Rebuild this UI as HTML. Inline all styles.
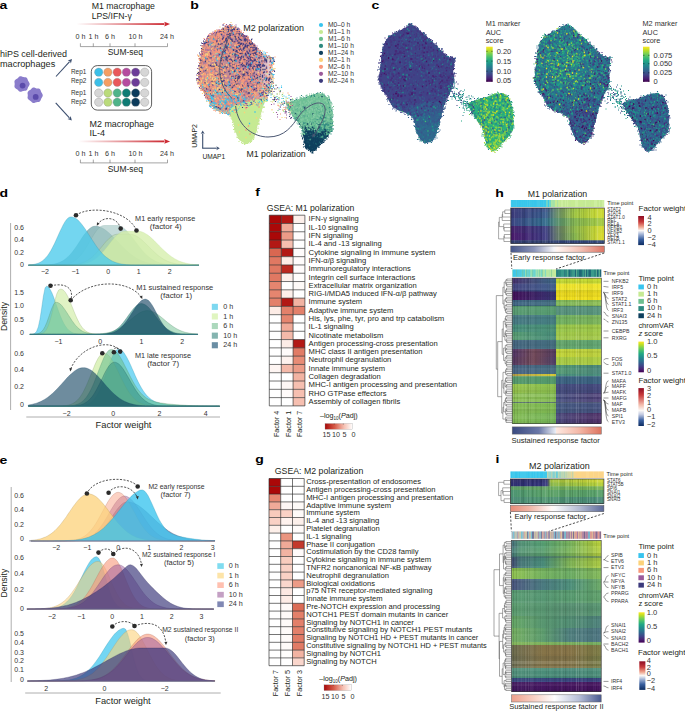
<!DOCTYPE html>
<html><head><meta charset="utf-8"><style>
html,body{margin:0;padding:0;background:#fff;width:685px;height:712px;overflow:hidden}
svg{display:block;font-family:"Liberation Sans",sans-serif}
</style></head><body>
<svg width="685" height="712" viewBox="0 0 685 712" font-family="Liberation Sans, sans-serif" fill="#231f20"><defs><linearGradient id="g1" x1="0" y1="0" x2="1" y2="0"><stop offset="0" stop-color="#cc2a32" stop-opacity="0"/><stop offset=".35" stop-color="#cc2a32" stop-opacity="0.35"/><stop offset="1" stop-color="#cc2a32" stop-opacity="1"/></linearGradient><linearGradient id="g2" x1="0" y1="0" x2="1" y2="0"><stop offset="0" stop-color="#cc2a32" stop-opacity="0"/><stop offset=".35" stop-color="#cc2a32" stop-opacity="0.35"/><stop offset="1" stop-color="#cc2a32" stop-opacity="1"/></linearGradient><linearGradient id="g3" x1="0" y1="0" x2="1" y2="0"><stop offset="0" stop-color="#c48e94" stop-opacity="1"/><stop offset=".72" stop-color="#c48e94" stop-opacity="1"/><stop offset="1" stop-color="#c48e94" stop-opacity="0.25"/></linearGradient><linearGradient id="g4" x1="0" y1="0" x2="0" y2="1"><stop offset="0" stop-color="#7cc49c"/><stop offset=".45" stop-color="#5aa890"/><stop offset=".62" stop-color="#3a8a84"/><stop offset=".75" stop-color="#1e5c70"/><stop offset="1" stop-color="#0e3f5d"/></linearGradient><linearGradient id="g5" x1="0" y1="0" x2="0" y2="1"><stop offset="0" stop-color="#fde724"/><stop offset=".1" stop-color="#bdde26"/><stop offset=".2" stop-color="#79d151"/><stop offset=".3" stop-color="#44be70"/><stop offset=".4" stop-color="#22a784"/><stop offset=".5" stop-color="#20908c"/><stop offset=".6" stop-color="#29788e"/><stop offset=".7" stop-color="#345e8d"/><stop offset=".8" stop-color="#404387"/><stop offset=".9" stop-color="#482374"/><stop offset="1" stop-color="#440154"/></linearGradient><linearGradient id="g6" x1="0" y1="0" x2="0" y2="1"><stop offset="0" stop-color="#fde724"/><stop offset=".1" stop-color="#bdde26"/><stop offset=".2" stop-color="#79d151"/><stop offset=".3" stop-color="#44be70"/><stop offset=".4" stop-color="#22a784"/><stop offset=".5" stop-color="#20908c"/><stop offset=".6" stop-color="#29788e"/><stop offset=".7" stop-color="#345e8d"/><stop offset=".8" stop-color="#404387"/><stop offset=".9" stop-color="#482374"/><stop offset="1" stop-color="#440154"/></linearGradient><linearGradient id="g7" x1="0" y1="0" x2="1" y2="0"><stop offset="0" stop-color="#a50808"/><stop offset=".35" stop-color="#d65a48"/><stop offset=".7" stop-color="#f6c2b4"/><stop offset="1" stop-color="#ffffff"/></linearGradient><linearGradient id="g8" x1="0" y1="0" x2="1" y2="0"><stop offset="0" stop-color="#a50808"/><stop offset=".35" stop-color="#d65a48"/><stop offset=".7" stop-color="#f6c2b4"/><stop offset="1" stop-color="#ffffff"/></linearGradient><linearGradient id="g9" x1="0" y1="0" x2="1" y2="0"><stop offset="0" stop-color="#000" stop-opacity="0.125"/><stop offset=".0104" stop-color="#000" stop-opacity="0.125"/><stop offset=".0105" stop-color="#000" stop-opacity="0.031"/><stop offset=".021" stop-color="#000" stop-opacity="0.031"/><stop offset=".0211" stop-color="#000" stop-opacity="0.007"/><stop offset=".0315" stop-color="#000" stop-opacity="0.007"/><stop offset=".0316" stop-color="#fff" stop-opacity="0.13"/><stop offset=".042" stop-color="#fff" stop-opacity="0.13"/><stop offset=".0421" stop-color="#fff" stop-opacity="0.019"/><stop offset=".0525" stop-color="#fff" stop-opacity="0.019"/><stop offset=".0526" stop-color="#fff" stop-opacity="0.025"/><stop offset=".0631" stop-color="#fff" stop-opacity="0.025"/><stop offset=".0632" stop-color="#fff" stop-opacity="0.006"/><stop offset=".0736" stop-color="#fff" stop-opacity="0.006"/><stop offset=".0737" stop-color="#fff" stop-opacity="0.044"/><stop offset=".0841" stop-color="#fff" stop-opacity="0.044"/><stop offset=".0842" stop-color="#fff" stop-opacity="0.003"/><stop offset=".0946" stop-color="#fff" stop-opacity="0.003"/><stop offset=".0947" stop-color="#fff" stop-opacity="0.033"/><stop offset=".1052" stop-color="#fff" stop-opacity="0.033"/><stop offset=".1053" stop-color="#fff" stop-opacity="0.092"/><stop offset=".1157" stop-color="#fff" stop-opacity="0.092"/><stop offset=".1158" stop-color="#000" stop-opacity="0.062"/><stop offset=".1262" stop-color="#000" stop-opacity="0.062"/><stop offset=".1263" stop-color="#000" stop-opacity="0.062"/><stop offset=".1367" stop-color="#000" stop-opacity="0.062"/><stop offset=".1368" stop-color="#000" stop-opacity="0.12"/><stop offset=".1473" stop-color="#000" stop-opacity="0.12"/><stop offset=".1474" stop-color="#000" stop-opacity="0.004"/><stop offset=".1578" stop-color="#000" stop-opacity="0.004"/><stop offset=".1579" stop-color="#fff" stop-opacity="0.028"/><stop offset=".1683" stop-color="#fff" stop-opacity="0.028"/><stop offset=".1684" stop-color="#fff" stop-opacity="0.038"/><stop offset=".1788" stop-color="#fff" stop-opacity="0.038"/><stop offset=".1789" stop-color="#fff" stop-opacity="0.108"/><stop offset=".1894" stop-color="#fff" stop-opacity="0.108"/><stop offset=".1895" stop-color="#000" stop-opacity="0.069"/><stop offset=".1999" stop-color="#000" stop-opacity="0.069"/><stop offset=".2" stop-color="#fff" stop-opacity="0.077"/><stop offset=".2104" stop-color="#fff" stop-opacity="0.077"/><stop offset=".2105" stop-color="#fff" stop-opacity="0.083"/><stop offset=".221" stop-color="#fff" stop-opacity="0.083"/><stop offset=".2211" stop-color="#fff" stop-opacity="0.014"/><stop offset=".2315" stop-color="#fff" stop-opacity="0.014"/><stop offset=".2316" stop-color="#000" stop-opacity="0.104"/><stop offset=".242" stop-color="#000" stop-opacity="0.104"/><stop offset=".2421" stop-color="#000" stop-opacity="0.017"/><stop offset=".2525" stop-color="#000" stop-opacity="0.017"/><stop offset=".2526" stop-color="#fff" stop-opacity="0.072"/><stop offset=".2631" stop-color="#fff" stop-opacity="0.072"/><stop offset=".2632" stop-color="#fff" stop-opacity="0.05"/><stop offset=".2736" stop-color="#fff" stop-opacity="0.05"/><stop offset=".2737" stop-color="#000" stop-opacity="0.044"/><stop offset=".2841" stop-color="#000" stop-opacity="0.044"/><stop offset=".2842" stop-color="#fff" stop-opacity="0.011"/><stop offset=".2946" stop-color="#fff" stop-opacity="0.011"/><stop offset=".2947" stop-color="#fff" stop-opacity="0.054"/><stop offset=".3052" stop-color="#fff" stop-opacity="0.054"/><stop offset=".3053" stop-color="#fff" stop-opacity="0.016"/><stop offset=".3157" stop-color="#fff" stop-opacity="0.016"/><stop offset=".3158" stop-color="#000" stop-opacity="0.052"/><stop offset=".3262" stop-color="#000" stop-opacity="0.052"/><stop offset=".3263" stop-color="#000" stop-opacity="0.138"/><stop offset=".3367" stop-color="#000" stop-opacity="0.138"/><stop offset=".3368" stop-color="#fff" stop-opacity="0.087"/><stop offset=".3473" stop-color="#fff" stop-opacity="0.087"/><stop offset=".3474" stop-color="#fff" stop-opacity="0.044"/><stop offset=".3578" stop-color="#fff" stop-opacity="0.044"/><stop offset=".3579" stop-color="#fff" stop-opacity="0.056"/><stop offset=".3683" stop-color="#fff" stop-opacity="0.056"/><stop offset=".3684" stop-color="#fff" stop-opacity="0.169"/><stop offset=".3788" stop-color="#fff" stop-opacity="0.169"/><stop offset=".3789" stop-color="#fff" stop-opacity="0.065"/><stop offset=".3894" stop-color="#fff" stop-opacity="0.065"/><stop offset=".3895" stop-color="#fff" stop-opacity="0.072"/><stop offset=".3999" stop-color="#fff" stop-opacity="0.072"/><stop offset=".4" stop-color="#000" stop-opacity="0.079"/><stop offset=".4104" stop-color="#000" stop-opacity="0.079"/><stop offset=".4105" stop-color="#fff" stop-opacity="0.009"/><stop offset=".421" stop-color="#fff" stop-opacity="0.009"/><stop offset=".4211" stop-color="#fff" stop-opacity="0.114"/><stop offset=".4315" stop-color="#fff" stop-opacity="0.114"/><stop offset=".4316" stop-color="#000" stop-opacity="0.045"/><stop offset=".442" stop-color="#000" stop-opacity="0.045"/><stop offset=".4421" stop-color="#fff" stop-opacity="0.025"/><stop offset=".4525" stop-color="#fff" stop-opacity="0.025"/><stop offset=".4526" stop-color="#fff" stop-opacity="0.122"/><stop offset=".4631" stop-color="#fff" stop-opacity="0.122"/><stop offset=".4632" stop-color="#fff" stop-opacity="0.042"/><stop offset=".4736" stop-color="#fff" stop-opacity="0.042"/><stop offset=".4737" stop-color="#fff" stop-opacity="0.041"/><stop offset=".4841" stop-color="#fff" stop-opacity="0.041"/><stop offset=".4842" stop-color="#fff" stop-opacity="0.061"/><stop offset=".4946" stop-color="#fff" stop-opacity="0.061"/><stop offset=".4947" stop-color="#000" stop-opacity="0.002"/><stop offset=".5052" stop-color="#000" stop-opacity="0.002"/><stop offset=".5053" stop-color="#fff" stop-opacity="0.157"/><stop offset=".5157" stop-color="#fff" stop-opacity="0.157"/><stop offset=".5158" stop-color="#fff" stop-opacity="0.019"/><stop offset=".5262" stop-color="#fff" stop-opacity="0.019"/><stop offset=".5263" stop-color="#000" stop-opacity="0.071"/><stop offset=".5367" stop-color="#000" stop-opacity="0.071"/><stop offset=".5368" stop-color="#000" stop-opacity="0.06"/><stop offset=".5473" stop-color="#000" stop-opacity="0.06"/><stop offset=".5474" stop-color="#000" stop-opacity="0.078"/><stop offset=".5578" stop-color="#000" stop-opacity="0.078"/><stop offset=".5579" stop-color="#000" stop-opacity="0.078"/><stop offset=".5683" stop-color="#000" stop-opacity="0.078"/><stop offset=".5684" stop-color="#000" stop-opacity="0.104"/><stop offset=".5788" stop-color="#000" stop-opacity="0.104"/><stop offset=".5789" stop-color="#fff" stop-opacity="0.078"/><stop offset=".5894" stop-color="#fff" stop-opacity="0.078"/><stop offset=".5895" stop-color="#000" stop-opacity="0.059"/><stop offset=".5999" stop-color="#000" stop-opacity="0.059"/><stop offset=".6" stop-color="#fff" stop-opacity="0.13"/><stop offset=".6104" stop-color="#fff" stop-opacity="0.13"/><stop offset=".6105" stop-color="#fff" stop-opacity="0.042"/><stop offset=".621" stop-color="#fff" stop-opacity="0.042"/><stop offset=".6211" stop-color="#fff" stop-opacity="0.134"/><stop offset=".6315" stop-color="#fff" stop-opacity="0.134"/><stop offset=".6316" stop-color="#000" stop-opacity="0.073"/><stop offset=".642" stop-color="#000" stop-opacity="0.073"/><stop offset=".6421" stop-color="#000" stop-opacity="0.093"/><stop offset=".6525" stop-color="#000" stop-opacity="0.093"/><stop offset=".6526" stop-color="#fff" stop-opacity="0.014"/><stop offset=".6631" stop-color="#fff" stop-opacity="0.014"/><stop offset=".6632" stop-color="#000" stop-opacity="0.124"/><stop offset=".6736" stop-color="#000" stop-opacity="0.124"/><stop offset=".6737" stop-color="#fff" stop-opacity="0.047"/><stop offset=".6841" stop-color="#fff" stop-opacity="0.047"/><stop offset=".6842" stop-color="#000" stop-opacity="0.011"/><stop offset=".6946" stop-color="#000" stop-opacity="0.011"/><stop offset=".6947" stop-color="#000" stop-opacity="0.011"/><stop offset=".7052" stop-color="#000" stop-opacity="0.011"/><stop offset=".7053" stop-color="#fff" stop-opacity="0.074"/><stop offset=".7157" stop-color="#fff" stop-opacity="0.074"/><stop offset=".7158" stop-color="#000" stop-opacity="0.031"/><stop offset=".7262" stop-color="#000" stop-opacity="0.031"/><stop offset=".7263" stop-color="#000" stop-opacity="0.136"/><stop offset=".7367" stop-color="#000" stop-opacity="0.136"/><stop offset=".7368" stop-color="#fff" stop-opacity="0.072"/><stop offset=".7473" stop-color="#fff" stop-opacity="0.072"/><stop offset=".7474" stop-color="#000" stop-opacity="0.063"/><stop offset=".7578" stop-color="#000" stop-opacity="0.063"/><stop offset=".7579" stop-color="#fff" stop-opacity="0.011"/><stop offset=".7683" stop-color="#fff" stop-opacity="0.011"/><stop offset=".7684" stop-color="#000" stop-opacity="0.124"/><stop offset=".7788" stop-color="#000" stop-opacity="0.124"/><stop offset=".7789" stop-color="#000" stop-opacity="0.034"/><stop offset=".7894" stop-color="#000" stop-opacity="0.034"/><stop offset=".7895" stop-color="#000" stop-opacity="0.047"/><stop offset=".7999" stop-color="#000" stop-opacity="0.047"/><stop offset=".8" stop-color="#000" stop-opacity="0.045"/><stop offset=".8104" stop-color="#000" stop-opacity="0.045"/><stop offset=".8105" stop-color="#000" stop-opacity="0.017"/><stop offset=".821" stop-color="#000" stop-opacity="0.017"/><stop offset=".8211" stop-color="#fff" stop-opacity="0.098"/><stop offset=".8315" stop-color="#fff" stop-opacity="0.098"/><stop offset=".8316" stop-color="#000" stop-opacity="0.097"/><stop offset=".842" stop-color="#000" stop-opacity="0.097"/><stop offset=".8421" stop-color="#fff" stop-opacity="0.096"/><stop offset=".8525" stop-color="#fff" stop-opacity="0.096"/><stop offset=".8526" stop-color="#000" stop-opacity="0.017"/><stop offset=".8631" stop-color="#000" stop-opacity="0.017"/><stop offset=".8632" stop-color="#000" stop-opacity="0.043"/><stop offset=".8736" stop-color="#000" stop-opacity="0.043"/><stop offset=".8737" stop-color="#fff" stop-opacity="0.059"/><stop offset=".8841" stop-color="#fff" stop-opacity="0.059"/><stop offset=".8842" stop-color="#000" stop-opacity="0.01"/><stop offset=".8946" stop-color="#000" stop-opacity="0.01"/><stop offset=".8947" stop-color="#000" stop-opacity="0.082"/><stop offset=".9052" stop-color="#000" stop-opacity="0.082"/><stop offset=".9053" stop-color="#fff" stop-opacity="0.002"/><stop offset=".9157" stop-color="#fff" stop-opacity="0.002"/><stop offset=".9158" stop-color="#fff" stop-opacity="0.062"/><stop offset=".9262" stop-color="#fff" stop-opacity="0.062"/><stop offset=".9263" stop-color="#fff" stop-opacity="0.204"/><stop offset=".9367" stop-color="#fff" stop-opacity="0.204"/><stop offset=".9368" stop-color="#fff" stop-opacity="0.068"/><stop offset=".9473" stop-color="#fff" stop-opacity="0.068"/><stop offset=".9474" stop-color="#fff" stop-opacity="0.041"/><stop offset=".9578" stop-color="#fff" stop-opacity="0.041"/><stop offset=".9579" stop-color="#fff" stop-opacity="0.036"/><stop offset=".9683" stop-color="#fff" stop-opacity="0.036"/><stop offset=".9684" stop-color="#fff" stop-opacity="0.067"/><stop offset=".9788" stop-color="#fff" stop-opacity="0.067"/><stop offset=".9789" stop-color="#000" stop-opacity="0.026"/><stop offset=".9894" stop-color="#000" stop-opacity="0.026"/><stop offset=".9895" stop-color="#fff" stop-opacity="0.04"/><stop offset=".9999" stop-color="#fff" stop-opacity="0.04"/></linearGradient><linearGradient id="g10" x1="0" y1="0" x2="1" y2="0"><stop offset="0" stop-color="#000" stop-opacity="0.026"/><stop offset=".0104" stop-color="#000" stop-opacity="0.026"/><stop offset=".0105" stop-color="#fff" stop-opacity="0.02"/><stop offset=".021" stop-color="#fff" stop-opacity="0.02"/><stop offset=".0211" stop-color="#000" stop-opacity="0.146"/><stop offset=".0315" stop-color="#000" stop-opacity="0.146"/><stop offset=".0316" stop-color="#fff" stop-opacity="0.015"/><stop offset=".042" stop-color="#fff" stop-opacity="0.015"/><stop offset=".0421" stop-color="#000" stop-opacity="0.007"/><stop offset=".0525" stop-color="#000" stop-opacity="0.007"/><stop offset=".0526" stop-color="#000" stop-opacity="0.095"/><stop offset=".0631" stop-color="#000" stop-opacity="0.095"/><stop offset=".0632" stop-color="#fff" stop-opacity="0.055"/><stop offset=".0736" stop-color="#fff" stop-opacity="0.055"/><stop offset=".0737" stop-color="#fff" stop-opacity="0.035"/><stop offset=".0841" stop-color="#fff" stop-opacity="0.035"/><stop offset=".0842" stop-color="#000" stop-opacity="0.011"/><stop offset=".0946" stop-color="#000" stop-opacity="0.011"/><stop offset=".0947" stop-color="#fff" stop-opacity="0.02"/><stop offset=".1052" stop-color="#fff" stop-opacity="0.02"/><stop offset=".1053" stop-color="#fff" stop-opacity="0.072"/><stop offset=".1157" stop-color="#fff" stop-opacity="0.072"/><stop offset=".1158" stop-color="#fff" stop-opacity="0.012"/><stop offset=".1262" stop-color="#fff" stop-opacity="0.012"/><stop offset=".1263" stop-color="#fff" stop-opacity="0.022"/><stop offset=".1367" stop-color="#fff" stop-opacity="0.022"/><stop offset=".1368" stop-color="#000" stop-opacity="0.036"/><stop offset=".1473" stop-color="#000" stop-opacity="0.036"/><stop offset=".1474" stop-color="#fff" stop-opacity="0.1"/><stop offset=".1578" stop-color="#fff" stop-opacity="0.1"/><stop offset=".1579" stop-color="#fff" stop-opacity="0.042"/><stop offset=".1683" stop-color="#fff" stop-opacity="0.042"/><stop offset=".1684" stop-color="#000" stop-opacity="0.069"/><stop offset=".1788" stop-color="#000" stop-opacity="0.069"/><stop offset=".1789" stop-color="#000" stop-opacity="0.111"/><stop offset=".1894" stop-color="#000" stop-opacity="0.111"/><stop offset=".1895" stop-color="#fff" stop-opacity="0.091"/><stop offset=".1999" stop-color="#fff" stop-opacity="0.091"/><stop offset=".2" stop-color="#000" stop-opacity="0.039"/><stop offset=".2104" stop-color="#000" stop-opacity="0.039"/><stop offset=".2105" stop-color="#fff" stop-opacity="0.059"/><stop offset=".221" stop-color="#fff" stop-opacity="0.059"/><stop offset=".2211" stop-color="#fff" stop-opacity="0.051"/><stop offset=".2315" stop-color="#fff" stop-opacity="0.051"/><stop offset=".2316" stop-color="#fff" stop-opacity="0.052"/><stop offset=".242" stop-color="#fff" stop-opacity="0.052"/><stop offset=".2421" stop-color="#fff" stop-opacity="0.025"/><stop offset=".2525" stop-color="#fff" stop-opacity="0.025"/><stop offset=".2526" stop-color="#000" stop-opacity="0.06"/><stop offset=".2631" stop-color="#000" stop-opacity="0.06"/><stop offset=".2632" stop-color="#000" stop-opacity="0.043"/><stop offset=".2736" stop-color="#000" stop-opacity="0.043"/><stop offset=".2737" stop-color="#000" stop-opacity="0.004"/><stop offset=".2841" stop-color="#000" stop-opacity="0.004"/><stop offset=".2842" stop-color="#fff" stop-opacity="0.022"/><stop offset=".2946" stop-color="#fff" stop-opacity="0.022"/><stop offset=".2947" stop-color="#000" stop-opacity="0.0"/><stop offset=".3052" stop-color="#000" stop-opacity="0.0"/><stop offset=".3053" stop-color="#fff" stop-opacity="0.006"/><stop offset=".3157" stop-color="#fff" stop-opacity="0.006"/><stop offset=".3158" stop-color="#000" stop-opacity="0.048"/><stop offset=".3262" stop-color="#000" stop-opacity="0.048"/><stop offset=".3263" stop-color="#fff" stop-opacity="0.038"/><stop offset=".3367" stop-color="#fff" stop-opacity="0.038"/><stop offset=".3368" stop-color="#fff" stop-opacity="0.0"/><stop offset=".3473" stop-color="#fff" stop-opacity="0.0"/><stop offset=".3474" stop-color="#fff" stop-opacity="0.006"/><stop offset=".3578" stop-color="#fff" stop-opacity="0.006"/><stop offset=".3579" stop-color="#fff" stop-opacity="0.003"/><stop offset=".3683" stop-color="#fff" stop-opacity="0.003"/><stop offset=".3684" stop-color="#000" stop-opacity="0.015"/><stop offset=".3788" stop-color="#000" stop-opacity="0.015"/><stop offset=".3789" stop-color="#000" stop-opacity="0.012"/><stop offset=".3894" stop-color="#000" stop-opacity="0.012"/><stop offset=".3895" stop-color="#000" stop-opacity="0.08"/><stop offset=".3999" stop-color="#000" stop-opacity="0.08"/><stop offset=".4" stop-color="#fff" stop-opacity="0.005"/><stop offset=".4104" stop-color="#fff" stop-opacity="0.005"/><stop offset=".4105" stop-color="#000" stop-opacity="0.094"/><stop offset=".421" stop-color="#000" stop-opacity="0.094"/><stop offset=".4211" stop-color="#fff" stop-opacity="0.018"/><stop offset=".4315" stop-color="#fff" stop-opacity="0.018"/><stop offset=".4316" stop-color="#fff" stop-opacity="0.029"/><stop offset=".442" stop-color="#fff" stop-opacity="0.029"/><stop offset=".4421" stop-color="#000" stop-opacity="0.006"/><stop offset=".4525" stop-color="#000" stop-opacity="0.006"/><stop offset=".4526" stop-color="#000" stop-opacity="0.021"/><stop offset=".4631" stop-color="#000" stop-opacity="0.021"/><stop offset=".4632" stop-color="#000" stop-opacity="0.016"/><stop offset=".4736" stop-color="#000" stop-opacity="0.016"/><stop offset=".4737" stop-color="#000" stop-opacity="0.078"/><stop offset=".4841" stop-color="#000" stop-opacity="0.078"/><stop offset=".4842" stop-color="#000" stop-opacity="0.068"/><stop offset=".4946" stop-color="#000" stop-opacity="0.068"/><stop offset=".4947" stop-color="#000" stop-opacity="0.03"/><stop offset=".5052" stop-color="#000" stop-opacity="0.03"/><stop offset=".5053" stop-color="#fff" stop-opacity="0.02"/><stop offset=".5157" stop-color="#fff" stop-opacity="0.02"/><stop offset=".5158" stop-color="#fff" stop-opacity="0.006"/><stop offset=".5262" stop-color="#fff" stop-opacity="0.006"/><stop offset=".5263" stop-color="#000" stop-opacity="0.085"/><stop offset=".5367" stop-color="#000" stop-opacity="0.085"/><stop offset=".5368" stop-color="#000" stop-opacity="0.013"/><stop offset=".5473" stop-color="#000" stop-opacity="0.013"/><stop offset=".5474" stop-color="#fff" stop-opacity="0.079"/><stop offset=".5578" stop-color="#fff" stop-opacity="0.079"/><stop offset=".5579" stop-color="#fff" stop-opacity="0.041"/><stop offset=".5683" stop-color="#fff" stop-opacity="0.041"/><stop offset=".5684" stop-color="#fff" stop-opacity="0.035"/><stop offset=".5788" stop-color="#fff" stop-opacity="0.035"/><stop offset=".5789" stop-color="#000" stop-opacity="0.069"/><stop offset=".5894" stop-color="#000" stop-opacity="0.069"/><stop offset=".5895" stop-color="#fff" stop-opacity="0.006"/><stop offset=".5999" stop-color="#fff" stop-opacity="0.006"/><stop offset=".6" stop-color="#000" stop-opacity="0.136"/><stop offset=".6104" stop-color="#000" stop-opacity="0.136"/><stop offset=".6105" stop-color="#000" stop-opacity="0.039"/><stop offset=".621" stop-color="#000" stop-opacity="0.039"/><stop offset=".6211" stop-color="#000" stop-opacity="0.007"/><stop offset=".6315" stop-color="#000" stop-opacity="0.007"/><stop offset=".6316" stop-color="#fff" stop-opacity="0.026"/><stop offset=".642" stop-color="#fff" stop-opacity="0.026"/><stop offset=".6421" stop-color="#000" stop-opacity="0.058"/><stop offset=".6525" stop-color="#000" stop-opacity="0.058"/><stop offset=".6526" stop-color="#fff" stop-opacity="0.014"/><stop offset=".6631" stop-color="#fff" stop-opacity="0.014"/><stop offset=".6632" stop-color="#fff" stop-opacity="0.049"/><stop offset=".6736" stop-color="#fff" stop-opacity="0.049"/><stop offset=".6737" stop-color="#000" stop-opacity="0.034"/><stop offset=".6841" stop-color="#000" stop-opacity="0.034"/><stop offset=".6842" stop-color="#000" stop-opacity="0.001"/><stop offset=".6946" stop-color="#000" stop-opacity="0.001"/><stop offset=".6947" stop-color="#000" stop-opacity="0.071"/><stop offset=".7052" stop-color="#000" stop-opacity="0.071"/><stop offset=".7053" stop-color="#fff" stop-opacity="0.004"/><stop offset=".7157" stop-color="#fff" stop-opacity="0.004"/><stop offset=".7158" stop-color="#fff" stop-opacity="0.172"/><stop offset=".7262" stop-color="#fff" stop-opacity="0.172"/><stop offset=".7263" stop-color="#000" stop-opacity="0.047"/><stop offset=".7367" stop-color="#000" stop-opacity="0.047"/><stop offset=".7368" stop-color="#fff" stop-opacity="0.113"/><stop offset=".7473" stop-color="#fff" stop-opacity="0.113"/><stop offset=".7474" stop-color="#000" stop-opacity="0.092"/><stop offset=".7578" stop-color="#000" stop-opacity="0.092"/><stop offset=".7579" stop-color="#000" stop-opacity="0.109"/><stop offset=".7683" stop-color="#000" stop-opacity="0.109"/><stop offset=".7684" stop-color="#fff" stop-opacity="0.026"/><stop offset=".7788" stop-color="#fff" stop-opacity="0.026"/><stop offset=".7789" stop-color="#fff" stop-opacity="0.07"/><stop offset=".7894" stop-color="#fff" stop-opacity="0.07"/><stop offset=".7895" stop-color="#fff" stop-opacity="0.084"/><stop offset=".7999" stop-color="#fff" stop-opacity="0.084"/><stop offset=".8" stop-color="#000" stop-opacity="0.052"/><stop offset=".8104" stop-color="#000" stop-opacity="0.052"/><stop offset=".8105" stop-color="#fff" stop-opacity="0.012"/><stop offset=".821" stop-color="#fff" stop-opacity="0.012"/><stop offset=".8211" stop-color="#fff" stop-opacity="0.036"/><stop offset=".8315" stop-color="#fff" stop-opacity="0.036"/><stop offset=".8316" stop-color="#fff" stop-opacity="0.015"/><stop offset=".842" stop-color="#fff" stop-opacity="0.015"/><stop offset=".8421" stop-color="#000" stop-opacity="0.125"/><stop offset=".8525" stop-color="#000" stop-opacity="0.125"/><stop offset=".8526" stop-color="#000" stop-opacity="0.021"/><stop offset=".8631" stop-color="#000" stop-opacity="0.021"/><stop offset=".8632" stop-color="#000" stop-opacity="0.045"/><stop offset=".8736" stop-color="#000" stop-opacity="0.045"/><stop offset=".8737" stop-color="#000" stop-opacity="0.047"/><stop offset=".8841" stop-color="#000" stop-opacity="0.047"/><stop offset=".8842" stop-color="#000" stop-opacity="0.061"/><stop offset=".8946" stop-color="#000" stop-opacity="0.061"/><stop offset=".8947" stop-color="#000" stop-opacity="0.064"/><stop offset=".9052" stop-color="#000" stop-opacity="0.064"/><stop offset=".9053" stop-color="#fff" stop-opacity="0.043"/><stop offset=".9157" stop-color="#fff" stop-opacity="0.043"/><stop offset=".9158" stop-color="#fff" stop-opacity="0.013"/><stop offset=".9262" stop-color="#fff" stop-opacity="0.013"/><stop offset=".9263" stop-color="#fff" stop-opacity="0.046"/><stop offset=".9367" stop-color="#fff" stop-opacity="0.046"/><stop offset=".9368" stop-color="#fff" stop-opacity="0.043"/><stop offset=".9473" stop-color="#fff" stop-opacity="0.043"/><stop offset=".9474" stop-color="#000" stop-opacity="0.068"/><stop offset=".9578" stop-color="#000" stop-opacity="0.068"/><stop offset=".9579" stop-color="#fff" stop-opacity="0.03"/><stop offset=".9683" stop-color="#fff" stop-opacity="0.03"/><stop offset=".9684" stop-color="#fff" stop-opacity="0.005"/><stop offset=".9788" stop-color="#fff" stop-opacity="0.005"/><stop offset=".9789" stop-color="#fff" stop-opacity="0.042"/><stop offset=".9894" stop-color="#fff" stop-opacity="0.042"/><stop offset=".9895" stop-color="#fff" stop-opacity="0.036"/><stop offset=".9999" stop-color="#fff" stop-opacity="0.036"/></linearGradient><linearGradient id="g11" x1="0" y1="0" x2="0" y2="1"><stop offset="0" stop-color="#000" stop-opacity="0.003"/><stop offset=".0166" stop-color="#000" stop-opacity="0.003"/><stop offset=".0167" stop-color="#000" stop-opacity="0.038"/><stop offset=".0332" stop-color="#000" stop-opacity="0.038"/><stop offset=".0333" stop-color="#fff" stop-opacity="0.068"/><stop offset=".0499" stop-color="#fff" stop-opacity="0.068"/><stop offset=".05" stop-color="#fff" stop-opacity="0.049"/><stop offset=".0666" stop-color="#fff" stop-opacity="0.049"/><stop offset=".0667" stop-color="#fff" stop-opacity="0.08"/><stop offset=".0832" stop-color="#fff" stop-opacity="0.08"/><stop offset=".0833" stop-color="#000" stop-opacity="0.084"/><stop offset=".0999" stop-color="#000" stop-opacity="0.084"/><stop offset=".1" stop-color="#000" stop-opacity="0.06"/><stop offset=".1166" stop-color="#000" stop-opacity="0.06"/><stop offset=".1167" stop-color="#000" stop-opacity="0.077"/><stop offset=".1332" stop-color="#000" stop-opacity="0.077"/><stop offset=".1333" stop-color="#000" stop-opacity="0.028"/><stop offset=".1499" stop-color="#000" stop-opacity="0.028"/><stop offset=".15" stop-color="#000" stop-opacity="0.034"/><stop offset=".1666" stop-color="#000" stop-opacity="0.034"/><stop offset=".1667" stop-color="#fff" stop-opacity="0.041"/><stop offset=".1832" stop-color="#fff" stop-opacity="0.041"/><stop offset=".1833" stop-color="#000" stop-opacity="0.067"/><stop offset=".1999" stop-color="#000" stop-opacity="0.067"/><stop offset=".2" stop-color="#fff" stop-opacity="0.039"/><stop offset=".2166" stop-color="#fff" stop-opacity="0.039"/><stop offset=".2167" stop-color="#fff" stop-opacity="0.023"/><stop offset=".2332" stop-color="#fff" stop-opacity="0.023"/><stop offset=".2333" stop-color="#fff" stop-opacity="0.013"/><stop offset=".2499" stop-color="#fff" stop-opacity="0.013"/><stop offset=".25" stop-color="#fff" stop-opacity="0.028"/><stop offset=".2666" stop-color="#fff" stop-opacity="0.028"/><stop offset=".2667" stop-color="#000" stop-opacity="0.03"/><stop offset=".2832" stop-color="#000" stop-opacity="0.03"/><stop offset=".2833" stop-color="#fff" stop-opacity="0.008"/><stop offset=".2999" stop-color="#fff" stop-opacity="0.008"/><stop offset=".3" stop-color="#fff" stop-opacity="0.002"/><stop offset=".3166" stop-color="#fff" stop-opacity="0.002"/><stop offset=".3167" stop-color="#fff" stop-opacity="0.007"/><stop offset=".3332" stop-color="#fff" stop-opacity="0.007"/><stop offset=".3333" stop-color="#000" stop-opacity="0.047"/><stop offset=".3499" stop-color="#000" stop-opacity="0.047"/><stop offset=".35" stop-color="#fff" stop-opacity="0.021"/><stop offset=".3666" stop-color="#fff" stop-opacity="0.021"/><stop offset=".3667" stop-color="#fff" stop-opacity="0.006"/><stop offset=".3832" stop-color="#fff" stop-opacity="0.006"/><stop offset=".3833" stop-color="#000" stop-opacity="0.015"/><stop offset=".3999" stop-color="#000" stop-opacity="0.015"/><stop offset=".4" stop-color="#fff" stop-opacity="0.058"/><stop offset=".4166" stop-color="#fff" stop-opacity="0.058"/><stop offset=".4167" stop-color="#fff" stop-opacity="0.017"/><stop offset=".4332" stop-color="#fff" stop-opacity="0.017"/><stop offset=".4333" stop-color="#000" stop-opacity="0.019"/><stop offset=".4499" stop-color="#000" stop-opacity="0.019"/><stop offset=".45" stop-color="#000" stop-opacity="0.041"/><stop offset=".4666" stop-color="#000" stop-opacity="0.041"/><stop offset=".4667" stop-color="#000" stop-opacity="0.006"/><stop offset=".4832" stop-color="#000" stop-opacity="0.006"/><stop offset=".4833" stop-color="#fff" stop-opacity="0.024"/><stop offset=".4999" stop-color="#fff" stop-opacity="0.024"/><stop offset=".5" stop-color="#000" stop-opacity="0.05"/><stop offset=".5166" stop-color="#000" stop-opacity="0.05"/><stop offset=".5167" stop-color="#fff" stop-opacity="0.008"/><stop offset=".5332" stop-color="#fff" stop-opacity="0.008"/><stop offset=".5333" stop-color="#000" stop-opacity="0.001"/><stop offset=".5499" stop-color="#000" stop-opacity="0.001"/><stop offset=".55" stop-color="#000" stop-opacity="0.006"/><stop offset=".5666" stop-color="#000" stop-opacity="0.006"/><stop offset=".5667" stop-color="#fff" stop-opacity="0.002"/><stop offset=".5832" stop-color="#fff" stop-opacity="0.002"/><stop offset=".5833" stop-color="#fff" stop-opacity="0.019"/><stop offset=".5999" stop-color="#fff" stop-opacity="0.019"/><stop offset=".6" stop-color="#000" stop-opacity="0.017"/><stop offset=".6166" stop-color="#000" stop-opacity="0.017"/><stop offset=".6167" stop-color="#fff" stop-opacity="0.041"/><stop offset=".6332" stop-color="#fff" stop-opacity="0.041"/><stop offset=".6333" stop-color="#fff" stop-opacity="0.018"/><stop offset=".6499" stop-color="#fff" stop-opacity="0.018"/><stop offset=".65" stop-color="#fff" stop-opacity="0.014"/><stop offset=".6666" stop-color="#fff" stop-opacity="0.014"/><stop offset=".6667" stop-color="#fff" stop-opacity="0.033"/><stop offset=".6832" stop-color="#fff" stop-opacity="0.033"/><stop offset=".6833" stop-color="#000" stop-opacity="0.003"/><stop offset=".6999" stop-color="#000" stop-opacity="0.003"/><stop offset=".7" stop-color="#000" stop-opacity="0.005"/><stop offset=".7166" stop-color="#000" stop-opacity="0.005"/><stop offset=".7167" stop-color="#000" stop-opacity="0.003"/><stop offset=".7332" stop-color="#000" stop-opacity="0.003"/><stop offset=".7333" stop-color="#fff" stop-opacity="0.005"/><stop offset=".7499" stop-color="#fff" stop-opacity="0.005"/><stop offset=".75" stop-color="#000" stop-opacity="0.019"/><stop offset=".7666" stop-color="#000" stop-opacity="0.019"/><stop offset=".7667" stop-color="#000" stop-opacity="0.06"/><stop offset=".7832" stop-color="#000" stop-opacity="0.06"/><stop offset=".7833" stop-color="#000" stop-opacity="0.035"/><stop offset=".7999" stop-color="#000" stop-opacity="0.035"/><stop offset=".8" stop-color="#fff" stop-opacity="0.11"/><stop offset=".8166" stop-color="#fff" stop-opacity="0.11"/><stop offset=".8167" stop-color="#000" stop-opacity="0.04"/><stop offset=".8332" stop-color="#000" stop-opacity="0.04"/><stop offset=".8333" stop-color="#fff" stop-opacity="0.065"/><stop offset=".8499" stop-color="#fff" stop-opacity="0.065"/><stop offset=".85" stop-color="#fff" stop-opacity="0.062"/><stop offset=".8666" stop-color="#fff" stop-opacity="0.062"/><stop offset=".8667" stop-color="#000" stop-opacity="0.004"/><stop offset=".8832" stop-color="#000" stop-opacity="0.004"/><stop offset=".8833" stop-color="#fff" stop-opacity="0.047"/><stop offset=".8999" stop-color="#fff" stop-opacity="0.047"/><stop offset=".9" stop-color="#000" stop-opacity="0.054"/><stop offset=".9166" stop-color="#000" stop-opacity="0.054"/><stop offset=".9167" stop-color="#000" stop-opacity="0.024"/><stop offset=".9332" stop-color="#000" stop-opacity="0.024"/><stop offset=".9333" stop-color="#fff" stop-opacity="0.028"/><stop offset=".9499" stop-color="#fff" stop-opacity="0.028"/><stop offset=".95" stop-color="#fff" stop-opacity="0.058"/><stop offset=".9666" stop-color="#fff" stop-opacity="0.058"/><stop offset=".9667" stop-color="#000" stop-opacity="0.012"/><stop offset=".9832" stop-color="#000" stop-opacity="0.012"/><stop offset=".9833" stop-color="#000" stop-opacity="0.043"/><stop offset=".9999" stop-color="#000" stop-opacity="0.043"/></linearGradient><linearGradient id="g12" x1="0" y1="0" x2="1" y2="0"><stop offset="0" stop-color="#3cc8ea"/><stop offset=".0099" stop-color="#3cc8ea"/><stop offset=".01" stop-color="#38c6ec"/><stop offset=".0199" stop-color="#38c6ec"/><stop offset=".02" stop-color="#3cc8ea"/><stop offset=".0299" stop-color="#3cc8ea"/><stop offset=".03" stop-color="#3cc8ea"/><stop offset=".0399" stop-color="#3cc8ea"/><stop offset=".04" stop-color="#38c6ec"/><stop offset=".0499" stop-color="#38c6ec"/><stop offset=".05" stop-color="#3cc8ea"/><stop offset=".0599" stop-color="#3cc8ea"/><stop offset=".06" stop-color="#44caea"/><stop offset=".0699" stop-color="#44caea"/><stop offset=".07" stop-color="#38c6ec"/><stop offset=".0799" stop-color="#38c6ec"/><stop offset=".08" stop-color="#3cc8ea"/><stop offset=".0899" stop-color="#3cc8ea"/><stop offset=".09" stop-color="#38c6ec"/><stop offset=".0999" stop-color="#38c6ec"/><stop offset=".1" stop-color="#38c6ec"/><stop offset=".1099" stop-color="#38c6ec"/><stop offset=".11" stop-color="#3cc8ea"/><stop offset=".1199" stop-color="#3cc8ea"/><stop offset=".12" stop-color="#38c6ec"/><stop offset=".1299" stop-color="#38c6ec"/><stop offset=".13" stop-color="#3cc8ea"/><stop offset=".1399" stop-color="#3cc8ea"/><stop offset=".14" stop-color="#38c6ec"/><stop offset=".1499" stop-color="#38c6ec"/><stop offset=".15" stop-color="#3cc8ea"/><stop offset=".1599" stop-color="#3cc8ea"/><stop offset=".16" stop-color="#38c6ec"/><stop offset=".1699" stop-color="#38c6ec"/><stop offset=".17" stop-color="#44caea"/><stop offset=".1799" stop-color="#44caea"/><stop offset=".18" stop-color="#38c6ec"/><stop offset=".1899" stop-color="#38c6ec"/><stop offset=".19" stop-color="#3cc8ea"/><stop offset=".1999" stop-color="#3cc8ea"/><stop offset=".2" stop-color="#44caea"/><stop offset=".2099" stop-color="#44caea"/><stop offset=".21" stop-color="#3cc8ea"/><stop offset=".2199" stop-color="#3cc8ea"/><stop offset=".22" stop-color="#3cc8ea"/><stop offset=".2299" stop-color="#3cc8ea"/><stop offset=".23" stop-color="#38c6ec"/><stop offset=".2399" stop-color="#38c6ec"/><stop offset=".24" stop-color="#3cc8ea"/><stop offset=".2499" stop-color="#3cc8ea"/><stop offset=".25" stop-color="#38c6ec"/><stop offset=".2599" stop-color="#38c6ec"/><stop offset=".26" stop-color="#38c6ec"/><stop offset=".2699" stop-color="#38c6ec"/><stop offset=".27" stop-color="#3cc8ea"/><stop offset=".2799" stop-color="#3cc8ea"/><stop offset=".28" stop-color="#44caea"/><stop offset=".2899" stop-color="#44caea"/><stop offset=".29" stop-color="#44caea"/><stop offset=".2999" stop-color="#44caea"/><stop offset=".3" stop-color="#44caea"/><stop offset=".3099" stop-color="#44caea"/><stop offset=".31" stop-color="#38c6ec"/><stop offset=".3199" stop-color="#38c6ec"/><stop offset=".32" stop-color="#3cc8ea"/><stop offset=".3299" stop-color="#3cc8ea"/><stop offset=".33" stop-color="#38c6ec"/><stop offset=".3399" stop-color="#38c6ec"/><stop offset=".34" stop-color="#44caea"/><stop offset=".3499" stop-color="#44caea"/><stop offset=".35" stop-color="#3cc8ea"/><stop offset=".3599" stop-color="#3cc8ea"/><stop offset=".36" stop-color="#3cc8ea"/><stop offset=".3699" stop-color="#3cc8ea"/><stop offset=".37" stop-color="#3cc8ea"/><stop offset=".3799" stop-color="#3cc8ea"/><stop offset=".38" stop-color="#6fd5ca"/><stop offset=".3899" stop-color="#6fd5ca"/><stop offset=".39" stop-color="#6cd4cc"/><stop offset=".3999" stop-color="#6cd4cc"/><stop offset=".4" stop-color="#3cc8ea"/><stop offset=".4099" stop-color="#3cc8ea"/><stop offset=".41" stop-color="#71d5c9"/><stop offset=".4199" stop-color="#71d5c9"/><stop offset=".42" stop-color="#72d5c8"/><stop offset=".4299" stop-color="#72d5c8"/><stop offset=".43" stop-color="#ace4a3"/><stop offset=".4399" stop-color="#ace4a3"/><stop offset=".44" stop-color="#a7e2a7"/><stop offset=".4499" stop-color="#a7e2a7"/><stop offset=".45" stop-color="#a3e1a9"/><stop offset=".4599" stop-color="#a3e1a9"/><stop offset=".46" stop-color="#a7e2a7"/><stop offset=".4699" stop-color="#a7e2a7"/><stop offset=".47" stop-color="#c6ea93"/><stop offset=".4799" stop-color="#c6ea93"/><stop offset=".48" stop-color="#c6ea93"/><stop offset=".4899" stop-color="#c6ea93"/><stop offset=".49" stop-color="#abe3a4"/><stop offset=".4999" stop-color="#abe3a4"/><stop offset=".5" stop-color="#c6ea93"/><stop offset=".5099" stop-color="#c6ea93"/><stop offset=".51" stop-color="#c4e896"/><stop offset=".5199" stop-color="#c4e896"/><stop offset=".52" stop-color="#c6ea93"/><stop offset=".5299" stop-color="#c6ea93"/><stop offset=".53" stop-color="#c4e896"/><stop offset=".5399" stop-color="#c4e896"/><stop offset=".54" stop-color="#cdeea0"/><stop offset=".5499" stop-color="#cdeea0"/><stop offset=".55" stop-color="#cdeea0"/><stop offset=".5599" stop-color="#cdeea0"/><stop offset=".56" stop-color="#c4e896"/><stop offset=".5699" stop-color="#c4e896"/><stop offset=".57" stop-color="#c4e896"/><stop offset=".5799" stop-color="#c4e896"/><stop offset=".58" stop-color="#cdeea0"/><stop offset=".5899" stop-color="#cdeea0"/><stop offset=".59" stop-color="#c4e896"/><stop offset=".5999" stop-color="#c4e896"/><stop offset=".6" stop-color="#cdeea0"/><stop offset=".6099" stop-color="#cdeea0"/><stop offset=".61" stop-color="#c6ea93"/><stop offset=".6199" stop-color="#c6ea93"/><stop offset=".62" stop-color="#c4e896"/><stop offset=".6299" stop-color="#c4e896"/><stop offset=".63" stop-color="#c4e896"/><stop offset=".6399" stop-color="#c4e896"/><stop offset=".64" stop-color="#c6ea93"/><stop offset=".6499" stop-color="#c6ea93"/><stop offset=".65" stop-color="#c6ea93"/><stop offset=".6599" stop-color="#c6ea93"/><stop offset=".66" stop-color="#c6ea93"/><stop offset=".6699" stop-color="#c6ea93"/><stop offset=".67" stop-color="#c6ea93"/><stop offset=".6799" stop-color="#c6ea93"/><stop offset=".68" stop-color="#c6ea93"/><stop offset=".6899" stop-color="#c6ea93"/><stop offset=".69" stop-color="#cdeea0"/><stop offset=".6999" stop-color="#cdeea0"/><stop offset=".7" stop-color="#cdeea0"/><stop offset=".7099" stop-color="#cdeea0"/><stop offset=".71" stop-color="#cdeea0"/><stop offset=".7199" stop-color="#cdeea0"/><stop offset=".72" stop-color="#c6ea93"/><stop offset=".7299" stop-color="#c6ea93"/><stop offset=".73" stop-color="#c4e896"/><stop offset=".7399" stop-color="#c4e896"/><stop offset=".74" stop-color="#c6ea93"/><stop offset=".7499" stop-color="#c6ea93"/><stop offset=".75" stop-color="#c6ea93"/><stop offset=".7599" stop-color="#c6ea93"/><stop offset=".76" stop-color="#c6ea93"/><stop offset=".7699" stop-color="#c6ea93"/><stop offset=".77" stop-color="#c4e896"/><stop offset=".7799" stop-color="#c4e896"/><stop offset=".78" stop-color="#c4e896"/><stop offset=".7899" stop-color="#c4e896"/><stop offset=".79" stop-color="#cdeea0"/><stop offset=".7999" stop-color="#cdeea0"/><stop offset=".8" stop-color="#c6ea93"/><stop offset=".8099" stop-color="#c6ea93"/><stop offset=".81" stop-color="#c4e896"/><stop offset=".8199" stop-color="#c4e896"/><stop offset=".82" stop-color="#c4e896"/><stop offset=".8299" stop-color="#c4e896"/><stop offset=".83" stop-color="#c4e896"/><stop offset=".8399" stop-color="#c4e896"/><stop offset=".84" stop-color="#c6ea93"/><stop offset=".8499" stop-color="#c6ea93"/><stop offset=".85" stop-color="#c4e896"/><stop offset=".8599" stop-color="#c4e896"/><stop offset=".86" stop-color="#c6ea93"/><stop offset=".8699" stop-color="#c6ea93"/><stop offset=".87" stop-color="#c6ea93"/><stop offset=".8799" stop-color="#c6ea93"/><stop offset=".88" stop-color="#c6ea93"/><stop offset=".8899" stop-color="#c6ea93"/><stop offset=".89" stop-color="#cdeea0"/><stop offset=".8999" stop-color="#cdeea0"/><stop offset=".9" stop-color="#cdeea0"/><stop offset=".9099" stop-color="#cdeea0"/><stop offset=".91" stop-color="#cdeea0"/><stop offset=".9199" stop-color="#cdeea0"/><stop offset=".92" stop-color="#c6ea93"/><stop offset=".9299" stop-color="#c6ea93"/><stop offset=".93" stop-color="#c4e896"/><stop offset=".9399" stop-color="#c4e896"/><stop offset=".94" stop-color="#cdeea0"/><stop offset=".9499" stop-color="#cdeea0"/><stop offset=".95" stop-color="#c4e896"/><stop offset=".9599" stop-color="#c4e896"/><stop offset=".96" stop-color="#c6ea93"/><stop offset=".9699" stop-color="#c6ea93"/><stop offset=".97" stop-color="#c4e896"/><stop offset=".9799" stop-color="#c4e896"/><stop offset=".98" stop-color="#cdeea0"/><stop offset=".9899" stop-color="#cdeea0"/><stop offset=".99" stop-color="#cdeea0"/><stop offset=".9999" stop-color="#cdeea0"/></linearGradient><linearGradient id="g13" x1="0" y1="0" x2="1" y2="0"><stop offset="0" stop-color="#3c3c7a"/><stop offset=".38" stop-color="#3a5488"/><stop offset=".5" stop-color="#6b8c67"/><stop offset=".68" stop-color="#9cc446"/><stop offset="1" stop-color="#d0dc30"/></linearGradient><linearGradient id="g14" x1="0" y1="0" x2="1" y2="0"><stop offset="0" stop-color="#3a3878"/><stop offset=".38" stop-color="#355a8a"/><stop offset=".5" stop-color="#6a9067"/><stop offset=".68" stop-color="#a0c644"/><stop offset="1" stop-color="#d0dc30"/></linearGradient><linearGradient id="g15" x1="0" y1="0" x2="1" y2="0"><stop offset="0" stop-color="#3a4482"/><stop offset=".38" stop-color="#2f6a8a"/><stop offset=".5" stop-color="#588f6e"/><stop offset=".68" stop-color="#82b452"/><stop offset="1" stop-color="#a8cc40"/></linearGradient><linearGradient id="g16" x1="0" y1="0" x2="1" y2="0"><stop offset="0" stop-color="#44206a"/><stop offset=".38" stop-color="#3a3c7e"/><stop offset=".5" stop-color="#637a65"/><stop offset=".68" stop-color="#8cb84c"/><stop offset="1" stop-color="#d8dc2a"/></linearGradient><linearGradient id="g17" x1="0" y1="0" x2="1" y2="0"><stop offset="0" stop-color="#48186a"/><stop offset=".38" stop-color="#3b3a80"/><stop offset=".5" stop-color="#607767"/><stop offset=".68" stop-color="#84b44e"/><stop offset="1" stop-color="#e0de28"/></linearGradient><linearGradient id="g18" x1="0" y1="0" x2="1" y2="0"><stop offset="0" stop-color="#2e3c6e"/><stop offset=".38" stop-color="#30406e"/><stop offset=".5" stop-color="#314274"/><stop offset=".68" stop-color="#32447a"/><stop offset="1" stop-color="#34487c"/></linearGradient><linearGradient id="g19" x1="0" y1="0" x2="1" y2="0"><stop offset="0" stop-color="#46568a"/><stop offset=".25" stop-color="#8a93b8"/><stop offset=".46" stop-color="#f4f4f8"/><stop offset=".5" stop-color="#fff4f0"/><stop offset=".75" stop-color="#f2c0b4"/><stop offset="1" stop-color="#dc7464"/></linearGradient><linearGradient id="g20" x1="0" y1="0" x2="0" y2="1"><stop offset="0" stop-color="#8e0c23"/><stop offset=".2" stop-color="#c83a3a"/><stop offset=".38" stop-color="#f0a890"/><stop offset=".5" stop-color="#fbf8f6"/><stop offset=".62" stop-color="#a8b8d8"/><stop offset=".8" stop-color="#3a60a0"/><stop offset="1" stop-color="#0e2d62"/></linearGradient><linearGradient id="g21" x1="0" y1="0" x2="1" y2="0"><stop offset="0" stop-color="#73d4c7"/><stop offset=".01" stop-color="#73d4c7"/><stop offset=".0101" stop-color="#3ec7e9"/><stop offset=".0201" stop-color="#3ec7e9"/><stop offset=".0202" stop-color="#3fc7e8"/><stop offset=".0302" stop-color="#3fc7e8"/><stop offset=".0303" stop-color="#46c8e3"/><stop offset=".0403" stop-color="#46c8e3"/><stop offset=".0404" stop-color="#58c5c0"/><stop offset=".0504" stop-color="#58c5c0"/><stop offset=".0505" stop-color="#44c8e5"/><stop offset=".0605" stop-color="#44c8e5"/><stop offset=".0606" stop-color="#51ccdd"/><stop offset=".0706" stop-color="#51ccdd"/><stop offset=".0707" stop-color="#51cadb"/><stop offset=".0807" stop-color="#51cadb"/><stop offset=".0808" stop-color="#51cbde"/><stop offset=".0908" stop-color="#51cbde"/><stop offset=".0909" stop-color="#4bcae2"/><stop offset=".1009" stop-color="#4bcae2"/><stop offset=".101" stop-color="#55cddc"/><stop offset=".111" stop-color="#55cddc"/><stop offset=".1111" stop-color="#62c9bc"/><stop offset=".1211" stop-color="#62c9bc"/><stop offset=".1212" stop-color="#61cdcd"/><stop offset=".1312" stop-color="#61cdcd"/><stop offset=".1313" stop-color="#54ccdc"/><stop offset=".1413" stop-color="#54ccdc"/><stop offset=".1414" stop-color="#91ddb5"/><stop offset=".1514" stop-color="#91ddb5"/><stop offset=".1515" stop-color="#6ac9b3"/><stop offset=".1615" stop-color="#6ac9b3"/><stop offset=".1616" stop-color="#65d1d3"/><stop offset=".1716" stop-color="#65d1d3"/><stop offset=".1717" stop-color="#69d2d1"/><stop offset=".1817" stop-color="#69d2d1"/><stop offset=".1818" stop-color="#70d1c4"/><stop offset=".1918" stop-color="#70d1c4"/><stop offset=".1919" stop-color="#62d0d4"/><stop offset=".2019" stop-color="#62d0d4"/><stop offset=".202" stop-color="#8cdbbb"/><stop offset=".212" stop-color="#8cdbbb"/><stop offset=".2121" stop-color="#98deb3"/><stop offset=".2221" stop-color="#98deb3"/><stop offset=".2222" stop-color="#76ceb3"/><stop offset=".2322" stop-color="#76ceb3"/><stop offset=".2323" stop-color="#71d4cc"/><stop offset=".2423" stop-color="#71d4cc"/><stop offset=".2424" stop-color="#6cd3cf"/><stop offset=".2524" stop-color="#6cd3cf"/><stop offset=".2525" stop-color="#81d9c4"/><stop offset=".2625" stop-color="#81d9c4"/><stop offset=".2626" stop-color="#82d4b6"/><stop offset=".2726" stop-color="#82d4b6"/><stop offset=".2727" stop-color="#9ce0b2"/><stop offset=".2827" stop-color="#9ce0b2"/><stop offset=".2828" stop-color="#8ad9b8"/><stop offset=".2928" stop-color="#8ad9b8"/><stop offset=".2929" stop-color="#a5e2ac"/><stop offset=".3029" stop-color="#a5e2ac"/><stop offset=".303" stop-color="#84d2a9"/><stop offset=".313" stop-color="#84d2a9"/><stop offset=".3131" stop-color="#94deb9"/><stop offset=".3231" stop-color="#94deb9"/><stop offset=".3232" stop-color="#77d6c9"/><stop offset=".3332" stop-color="#77d6c9"/><stop offset=".3333" stop-color="#88d2a5"/><stop offset=".3433" stop-color="#88d2a5"/><stop offset=".3434" stop-color="#ade4a7"/><stop offset=".3534" stop-color="#ade4a7"/><stop offset=".3535" stop-color="#ace4a9"/><stop offset=".3635" stop-color="#ace4a9"/><stop offset=".3636" stop-color="#76d6ca"/><stop offset=".3736" stop-color="#76d6ca"/><stop offset=".3737" stop-color="#85dac2"/><stop offset=".3837" stop-color="#85dac2"/><stop offset=".3838" stop-color="#b5e6a3"/><stop offset=".3938" stop-color="#b5e6a3"/><stop offset=".3939" stop-color="#b9e7a0"/><stop offset=".4039" stop-color="#b9e7a0"/><stop offset=".404" stop-color="#b7e7a2"/><stop offset=".414" stop-color="#b7e7a2"/><stop offset=".4141" stop-color="#afe4a7"/><stop offset=".4241" stop-color="#afe4a7"/><stop offset=".4242" stop-color="#bce89e"/><stop offset=".4342" stop-color="#bce89e"/><stop offset=".4343" stop-color="#94d49a"/><stop offset=".4443" stop-color="#94d49a"/><stop offset=".4444" stop-color="#bce8a2"/><stop offset=".4544" stop-color="#bce8a2"/><stop offset=".4545" stop-color="#c2e99b"/><stop offset=".4645" stop-color="#c2e99b"/><stop offset=".4646" stop-color="#c3ea9b"/><stop offset=".4746" stop-color="#c3ea9b"/><stop offset=".4747" stop-color="#c4eb9c"/><stop offset=".4847" stop-color="#c4eb9c"/><stop offset=".4848" stop-color="#c7eb99"/><stop offset=".4948" stop-color="#c7eb99"/><stop offset=".4949" stop-color="#2e8a80"/><stop offset=".505" stop-color="#2e8a80"/><stop offset=".5051" stop-color="#2e7c80"/><stop offset=".5151" stop-color="#2e7c80"/><stop offset=".5152" stop-color="#2e8a80"/><stop offset=".5252" stop-color="#2e8a80"/><stop offset=".5253" stop-color="#2e8a80"/><stop offset=".5353" stop-color="#2e8a80"/><stop offset=".5354" stop-color="#2e8a80"/><stop offset=".5454" stop-color="#2e8a80"/><stop offset=".5455" stop-color="#3a9a8a"/><stop offset=".5555" stop-color="#3a9a8a"/><stop offset=".5556" stop-color="#3a9a8a"/><stop offset=".5656" stop-color="#3a9a8a"/><stop offset=".5657" stop-color="#3a9a8a"/><stop offset=".5757" stop-color="#3a9a8a"/><stop offset=".5758" stop-color="#3a9a8a"/><stop offset=".5858" stop-color="#3a9a8a"/><stop offset=".5859" stop-color="#2e7c80"/><stop offset=".5959" stop-color="#2e7c80"/><stop offset=".596" stop-color="#2e8a80"/><stop offset=".606" stop-color="#2e8a80"/><stop offset=".6061" stop-color="#2e8a80"/><stop offset=".6161" stop-color="#2e8a80"/><stop offset=".6162" stop-color="#5aa890"/><stop offset=".6262" stop-color="#5aa890"/><stop offset=".6263" stop-color="#2e8a80"/><stop offset=".6363" stop-color="#2e8a80"/><stop offset=".6364" stop-color="#1f6676"/><stop offset=".6464" stop-color="#1f6676"/><stop offset=".6465" stop-color="#2e7c80"/><stop offset=".6565" stop-color="#2e7c80"/><stop offset=".6566" stop-color="#2e8a80"/><stop offset=".6666" stop-color="#2e8a80"/><stop offset=".6667" stop-color="#5aa890"/><stop offset=".6767" stop-color="#5aa890"/><stop offset=".6768" stop-color="#2e8a80"/><stop offset=".6868" stop-color="#2e8a80"/><stop offset=".6869" stop-color="#3a9a8a"/><stop offset=".6969" stop-color="#3a9a8a"/><stop offset=".697" stop-color="#3a9a8a"/><stop offset=".707" stop-color="#3a9a8a"/><stop offset=".7071" stop-color="#1f6676"/><stop offset=".7171" stop-color="#1f6676"/><stop offset=".7172" stop-color="#5aa890"/><stop offset=".7272" stop-color="#5aa890"/><stop offset=".7273" stop-color="#2e8a80"/><stop offset=".7373" stop-color="#2e8a80"/><stop offset=".7374" stop-color="#2e8a80"/><stop offset=".7474" stop-color="#2e8a80"/><stop offset=".7475" stop-color="#1f6676"/><stop offset=".7575" stop-color="#1f6676"/><stop offset=".7576" stop-color="#1f6676"/><stop offset=".7676" stop-color="#1f6676"/><stop offset=".7677" stop-color="#2e8a80"/><stop offset=".7777" stop-color="#2e8a80"/><stop offset=".7778" stop-color="#1f6676"/><stop offset=".7878" stop-color="#1f6676"/><stop offset=".7879" stop-color="#2e8a80"/><stop offset=".7979" stop-color="#2e8a80"/><stop offset=".798" stop-color="#3a9a8a"/><stop offset=".808" stop-color="#3a9a8a"/><stop offset=".8081" stop-color="#2e7c80"/><stop offset=".8181" stop-color="#2e7c80"/><stop offset=".8182" stop-color="#5aa890"/><stop offset=".8282" stop-color="#5aa890"/><stop offset=".8283" stop-color="#1f6676"/><stop offset=".8383" stop-color="#1f6676"/><stop offset=".8384" stop-color="#3a9a8a"/><stop offset=".8484" stop-color="#3a9a8a"/><stop offset=".8485" stop-color="#2e7c80"/><stop offset=".8585" stop-color="#2e7c80"/><stop offset=".8586" stop-color="#1f6676"/><stop offset=".8686" stop-color="#1f6676"/><stop offset=".8687" stop-color="#2e8a80"/><stop offset=".8787" stop-color="#2e8a80"/><stop offset=".8788" stop-color="#1f6676"/><stop offset=".8888" stop-color="#1f6676"/><stop offset=".8889" stop-color="#3a9a8a"/><stop offset=".8989" stop-color="#3a9a8a"/><stop offset=".899" stop-color="#3a9a8a"/><stop offset=".909" stop-color="#3a9a8a"/><stop offset=".9091" stop-color="#3a9a8a"/><stop offset=".9191" stop-color="#3a9a8a"/><stop offset=".9192" stop-color="#2e8a80"/><stop offset=".9292" stop-color="#2e8a80"/><stop offset=".9293" stop-color="#2e8a80"/><stop offset=".9393" stop-color="#2e8a80"/><stop offset=".9394" stop-color="#5aa890"/><stop offset=".9494" stop-color="#5aa890"/><stop offset=".9495" stop-color="#1f6676"/><stop offset=".9595" stop-color="#1f6676"/><stop offset=".9596" stop-color="#2e8a80"/><stop offset=".9696" stop-color="#2e8a80"/><stop offset=".9697" stop-color="#5aa890"/><stop offset=".9797" stop-color="#5aa890"/><stop offset=".9798" stop-color="#5aa890"/><stop offset=".9898" stop-color="#5aa890"/><stop offset=".9899" stop-color="#1f6676"/><stop offset=".9999" stop-color="#1f6676"/></linearGradient><linearGradient id="g22" x1="0" y1="0" x2="1" y2="0"><stop offset="0" stop-color="#46326f"/><stop offset=".4886" stop-color="#3e6a88"/><stop offset=".4946" stop-color="#c4da34"/><stop offset="1" stop-color="#c8dc30"/></linearGradient><linearGradient id="g23" x1="0" y1="0" x2="1" y2="0"><stop offset="0" stop-color="#3a3a7a"/><stop offset=".4886" stop-color="#3a5a88"/><stop offset=".4946" stop-color="#ece222"/><stop offset="1" stop-color="#f0e420"/></linearGradient><linearGradient id="g24" x1="0" y1="0" x2="1" y2="0"><stop offset="0" stop-color="#46105e"/><stop offset=".4886" stop-color="#3a3878"/><stop offset=".4946" stop-color="#f6e41f"/><stop offset="1" stop-color="#f8e61f"/></linearGradient><linearGradient id="g25" x1="0" y1="0" x2="1" y2="0"><stop offset="0" stop-color="#2e5a88"/><stop offset=".4886" stop-color="#386a88"/><stop offset=".4946" stop-color="#7cbc5c"/><stop offset="1" stop-color="#8cc454"/></linearGradient><linearGradient id="g26" x1="0" y1="0" x2="1" y2="0"><stop offset="0" stop-color="#4a9872"/><stop offset=".4886" stop-color="#4a9a72"/><stop offset=".4946" stop-color="#4a8e80"/><stop offset="1" stop-color="#4c9280"/></linearGradient><linearGradient id="g27" x1="0" y1="0" x2="1" y2="0"><stop offset="0" stop-color="#3a7488"/><stop offset=".4886" stop-color="#3a7a88"/><stop offset=".4946" stop-color="#6ab262"/><stop offset="1" stop-color="#78b85c"/></linearGradient><linearGradient id="g28" x1="0" y1="0" x2="1" y2="0"><stop offset="0" stop-color="#3a8a80"/><stop offset=".4886" stop-color="#40907c"/><stop offset=".4946" stop-color="#98cc4a"/><stop offset="1" stop-color="#a0d046"/></linearGradient><linearGradient id="g29" x1="0" y1="0" x2="1" y2="0"><stop offset="0" stop-color="#4a9a74"/><stop offset=".4886" stop-color="#3c8a80"/><stop offset=".4946" stop-color="#a0ce48"/><stop offset="1" stop-color="#a4d046"/></linearGradient><linearGradient id="g30" x1="0" y1="0" x2="1" y2="0"><stop offset="0" stop-color="#3a6088"/><stop offset=".4886" stop-color="#3a6a88"/><stop offset=".4946" stop-color="#60aa70"/><stop offset="1" stop-color="#5aa878"/></linearGradient><linearGradient id="g31" x1="0" y1="0" x2="1" y2="0"><stop offset="0" stop-color="#48286a"/><stop offset=".2458" stop-color="#6a3c58"/><stop offset=".4886" stop-color="#4a3064"/><stop offset=".4946" stop-color="#c8dc34"/><stop offset="1" stop-color="#c0d83a"/></linearGradient><linearGradient id="g32" x1="0" y1="0" x2="1" y2="0"><stop offset="0" stop-color="#4a2a62"/><stop offset=".2458" stop-color="#6a3c58"/><stop offset=".4886" stop-color="#46346c"/><stop offset=".4946" stop-color="#a8d044"/><stop offset="1" stop-color="#b0d440"/></linearGradient><linearGradient id="g33" x1="0" y1="0" x2="1" y2="0"><stop offset="0" stop-color="#3a5a88"/><stop offset=".4886" stop-color="#3a6688"/><stop offset=".4946" stop-color="#4a9a78"/><stop offset="1" stop-color="#3e8480"/></linearGradient><linearGradient id="g34" x1="0" y1="0" x2="1" y2="0"><stop offset="0" stop-color="#b09840"/><stop offset=".4886" stop-color="#e0d430"/><stop offset=".4946" stop-color="#3a8a80"/><stop offset="1" stop-color="#3a8a80"/></linearGradient><linearGradient id="g35" x1="0" y1="0" x2="1" y2="0"><stop offset="0" stop-color="#4a9870"/><stop offset=".4886" stop-color="#4a9a70"/><stop offset=".4946" stop-color="#2e5a88"/><stop offset="1" stop-color="#2e5a88"/></linearGradient><linearGradient id="g36" x1="0" y1="0" x2="1" y2="0"><stop offset="0" stop-color="#96ca4c"/><stop offset=".4886" stop-color="#8ac650"/><stop offset=".4946" stop-color="#3a4286"/><stop offset="1" stop-color="#3a3e84"/></linearGradient><linearGradient id="g37" x1="0" y1="0" x2="1" y2="0"><stop offset="0" stop-color="#88c450"/><stop offset=".4886" stop-color="#80c054"/><stop offset=".4946" stop-color="#3a4486"/><stop offset="1" stop-color="#40307a"/></linearGradient><linearGradient id="g38" x1="0" y1="0" x2="1" y2="0"><stop offset="0" stop-color="#3a5070"/><stop offset=".4886" stop-color="#3a5070"/><stop offset=".4946" stop-color="#38446e"/><stop offset="1" stop-color="#38446e"/></linearGradient><linearGradient id="g39" x1="0" y1="0" x2="1" y2="0"><stop offset="0" stop-color="#80c052"/><stop offset=".4886" stop-color="#7cbe54"/><stop offset=".4946" stop-color="#3a5088"/><stop offset="1" stop-color="#3b4888"/></linearGradient><linearGradient id="g40" x1="0" y1="0" x2="1" y2="0"><stop offset="0" stop-color="#7ec052"/><stop offset=".4886" stop-color="#70b85a"/><stop offset=".4946" stop-color="#3e3c80"/><stop offset="1" stop-color="#44206a"/></linearGradient><linearGradient id="g41" x1="0" y1="0" x2="1" y2="0"><stop offset="0" stop-color="#3a4a80"/><stop offset=".3" stop-color="#6a78a8"/><stop offset=".4866" stop-color="#e8ecf4"/><stop offset=".4966" stop-color="#fde8e0"/><stop offset=".75" stop-color="#f4b8a8"/><stop offset="1" stop-color="#dc7460"/></linearGradient><linearGradient id="g42" x1="0" y1="0" x2="0" y2="1"><stop offset="0" stop-color="#fde724"/><stop offset=".1" stop-color="#bdde26"/><stop offset=".2" stop-color="#79d151"/><stop offset=".3" stop-color="#44be70"/><stop offset=".4" stop-color="#22a784"/><stop offset=".5" stop-color="#20908c"/><stop offset=".6" stop-color="#29788e"/><stop offset=".7" stop-color="#345e8d"/><stop offset=".8" stop-color="#404387"/><stop offset=".9" stop-color="#482374"/><stop offset="1" stop-color="#440154"/></linearGradient><linearGradient id="g43" x1="0" y1="0" x2="0" y2="1"><stop offset="0" stop-color="#8e0c23"/><stop offset=".18" stop-color="#c83a3a"/><stop offset=".45" stop-color="#f4c0b0"/><stop offset=".59" stop-color="#fbf8f6"/><stop offset=".7" stop-color="#c0c8e0"/><stop offset=".85" stop-color="#3a60a0"/><stop offset="1" stop-color="#0e2d62"/></linearGradient><linearGradient id="g44" x1="0" y1="0" x2="1" y2="0"><stop offset="0" stop-color="#44caec"/><stop offset=".0099" stop-color="#44caec"/><stop offset=".01" stop-color="#38c6ec"/><stop offset=".0199" stop-color="#38c6ec"/><stop offset=".02" stop-color="#44caec"/><stop offset=".0299" stop-color="#44caec"/><stop offset=".03" stop-color="#44caec"/><stop offset=".0399" stop-color="#44caec"/><stop offset=".04" stop-color="#44caec"/><stop offset=".0499" stop-color="#44caec"/><stop offset=".05" stop-color="#38c6ec"/><stop offset=".0599" stop-color="#38c6ec"/><stop offset=".06" stop-color="#38c6ec"/><stop offset=".0699" stop-color="#38c6ec"/><stop offset=".07" stop-color="#40c8ea"/><stop offset=".0799" stop-color="#40c8ea"/><stop offset=".08" stop-color="#44caec"/><stop offset=".0899" stop-color="#44caec"/><stop offset=".09" stop-color="#38c6ec"/><stop offset=".0999" stop-color="#38c6ec"/><stop offset=".1" stop-color="#44caec"/><stop offset=".1099" stop-color="#44caec"/><stop offset=".11" stop-color="#44caec"/><stop offset=".1199" stop-color="#44caec"/><stop offset=".12" stop-color="#44caec"/><stop offset=".1299" stop-color="#44caec"/><stop offset=".13" stop-color="#44caec"/><stop offset=".1399" stop-color="#44caec"/><stop offset=".14" stop-color="#44caec"/><stop offset=".1499" stop-color="#44caec"/><stop offset=".15" stop-color="#44caec"/><stop offset=".1599" stop-color="#44caec"/><stop offset=".16" stop-color="#44caec"/><stop offset=".1699" stop-color="#44caec"/><stop offset=".17" stop-color="#40c8ea"/><stop offset=".1799" stop-color="#40c8ea"/><stop offset=".18" stop-color="#40c8ea"/><stop offset=".1899" stop-color="#40c8ea"/><stop offset=".19" stop-color="#38c6ec"/><stop offset=".1999" stop-color="#38c6ec"/><stop offset=".2" stop-color="#40c8ea"/><stop offset=".2099" stop-color="#40c8ea"/><stop offset=".21" stop-color="#44caec"/><stop offset=".2199" stop-color="#44caec"/><stop offset=".22" stop-color="#40c8ea"/><stop offset=".2299" stop-color="#40c8ea"/><stop offset=".23" stop-color="#38c6ec"/><stop offset=".2399" stop-color="#38c6ec"/><stop offset=".24" stop-color="#44caec"/><stop offset=".2499" stop-color="#44caec"/><stop offset=".25" stop-color="#38c6ec"/><stop offset=".2599" stop-color="#38c6ec"/><stop offset=".26" stop-color="#44caec"/><stop offset=".2699" stop-color="#44caec"/><stop offset=".27" stop-color="#44caec"/><stop offset=".2799" stop-color="#44caec"/><stop offset=".28" stop-color="#38c6ec"/><stop offset=".2899" stop-color="#38c6ec"/><stop offset=".29" stop-color="#38c6ec"/><stop offset=".2999" stop-color="#38c6ec"/><stop offset=".3" stop-color="#40c8ea"/><stop offset=".3099" stop-color="#40c8ea"/><stop offset=".31" stop-color="#44caec"/><stop offset=".3199" stop-color="#44caec"/><stop offset=".32" stop-color="#38c6ec"/><stop offset=".3299" stop-color="#38c6ec"/><stop offset=".33" stop-color="#38c6ec"/><stop offset=".3399" stop-color="#38c6ec"/><stop offset=".34" stop-color="#38c6ec"/><stop offset=".3499" stop-color="#38c6ec"/><stop offset=".35" stop-color="#44caec"/><stop offset=".3599" stop-color="#44caec"/><stop offset=".36" stop-color="#40c8ea"/><stop offset=".3699" stop-color="#40c8ea"/><stop offset=".37" stop-color="#40c8ea"/><stop offset=".3799" stop-color="#40c8ea"/><stop offset=".38" stop-color="#40c8ea"/><stop offset=".3899" stop-color="#40c8ea"/><stop offset=".39" stop-color="#c0d4ae"/><stop offset=".3999" stop-color="#c0d4ae"/><stop offset=".4" stop-color="#9ed6c6"/><stop offset=".4099" stop-color="#9ed6c6"/><stop offset=".41" stop-color="#97d5c9"/><stop offset=".4199" stop-color="#97d5c9"/><stop offset=".42" stop-color="#91d4cc"/><stop offset=".4299" stop-color="#91d4cc"/><stop offset=".43" stop-color="#b2d3b7"/><stop offset=".4399" stop-color="#b2d3b7"/><stop offset=".44" stop-color="#c2d4ac"/><stop offset=".4499" stop-color="#c2d4ac"/><stop offset=".45" stop-color="#9cd4c5"/><stop offset=".4599" stop-color="#9cd4c5"/><stop offset=".46" stop-color="#85d0d0"/><stop offset=".4699" stop-color="#85d0d0"/><stop offset=".47" stop-color="#8dd1cc"/><stop offset=".4799" stop-color="#8dd1cc"/><stop offset=".48" stop-color="#add7bc"/><stop offset=".4899" stop-color="#add7bc"/><stop offset=".49" stop-color="#69ccd8"/><stop offset=".4999" stop-color="#69ccd8"/><stop offset=".5" stop-color="#79ced1"/><stop offset=".5099" stop-color="#79ced1"/><stop offset=".51" stop-color="#b7d7b7"/><stop offset=".5199" stop-color="#b7d7b7"/><stop offset=".52" stop-color="#a6d3bd"/><stop offset=".5299" stop-color="#a6d3bd"/><stop offset=".53" stop-color="#a3d2be"/><stop offset=".5399" stop-color="#a3d2be"/><stop offset=".54" stop-color="#bcd7b3"/><stop offset=".5499" stop-color="#bcd7b3"/><stop offset=".55" stop-color="#b9d5b3"/><stop offset=".5599" stop-color="#b9d5b3"/><stop offset=".56" stop-color="#c0d6b1"/><stop offset=".5699" stop-color="#c0d6b1"/><stop offset=".57" stop-color="#acd1b7"/><stop offset=".5799" stop-color="#acd1b7"/><stop offset=".58" stop-color="#c5d7ad"/><stop offset=".5899" stop-color="#c5d7ad"/><stop offset=".59" stop-color="#c9d6ab"/><stop offset=".5999" stop-color="#c9d6ab"/><stop offset=".6" stop-color="#c0d3ac"/><stop offset=".6099" stop-color="#c0d3ac"/><stop offset=".61" stop-color="#cdd8aa"/><stop offset=".6199" stop-color="#cdd8aa"/><stop offset=".62" stop-color="#d4d5a3"/><stop offset=".6299" stop-color="#d4d5a3"/><stop offset=".63" stop-color="#d5d7a3"/><stop offset=".6399" stop-color="#d5d7a3"/><stop offset=".64" stop-color="#d4d9a6"/><stop offset=".6499" stop-color="#d4d9a6"/><stop offset=".65" stop-color="#ead595"/><stop offset=".6599" stop-color="#ead595"/><stop offset=".66" stop-color="#c7d2a6"/><stop offset=".6699" stop-color="#c7d2a6"/><stop offset=".67" stop-color="#dfd89e"/><stop offset=".6799" stop-color="#dfd89e"/><stop offset=".68" stop-color="#f8d68d"/><stop offset=".6899" stop-color="#f8d68d"/><stop offset=".69" stop-color="#f6d68e"/><stop offset=".6999" stop-color="#f6d68e"/><stop offset=".7" stop-color="#fbd48a"/><stop offset=".7099" stop-color="#fbd48a"/><stop offset=".71" stop-color="#fbd48a"/><stop offset=".7199" stop-color="#fbd48a"/><stop offset=".72" stop-color="#fcd686"/><stop offset=".7299" stop-color="#fcd686"/><stop offset=".73" stop-color="#fcd686"/><stop offset=".7399" stop-color="#fcd686"/><stop offset=".74" stop-color="#fcd686"/><stop offset=".7499" stop-color="#fcd686"/><stop offset=".75" stop-color="#fcd890"/><stop offset=".7599" stop-color="#fcd890"/><stop offset=".76" stop-color="#fbd48a"/><stop offset=".7699" stop-color="#fbd48a"/><stop offset=".77" stop-color="#fbd48a"/><stop offset=".7799" stop-color="#fbd48a"/><stop offset=".78" stop-color="#fbd48a"/><stop offset=".7899" stop-color="#fbd48a"/><stop offset=".79" stop-color="#fbd48a"/><stop offset=".7999" stop-color="#fbd48a"/><stop offset=".8" stop-color="#fbd48a"/><stop offset=".8099" stop-color="#fbd48a"/><stop offset=".81" stop-color="#fcd890"/><stop offset=".8199" stop-color="#fcd890"/><stop offset=".82" stop-color="#fcd890"/><stop offset=".8299" stop-color="#fcd890"/><stop offset=".83" stop-color="#fcd890"/><stop offset=".8399" stop-color="#fcd890"/><stop offset=".84" stop-color="#fbd48a"/><stop offset=".8499" stop-color="#fbd48a"/><stop offset=".85" stop-color="#fcd686"/><stop offset=".8599" stop-color="#fcd686"/><stop offset=".86" stop-color="#fcd686"/><stop offset=".8699" stop-color="#fcd686"/><stop offset=".87" stop-color="#fcd686"/><stop offset=".8799" stop-color="#fcd686"/><stop offset=".88" stop-color="#fcd890"/><stop offset=".8899" stop-color="#fcd890"/><stop offset=".89" stop-color="#fbd48a"/><stop offset=".8999" stop-color="#fbd48a"/><stop offset=".9" stop-color="#fcd686"/><stop offset=".9099" stop-color="#fcd686"/><stop offset=".91" stop-color="#fcd686"/><stop offset=".9199" stop-color="#fcd686"/><stop offset=".92" stop-color="#fbd48a"/><stop offset=".9299" stop-color="#fbd48a"/><stop offset=".93" stop-color="#fbd48a"/><stop offset=".9399" stop-color="#fbd48a"/><stop offset=".94" stop-color="#fcd890"/><stop offset=".9499" stop-color="#fcd890"/><stop offset=".95" stop-color="#fcd686"/><stop offset=".9599" stop-color="#fcd686"/><stop offset=".96" stop-color="#fbd48a"/><stop offset=".9699" stop-color="#fbd48a"/><stop offset=".97" stop-color="#fbd48a"/><stop offset=".9799" stop-color="#fbd48a"/><stop offset=".98" stop-color="#fbd48a"/><stop offset=".9899" stop-color="#fbd48a"/><stop offset=".99" stop-color="#fcd890"/><stop offset=".9999" stop-color="#fcd890"/></linearGradient><linearGradient id="g45" x1="0" y1="0" x2="1" y2="0"><stop offset="0" stop-color="#32306c"/><stop offset=".3921" stop-color="#2e3070"/><stop offset=".4321" stop-color="#a0c040"/><stop offset="1" stop-color="#d0d838"/></linearGradient><linearGradient id="g46" x1="0" y1="0" x2="1" y2="0"><stop offset="0" stop-color="#2c2c6e"/><stop offset=".3921" stop-color="#33347a"/><stop offset=".4321" stop-color="#8ab848"/><stop offset="1" stop-color="#b8d038"/></linearGradient><linearGradient id="g47" x1="0" y1="0" x2="1" y2="0"><stop offset="0" stop-color="#5a9a62"/><stop offset=".3921" stop-color="#62a060"/><stop offset=".4321" stop-color="#6aaa5c"/><stop offset="1" stop-color="#78b256"/></linearGradient><linearGradient id="g48" x1="0" y1="0" x2="1" y2="0"><stop offset="0" stop-color="#4a9270"/><stop offset=".3921" stop-color="#58a066"/><stop offset=".4321" stop-color="#5aa066"/><stop offset="1" stop-color="#58a06a"/></linearGradient><linearGradient id="g49" x1="0" y1="0" x2="1" y2="0"><stop offset="0" stop-color="#4a8c76"/><stop offset=".3921" stop-color="#4e9470"/><stop offset=".4321" stop-color="#4e9272"/><stop offset="1" stop-color="#4a8a78"/></linearGradient><linearGradient id="g50" x1="0" y1="0" x2="1" y2="0"><stop offset="0" stop-color="#e68c78"/><stop offset=".2" stop-color="#f0b4a4"/><stop offset=".44" stop-color="#fff8f6"/><stop offset=".48" stop-color="#f8f8fa"/><stop offset=".75" stop-color="#b0b8d0"/><stop offset="1" stop-color="#5a6898"/></linearGradient><linearGradient id="g51" x1="0" y1="0" x2="1" y2="0"><stop offset="0" stop-color="#95c4cb"/><stop offset=".0076" stop-color="#95c4cb"/><stop offset=".0077" stop-color="#a6b2bd"/><stop offset=".0153" stop-color="#a6b2bd"/><stop offset=".0154" stop-color="#7cc4d3"/><stop offset=".023" stop-color="#7cc4d3"/><stop offset=".0231" stop-color="#7ac4d4"/><stop offset=".0307" stop-color="#7ac4d4"/><stop offset=".0308" stop-color="#a6b8bd"/><stop offset=".0384" stop-color="#a6b8bd"/><stop offset=".0385" stop-color="#bfc7b3"/><stop offset=".0461" stop-color="#bfc7b3"/><stop offset=".0462" stop-color="#8ac3ce"/><stop offset=".0537" stop-color="#8ac3ce"/><stop offset=".0538" stop-color="#b8c4b7"/><stop offset=".0614" stop-color="#b8c4b7"/><stop offset=".0615" stop-color="#a6a5b7"/><stop offset=".0691" stop-color="#a6a5b7"/><stop offset=".0692" stop-color="#a5a1b5"/><stop offset=".0768" stop-color="#a5a1b5"/><stop offset=".0769" stop-color="#ceb0a5"/><stop offset=".0845" stop-color="#ceb0a5"/><stop offset=".0846" stop-color="#c3c6af"/><stop offset=".0922" stop-color="#c3c6af"/><stop offset=".0923" stop-color="#85c2ce"/><stop offset=".0999" stop-color="#85c2ce"/><stop offset=".1" stop-color="#cac7aa"/><stop offset=".1076" stop-color="#cac7aa"/><stop offset=".1077" stop-color="#78c2d4"/><stop offset=".1153" stop-color="#78c2d4"/><stop offset=".1154" stop-color="#94c0c9"/><stop offset=".123" stop-color="#94c0c9"/><stop offset=".1231" stop-color="#ccc7a8"/><stop offset=".1307" stop-color="#ccc7a8"/><stop offset=".1308" stop-color="#a8b6bb"/><stop offset=".1384" stop-color="#a8b6bb"/><stop offset=".1385" stop-color="#d4ada1"/><stop offset=".1461" stop-color="#d4ada1"/><stop offset=".1462" stop-color="#919eae"/><stop offset=".1537" stop-color="#919eae"/><stop offset=".1538" stop-color="#cfc7a5"/><stop offset=".1614" stop-color="#cfc7a5"/><stop offset=".1615" stop-color="#c7c4ab"/><stop offset=".1691" stop-color="#c7c4ab"/><stop offset=".1692" stop-color="#c1c2af"/><stop offset=".1768" stop-color="#c1c2af"/><stop offset=".1769" stop-color="#757b9d"/><stop offset=".1845" stop-color="#757b9d"/><stop offset=".1846" stop-color="#8ebec9"/><stop offset=".1922" stop-color="#8ebec9"/><stop offset=".1923" stop-color="#d5ab9f"/><stop offset=".1999" stop-color="#d5ab9f"/><stop offset=".2" stop-color="#cfada3"/><stop offset=".2076" stop-color="#cfada3"/><stop offset=".2077" stop-color="#c2c1ae"/><stop offset=".2153" stop-color="#c2c1ae"/><stop offset=".2154" stop-color="#7dbfd0"/><stop offset=".223" stop-color="#7dbfd0"/><stop offset=".2231" stop-color="#a8aeb7"/><stop offset=".2307" stop-color="#a8aeb7"/><stop offset=".2308" stop-color="#73789b"/><stop offset=".2384" stop-color="#73789b"/><stop offset=".2385" stop-color="#777c9d"/><stop offset=".2461" stop-color="#777c9d"/><stop offset=".2462" stop-color="#91bbc7"/><stop offset=".2537" stop-color="#91bbc7"/><stop offset=".2538" stop-color="#c6c0aa"/><stop offset=".2614" stop-color="#c6c0aa"/><stop offset=".2615" stop-color="#c4afaa"/><stop offset=".2691" stop-color="#c4afaa"/><stop offset=".2692" stop-color="#ccada5"/><stop offset=".2768" stop-color="#ccada5"/><stop offset=".2769" stop-color="#ccc2a6"/><stop offset=".2845" stop-color="#ccc2a6"/><stop offset=".2846" stop-color="#c1bdad"/><stop offset=".2922" stop-color="#c1bdad"/><stop offset=".2923" stop-color="#d1c3a3"/><stop offset=".2999" stop-color="#d1c3a3"/><stop offset=".3" stop-color="#a78fac"/><stop offset=".3076" stop-color="#a78fac"/><stop offset=".3077" stop-color="#95b9c4"/><stop offset=".3153" stop-color="#95b9c4"/><stop offset=".3154" stop-color="#d5a99d"/><stop offset=".323" stop-color="#d5a99d"/><stop offset=".3231" stop-color="#95b8c4"/><stop offset=".3307" stop-color="#95b8c4"/><stop offset=".3308" stop-color="#7c7c9c"/><stop offset=".3384" stop-color="#7c7c9c"/><stop offset=".3385" stop-color="#d8a89c"/><stop offset=".3461" stop-color="#d8a89c"/><stop offset=".3462" stop-color="#cbaba5"/><stop offset=".3537" stop-color="#cbaba5"/><stop offset=".3538" stop-color="#c1aeac"/><stop offset=".3614" stop-color="#c1aeac"/><stop offset=".3615" stop-color="#a993ac"/><stop offset=".3691" stop-color="#a993ac"/><stop offset=".3692" stop-color="#9a9aaa"/><stop offset=".3768" stop-color="#9a9aaa"/><stop offset=".3769" stop-color="#8fb8c5"/><stop offset=".3845" stop-color="#8fb8c5"/><stop offset=".3846" stop-color="#ab98ad"/><stop offset=".3922" stop-color="#ab98ad"/><stop offset=".3923" stop-color="#c7aba7"/><stop offset=".3999" stop-color="#c7aba7"/><stop offset=".4" stop-color="#c7bba8"/><stop offset=".4076" stop-color="#c7bba8"/><stop offset=".4077" stop-color="#a98baa"/><stop offset=".4153" stop-color="#a98baa"/><stop offset=".4154" stop-color="#918ea4"/><stop offset=".423" stop-color="#918ea4"/><stop offset=".4231" stop-color="#918fa4"/><stop offset=".4307" stop-color="#918fa4"/><stop offset=".4308" stop-color="#d1bea1"/><stop offset=".4384" stop-color="#d1bea1"/><stop offset=".4385" stop-color="#c0acaa"/><stop offset=".4461" stop-color="#c0acaa"/><stop offset=".4462" stop-color="#ad99ad"/><stop offset=".4537" stop-color="#ad99ad"/><stop offset=".4538" stop-color="#c4b7a9"/><stop offset=".4614" stop-color="#c4b7a9"/><stop offset=".4615" stop-color="#b0abb2"/><stop offset=".4691" stop-color="#b0abb2"/><stop offset=".4692" stop-color="#c3aaa8"/><stop offset=".4768" stop-color="#c3aaa8"/><stop offset=".4769" stop-color="#7eb8cb"/><stop offset=".4845" stop-color="#7eb8cb"/><stop offset=".4846" stop-color="#7d7899"/><stop offset=".4922" stop-color="#7d7899"/><stop offset=".4923" stop-color="#827c9b"/><stop offset=".4999" stop-color="#827c9b"/><stop offset=".5" stop-color="#83b6c9"/><stop offset=".5076" stop-color="#83b6c9"/><stop offset=".5077" stop-color="#b1aab1"/><stop offset=".5153" stop-color="#b1aab1"/><stop offset=".5154" stop-color="#d1bba0"/><stop offset=".523" stop-color="#d1bba0"/><stop offset=".5231" stop-color="#87b5c6"/><stop offset=".5307" stop-color="#87b5c6"/><stop offset=".5308" stop-color="#96b2bf"/><stop offset=".5384" stop-color="#96b2bf"/><stop offset=".5385" stop-color="#c2a8a8"/><stop offset=".5461" stop-color="#c2a8a8"/><stop offset=".5462" stop-color="#cca6a1"/><stop offset=".5537" stop-color="#cca6a1"/><stop offset=".5538" stop-color="#dcc099"/><stop offset=".5614" stop-color="#dcc099"/><stop offset=".5615" stop-color="#8f859e"/><stop offset=".5691" stop-color="#8f859e"/><stop offset=".5692" stop-color="#b096aa"/><stop offset=".5768" stop-color="#b096aa"/><stop offset=".5769" stop-color="#7b7296"/><stop offset=".5845" stop-color="#7b7296"/><stop offset=".5846" stop-color="#84b4c7"/><stop offset=".5922" stop-color="#84b4c7"/><stop offset=".5923" stop-color="#9b8fa2"/><stop offset=".5999" stop-color="#9b8fa2"/><stop offset=".6" stop-color="#77b7cd"/><stop offset=".6076" stop-color="#77b7cd"/><stop offset=".6077" stop-color="#ad89a6"/><stop offset=".6153" stop-color="#ad89a6"/><stop offset=".6154" stop-color="#ab84a5"/><stop offset=".623" stop-color="#ab84a5"/><stop offset=".6231" stop-color="#b297a9"/><stop offset=".6307" stop-color="#b297a9"/><stop offset=".6308" stop-color="#a595a4"/><stop offset=".6384" stop-color="#a595a4"/><stop offset=".6385" stop-color="#75b6ce"/><stop offset=".6461" stop-color="#75b6ce"/><stop offset=".6462" stop-color="#ab81a3"/><stop offset=".6537" stop-color="#ab81a3"/><stop offset=".6538" stop-color="#ceb4a0"/><stop offset=".6614" stop-color="#ceb4a0"/><stop offset=".6615" stop-color="#a97ca2"/><stop offset=".6691" stop-color="#a97ca2"/><stop offset=".6692" stop-color="#d3a19b"/><stop offset=".6768" stop-color="#d3a19b"/><stop offset=".6769" stop-color="#d6b99b"/><stop offset=".6845" stop-color="#d6b99b"/><stop offset=".6846" stop-color="#7c7093"/><stop offset=".6922" stop-color="#7c7093"/><stop offset=".6923" stop-color="#847696"/><stop offset=".6999" stop-color="#847696"/><stop offset=".7" stop-color="#d1b39d"/><stop offset=".7076" stop-color="#d1b39d"/><stop offset=".7077" stop-color="#dd9f94"/><stop offset=".7153" stop-color="#dd9f94"/><stop offset=".7154" stop-color="#d99f97"/><stop offset=".723" stop-color="#d99f97"/><stop offset=".7231" stop-color="#db9f96"/><stop offset=".7307" stop-color="#db9f96"/><stop offset=".7308" stop-color="#aa7ca1"/><stop offset=".7384" stop-color="#aa7ca1"/><stop offset=".7385" stop-color="#b696a6"/><stop offset=".7461" stop-color="#b696a6"/><stop offset=".7462" stop-color="#dcba97"/><stop offset=".7537" stop-color="#dcba97"/><stop offset=".7538" stop-color="#cb9f9e"/><stop offset=".7614" stop-color="#cb9f9e"/><stop offset=".7615" stop-color="#7b6c91"/><stop offset=".7691" stop-color="#7b6c91"/><stop offset=".7692" stop-color="#ccac9f"/><stop offset=".7768" stop-color="#ccac9f"/><stop offset=".7769" stop-color="#d49e99"/><stop offset=".7845" stop-color="#d49e99"/><stop offset=".7846" stop-color="#b38ca3"/><stop offset=".7922" stop-color="#b38ca3"/><stop offset=".7923" stop-color="#78b3ca"/><stop offset=".7999" stop-color="#78b3ca"/><stop offset=".8" stop-color="#b083a2"/><stop offset=".8076" stop-color="#b083a2"/><stop offset=".8077" stop-color="#78688f"/><stop offset=".8153" stop-color="#78688f"/><stop offset=".8154" stop-color="#917b97"/><stop offset=".823" stop-color="#917b97"/><stop offset=".8231" stop-color="#b68fa3"/><stop offset=".8307" stop-color="#b68fa3"/><stop offset=".8308" stop-color="#ae7da0"/><stop offset=".8384" stop-color="#ae7da0"/><stop offset=".8385" stop-color="#7f6c90"/><stop offset=".8461" stop-color="#7f6c90"/><stop offset=".8462" stop-color="#b488a1"/><stop offset=".8537" stop-color="#b488a1"/><stop offset=".8538" stop-color="#78b2ca"/><stop offset=".8614" stop-color="#78b2ca"/><stop offset=".8615" stop-color="#9f849a"/><stop offset=".8691" stop-color="#9f849a"/><stop offset=".8692" stop-color="#7ab1c9"/><stop offset=".8768" stop-color="#7ab1c9"/><stop offset=".8769" stop-color="#d99b95"/><stop offset=".8845" stop-color="#d99b95"/><stop offset=".8846" stop-color="#dd9b92"/><stop offset=".8922" stop-color="#dd9b92"/><stop offset=".8923" stop-color="#ac789e"/><stop offset=".8999" stop-color="#ac789e"/><stop offset=".9" stop-color="#ddb694"/><stop offset=".9076" stop-color="#ddb694"/><stop offset=".9077" stop-color="#b98ca1"/><stop offset=".9153" stop-color="#b98ca1"/><stop offset=".9154" stop-color="#d19998"/><stop offset=".923" stop-color="#d19998"/><stop offset=".9231" stop-color="#d49996"/><stop offset=".9307" stop-color="#d49996"/><stop offset=".9308" stop-color="#b2819f"/><stop offset=".9384" stop-color="#b2819f"/><stop offset=".9385" stop-color="#dc9992"/><stop offset=".9461" stop-color="#dc9992"/><stop offset=".9462" stop-color="#876e90"/><stop offset=".9537" stop-color="#876e90"/><stop offset=".9538" stop-color="#b7879f"/><stop offset=".9614" stop-color="#b7879f"/><stop offset=".9615" stop-color="#bb8d9e"/><stop offset=".9691" stop-color="#bb8d9e"/><stop offset=".9692" stop-color="#e1998f"/><stop offset=".9768" stop-color="#e1998f"/><stop offset=".9769" stop-color="#ba8b9e"/><stop offset=".9845" stop-color="#ba8b9e"/><stop offset=".9846" stop-color="#876d8f"/><stop offset=".9922" stop-color="#876d8f"/><stop offset=".9923" stop-color="#dd9891"/><stop offset=".9999" stop-color="#dd9891"/></linearGradient><linearGradient id="g52" x1="0" y1="0" x2="1" y2="0"><stop offset="0" stop-color="#3a6c8a"/><stop offset=".1" stop-color="#44907f"/><stop offset=".35" stop-color="#48a07a"/><stop offset=".65" stop-color="#70b860"/><stop offset="1" stop-color="#c0dc32"/></linearGradient><linearGradient id="g53" x1="0" y1="0" x2="1" y2="0"><stop offset="0" stop-color="#3a7a88"/><stop offset=".1" stop-color="#47937b"/><stop offset=".35" stop-color="#4c9e76"/><stop offset=".65" stop-color="#74ba5c"/><stop offset="1" stop-color="#b8d838"/></linearGradient><linearGradient id="g54" x1="0" y1="0" x2="1" y2="0"><stop offset="0" stop-color="#2e5a7a"/><stop offset=".35" stop-color="#2e5a7a"/><stop offset=".65" stop-color="#3a6a78"/><stop offset="1" stop-color="#3a6a78"/></linearGradient><linearGradient id="g55" x1="0" y1="0" x2="1" y2="0"><stop offset="0" stop-color="#343e80"/><stop offset=".1" stop-color="#387383"/><stop offset=".35" stop-color="#3a8a84"/><stop offset=".65" stop-color="#7cbc5a"/><stop offset="1" stop-color="#b0d640"/></linearGradient><linearGradient id="g56" x1="0" y1="0" x2="1" y2="0"><stop offset="0" stop-color="#8ac84c"/><stop offset=".35" stop-color="#6ab460"/><stop offset=".65" stop-color="#60ae66"/><stop offset="1" stop-color="#7cbc58"/></linearGradient><linearGradient id="g57" x1="0" y1="0" x2="1" y2="0"><stop offset="0" stop-color="#3a4888"/><stop offset=".35" stop-color="#3a7288"/><stop offset=".65" stop-color="#3e8c84"/><stop offset="1" stop-color="#60aa6a"/></linearGradient><linearGradient id="g58" x1="0" y1="0" x2="1" y2="0"><stop offset="0" stop-color="#4a9a78"/><stop offset=".35" stop-color="#48967a"/><stop offset=".65" stop-color="#4a9a76"/><stop offset="1" stop-color="#52a070"/></linearGradient><linearGradient id="g59" x1="0" y1="0" x2="1" y2="0"><stop offset="0" stop-color="#4e9c74"/><stop offset=".35" stop-color="#4a9478"/><stop offset=".65" stop-color="#4a8e7a"/><stop offset="1" stop-color="#4a9478"/></linearGradient><linearGradient id="g60" x1="0" y1="0" x2="1" y2="0"><stop offset="0" stop-color="#5aa86a"/><stop offset=".35" stop-color="#4a9476"/><stop offset=".65" stop-color="#448c7c"/><stop offset="1" stop-color="#3e7c84"/></linearGradient><linearGradient id="g61" x1="0" y1="0" x2="1" y2="0"><stop offset="0" stop-color="#6ab062"/><stop offset=".35" stop-color="#4e9a72"/><stop offset=".65" stop-color="#3e7886"/><stop offset="1" stop-color="#3a6a88"/></linearGradient><linearGradient id="g62" x1="0" y1="0" x2="1" y2="0"><stop offset="0" stop-color="#7ab85a"/><stop offset=".35" stop-color="#74b45c"/><stop offset=".65" stop-color="#70b05e"/><stop offset="1" stop-color="#6aae60"/></linearGradient><linearGradient id="g63" x1="0" y1="0" x2="1" y2="0"><stop offset="0" stop-color="#62624e"/><stop offset=".35" stop-color="#806a46"/><stop offset=".65" stop-color="#826c46"/><stop offset="1" stop-color="#747442"/></linearGradient><linearGradient id="g64" x1="0" y1="0" x2="1" y2="0"><stop offset="0" stop-color="#626452"/><stop offset=".35" stop-color="#7c6a48"/><stop offset=".65" stop-color="#7e6c48"/><stop offset="1" stop-color="#6e7444"/></linearGradient><linearGradient id="g65" x1="0" y1="0" x2="1" y2="0"><stop offset="0" stop-color="#3e8a80"/><stop offset=".35" stop-color="#3a8a80"/><stop offset=".65" stop-color="#3a8682"/><stop offset="1" stop-color="#3a8a80"/></linearGradient><linearGradient id="g66" x1="0" y1="0" x2="1" y2="0"><stop offset="0" stop-color="#3a4a80"/><stop offset=".35" stop-color="#3a4a80"/><stop offset=".65" stop-color="#3a4680"/><stop offset="1" stop-color="#3a4680"/></linearGradient><linearGradient id="g67" x1="0" y1="0" x2="1" y2="0"><stop offset="0" stop-color="#42185e"/><stop offset=".35" stop-color="#441660"/><stop offset=".65" stop-color="#44145e"/><stop offset="1" stop-color="#44125e"/></linearGradient><linearGradient id="g68" x1="0" y1="0" x2="1" y2="0"><stop offset="0" stop-color="#eea08c"/><stop offset=".25" stop-color="#f8d0c4"/><stop offset=".48" stop-color="#ffffff"/><stop offset=".75" stop-color="#b8c0d8"/><stop offset="1" stop-color="#4a5a90"/></linearGradient><linearGradient id="g69" x1="0" y1="0" x2="0" y2="1"><stop offset="0" stop-color="#fde724"/><stop offset=".1" stop-color="#bdde26"/><stop offset=".2" stop-color="#79d151"/><stop offset=".3" stop-color="#44be70"/><stop offset=".4" stop-color="#22a784"/><stop offset=".5" stop-color="#20908c"/><stop offset=".6" stop-color="#29788e"/><stop offset=".7" stop-color="#345e8d"/><stop offset=".8" stop-color="#404387"/><stop offset=".9" stop-color="#482374"/><stop offset="1" stop-color="#440154"/></linearGradient><linearGradient id="g70" x1="0" y1="0" x2="0" y2="1"><stop offset="0" stop-color="#8e0c23"/><stop offset=".2" stop-color="#c83a3a"/><stop offset=".38" stop-color="#f0a890"/><stop offset=".5" stop-color="#fbf8f6"/><stop offset=".62" stop-color="#a8b8d8"/><stop offset=".8" stop-color="#3a60a0"/><stop offset="1" stop-color="#0e2d62"/></linearGradient></defs><text transform="translate(-0.5,8.8) scale(1.3,1)" font-size="10.8" font-weight="bold" fill="#000">a</text>
<text transform="translate(190.3,8.8) scale(1.3,1)" font-size="10.8" font-weight="bold" fill="#000">b</text>
<text transform="translate(371.5,9.3) scale(1.3,1)" font-size="10.8" font-weight="bold" fill="#000">c</text>
<text transform="translate(-0.6,196.6) scale(1.3,1)" font-size="10.8" font-weight="bold" fill="#000">d</text>
<text transform="translate(255.3,196.4) scale(1.3,1)" font-size="10.8" font-weight="bold" fill="#000">f</text>
<text transform="translate(495.2,196.6) scale(1.3,1)" font-size="10.8" font-weight="bold" fill="#000">h</text>
<text transform="translate(-0.5,463.5) scale(1.3,1)" font-size="10.8" font-weight="bold" fill="#000">e</text>
<text transform="translate(255.2,463.1) scale(1.3,1)" font-size="10.8" font-weight="bold" fill="#000">g</text>
<text transform="translate(495.5,463.1) scale(1.3,1)" font-size="10.8" font-weight="bold" fill="#000">i</text>
<text x="0.0" y="56.9" font-size="8.4" textLength="67.0" lengthAdjust="spacingAndGlyphs">hiPS cell-derived</text>
<text x="0.0" y="67.2" font-size="8.4" textLength="55.2" lengthAdjust="spacingAndGlyphs">macrophages</text>
<path d="M29.7 84.0 29.4 85.1 28.8 86.2 28.2 87.1 27.8 88.1 27.4 89.2 26.7 90.2 25.6 90.7 24.5 90.8 23.4 90.9 22.3 91.3 21.2 91.7 20.0 91.7 19.0 91.2 18.1 90.3 17.4 89.6 16.4 89.0 15.4 88.3 14.7 87.4 14.4 86.3 14.6 85.1 14.7 84.0 14.6 82.9 14.4 81.7 14.7 80.6 15.4 79.7 16.4 79.0 17.4 78.4 18.2 77.7 19.0 76.8 20.0 76.3 21.2 76.3 22.3 76.7 23.4 77.1 24.5 77.2 25.7 77.3 26.7 77.8 27.4 78.8 27.8 79.9 28.2 80.9 28.8 81.8 29.4 82.9Z" fill="#8a7ccb" />
<circle cx="22.6" cy="85.6" r="2.9" fill="#5b4bab" />
<path d="M42.8 95.3 42.5 96.4 41.9 97.5 41.3 98.4 40.9 99.4 40.5 100.5 39.8 101.5 38.8 102.0 37.6 102.1 36.5 102.2 35.4 102.6 34.3 103.0 33.1 103.0 32.1 102.5 31.2 101.6 30.5 100.9 29.5 100.3 28.5 99.6 27.8 98.7 27.5 97.6 27.7 96.4 27.8 95.3 27.7 94.2 27.5 93.0 27.8 91.9 28.5 91.0 29.5 90.3 30.5 89.7 31.2 89.0 32.1 88.1 33.1 87.6 34.3 87.6 35.4 88.0 36.5 88.4 37.6 88.5 38.8 88.6 39.8 89.1 40.5 90.1 40.9 91.2 41.3 92.2 41.9 93.1 42.5 94.2Z" fill="#8a7ccb" />
<circle cx="35.7" cy="96.9" r="2.9" fill="#5b4bab" />
<line x1="56.0" y1="76.5" x2="69.6" y2="61.6" stroke="#3b4e6e" stroke-width="1.1" />
<path d="M72.0 59.0 70.9 63.4 70.0 61.2 67.7 60.5Z" fill="#3b4e6e" />
<line x1="55.7" y1="102.8" x2="69.4" y2="117.9" stroke="#3b4e6e" stroke-width="1.1" />
<path d="M71.8 120.5 67.5 119.0 69.8 118.3 70.7 116.1Z" fill="#3b4e6e" />
<text x="91.7" y="9.0" font-size="8.4" textLength="63.3" lengthAdjust="spacingAndGlyphs">M1 macrophage</text>
<text x="91.7" y="19.3" font-size="8.4" textLength="40.1" lengthAdjust="spacingAndGlyphs">LPS/IFN-γ</text>
<text x="89.5" y="126.6" font-size="8.4" textLength="64.5" lengthAdjust="spacingAndGlyphs">M2 macrophage</text>
<text x="89.5" y="136.4" font-size="8.4" textLength="15.5" lengthAdjust="spacingAndGlyphs">IL-4</text>
<rect x="76.40" y="23.15" width="88.10" height="1.80" fill="url(#g1)" />
<path d="M170.1 24.1 164.2 21.7 165.2 24.1 164.2 26.4Z" fill="#cc2a32" />
<rect x="78.50" y="140.50" width="86.00" height="1.80" fill="url(#g2)" />
<path d="M170.1 141.4 164.2 139.0 165.2 141.4 164.2 143.8Z" fill="#cc2a32" />
<text x="75.6" y="39.3" font-size="7.2" fill="#333">0 h</text>
<text x="88.5" y="39.3" font-size="7.2" fill="#333">1 h</text>
<text x="105.0" y="39.3" font-size="7.2" fill="#333">6 h</text>
<text x="128.6" y="39.3" font-size="7.2" fill="#333">10 h</text>
<text x="160.0" y="39.3" font-size="7.2" fill="#333">24 h</text>
<line x1="80.4" y1="46.6" x2="167.5" y2="46.6" stroke="#666" stroke-width="0.6" />
<line x1="80.4" y1="43.3" x2="80.4" y2="46.6" stroke="#666" stroke-width="0.6" />
<line x1="93.3" y1="43.3" x2="93.3" y2="46.6" stroke="#666" stroke-width="0.6" />
<line x1="110.0" y1="43.3" x2="110.0" y2="46.6" stroke="#666" stroke-width="0.6" />
<line x1="135.0" y1="43.3" x2="135.0" y2="46.6" stroke="#666" stroke-width="0.6" />
<line x1="167.5" y1="43.3" x2="167.5" y2="46.6" stroke="#666" stroke-width="0.6" />
<text x="107.7" y="55.4" font-size="8.4" textLength="35.3" lengthAdjust="spacingAndGlyphs">SUM-seq</text>
<text x="75.6" y="155.6" font-size="7.2" fill="#333">0 h</text>
<text x="88.5" y="155.6" font-size="7.2" fill="#333">1 h</text>
<text x="105.0" y="155.6" font-size="7.2" fill="#333">6 h</text>
<text x="128.6" y="155.6" font-size="7.2" fill="#333">10 h</text>
<text x="160.0" y="155.6" font-size="7.2" fill="#333">24 h</text>
<line x1="80.4" y1="162.9" x2="167.5" y2="162.9" stroke="#666" stroke-width="0.6" />
<line x1="80.4" y1="159.6" x2="80.4" y2="162.9" stroke="#666" stroke-width="0.6" />
<line x1="93.3" y1="159.6" x2="93.3" y2="162.9" stroke="#666" stroke-width="0.6" />
<line x1="110.0" y1="159.6" x2="110.0" y2="162.9" stroke="#666" stroke-width="0.6" />
<line x1="135.0" y1="159.6" x2="135.0" y2="162.9" stroke="#666" stroke-width="0.6" />
<line x1="167.5" y1="159.6" x2="167.5" y2="162.9" stroke="#666" stroke-width="0.6" />
<text x="107.7" y="171.7" font-size="8.4" textLength="35.3" lengthAdjust="spacingAndGlyphs">SUM-seq</text>
<rect x="91.3" y="65.6" width="60.3" height="44.5" rx="6" ry="6" fill="#fff" stroke="#333" stroke-width="0.8"/>
<circle cx="98.7" cy="72.2" r="4.15" fill="#3bbfe8" stroke="#8a8a8a" stroke-width="0.35"/>
<circle cx="107.9" cy="72.2" r="4.15" fill="#f59e63" stroke="#8a8a8a" stroke-width="0.35"/>
<circle cx="117.2" cy="72.2" r="4.15" fill="#e9585b" stroke="#8a8a8a" stroke-width="0.35"/>
<circle cx="126.4" cy="72.2" r="4.15" fill="#b54c9f" stroke="#8a8a8a" stroke-width="0.35"/>
<circle cx="135.6" cy="72.2" r="4.15" fill="#6b3d98" stroke="#8a8a8a" stroke-width="0.35"/>
<circle cx="144.7" cy="72.2" r="4.15" fill="#d6d6d6" stroke="#8a8a8a" stroke-width="0.35"/>
<circle cx="98.7" cy="82.4" r="4.15" fill="#3bbfe8" stroke="#8a8a8a" stroke-width="0.35"/>
<circle cx="107.9" cy="82.4" r="4.15" fill="#f59e63" stroke="#8a8a8a" stroke-width="0.35"/>
<circle cx="117.2" cy="82.4" r="4.15" fill="#e9585b" stroke="#8a8a8a" stroke-width="0.35"/>
<circle cx="126.4" cy="82.4" r="4.15" fill="#b54c9f" stroke="#8a8a8a" stroke-width="0.35"/>
<circle cx="135.6" cy="82.4" r="4.15" fill="#6b3d98" stroke="#8a8a8a" stroke-width="0.35"/>
<circle cx="144.7" cy="82.4" r="4.15" fill="#d6d6d6" stroke="#8a8a8a" stroke-width="0.35"/>
<circle cx="98.7" cy="93.0" r="4.15" fill="#d6d6d6" stroke="#8a8a8a" stroke-width="0.35"/>
<circle cx="107.9" cy="93.0" r="4.15" fill="#badb7b" stroke="#8a8a8a" stroke-width="0.35"/>
<circle cx="117.2" cy="93.0" r="4.15" fill="#4fb489" stroke="#8a8a8a" stroke-width="0.35"/>
<circle cx="126.4" cy="93.0" r="4.15" fill="#0f7b74" stroke="#8a8a8a" stroke-width="0.35"/>
<circle cx="135.6" cy="93.0" r="4.15" fill="#0c3b5b" stroke="#8a8a8a" stroke-width="0.35"/>
<circle cx="144.7" cy="93.0" r="4.15" fill="#d6d6d6" stroke="#8a8a8a" stroke-width="0.35"/>
<circle cx="98.7" cy="102.2" r="4.15" fill="#d6d6d6" stroke="#8a8a8a" stroke-width="0.35"/>
<circle cx="107.9" cy="102.2" r="4.15" fill="#badb7b" stroke="#8a8a8a" stroke-width="0.35"/>
<circle cx="117.2" cy="102.2" r="4.15" fill="#4fb489" stroke="#8a8a8a" stroke-width="0.35"/>
<circle cx="126.4" cy="102.2" r="4.15" fill="#0f7b74" stroke="#8a8a8a" stroke-width="0.35"/>
<circle cx="135.6" cy="102.2" r="4.15" fill="#0c3b5b" stroke="#8a8a8a" stroke-width="0.35"/>
<circle cx="144.7" cy="102.2" r="4.15" fill="#d6d6d6" stroke="#8a8a8a" stroke-width="0.35"/>
<text x="71.0" y="74.0" font-size="6.6" textLength="15.3" lengthAdjust="spacingAndGlyphs" fill="#333">Rep1</text>
<text x="71.0" y="82.7" font-size="6.6" textLength="15.3" lengthAdjust="spacingAndGlyphs" fill="#333">Rep2</text>
<text x="71.0" y="95.0" font-size="6.6" textLength="15.3" lengthAdjust="spacingAndGlyphs" fill="#333">Rep1</text>
<text x="71.0" y="104.0" font-size="6.6" textLength="15.3" lengthAdjust="spacingAndGlyphs" fill="#333">Rep2</text>
<path d="M230.5 24.4 237.1 28.8 243.6 35.3 245.8 36.4 253.5 44.1 262.3 52.8 267.7 57.2 274.3 58.3 273.2 63.8 272.1 72.5 273.2 79.1 272.1 85.7 268.8 92.3 265.5 98.8 262.3 107.6 260.1 116.3 256.8 127.3 254.6 136.0 250.2 141.5 244.7 143.1 239.3 139.3 236.0 131.7 233.8 122.9 231.6 116.3 225.0 113.1 216.3 109.8 210.8 105.4 206.4 96.6 201.0 87.9 197.7 80.2 198.8 72.6 199.9 61.6 201.0 52.8 203.1 44.1 207.5 36.4 214.1 33.1 220.7 29.9 226.1 26.6Z" fill="url(#g3)" />
<path d="M265.5 98.8 262.3 107.6 260.1 116.3 256.8 127.3 254.6 136.0 250.2 141.5 244.7 143.1 239.3 139.3 236.0 131.7 233.8 122.9 231.6 116.3 230.0 110.0 236.0 105.0 246.0 102.0 256.0 100.0Z" fill="#c6ea93" />
<path transform="scale(.5)" d="M456 52h0m5 0h0m-2 2h0m-8 1h0m16 0h0m-20 3h0m8 1h0m9 0h0m-21 1h0m16 0h0m4 1h0m-21 1h0m17 1h0m3 0h0m15 0h0m4 2h0m-45 2h0m40 0h0m-32 1h0m12 0h0m-33 1h0m46 0h0m-37 1h0m24 0h0m9 0h0m13 0h0m5 0h0m-41 1h0m5 0h0m3 0h0m30 0h0m-62 1h0m18 0h0m6 0h0m11 0h0m7 0h0m-44 1h0m19 0h0m6 0h0m4 0h0m-20 1h0m14 1h0m10 1h0m6 0h0m7 0h0m25 0h0m-73 1h0m3 1h0m35 0h0m12 0h0m13 0h0m-42 1h0m9 0h0m5 0h0m-33 1h0m29 0h0m53 0h0m-70 1h0m3 0h0m9 0h0m20 0h0m11 0h0m2 0h0m15 0h0m-52 1h0m36 0h0m-45 1h0m21 0h0m52 0h0m-88 1h0m11 0h0m15 0h0m7 0h0m8 0h0m13 0h0m-53 2h0m31 0h0m35 0h0m11 0h0m6 0h0m-44 1h0m3 0h0m23 0h0m6 0h0m-27 1h0m48 0h0m-64 1h0m47 0h0m-78 1h0m52 0h0m17 0h0m-60 1h0m7 0h0m52 0h0m18 0h0m-80 1h0m42 0h0m10 0h0m13 0h0m12 0h0m-28 1h0m28 0h0m-69 1h0m52 0h0m19 0h0m-51 1h0m15 0h0m2 0h0m35 0h0m-65 1h0m71 0h0m-89 1h0m26 0h0m20 0h0m47 0h0m5 0h0m-97 1h0m6 0h0m4 0h0m22 0h0m25 0h0m-56 1h0m1 0h0m32 0h0m38 0h0m-75 1h0m11 0h0m9 0h0m20 0h0m16 0h0m-52 1h0m1 0h0m9 0h0m5 0h0m3 0h0m50 0h0m-26 1h0m-48 1h0m3 0h0m21 0h0m43 0h0m4 0h0m19 0h0m-85 1h0m90 0h0m3 0h0m4 0h0m-20 1h0m4 0h0m17 0h0m-97 1h0m22 0h0m5 0h0m11 0h0m7 0h0m2 0h0m42 0h0m-41 1h0m21 0h0m-71 1h0m9 0h0m12 0h0m7 0h0m1 0h0m-36 1h0m32 0h0m6 0h0m5 0h0m47 0h0m1 0h0m13 0h0m11 0h0m-111 1h0m18 0h0m60 0h0m12 0h0m-41 1h0m21 0h0m38 0h0m-89 1h0m5 0h0m2 0h0m43 0h0m-2 1h0m6 0h0m5 0h0m4 0h0m-49 1h0m58 0h0m1 0h0m-19 1h0m16 0h0m14 0h0m-81 1h0m23 0h0m39 0h0m26 0h0m-98 1h0m1 0h0m19 0h0m32 0h0m3 0h0m31 0h0m16 0h0m-54 1h0m14 0h0m4 0h0m10 0h0m32 0h0m-120 1h0m20 0h0m43 0h0m-13 1h0m2 0h0m35 0h0m1 0h0m10 0h0m-82 1h0m13 0h0m12 0h0m43 0h0m-82 1h0m57 0h0m16 0h0m19 0h0m13 0h0m30 0h0m-136 1h0m86 0h0m18 0h0m4 0h0m-101 1h0m60 0h0m4 0h0m19 0h0m5 0h0m23 0h0m11 0h0m-115 1h0m1 0h0m1 0h0m14 0h0m92 0h0m-125 1h0m79 0h0m16 0h0m21 0h0m1 0h0m-100 1h0m36 0h0m30 0h0m5 0h0m3 0h0m6 0h0m-81 1h0m40 0h0m2 0h0m36 0h0m1 0h0m6 0h0m-98 1h0m-11 1h0m77 0h0m4 0h0m40 0h0m22 0h0m-111 1h0m17 0h0m24 0h0m27 0h0m8 0h0m6 0h0m-108 1h0m55 0h0m7 0h0m13 0h0m19 0h0m-58 1h0m3 0h0m17 0h0m7 0h0m30 0h0m2 0h0m32 0h0m-91 1h0m14 0h0m25 0h0m8 0h0m26 0h0m7 0h0m-121 1h0m9 0h0m49 0h0m37 0h0m14 0h0m-109 1h0m9 0h0m8 0h0m61 0h0m13 0h0m-85 1h0m26 0h0m33 0h0m24 0h0m28 0h0m-98 1h0m19 0h0m52 0h0m2 0h0m18 0h0m3 0h0m6 0h0m-111 1h0m1 0h0m48 0h0m2 0h0m26 0h0m-80 1h0m38 0h0m3 0h0m51 0h0m2 0h0m-100 1h0m8 0h0m28 0h0m24 0h0m3 0h0m35 0h0m16 0h0m-106 1h0m24 0h0m47 0h0m25 0h0m-6 1h0m22 0h0m-96 1h0m29 0h0m14 0h0m2 0h0m20 0h0m11 0h0m8 0h0m11 0h0m-98 1h0m1 0h0m10 0h0m14 1h0m33 0h0m14 0h0m33 0h0m-121 1h0m70 0h0m-76 1h0m5 0h0m9 0h0m26 0h0m6 0h0m32 0h0m6 0h0m11 0h0m19 0h0m-96 1h0m17 0h0m4 0h0m75 0h0m6 0h0m-93 1h0m52 0h0m4 0h0m8 0h0m18 0h0m21 0h0m-89 1h0m2 0h0m3 0h0m61 0h0m2 0h0m10 0h0m-117 1h0m58 0h0m8 0h0m34 0h0m-37 1h0m-66 1h0m1 0h0m5 0h0m33 0h0m13 0h0m21 0h0m-36 1h0m19 0h0m4 0h0m13 0h0m29 0h0m9 0h0m11 0h0m9 0h0m-118 1h0m55 0h0m39 0h0m25 0h0m-86 1h0m5 0h0m15 0h0m65 0h0m-112 1h0m9 0h0m15 0h0m21 0h0m12 0h0m2 0h0m21 0h0m4 0h0m13 0h0m-114 1h0m10 0h0m61 0h0m27 0h0m41 0h0m-139 1h0m58 0h0m5 0h0m15 0h0m4 0h0m6 0h0m27 0h0m-82 1h0m3 0h0m43 0h0m5 0h0m32 0h0m-91 1h0m30 0h0m34 0h0m3 0h0m-64 1h0m18 0h0m7 0h0m19 0h0m37 0h0m6 0h0m-114 1h0m64 0h0m7 0h0m2 0h0m9 0h0m5 0h0m7 0h0m16 0h0m14 0h0m18 0h0m2 0h0m-51 1h0m15 0h0m10 0h0m-121 1h0m7 0h0m15 0h0m29 0h0m14 0h0m30 0h0m44 0h0m-129 1h0m14 0h0m16 0h0m36 0h0m10 0h0m14 0h0m4 0h0m11 0h0m-37 1h0m3 0h0m8 0h0m35 0h0m-78 1h0m43 0h0m1 0h0m-56 1h0m7 0h0m18 0h0m1 0h0m2 0h0m6 0h0m24 0h0m13 0h0m10 0h0m5 0h0m-91 1h0m3 0h0m18 0h0m23 0h0m14 0h0m21 0h0m-92 1h0m38 0h0m15 0h0m30 1h0m17 0h0m2 0h0m25 0h0m-106 1h0m28 0h0m56 0h0m-58 1h0m3 0h0m22 0h0m22 0h0m31 0h0m-129 1h0m42 0h0m7 0h0m63 0h0m-70 1h0m19 0h0m24 0h0m-71 1h0m35 0h0m6 0h0m45 0h0m8 0h0m20 0h0m-125 1h0m3 0h0m28 0h0m21 0h0m40 0h0m-67 1h0m96 0h0m-112 1h0m10 0h0m30 0h0m5 0h0m19 0h0m21 0h0m5 0h0m2 0h0m1 0h0m2 0h0m3 0h0m-91 1h0m1 0h0m70 0h0m4 0h0m-94 1h0m30 0h0m46 0h0m17 0h0m-49 1h0m64 1h0m-59 1h0m10 0h0m22 0h0m-62 1h0m79 0h0m22 0h0m-35 1h0m-6 1h0m28 0h0m1 0h0m-77 1h0m4 0h0m6 0h0m20 0h0m17 0h0m16 0h0m24 0h0m-82 1h0m15 0h0m36 0h0m14 0h0m-85 1h0m27 0h0m14 0h0m4 0h0m14 0h0m23 0h0m-39 1h0m15 0h0m16 0h0m20 0h0m-76 1h0m-13 1h0m74 0h0m-90 1h0m25 0h0m16 0h0m28 0h0m8 0h0m11 1h0m2 0h0m12 0h0m-95 1h0m2 0h0m38 0h0m22 0h0m23 1h0m-17 2h0m-66 1h0m41 0h0m24 1h0m-50 1h0m51 0h0m-19 2h0m9 0h0m-6 1h0m1 2h0m-42 3h0m14 0h0m7 0h0m1 0h0m-25 1h0m35 0h0m-21 3h0m-14 1h0m6 2h0m24 0h0m-13 2h0m4 5h0m5 2h0m6 2h0" stroke="#a8709c" stroke-width="2.8" stroke-linecap="square" fill="none"/>
<path transform="scale(.5)" d="M451 54h0m15 1h0m-5 1h0m-16 4h0m2 0h0m13 1h0m10 0h0m-24 4h0m-21 6h0m17 3h0m27 0h0m-32 4h0m24 3h0m-29 3h0m15 1h0m-8 1h0m-13 1h0m75 0h0m-77 1h0m4 0h0m26 0h0m-40 2h0m11 0h0m3 0h0m2 1h0m11 0h0m29 0h0m2 0h0m-54 1h0m-1 1h0m40 1h0m41 0h0m-54 1h0m-18 1h0m-18 2h0m15 0h0m66 1h0m-85 1h0m107 0h0m-65 2h0m36 1h0m-66 1h0m2 0h0m35 0h0m-35 2h0m14 1h0m2 0h0m24 0h0m11 0h0m-57 1h0m2 0h0m1 0h0m44 0h0m8 0h0m-5 1h0m-54 1h0m3 0h0m0 1h0m4 0h0m27 0h0m19 0h0m59 0h0m-90 2h0m10 0h0m66 0h0m-58 1h0m40 0h0m-59 1h0m13 0h0m-4 1h0m14 0h0m-33 1h0m-11 1h0m1 0h0m26 0h0m31 0h0m67 0h0m-79 1h0m-52 1h0m6 0h0m12 1h0m69 0h0m-21 1h0m2 0h0m-56 1h0m12 0h0m56 0h0m19 2h0m-83 1h0m48 0h0m-37 2h0m-4 1h0m5 0h0m1 0h0m22 1h0m-40 1h0m18 0h0m-25 1h0m25 0h0m18 0h0m-49 1h0m32 0h0m6 0h0m20 0h0m2 0h0m8 0h0m-68 1h0m12 0h0m22 0h0m2 0h0m4 0h0m-26 1h0m14 0h0m4 0h0m8 0h0m-20 1h0m-17 2h0m7 0h0m24 0h0m14 1h0m14 0h0m46 0h0m17 0h0m-124 1h0m3 0h0m11 0h0m20 0h0m26 0h0m49 0h0m-45 1h0m-25 1h0m8 0h0m1 0h0m25 0h0m31 0h0m-66 1h0m27 0h0m6 0h0m-7 1h0m22 0h0m1 1h0m29 0h0m-110 1h0m25 0h0m11 0h0m3 0h0m24 0h0m-50 1h0m14 0h0m42 0h0m24 0h0m-57 1h0m-39 1h0m3 0h0m4 0h0m5 0h0m7 0h0m2 0h0m14 0h0m47 0h0m-66 1h0m21 1h0m9 0h0m-23 1h0m51 0h0m-63 1h0m26 0h0m3 0h0m8 0h0m-38 1h0m1 0h0m6 0h0m7 0h0m33 0h0m1 0h0m80 0h0m-107 1h0m1 0h0m-31 1h0m1 0h0m10 0h0m3 0h0m6 0h0m48 0h0m-58 1h0m4 0h0m12 0h0m4 0h0m-24 1h0m14 0h0m20 0h0m26 0h0m-68 1h0m27 0h0m5 0h0m4 0h0m4 0h0m31 0h0m-61 1h0m9 0h0m7 0h0m21 0h0m6 0h0m-30 1h0m61 0h0m-84 1h0m29 0h0m4 0h0m18 0h0m14 0h0m33 0h0m-102 1h0m74 0h0m-61 1h0m13 0h0m16 0h0m1 0h0m2 0h0m-42 1h0m30 0h0m-25 1h0m19 0h0m3 0h0m10 0h0m8 0h0m38 0h0m-84 1h0m6 0h0m5 0h0m3 0h0m9 0h0m3 0h0m7 0h0m2 0h0m48 0h0m-50 2h0m5 0h0m3 0h0m5 0h0m-45 1h0m19 0h0m9 0h0m22 0h0m18 0h0m2 0h0m3 0h0m-69 1h0m4 0h0m37 0h0m-8 1h0m2 0h0m75 0h0m-106 1h0m29 0h0m20 0h0m58 0h0m-87 1h0m49 0h0m-64 1h0m86 0h0m26 0h0m-92 1h0m3 0h0m16 0h0m10 0h0m21 0h0m-59 1h0m3 0h0m1 0h0m12 0h0m18 0h0m21 0h0m2 1h0m-75 1h0m22 0h0m5 0h0m4 0h0m7 0h0m-15 1h0m17 0h0m-15 1h0m6 1h0m1 0h0m2 0h0m1 0h0m12 0h0m-47 1h0m22 0h0m14 0h0m4 0h0m4 1h0m13 0h0m3 0h0m32 0h0m11 0h0m-79 1h0m2 0h0m13 0h0m16 0h0m13 0h0m-65 1h0m1 0h0m7 0h0m2 0h0m6 0h0m51 0h0m30 0h0m12 0h0m7 0h0m-112 1h0m12 0h0m12 0h0m24 0h0m37 0h0m-72 1h0m36 0h0m7 0h0m40 0h0m-92 1h0m10 0h0m5 0h0m38 0h0m3 0h0m-51 1h0m-12 1h0m115 0h0m-56 1h0m39 0h0m-81 1h0m21 1h0m2 0h0m23 0h0m54 0h0m-70 1h0m-29 1h0m99 0h0m-93 1h0m-17 1h0m5 0h0m7 0h0m76 0h0m22 0h0m-84 1h0m0 1h0m5 0h0m-10 1h0m16 0h0m23 2h0m-35 1h0m-3 1h0m40 1h0m4 0h0m-44 1h0m7 0h0m14 0h0m-39 1h0m50 0h0m-35 1h0m37 0h0m-32 1h0m-12 1h0m3 0h0m5 0h0m4 1h0m18 0h0m-33 2h0m2 0h0m18 0h0m-20 1h0m2 0h0m27 0h0m-27 1h0m1 0h0m30 1h0m-24 3h0m3 1h0m-2 1h0m10 2h0m1 1h0m4 1h0m5 3h0" stroke="#fcd27a" stroke-width="2.8" stroke-linecap="square" fill="none"/>
<path transform="scale(.5)" d="M455 54h0m5 0h0m-14 3h0m19 0h0m-20 1h0m20 0h0m-8 1h0m9 0h0m-11 2h0m7 0h0m7 0h0m-30 1h0m17 0h0m1 0h0m8 0h0m-24 1h0m2 0h0m5 0h0m-10 1h0m36 0h0m-39 1h0m12 0h0m10 0h0m6 1h0m-31 1h0m27 0h0m8 0h0m15 0h0m-15 1h0m1 0h0m4 0h0m4 0h0m1 0h0m2 0h0m6 0h0m-42 1h0m14 0h0m22 0h0m2 0h0m1 0h0m-29 1h0m2 0h0m1 1h0m5 0h0m21 0h0m1 0h0m6 1h0m-57 1h0m24 0h0m14 0h0m16 0h0m-15 1h0m-24 1h0m6 0h0m24 0h0m13 0h0m-54 1h0m12 0h0m12 0h0m17 0h0m-49 1h0m3 0h0m22 0h0m-8 1h0m7 0h0m20 0h0m6 0h0m13 0h0m-40 1h0m11 0h0m19 0h0m8 0h0m5 0h0m-30 1h0m-13 1h0m25 0h0m7 0h0m7 0h0m-76 1h0m20 0h0m19 0h0m1 0h0m22 0h0m16 0h0m-37 1h0m10 0h0m13 0h0m-62 1h0m17 0h0m15 0h0m21 0h0m33 0h0m-76 1h0m44 0h0m25 0h0m4 0h0m-75 1h0m54 0h0m14 0h0m12 0h0m-95 1h0m24 0h0m11 0h0m32 0h0m6 0h0m1 0h0m16 0h0m4 0h0m-66 1h0m20 0h0m30 0h0m-46 1h0m11 0h0m1 0h0m22 0h0m5 0h0m21 0h0m4 0h0m-89 1h0m35 0h0m24 0h0m7 0h0m9 0h0m17 0h0m-31 1h0m7 0h0m7 0h0m4 0h0m-79 1h0m14 0h0m25 0h0m24 0h0m17 0h0m3 0h0m-25 1h0m6 0h0m10 0h0m-55 1h0m16 0h0m1 0h0m1 0h0m38 0h0m4 0h0m-34 1h0m18 0h0m14 0h0m11 0h0m4 0h0m-73 1h0m6 0h0m11 0h0m4 0h0m17 0h0m2 0h0m12 0h0m3 0h0m11 0h0m12 0h0m-85 1h0m39 0h0m3 0h0m42 0h0m-31 1h0m6 0h0m25 0h0m-57 1h0m44 0h0m12 0h0m-77 1h0m17 0h0m16 0h0m11 0h0m2 0h0m20 0h0m8 0h0m5 0h0m-66 1h0m19 0h0m1 0h0m6 0h0m6 0h0m1 0h0m3 0h0m6 0h0m17 0h0m-32 1h0m4 0h0m22 0h0m-51 1h0m16 0h0m7 0h0m22 0h0m9 0h0m6 0h0m-64 1h0m64 0h0m3 0h0m-63 1h0m1 0h0m15 0h0m11 0h0m9 0h0m23 0h0m2 0h0m11 0h0m-101 1h0m45 0h0m10 0h0m21 0h0m9 0h0m4 0h0m2 0h0m8 0h0m-111 1h0m31 0h0m20 0h0m21 0h0m2 0h0m1 0h0m8 0h0m6 0h0m-76 1h0m44 0h0m5 0h0m16 0h0m2 0h0m3 0h0m17 0h0m3 0h0m-66 1h0m2 0h0m3 0h0m34 0h0m17 0h0m7 0h0m6 0h0m-75 1h0m31 0h0m3 0h0m4 0h0m15 0h0m2 0h0m14 0h0m14 0h0m-75 1h0m27 0h0m1 0h0m43 0h0m4 0h0m-66 1h0m4 0h0m36 0h0m3 0h0m-47 1h0m5 0h0m26 0h0m19 0h0m20 0h0m-104 1h0m29 0h0m1 0h0m4 0h0m2 0h0m17 0h0m16 0h0m8 0h0m32 0h0m1 0h0m-106 1h0m19 0h0m7 0h0m29 0h0m28 0h0m13 0h0m-87 1h0m13 0h0m10 0h0m22 0h0m3 0h0m2 0h0m20 0h0m17 0h0m21 0h0m-127 1h0m4 0h0m3 0h0m24 0h0m39 0h0m15 0h0m5 0h0m-50 1h0m8 0h0m30 0h0m28 0h0m12 0h0m11 0h0m-139 1h0m88 0h0m20 0h0m6 0h0m-62 1h0m9 0h0m17 0h0m8 0h0m13 0h0m2 0h0m2 0h0m5 0h0m1 0h0m22 0h0m-90 1h0m3 0h0m23 0h0m2 0h0m22 0h0m16 0h0m21 0h0m-74 1h0m16 0h0m18 0h0m34 0h0m2 0h0m15 0h0m-136 1h0m6 0h0m54 0h0m33 0h0m8 0h0m27 0h0m-27 1h0m7 0h0m3 0h0m-36 1h0m21 0h0m18 0h0m25 0h0m1 0h0m-142 1h0m29 0h0m62 0h0m-35 1h0m26 0h0m-41 1h0m14 0h0m44 0h0m-36 1h0m4 0h0m13 0h0m10 0h0m5 0h0m14 0h0m6 0h0m3 0h0m5 0h0m-93 1h0m55 0h0m13 0h0m15 0h0m-116 1h0m17 0h0m4 0h0m50 0h0m6 0h0m11 0h0m9 0h0m13 0h0m18 0h0m1 0h0m-92 1h0m23 0h0m12 0h0m13 0h0m25 0h0m4 0h0m5 0h0m6 0h0m3 0h0m-104 1h0m4 0h0m12 0h0m10 0h0m41 0h0m6 0h0m5 0h0m6 0h0m8 0h0m-114 1h0m42 0h0m10 1h0m12 0h0m3 0h0m26 0h0m10 0h0m10 0h0m6 0h0m20 0h0m-96 1h0m1 0h0m31 0h0m39 0h0m17 0h0m-79 1h0m18 0h0m3 0h0m31 0h0m-78 1h0m14 0h0m45 0h0m6 0h0m5 0h0m1 0h0m18 0h0m-38 1h0m34 0h0m13 0h0m4 0h0m-55 1h0m32 0h0m5 0h0m9 0h0m-109 1h0m49 0h0m9 0h0m7 0h0m-9 1h0m1 0h0m2 0h0m10 0h0m-23 1h0m11 0h0m9 0h0m-71 1h0m43 0h0m79 0h0m5 0h0m6 0h0m-49 1h0m3 0h0m33 0h0m-25 1h0m6 0h0m-109 1h0m45 0h0m46 0h0m6 0h0m5 0h0m2 0h0m39 0h0m-95 1h0m13 0h0m-24 1h0m2 0h0m3 0h0m35 0h0m10 0h0m2 0h0m17 0h0m15 0h0m19 0h0m-51 1h0m9 0h0m16 0h0m-82 1h0m83 0h0m11 0h0m-53 1h0m8 0h0m17 0h0m-20 1h0m3 0h0m6 0h0m23 0h0m11 0h0m-57 1h0m3 0h0m59 0h0m-51 1h0m6 0h0m21 0h0m14 0h0m-72 1h0m35 0h0m22 0h0m33 0h0m1 0h0m4 0h0m2 0h0m-103 1h0m34 0h0m17 0h0m25 0h0m-37 1h0m11 0h0m12 0h0m22 0h0m12 0h0m6 0h0m-33 1h0m5 0h0m-35 1h0m27 0h0m10 0h0m24 0h0m-89 1h0m21 0h0m63 0h0m-58 1h0m13 0h0m51 0h0m-114 1h0m7 0h0m7 0h0m6 0h0m1 0h0m26 0h0m30 0h0m-45 1h0m2 0h0m59 1h0m-107 1h0m23 0h0m86 0h0m-44 1h0m20 0h0m13 0h0m9 0h0m-79 1h0m35 0h0m44 0h0m12 0h0m9 0h0m-88 1h0m57 0h0m7 0h0m-96 1h0m6 0h0m21 0h0m6 0h0m15 0h0m3 0h0m59 0h0m-68 1h0m24 0h0m12 0h0m37 0h0m-81 1h0m35 0h0m-69 1h0m47 0h0m32 0h0m2 0h0m4 0h0m31 0h0m-76 1h0m7 2h0m-52 1h0m50 0h0m50 0h0m17 0h0m-118 1h0m67 0h0m3 0h0m2 0h0m-77 1h0m32 0h0m41 0h0m23 0h0m6 0h0m-1 1h0m-87 1h0m29 0h0m32 0h0m6 0h0m51 0h0m-19 1h0m8 0h0m-58 1h0m23 0h0m-15 1h0m5 0h0m-49 1h0m11 0h0m81 0h0m4 0h0m-33 1h0m2 0h0m24 0h0m-17 1h0m14 0h0m-99 1h0m68 1h0m39 0h0m-3 1h0m-101 1h0m98 0h0m-94 1h0m53 0h0m-8 1h0m56 0h0m-32 1h0m-23 1h0m2 1h0m-7 2h0m8 2h0m10 2h0m-64 2h0m64 0h0m-36 1h0m30 0h0m-8 4h0m-48 1h0m13 0h0m21 2h0m-29 2h0m3 0h0m-5 1h0m9 0h0m16 1h0m-13 2h0m12 0h0" stroke="#3c3a7c" stroke-width="2.8" stroke-linecap="square" fill="none"/>
<path transform="scale(.5)" d="M463 52h0m-9 10h0m13 4h0m15 2h0m-8 2h0m-33 1h0m-17 5h0m4 2h0m-11 2h0m4 1h0m-11 3h0m14 2h0m38 0h0m-42 3h0m7 2h0m29 0h0m20 2h0m-15 1h0m-13 1h0m-13 1h0m31 1h0m-24 4h0m-4 4h0m-4 1h0m15 0h0m17 1h0m-36 2h0m57 0h0m11 1h0m-58 1h0m34 0h0m-34 1h0m73 1h0m-86 1h0m-15 2h0m36 0h0m-16 1h0m85 2h0m-83 2h0m38 1h0m44 1h0m-59 3h0m46 0h0m-7 7h0m-50 1h0m30 1h0m19 1h0m-90 1h0m70 1h0m39 0h0m4 0h0m-46 4h0m-50 1h0m54 0h0m-11 1h0m10 4h0m28 7h0m-88 1h0m19 0h0m29 0h0m4 0h0m-71 2h0m108 2h0m-70 1h0m44 0h0m-45 3h0m24 0h0m27 0h0m24 2h0m-72 1h0m5 0h0m-20 1h0m38 0h0m-54 1h0m12 1h0m17 1h0m22 0h0m-6 2h0m-45 1h0m53 0h0m46 1h0m-47 1h0m40 0h0m-21 1h0m14 0h0m36 0h0m-116 1h0m52 0h0m-33 1h0m14 0h0m57 0h0m-93 1h0m18 0h0m37 0h0m-31 1h0m34 0h0m32 0h0m-65 1h0m24 0h0m44 0h0m-85 1h0m17 0h0m18 0h0m67 1h0m-64 1h0m2 0h0m-15 1h0m27 0h0m64 0h0m-119 1h0m24 0h0m12 0h0m37 0h0m1 0h0m18 0h0m-88 1h0m14 0h0m5 0h0m19 0h0m9 0h0m18 0h0m40 0h0m-95 1h0m15 0h0m4 0h0m4 0h0m8 0h0m3 0h0m4 0h0m3 0h0m-54 1h0m7 0h0m36 0h0m11 1h0m2 0h0m12 0h0m-52 1h0m19 0h0m24 0h0m-49 1h0m55 0h0m4 0h0m-60 1h0m8 0h0m31 0h0m28 0h0m18 0h0m-83 1h0m29 0h0m20 0h0m10 0h0m2 0h0m-40 1h0m15 0h0m19 0h0m4 0h0m13 0h0m-73 1h0m19 0h0m9 0h0m33 0h0m2 0h0m11 0h0m-73 1h0m2 0h0m64 0h0m22 0h0m-58 1h0m8 0h0m7 0h0m7 0h0m13 0h0m13 0h0m-75 1h0m30 0h0m37 0h0m-77 1h0m4 0h0m29 0h0m-10 1h0m4 0h0m7 0h0m13 0h0m4 0h0m11 0h0m-10 1h0m7 0h0m-30 1h0m6 0h0m36 0h0m-60 1h0m13 0h0m19 0h0m11 0h0m16 0h0m-60 1h0m4 0h0m19 0h0m6 0h0m27 0h0m-50 1h0m47 0h0m-58 1h0m5 0h0m12 0h0m11 0h0m-26 1h0m10 0h0m9 0h0m-18 1h0m36 0h0m3 0h0m-35 1h0m39 0h0m2 0h0m-23 1h0m7 0h0m-26 1h0m30 0h0m9 0h0m-15 1h0m13 0h0m-21 1h0m1 0h0m18 0h0m-31 1h0m29 1h0m-16 1h0m3 0h0m-11 1h0m-4 1h0m2 0h0m3 0h0m22 0h0m-14 1h0m14 0h0m-20 1h0m11 1h0m0 1h0m6 0h0m2 0h0m-10 1h0m1 0h0m3 1h0m5 0h0m2 1h0m-4 1h0m1 1h0" stroke="#38c4ee" stroke-width="2.8" stroke-linecap="square" fill="none"/>
<path transform="scale(.5)" d="M459 51h0m0 3h0m4 0h0m1 0h0m-3 1h0m-10 1h0m-3 2h0m22 0h0m-31 3h0m4 0h0m12 0h0m18 0h0m-22 1h0m16 0h0m2 0h0m-20 1h0m3 0h0m-17 1h0m24 0h0m-24 1h0m6 0h0m3 0h0m28 0h0m4 0h0m-42 1h0m1 0h0m1 0h0m10 0h0m11 0h0m5 0h0m7 0h0m-42 1h0m6 0h0m5 0h0m1 0h0m-15 1h0m12 0h0m2 0h0m9 0h0m23 0h0m-19 1h0m24 0h0m1 1h0m5 0h0m-63 1h0m16 0h0m3 0h0m4 0h0m11 0h0m4 0h0m17 0h0m14 0h0m-49 1h0m-14 1h0m39 0h0m-40 1h0m2 0h0m4 0h0m1 0h0m3 0h0m8 0h0m11 0h0m12 0h0m-27 1h0m37 0h0m10 0h0m6 0h0m-72 1h0m7 0h0m9 0h0m15 0h0m33 0h0m-52 1h0m64 0h0m-71 1h0m9 0h0m10 0h0m14 0h0m20 0h0m-61 1h0m27 0h0m7 0h0m8 0h0m39 0h0m-74 1h0m1 0h0m25 0h0m1 0h0m46 0h0m-75 1h0m17 0h0m-23 1h0m10 0h0m3 0h0m3 0h0m14 0h0m2 0h0m12 0h0m20 0h0m-22 1h0m28 0h0m14 0h0m4 0h0m-78 1h0m4 0h0m2 0h0m1 0h0m6 0h0m56 0h0m-79 1h0m1 0h0m29 0h0m21 0h0m-31 1h0m25 0h0m11 0h0m3 0h0m17 0h0m6 0h0m6 0h0m-72 1h0m21 0h0m8 0h0m-33 1h0m7 0h0m20 0h0m-40 1h0m62 0h0m3 0h0m-66 1h0m48 0h0m12 0h0m34 0h0m-78 1h0m13 0h0m34 0h0m8 0h0m22 0h0m-90 1h0m44 0h0m23 0h0m18 0h0m7 0h0m-68 1h0m-2 1h0m60 0h0m-87 1h0m6 0h0m18 0h0m32 0h0m18 0h0m-66 1h0m8 0h0m23 0h0m18 0h0m4 0h0m8 0h0m13 0h0m-78 1h0m4 0h0m39 0h0m13 0h0m22 0h0m11 0h0m-75 1h0m3 0h0m19 0h0m10 0h0m14 0h0m26 0h0m-92 1h0m24 0h0m0 1h0m22 0h0m-29 1h0m8 0h0m4 0h0m1 0h0m9 0h0m17 0h0m13 0h0m4 0h0m38 0h0m-110 1h0m23 0h0m28 0h0m30 0h0m12 0h0m-91 1h0m3 0h0m50 0h0m13 0h0m14 0h0m19 0h0m-84 1h0m2 0h0m7 0h0m4 0h0m15 0h0m1 0h0m12 0h0m12 0h0m3 0h0m7 0h0m18 0h0m-76 1h0m1 0h0m5 0h0m18 0h0m31 0h0m18 0h0m17 0h0m-115 1h0m2 0h0m10 0h0m22 0h0m18 0h0m5 0h0m1 0h0m-58 1h0m68 0h0m14 0h0m27 0h0m-97 1h0m1 0h0m8 0h0m1 0h0m18 0h0m31 0h0m11 0h0m29 0h0m-108 1h0m75 0h0m25 0h0m11 0h0m-116 1h0m21 0h0m5 0h0m19 0h0m3 0h0m27 0h0m16 0h0m9 0h0m-98 1h0m11 0h0m3 0h0m23 0h0m18 0h0m19 0h0m1 0h0m41 0h0m-113 1h0m38 0h0m2 0h0m6 0h0m7 0h0m34 0h0m6 0h0m15 0h0m-102 1h0m5 0h0m2 0h0m83 0h0m-70 1h0m7 0h0m-35 1h0m7 0h0m12 0h0m4 0h0m-13 1h0m22 0h0m20 0h0m14 0h0m53 0h0m-124 1h0m16 0h0m8 0h0m20 0h0m33 0h0m11 0h0m1 0h0m12 0h0m-100 1h0m22 0h0m5 0h0m10 0h0m45 0h0m28 0h0m-104 1h0m11 0h0m18 0h0m55 0h0m12 0h0m13 0h0m-100 1h0m-11 1h0m20 0h0m57 0h0m31 0h0m-101 1h0m17 0h0m14 0h0m12 0h0m3 0h0m25 0h0m3 0h0m3 0h0m35 0h0m-122 1h0m18 0h0m18 0h0m23 0h0m37 1h0m-96 1h0m104 0h0m7 0h0m-99 1h0m24 0h0m42 0h0m5 0h0m26 0h0m-46 1h0m21 0h0m1 0h0m35 0h0m-124 1h0m4 0h0m43 0h0m43 0h0m-76 1h0m28 0h0m14 0h0m7 0h0m8 0h0m4 0h0m2 0h0m32 0h0m-100 1h0m3 0h0m26 0h0m101 0h0m-140 1h0m68 0h0m44 0h0m-110 1h0m12 0h0m3 0h0m28 0h0m24 0h0m3 0h0m71 0h0m1 0h0m-104 1h0m37 0h0m-45 1h0m47 0h0m39 0h0m-107 1h0m5 0h0m9 0h0m10 0h0m36 0h0m33 0h0m-103 1h0m2 0h0m16 0h0m1 0h0m8 0h0m12 0h0m32 0h0m38 0h0m-86 1h0m2 0h0m16 0h0m3 0h0m11 0h0m2 0h0m36 0h0m47 0h0m-135 1h0m2 0h0m20 0h0m12 0h0m17 0h0m27 0h0m-65 1h0m1 0h0m77 0h0m-62 1h0m1 0h0m15 0h0m23 0h0m2 0h0m1 0h0m3 0h0m1 0h0m10 0h0m15 0h0m28 0h0m-131 1h0m2 0h0m63 0h0m12 0h0m5 0h0m21 0h0m1 0h0m-102 1h0m10 0h0m6 0h0m31 0h0m10 0h0m38 0h0m-81 1h0m9 0h0m15 0h0m1 0h0m32 0h0m60 0h0m-129 1h0m13 0h0m20 0h0m67 0h0m18 0h0m-100 1h0m20 0h0m46 0h0m11 0h0m34 0h0m-126 1h0m11 0h0m6 0h0m50 0h0m27 0h0m21 0h0m-97 1h0m20 0h0m29 0h0m23 0h0m-102 1h0m3 0h0m11 0h0m21 0h0m47 0h0m13 0h0m24 0h0m2 0h0m-110 1h0m9 0h0m52 0h0m29 0h0m6 0h0m40 0h0m1 0h0m-107 1h0m5 0h0m76 0h0m-113 1h0m18 0h0m29 0h0m8 0h0m20 0h0m-55 1h0m86 0h0m1 0h0m20 0h0m-120 1h0m14 0h0m4 0h0m4 0h0m25 0h0m23 0h0m15 0h0m34 0h0m1 0h0m7 0h0m-134 1h0m32 0h0m5 0h0m30 0h0m15 0h0m5 0h0m2 0h0m-84 1h0m2 0h0m6 0h0m19 0h0m27 0h0m34 0h0m8 0h0m30 0h0m-136 1h0m18 0h0m19 0h0m43 0h0m10 0h0m2 0h0m6 0h0m22 0h0m-120 1h0m17 0h0m63 0h0m1 0h0m12 0h0m7 0h0m-98 1h0m37 0h0m47 0h0m-89 1h0m3 0h0m2 0h0m31 0h0m32 0h0m15 0h0m32 0h0m-91 1h0m30 0h0m19 0h0m7 0h0m8 0h0m1 0h0m3 0h0m22 0h0m12 0h0m-92 1h0m7 0h0m33 0h0m5 0h0m8 0h0m15 0h0m16 0h0m-85 1h0m21 0h0m31 0h0m5 0h0m9 0h0m13 0h0m4 0h0m-106 1h0m10 0h0m35 0h0m14 0h0m1 0h0m19 0h0m21 0h0m1 0h0m-69 1h0m15 0h0m9 0h0m10 0h0m10 0h0m3 0h0m46 0h0m4 0h0m-120 1h0m6 0h0m5 0h0m76 0h0m-104 1h0m6 0h0m68 0h0m10 0h0m8 0h0m1 0h0m29 0h0m3 0h0m-103 1h0m47 0h0m40 0h0m-108 1h0m7 0h0m43 0h0m16 0h0m40 0h0m5 0h0m6 0h0m-118 1h0m9 0h0m3 0h0m10 0h0m45 0h0m20 0h0m4 0h0m25 0h0m-81 1h0m8 0h0m21 0h0m18 0h0m20 0h0m18 0h0m7 0h0m-125 1h0m12 0h0m6 0h0m3 0h0m54 0h0m5 0h0m1 0h0m32 0h0m-76 1h0m5 0h0m20 0h0m9 0h0m3 0h0m12 0h0m2 0h0m32 0h0m-106 1h0m13 0h0m59 0h0m11 0h0m10 0h0m7 0h0m-103 1h0m13 0h0m4 0h0m20 0h0m6 0h0m4 0h0m16 0h0m7 0h0m48 0h0m7 0h0m-122 1h0m6 0h0m60 0h0m37 0h0m3 0h0m7 0h0m-83 1h0m3 0h0m21 0h0m24 0h0m7 0h0m-72 1h0m38 0h0m5 0h0m28 0h0m17 0h0m22 0h0m-128 1h0m46 0h0m7 0h0m5 0h0m11 0h0m18 0h0m5 0h0m12 0h0m17 0h0m-125 1h0m17 0h0m3 0h0m27 0h0m13 0h0m6 0h0m18 0h0m26 0h0m-93 1h0m39 0h0m8 0h0m17 0h0m13 0h0m34 0h0m-126 1h0m25 0h0m7 0h0m17 0h0m41 0h0m6 0h0m20 0h0m6 0h0m-123 1h0m77 0h0m9 0h0m4 0h0m12 0h0m12 0h0m-100 1h0m32 0h0m20 0h0m7 0h0m4 0h0m26 0h0m5 0h0m17 0h0m-124 1h0m67 0h0m27 0h0m13 0h0m20 0h0m-118 1h0m87 0h0m2 0h0m14 0h0m-107 1h0m1 0h0m35 0h0m9 0h0m4 0h0m8 0h0m12 0h0m29 0h0m-99 1h0m10 0h0m64 0h0m25 0h0m-89 1h0m23 0h0m4 0h0m3 0h0m11 0h0m3 0h0m23 0h0m41 0h0m-101 1h0m2 0h0m75 0h0m9 0h0m-104 1h0m49 0h0m23 0h0m30 0h0m20 0h0m-88 1h0m48 0h0m4 0h0m7 0h0m7 0h0m17 0h0m-113 1h0m24 0h0m42 0h0m12 0h0m33 0h0m2 0h0m-99 1h0m13 0h0m12 0h0m7 0h0m18 0h0m15 0h0m28 0h0m-75 1h0m19 0h0m15 0h0m5 0h0m-53 1h0m1 0h0m7 0h0m1 0h0m11 0h0m15 0h0m40 0h0m-73 1h0m45 0h0m16 0h0m21 0h0m-46 1h0m42 0h0m-97 1h0m27 0h0m40 0h0m34 0h0m7 0h0m-105 1h0m11 0h0m7 0h0m10 0h0m24 0h0m8 0h0m22 0h0m-7 1h0m-70 1h0m9 0h0m37 0h0m-4 1h0m32 0h0m-67 1h0m60 0h0m-59 1h0m12 1h0m12 0h0m-12 1h0m16 0h0m14 0h0m3 0h0m3 0h0m-25 1h0m2 0h0m-23 1h0m25 0h0m8 0h0m10 0h0m-54 1h0m10 0h0m24 0h0m-36 1h0m19 0h0m26 0h0m-18 1h0m-12 1h0m3 0h0m20 0h0m-11 1h0m0 2h0m-3 2h0m10 1h0m-9 1h0m2 1h0m2 4h0m6 0h0m-8 2h0" stroke="#f8987a" stroke-width="2.8" stroke-linecap="square" fill="none"/>
<path transform="scale(.5)" d="M526 199h0m-14 1h0m-9 2h0m16 0h0m10 0h0m-17 2h0m6 0h0m-13 2h0m1 0h0m5 0h0m16 0h0m-14 1h0m8 0h0m4 0h0m-42 1h0m24 0h0m8 0h0m3 0h0m4 0h0m-27 1h0m2 0h0m4 0h0m4 0h0m1 0h0m6 0h0m8 0h0m-30 1h0m12 0h0m8 0h0m10 0h0m-50 1h0m9 0h0m8 0h0m11 0h0m11 0h0m1 0h0m-34 1h0m3 0h0m10 0h0m3 0h0m8 0h0m12 0h0m5 0h0m3 0h0m5 0h0m-51 1h0m7 0h0m2 0h0m6 0h0m5 0h0m2 0h0m2 0h0m12 0h0m6 0h0m4 0h0m-52 1h0m3 0h0m6 0h0m2 0h0m11 0h0m8 0h0m1 0h0m12 0h0m3 0h0m-48 1h0m8 0h0m11 0h0m24 0h0m1 0h0m2 0h0m3 0h0m-44 1h0m4 0h0m5 0h0m3 0h0m22 0h0m17 0h0m1 0h0m1 0h0m-60 1h0m12 0h0m1 0h0m18 0h0m6 0h0m8 0h0m2 0h0m3 0h0m1 0h0m1 0h0m7 0h0m-57 1h0m1 0h0m3 0h0m2 0h0m6 0h0m4 0h0m1 0h0m11 0h0m1 0h0m5 0h0m7 0h0m3 0h0m5 0h0m1 0h0m7 0h0m-60 1h0m11 0h0m17 0h0m7 0h0m1 0h0m9 0h0m2 0h0m5 0h0m7 0h0m-47 1h0m3 0h0m1 0h0m8 0h0m5 0h0m1 0h0m4 0h0m4 0h0m1 0h0m4 0h0m2 0h0m-45 1h0m3 0h0m15 0h0m3 0h0m6 0h0m5 0h0m3 0h0m3 0h0m4 0h0m3 0h0m13 0h0m1 0h0m-61 1h0m9 0h0m3 0h0m9 0h0m7 0h0m5 0h0m6 0h0m2 0h0m2 0h0m8 0h0m-51 1h0m2 0h0m4 0h0m6 0h0m1 0h0m11 0h0m8 0h0m13 0h0m3 0h0m4 0h0m-50 1h0m3 0h0m5 0h0m5 0h0m5 0h0m3 0h0m25 0h0m7 0h0m-50 1h0m8 0h0m8 0h0m1 0h0m9 0h0m2 0h0m12 0h0m1 0h0m2 0h0m-25 1h0m1 0h0m8 0h0m2 0h0m5 0h0m4 0h0m13 0h0m-55 1h0m4 0h0m4 0h0m4 0h0m3 0h0m4 0h0m6 0h0m21 0h0m5 0h0m-50 1h0m1 0h0m20 0h0m2 0h0m30 0h0m5 0h0m-44 1h0m12 0h0m7 0h0m4 0h0m5 0h0m4 0h0m-46 1h0m4 0h0m1 0h0m2 0h0m2 0h0m5 0h0m3 0h0m2 0h0m22 0h0m6 0h0m3 0h0m2 0h0m-44 1h0m7 0h0m8 0h0m1 0h0m11 0h0m5 0h0m4 0h0m4 0h0m5 0h0m-41 1h0m6 0h0m5 0h0m28 0h0m2 0h0m-39 1h0m6 0h0m1 0h0m32 0h0m-49 1h0m2 0h0m8 0h0m6 0h0m5 0h0m5 0h0m2 0h0m11 0h0m2 0h0m3 0h0m5 0h0m-50 1h0m3 0h0m12 0h0m6 0h0m9 0h0m6 0h0m9 0h0m4 0h0m2 0h0m-46 1h0m4 0h0m3 0h0m3 0h0m9 0h0m2 0h0m2 0h0m4 0h0m3 0h0m8 0h0m-44 1h0m16 0h0m11 0h0m12 0h0m-23 1h0m2 0h0m6 0h0m4 0h0m3 0h0m11 0h0m-39 1h0m2 0h0m6 0h0m12 0h0m2 0h0m21 0h0m4 0h0m2 0h0m-51 1h0m16 0h0m3 0h0m8 0h0m1 0h0m1 0h0m12 0h0m3 0h0m5 0h0m2 0h0m-51 1h0m4 0h0m1 0h0m6 0h0m2 0h0m8 0h0m4 0h0m1 0h0m11 0h0m11 0h0m4 0h0m-44 1h0m6 0h0m7 0h0m14 0h0m12 0h0m3 0h0m-8 1h0m3 0h0m1 0h0m3 0h0m-46 1h0m12 0h0m2 0h0m5 0h0m7 0h0m6 0h0m3 0h0m3 0h0m-20 1h0m8 0h0m12 0h0m-21 1h0m13 0h0m-23 1h0m11 0h0m17 0h0m3 0h0m-26 1h0m2 0h0m12 0h0m2 0h0m1 0h0m2 0h0m13 0h0m1 0h0m-33 1h0m1 0h0m2 0h0m2 0h0m10 0h0m11 0h0m3 0h0m-26 1h0m13 0h0m1 0h0m9 0h0m1 0h0m-11 1h0m3 0h0m10 0h0m-38 1h0m12 0h0m4 0h0m9 0h0m10 0h0m1 0h0m-28 1h0m11 0h0m17 0h0m1 0h0m-35 1h0m5 0h0m1 0h0m4 0h0m7 0h0m2 0h0m5 0h0m2 0h0m12 0h0m-42 1h0m14 0h0m5 0h0m2 0h0m7 0h0m11 0h0m-22 1h0m5 0h0m1 0h0m3 0h0m8 0h0m-26 1h0m5 0h0m1 0h0m1 0h0m11 0h0m14 0h0m-36 1h0m9 0h0m2 0h0m4 0h0m3 0h0m10 0h0m4 0h0m-34 1h0m40 0h0m-35 1h0m2 0h0m12 0h0m3 0h0m-21 1h0m1 0h0m10 0h0m4 0h0m7 0h0m9 0h0m8 0h0m-38 1h0m3 0h0m3 0h0m4 0h0m9 0h0m3 0h0m1 0h0m4 0h0m-29 1h0m8 0h0m4 0h0m9 0h0m11 0h0m4 0h0m-32 1h0m9 0h0m2 0h0m2 0h0m12 0h0m3 0h0m-29 1h0m15 0h0m6 0h0m1 0h0m5 0h0m1 0h0m1 0h0m-27 1h0m1 0h0m5 0h0m13 0h0m14 0h0m-28 1h0m9 0h0m4 0h0m-17 1h0m7 0h0m5 0h0m-5 1h0m1 0h0m2 0h0m13 0h0m-20 1h0m12 0h0m2 0h0m4 0h0m-23 1h0m2 0h0m4 0h0m3 0h0m4 0h0m10 0h0m6 0h0m-15 1h0m3 0h0m1 0h0m-17 1h0m3 0h0m3 0h0m13 0h0m9 0h0m-17 1h0m-8 1h0m14 0h0m-4 1h0m6 0h0m1 0h0m4 0h0m-7 1h0m5 0h0m2 0h0m-19 1h0m15 0h0m3 0h0m-20 1h0m5 0h0m5 0h0m1 0h0m7 0h0m-17 1h0m1 0h0m21 0h0m-18 1h0m2 0h0m11 0h0m-13 1h0m1 0h0m8 0h0m7 0h0m-9 1h0m-1 1h0m3 0h0m2 0h0m-5 1h0m-2 1h0" stroke="#c6ea93" stroke-width="2.6" stroke-linecap="square" fill="none"/>
<path transform="scale(.5)" d="M527 199h0m-9 3h0m6 1h0m-21 1h0m0 1h0m22 0h0m-35 1h0m6 1h0m6 0h0m25 0h0m-47 1h0m1 0h0m20 0h0m-25 1h0m37 0h0m4 0h0m-36 1h0m3 0h0m-1 1h0m5 0h0m28 0h0m9 0h0m-28 1h0m13 12h0m-11 23h0" stroke="#38c4ee" stroke-width="2.6" stroke-linecap="square" fill="none"/>
<path transform="scale(.5)" d="M529 199h0m-12 8h0m6 0h0m-32 1h0m5 0h0m-18 1h0m36 1h0m4 4h0m-26 3h0m5 35h0m-5 8h0m8 8h0" stroke="#f8987a" stroke-width="2.6" stroke-linecap="square" fill="none"/>
<path transform="scale(.5)" d="M530 199h0m-3 2h0m-15 3h0m-1 2h0m0 1h0m-5 3h0m12 0h0m-46 1h0m7 0h0m11 1h0m-1 13h0m24 11h0m-36 14h0m16 6h0m-14 8h0m13 11h0" stroke="#fcd27a" stroke-width="2.6" stroke-linecap="square" fill="none"/>
<path transform="scale(.5)" d="M515 103h0m5 0h0m8 1h0m3 2h0m-5 2h0m4 0h0m1 2h0m-3 2h0m8 0h0m-7 1h0m2 1h0m15 2h0m-12 1h0m11 0h0m1 2h0m1 3h0m-2 3h0m-2 1h0m2 1h0m1 11h0m-3 1h0m2 1h0m-3 1h0m0 7h0m3 0h0m1 1h0m2 0h0m-2 2h0m-1 4h0m-2 4h0m4 6h0m-3 1h0m-5 5h0m4 2h0m1 0h0m3 2h0m-10 1h0m4 1h0m-4 9h0m4 0h0m-5 3h0m0 2h0m-5 5h0m4 0h0m-15 2h0m9 0h0m-12 2h0m1 0h0m7 0h0m-4 1h0m2 0h0m-110 1h0m7 1h0m96 0h0m-92 2h0m87 0h0m5 0h0m-97 3h0m2 0h0m1 1h0m3 1h0m-6 1h0m0 1h0m1 1h0m1 0h0m0 1h0m2 0h0m56 0h0m-1 1h0m-51 1h0m3 0h0m-5 1h0m9 0h0m35 0h0m9 0h0m-50 1h0m5 0h0m31 0h0m13 0h0m-42 1h0m35 0h0m-34 1h0m26 0h0m1 0h0m3 0h0m4 0h0m5 0h0m-15 1h0m5 0h0m-1 1h0m-11 1h0m11 0h0m2 1h0m-23 1h0m1 0h0m5 0h0m2 1h0m10 0h0m-16 1h0m8 0h0m1 0h0" stroke="#38c4ee" stroke-width="2.2" stroke-linecap="square" fill="none"/>
<path transform="scale(.5)" d="M462 45h0m9 8h0m-31 1h0m33 2h0m-27 1h0m2 0h0m17 0h0m-22 3h0m-12 1h0m-2 3h0m-7 2h0m1 3h0m-5 5h0m-1 1h0m-8 4h0m-5 17h0m121 6h0m-123 1h0m120 3h0m8 3h0m-133 2h0m143 2h0m-141 1h0m2 1h0m140 0h0m1 0h0m-137 1h0m-7 1h0m140 0h0m5 0h0m-144 4h0m148 5h0m1 2h0m-148 1h0m146 0h0m-4 5h0m3 1h0m-148 1h0m3 1h0m150 0h0m-2 1h0m-1 1h0m-151 5h0m0 1h0m145 3h0m-146 3h0m149 0h0m-146 1h0m147 2h0m-1 2h0m3 2h0m-151 2h0m0 2h0m151 0h0m-153 2h0m4 0h0m145 2h0m-144 2h0m1 0h0m147 4h0m-149 1h0m148 0h0m-144 3h0m138 0h0m-139 2h0m3 0h0m133 1h0m-135 1h0m132 2h0m-126 2h0m2 1h0m-5 2h0m126 2h0m3 0h0m-124 1h0m2 0h0m122 0h0m-123 2h0m9 4h0m114 0h0m-4 2h0m-116 1h0m0 4h0m5 1h0m96 0h0m-10 1h0m8 0h0m-94 2h0m92 0h0m-85 2h0m69 0h0m1 0h0m11 2h0m-19 2h0m1 0h0m-61 3h0m46 0h0m6 0h0m-14 1h0m3 0h0m-37 1h0m42 0h0m-38 1h0m29 0h0m-34 1h0m9 2h0m13 0h0m16 0h0m-27 2h0m18 0h0m-20 1h0m10 0h0m5 1h0" stroke="#fcd27a" stroke-width="2.2" stroke-linecap="square" fill="none"/>
<path transform="scale(.5)" d="M460 49h0m-13 1h0m15 4h0m10 0h0m-15 1h0m19 1h0m-29 1h0m21 0h0m-21 1h0m29 0h0m-33 1h0m3 0h0m23 0h0m5 0h0m2 0h0m3 1h0m-38 2h0m-4 1h0m42 0h0m-47 1h0m49 1h0m-48 1h0m55 5h0m6 1h0m-78 1h0m76 0h0m1 0h0m3 2h0m-6 1h0m14 2h0m-10 1h0m9 0h0m-96 3h0m88 0h0m8 0h0m-95 2h0m4 1h0m2 0h0m-11 1h0m102 0h0m-100 1h0m5 0h0m92 0h0m4 1h0m1 1h0m2 0h0m-1 1h0m-106 1h0m106 0h0m2 0h0m-105 1h0m103 0h0m3 2h0m-108 3h0m113 0h0m-110 2h0m-3 3h0m120 3h0m-124 1h0m6 2h0m119 0h0m-124 2h0m133 2h0m5 0h0m-3 3h0m7 0h0m3 1h0m1 0h0m1 0h0m-146 4h0m147 0h0m-146 1h0m147 2h0m-149 4h0m-2 4h0m-1 1h0m5 3h0m2 1h0m-6 2h0m150 3h0m-147 2h0m148 0h0m-152 2h0m-2 2h0m3 1h0m148 6h0m-151 3h0m148 2h0m-150 1h0m6 0h0m3 12h0m-3 3h0m137 1h0m8 2h0m0 1h0m-138 1h0m134 1h0m-3 1h0m-127 2h0m122 3h0m-119 1h0m-4 3h0m125 0h0m-1 1h0m1 0h0m-118 3h0m-4 1h0m112 2h0m-4 1h0m1 1h0m2 0h0m-16 4h0m-5 1h0m5 0h0m-3 2h0m0 2h0m-17 1h0m13 0h0m-15 1h0m10 0h0m-10 4h0" stroke="#3c3a7c" stroke-width="2.2" stroke-linecap="square" fill="none"/>
<path transform="scale(.5)" d="M453 49h0m-8 1h0m27 0h0m-22 2h0m1 1h0m20 2h0m5 2h0m3 1h0m-35 1h0m-8 1h0m3 0h0m-3 2h0m1 0h0m42 0h0m-43 1h0m-10 1h0m9 0h0m-6 1h0m53 0h0m-62 2h0m6 0h0m1 0h0m-4 1h0m1 1h0m63 0h0m-62 1h0m-8 1h0m75 0h0m-2 1h0m5 1h0m-6 2h0m-73 2h0m80 0h0m-2 1h0m-85 1h0m89 1h0m2 1h0m-93 6h0m101 1h0m2 2h0m4 2h0m-2 8h0m-108 3h0m0 4h0m-3 2h0m2 1h0m-4 7h0m1 1h0m-2 14h0m-3 5h0m3 12h0m-5 1h0m5 3h0m-5 4h0m4 2h0m-1 6h0m0 2h0m6 6h0m-3 3h0m3 1h0m2 3h0m5 1h0m3 8h0m-3 1h0m4 2h0m-2 2h0m0 1h0m9 2h0m-4 1h0m93 4h0m-1 3h0m-4 1h0m-13 1h0m2 0h0m11 0h0m-11 3h0m1 0h0m-4 1h0m5 3h0m-2 1h0" stroke="#9b5a9b" stroke-width="2.2" stroke-linecap="square" fill="none"/>
<path transform="scale(.5)" d="M448 47h0m16 2h0m-12 2h0m17 1h0m-4 3h0m-19 1h0m8 1h0m-10 2h0m-11 1h0m4 0h0m35 0h0m8 0h0m-39 1h0m37 0h0m1 0h0m-50 1h0m7 0h0m1 0h0m46 0h0m-52 1h0m50 1h0m6 1h0m-62 1h0m6 0h0m51 0h0m1 0h0m-59 2h0m-6 1h0m3 3h0m5 0h0m69 1h0m2 1h0m-4 1h0m-85 2h0m88 0h0m1 0h0m4 4h0m-87 1h0m-5 1h0m99 5h0m0 1h0m-105 3h0m3 0h0m105 0h0m-106 1h0m4 3h0m106 0h0m-112 3h0m0 1h0m3 0h0m115 1h0m13 4h0m-132 2h0m-7 3h0m137 0h0m-135 3h0m139 0h0m3 1h0m11 0h0m-16 2h0m-136 2h0m143 0h0m-142 2h0m-1 5h0m3 3h0m146 0h0m-2 12h0m0 3h0m-144 2h0m142 12h0m-148 2h0m3 4h0m146 3h0m3 0h0m0 1h0m-152 1h0m2 0h0m5 4h0m1 2h0m137 0h0m-4 3h0m-130 3h0m138 0h0m-142 1h0m3 0h0m2 1h0m5 3h0m125 1h0m-128 1h0m4 3h0m1 4h0m117 0h0m2 0h0m-121 1h0m1 0h0m4 0h0m117 0h0m-2 2h0m-6 3h0m-105 4h0m88 1h0m-3 2h0m-23 1h0m5 2h0m-68 1h0m1 0h0m65 1h0m-60 1h0m61 0h0m4 2h0m4 0h0m-70 2h0m48 2h0m-39 1h0m2 0h0m8 0h0m23 0h0m-39 1h0m35 0h0m6 0h0m-38 1h0m8 0h0m1 1h0m7 1h0m24 1h0m-12 1h0m-19 1h0m10 0h0m6 0h0" stroke="#f8987a" stroke-width="2.2" stroke-linecap="square" fill="none"/>
<path transform="scale(.5)" d="M526 196h0m-2 1h0m9 0h0m-2 1h0m-15 1h0m16 0h0m-20 1h0m6 0h0m2 0h0m10 0h0m5 0h0m-33 1h0m10 0h0m1 0h0m6 0h0m6 0h0m4 0h0m5 0h0m-22 1h0m1 0h0m2 0h0m2 0h0m3 0h0m1 0h0m10 0h0m4 0h0m-31 1h0m13 0h0m11 0h0m2 0h0m3 0h0m-27 2h0m2 0h0m18 0h0m-28 1h0m29 0h0m-30 1h0m4 0h0m25 0h0m-29 1h0m8 0h0m-7 1h0m10 0h0m18 0h0m-40 1h0m5 0h0m5 0h0m28 0h0m1 0h0m-40 1h0m1 0h0m39 0h0m-45 1h0m4 0h0m2 0h0m-12 1h0m3 0h0m6 0h0m4 0h0m8 0h0m30 0h0m1 0h0m-55 1h0m26 0h0m32 0h0m-61 1h0m3 0h0m1 0h0m5 0h0m49 0h0m1 0h0m1 0h0m-63 1h0m11 0h0m3 0h0m44 0h0m-61 1h0m59 0h0m-56 1h0m1 0h0m-3 1h0m1 0h0m2 0h0m10 0h0m-15 2h0m3 0h0m59 0h0m-65 1h0m60 0h0m4 0h0m-61 2h0m1 0h0m60 0h0m4 0h0m-61 1h0m54 0h0m2 2h0m-60 1h0m2 2h0m56 0h0m-57 1h0m1 0h0m56 0h0m-57 1h0m60 0h0m-62 1h0m3 0h0m1 0h0m-1 1h0m56 0h0m1 0h0m1 0h0m-2 1h0m-57 1h0m55 0h0m-51 1h0m55 0h0m-58 1h0m2 0h0m0 1h0m58 0h0m-9 1h0m-48 1h0m1 0h0m1 0h0m48 0h0m0 1h0m-50 1h0m4 0h0m48 1h0m-53 1h0m48 0h0m2 0h0m-44 1h0m46 1h0m1 0h0m-51 1h0m50 0h0m-49 1h0m2 0h0m44 0h0m1 0h0m3 0h0m-53 1h0m4 1h0m-2 2h0m4 0h0m-1 1h0m40 0h0m6 0h0m-47 2h0m1 0h0m46 1h0m-47 1h0m-2 1h0m3 0h0m43 0h0m-44 1h0m3 0h0m40 0h0m-39 1h0m38 0h0m1 0h0m1 0h0m-42 1h0m40 0h0m1 0h0m-42 1h0m40 0h0m2 1h0m3 0h0m-45 1h0m4 0h0m35 1h0m2 0h0m-37 1h0m0 2h0m38 0h0m-5 1h0m-33 2h0m1 0h0m2 0h0m27 1h0m2 0h0m1 0h0m-29 1h0m26 0h0m2 0h0m-32 1h0m1 0h0m4 0h0m3 0h0m26 0h0m0 1h0m-31 1h0m1 0h0m27 0h0m1 0h0m-25 1h0m3 0h0m-2 1h0m1 0h0m19 0h0m1 0h0m1 0h0m3 0h0m-3 1h0m-17 1h0m10 0h0m2 0h0m-15 1h0m7 0h0m8 0h0m-21 1h0m6 0h0m4 0h0m15 0h0m-13 1h0m5 0h0m6 0h0m-18 1h0m9 0h0m5 0h0m4 0h0m-17 1h0m3 0h0m6 0h0m5 0h0m-13 1h0m4 0h0m2 0h0m2 0h0m2 0h0m-5 1h0m-1 1h0" stroke="#c6ea93" stroke-width="2.2" stroke-linecap="square" fill="none"/>
<path d="M321.4 93.4 328.0 97.7 331.2 107.6 332.3 118.5 331.9 129.5 328.0 136.0 321.4 142.6 315.9 149.2 311.5 151.4 306.0 147.0 303.9 138.2 301.7 127.3 295.1 118.5 289.6 109.8 286.3 103.2 292.9 101.0 301.7 98.8 310.4 95.5 315.9 94.0Z" fill="url(#g4)" />
<path transform="scale(.5)" d="M634 189h0m4 6h0m17 5h0m-7 4h0m2 2h0m-76 1h0m48 0h0m-23 2h0m46 0h0m-23 2h0m-24 1h0m46 0h0m-25 1h0m7 0h0m19 0h0m-38 1h0m-11 2h0m7 0h0m31 0h0m-6 1h0m15 0h0m11 0h0m-6 1h0m4 0h0m-14 1h0m7 0h0m12 0h0m-65 1h0m21 0h0m-18 1h0m17 1h0m27 0h0m16 0h0m7 0h0m-61 1h0m19 0h0m15 0h0m3 0h0m19 0h0m-58 1h0m57 0h0m3 0h0m-5 1h0m3 0h0m-17 1h0m-10 1h0m27 0h0m7 0h0m-61 1h0m35 1h0m6 0h0m5 0h0m-21 2h0m9 0h0m3 0h0m-12 1h0m6 0h0m12 0h0m-56 1h0m30 0h0m41 0h0m-46 1h0m16 0h0m5 0h0m27 0h0m1 0h0m-23 1h0m8 0h0m2 0h0m1 0h0m7 0h0m-68 1h0m20 0h0m35 0h0m-42 1h0m26 0h0m13 0h0m4 0h0m3 0h0m10 0h0m-53 1h0m28 0h0m17 0h0m4 0h0m3 0h0m-43 2h0m17 0h0m10 0h0m1 0h0m10 0h0m2 0h0m-14 1h0m1 0h0m-15 1h0m15 0h0m3 0h0m11 0h0m-38 1h0m6 0h0m2 0h0m20 0h0m17 0h0m-48 1h0m13 0h0m20 0h0m13 0h0m-25 1h0m7 0h0m1 0h0m4 0h0m-26 1h0m13 0h0m1 0h0m-29 1h0m24 0h0m5 0h0m10 0h0m3 0h0m-37 1h0m22 0h0m15 0h0m8 0h0m2 0h0m1 0h0m2 0h0m1 0h0m-37 1h0m2 0h0m1 0h0m11 0h0m3 0h0m8 0h0m11 0h0m1 0h0m-26 1h0m2 0h0m2 0h0m3 0h0m4 0h0m8 0h0m-36 1h0m20 0h0m1 0h0m1 0h0m9 0h0m3 0h0m1 0h0m-31 1h0m22 0h0m5 0h0m6 0h0m3 0h0m3 0h0m-28 1h0m2 0h0m7 0h0m1 0h0m2 0h0m12 0h0m-33 1h0m2 0h0m4 0h0m-18 1h0m6 0h0m9 0h0m2 0h0m6 0h0m6 0h0m14 0h0m1 0h0m-44 1h0m19 0h0m8 0h0m7 0h0m14 0h0m-41 1h0m8 0h0m8 0h0m15 0h0m7 0h0m-27 1h0m18 0h0m1 0h0m2 0h0m9 0h0m-25 1h0m20 0h0m-20 1h0m1 0h0m3 0h0m9 0h0m7 0h0m-38 1h0m1 0h0m18 0h0m3 0h0m13 0h0m2 0h0m-47 1h0m15 0h0m11 0h0m4 0h0m7 0h0m3 0h0m11 0h0m-51 1h0m7 0h0m12 0h0m5 0h0m5 0h0m7 0h0m7 0h0m2 0h0m1 0h0m-31 1h0m2 0h0m28 0h0m4 0h0m-29 1h0m14 0h0m11 0h0m2 0h0m-39 1h0m22 0h0m15 0h0m4 0h0m-28 1h0m19 0h0m5 0h0m-31 1h0m25 0h0m7 0h0m-7 1h0m-21 1h0m6 0h0m14 0h0m-39 1h0m33 0h0m4 0h0m-11 1h0m18 0h0m-23 1h0m15 0h0m7 1h0m-2 1h0m2 0h0m-11 1h0m1 0h0m-6 1h0m1 0h0m8 0h0m5 0h0m-29 1h0m-6 1h0m24 0h0m4 3h0m-4 1h0m-7 3h0m3 1h0m1 1h0m-2 1h0m-20 1h0m6 1h0m5 7h0" stroke="#2e8a80" stroke-width="2.8" stroke-linecap="square" fill="none"/>
<path transform="scale(.5)" d="M638 188h0m-7 1h0m1 0h0m6 0h0m-11 1h0m7 0h0m3 0h0m7 0h0m-19 1h0m15 0h0m-3 1h0m3 0h0m2 0h0m5 0h0m-26 1h0m12 0h0m3 0h0m3 0h0m10 0h0m-22 1h0m4 0h0m3 0h0m8 0h0m3 0h0m5 0h0m-27 1h0m5 0h0m1 0h0m11 0h0m1 0h0m9 0h0m-34 1h0m1 0h0m4 0h0m14 0h0m7 0h0m7 0h0m4 0h0m1 0h0m-47 1h0m19 0h0m2 0h0m1 0h0m4 0h0m1 0h0m1 0h0m3 0h0m2 0h0m8 0h0m-29 1h0m1 0h0m7 0h0m17 0h0m6 0h0m-49 1h0m1 0h0m4 0h0m3 0h0m7 0h0m27 0h0m4 0h0m4 0h0m1 0h0m1 0h0m1 0h0m-47 1h0m3 0h0m3 0h0m21 0h0m3 0h0m5 0h0m11 0h0m2 0h0m-63 1h0m6 0h0m2 0h0m5 0h0m1 0h0m7 0h0m12 0h0m4 0h0m7 0h0m9 0h0m6 0h0m3 0h0m-64 1h0m1 0h0m3 0h0m4 0h0m9 0h0m2 0h0m7 0h0m4 0h0m21 0h0m5 0h0m6 0h0m-66 1h0m1 0h0m11 0h0m10 0h0m3 0h0m3 0h0m13 0h0m1 0h0m4 0h0m8 0h0m4 0h0m6 0h0m-56 1h0m12 0h0m1 0h0m3 0h0m4 0h0m2 0h0m1 0h0m5 0h0m5 0h0m1 0h0m13 0h0m9 0h0m6 0h0m1 0h0m1 0h0m-74 1h0m13 0h0m6 0h0m3 0h0m8 0h0m5 0h0m6 0h0m15 0h0m4 0h0m1 0h0m2 0h0m1 0h0m8 0h0m-55 1h0m14 0h0m4 0h0m1 0h0m1 0h0m6 0h0m13 0h0m6 0h0m4 0h0m6 0h0m-81 1h0m3 0h0m6 0h0m3 0h0m4 0h0m10 0h0m2 0h0m2 0h0m8 0h0m6 0h0m1 0h0m8 0h0m1 0h0m6 0h0m1 0h0m16 0h0m2 0h0m-80 1h0m16 0h0m3 0h0m45 0h0m1 0h0m3 0h0m9 0h0m1 0h0m-72 1h0m1 0h0m1 0h0m6 0h0m5 0h0m4 0h0m5 0h0m5 0h0m3 0h0m4 0h0m2 0h0m5 0h0m12 0h0m2 0h0m10 0h0m8 0h0m3 0h0m-63 1h0m11 0h0m17 0h0m1 0h0m1 0h0m3 0h0m8 0h0m8 0h0m3 0h0m4 0h0m3 0h0m8 0h0m-73 1h0m1 0h0m10 0h0m1 0h0m3 0h0m6 0h0m3 0h0m6 0h0m5 0h0m5 0h0m1 0h0m7 0h0m4 0h0m3 0h0m13 0h0m-79 1h0m12 0h0m4 0h0m7 0h0m1 0h0m9 0h0m7 0h0m4 0h0m12 0h0m1 0h0m2 0h0m1 0h0m1 0h0m18 0h0m-78 1h0m1 0h0m3 0h0m2 0h0m1 0h0m9 0h0m18 0h0m6 0h0m1 0h0m2 0h0m3 0h0m7 0h0m4 0h0m9 0h0m7 0h0m2 0h0m3 0h0m-78 1h0m2 0h0m4 0h0m14 0h0m15 0h0m3 0h0m1 0h0m7 0h0m2 0h0m1 0h0m1 0h0m1 0h0m2 0h0m5 0h0m8 0h0m4 0h0m2 0h0m4 0h0m7 0h0m-80 1h0m8 0h0m4 0h0m2 0h0m7 0h0m2 0h0m12 0h0m3 0h0m13 0h0m4 0h0m4 0h0m12 0h0m3 0h0m3 0h0m2 0h0m-77 1h0m6 0h0m2 0h0m15 0h0m2 0h0m9 0h0m11 0h0m2 0h0m1 0h0m8 0h0m1 0h0m6 0h0m3 0h0m4 0h0m1 0h0m3 0h0m-78 1h0m1 0h0m2 0h0m1 0h0m5 0h0m2 0h0m16 0h0m3 0h0m13 0h0m20 0h0m2 0h0m11 0h0m-72 1h0m1 0h0m14 0h0m7 0h0m7 0h0m2 0h0m20 0h0m13 0h0m3 0h0m6 0h0m-71 1h0m2 0h0m3 0h0m10 0h0m4 0h0m2 0h0m7 0h0m11 0h0m8 0h0m2 0h0m22 0h0m1 0h0m-75 1h0m11 0h0m2 0h0m2 0h0m3 0h0m2 0h0m1 0h0m4 0h0m16 0h0m3 0h0m15 0h0m3 0h0m4 0h0m2 0h0m10 0h0m-70 1h0m4 0h0m12 0h0m1 0h0m1 0h0m2 0h0m10 0h0m13 0h0m4 0h0m1 0h0m15 0h0m8 0h0m1 0h0m-78 1h0m22 0h0m3 0h0m6 0h0m6 0h0m6 0h0m8 0h0m1 0h0m3 0h0m12 0h0m7 0h0m4 0h0m-77 1h0m9 0h0m4 0h0m2 0h0m21 0h0m3 0h0m16 0h0m5 0h0m4 0h0m10 0h0m3 0h0m2 0h0m-69 1h0m3 0h0m14 0h0m6 0h0m2 0h0m6 0h0m-42 1h0m1 0h0m9 0h0m13 0h0m4 0h0m2 0h0m1 0h0m11 0h0m2 0h0m1 0h0m2 0h0m1 0h0m5 0h0m7 0h0m3 0h0m4 0h0m1 0h0m10 0h0m-56 1h0m3 0h0m13 0h0m1 0h0m6 0h0m4 0h0m5 0h0m17 0h0m-67 1h0m1 0h0m3 0h0m6 0h0m3 0h0m15 0h0m3 0h0m13 0h0m11 0h0m16 0h0m-62 1h0m6 0h0m6 0h0m6 0h0m10 0h0m4 0h0m4 0h0m1 0h0m12 0h0m16 0h0m-74 1h0m1 0h0m3 0h0m7 0h0m2 0h0m5 0h0m1 0h0m5 0h0m6 0h0m3 0h0m4 0h0m4 0h0m2 0h0m2 0h0m17 0h0m4 0h0m3 0h0m-58 1h0m2 0h0m1 0h0m2 0h0m1 0h0m16 0h0m4 0h0m16 0h0m13 0h0m1 0h0m-57 1h0m1 0h0m2 0h0m5 0h0m9 0h0m5 0h0m1 0h0m3 0h0m11 0h0m5 0h0m4 0h0m15 0h0m-70 1h0m12 0h0m1 0h0m21 0h0m7 0h0m4 0h0m23 0h0m3 0h0m1 0h0m-66 1h0m3 0h0m1 0h0m15 0h0m11 0h0m7 0h0m3 0h0m18 0h0m3 0h0m7 0h0m1 0h0m-73 1h0m3 0h0m6 0h0m8 0h0m7 0h0m4 0h0m1 0h0m2 0h0m13 0h0m2 0h0m3 0h0m6 0h0m-52 1h0m7 0h0m13 0h0m3 0h0m6 0h0m2 0h0m3 0h0m4 0h0m1 0h0m14 0h0m9 0h0m4 0h0m-68 1h0m1 0h0m1 0h0m1 0h0m9 0h0m3 0h0m3 0h0m3 0h0m4 0h0m5 0h0m7 0h0m3 0h0m2 0h0m4 0h0m-44 1h0m12 0h0m6 0h0m2 0h0m2 0h0m2 0h0m7 0h0m2 0h0m1 0h0m-34 1h0m10 0h0m8 0h0m1 0h0m5 0h0m32 0h0m1 0h0m3 0h0m7 0h0m-66 1h0m11 0h0m3 0h0m7 0h0m2 0h0m2 0h0m1 0h0m4 0h0m23 0h0m2 0h0m3 0h0m3 0h0m2 0h0m5 0h0m1 0h0m-69 1h0m8 0h0m7 0h0m21 0h0m3 0h0m10 0h0m12 0h0m6 0h0m4 0h0m-61 1h0m18 0h0m6 0h0m5 0h0m6 0h0m16 0h0m2 0h0m7 0h0m1 0h0m-67 1h0m3 0h0m1 0h0m1 0h0m5 0h0m4 0h0m1 0h0m1 0h0m1 0h0m1 0h0m1 0h0m1 0h0m2 0h0m4 0h0m5 0h0m6 0h0m1 0h0m1 0h0m4 0h0m3 0h0m2 0h0m10 0h0m3 0h0m-61 1h0m3 0h0m2 0h0m7 0h0m3 0h0m15 0h0m1 0h0m25 0h0m4 0h0m3 0h0m4 0h0m-60 1h0m10 0h0m20 0h0m7 0h0m1 0h0m11 0h0m-49 1h0m10 0h0m3 0h0m12 0h0m20 0h0m2 0h0m-34 1h0m7 0h0m7 0h0m5 0h0m2 0h0m-37 1h0m2 0h0m11 0h0m2 0h0m22 0h0m5 0h0m2 0h0m13 0h0m-57 1h0m4 0h0m7 0h0m16 0h0m13 0h0m-39 1h0m7 0h0m2 0h0m2 0h0m3 0h0m4 0h0m4 0h0m2 0h0m4 0h0m-28 1h0m18 0h0m2 0h0m1 0h0m4 0h0m14 0h0m-39 1h0m4 0h0m11 0h0m7 0h0m2 0h0m6 0h0m6 0h0m22 0h0m-54 1h0m10 0h0m3 0h0m12 0h0m4 0h0m3 0h0m5 0h0m1 0h0m2 0h0m7 0h0m-39 1h0m30 0h0m12 0h0m2 0h0m-52 1h0m4 0h0m2 0h0m3 0h0m4 0h0m3 0h0m6 0h0m4 0h0m-27 1h0m10 0h0m31 0h0m6 0h0m-30 1h0m8 0h0m4 0h0m21 0h0m8 0h0m-52 1h0m2 0h0m13 0h0m4 0h0m15 0h0m7 0h0m5 0h0m-44 1h0m1 0h0m22 0h0m-30 1h0m11 0h0m6 0h0m6 0h0m4 0h0m-24 1h0m3 0h0m8 0h0m42 0h0m-35 1h0m7 0h0m-26 1h0m45 0h0m4 0h0m5 0h0m-53 1h0m18 0h0m1 0h0m15 0h0m10 0h0m3 0h0m4 0h0m-23 1h0m-25 1h0m1 0h0m13 0h0m14 0h0m-8 1h0m19 0h0m3 0h0m-11 1h0m15 0h0m-51 1h0m45 0h0m-37 2h0m2 3h0m33 0h0m-6 1h0m-24 6h0m8 16h0" stroke="#6fc196" stroke-width="2.8" stroke-linecap="square" fill="none"/>
<path transform="scale(.5)" d="M644 193h0m-35 23h0m-18 12h0m35 0h0m-27 20h0m16 0h0m7 0h0m16 1h0m-36 2h0m2 0h0m14 2h0m-7 1h0m27 0h0m-33 1h0m7 0h0m5 0h0m8 0h0m-21 1h0m33 0h0m-30 1h0m4 0h0m17 0h0m-8 1h0m-7 1h0m9 0h0m6 0h0m22 0h0m-42 1h0m1 0h0m11 0h0m-13 1h0m24 0h0m-24 1h0m5 0h0m6 0h0m2 0h0m6 0h0m1 0h0m25 0h0m-39 1h0m1 0h0m2 0h0m5 0h0m30 0h0m-41 1h0m7 0h0m3 0h0m2 0h0m1 0h0m20 0h0m2 0h0m3 0h0m8 0h0m-41 1h0m9 0h0m3 0h0m5 0h0m26 0h0m-30 1h0m-20 1h0m2 0h0m7 0h0m1 0h0m6 0h0m3 0h0m5 0h0m5 0h0m3 0h0m5 0h0m6 0h0m-38 1h0m1 0h0m4 0h0m19 0h0m4 0h0m1 0h0m4 0h0m5 0h0m-38 1h0m8 0h0m2 0h0m2 0h0m1 0h0m4 0h0m7 0h0m6 0h0m-35 1h0m1 0h0m11 0h0m10 0h0m4 0h0m8 0h0m1 0h0m4 0h0m-38 1h0m1 0h0m3 0h0m3 0h0m1 0h0m1 0h0m15 0h0m4 0h0m5 0h0m-31 1h0m3 0h0m6 0h0m12 0h0m6 0h0m12 0h0m-41 1h0m1 0h0m1 0h0m2 0h0m3 0h0m8 0h0m2 0h0m5 0h0m7 0h0m15 0h0m-43 1h0m4 0h0m11 0h0m24 0h0m-40 1h0m4 0h0m1 0h0m6 0h0m2 0h0m14 0h0m-22 1h0m3 0h0m5 0h0m2 0h0m2 0h0m4 0h0m4 0h0m2 0h0m-24 1h0m2 0h0m4 0h0m10 0h0m3 0h0m5 0h0m4 0h0m4 0h0m-35 1h0m27 0h0m1 0h0m1 0h0m5 0h0m1 0h0m-34 1h0m4 0h0m12 0h0m8 0h0m3 0h0m4 0h0m5 0h0m-36 1h0m13 0h0m4 0h0m1 0h0m3 0h0m7 0h0m8 0h0m-30 1h0m2 0h0m8 0h0m9 0h0m2 0h0m1 0h0m-26 1h0m10 0h0m1 0h0m1 0h0m1 0h0m6 0h0m6 0h0m3 0h0m1 0h0m1 0h0m-22 1h0m1 0h0m5 0h0m7 0h0m2 0h0m8 0h0m2 0h0m-26 1h0m3 0h0m8 0h0m2 0h0m5 0h0m6 0h0m-20 1h0m1 0h0m5 0h0m5 0h0m-5 1h0m4 0h0m2 0h0m-24 1h0m3 0h0m2 0h0m6 0h0m-10 1h0m8 0h0m2 0h0m3 0h0m4 0h0m7 0h0m3 0h0m-25 2h0m1 0h0m2 0h0m8 0h0m2 0h0m7 0h0m3 0h0m1 0h0m1 0h0m-27 1h0m10 0h0m2 0h0m8 0h0m2 0h0m-23 1h0m3 0h0m12 0h0m4 0h0m-16 1h0m7 0h0m8 0h0m2 0h0m-19 1h0m4 0h0m7 0h0m1 0h0m3 0h0m1 0h0m-14 1h0m2 0h0m11 0h0m6 0h0m-16 1h0m2 0h0m1 0h0m2 0h0m4 0h0m5 0h0m1 0h0m-15 1h0m10 0h0m2 0h0m-7 1h0m5 0h0m3 0h0m2 0h0m-9 2h0m3 0h0m-5 1h0m5 0h0" stroke="#0e3f5d" stroke-width="2.8" stroke-linecap="square" fill="none"/>
<path transform="scale(.5)" d="M637 188h0m0 1h0m9 0h0m-16 1h0m9 0h0m-5 1h0m0 1h0m-19 1h0m9 0h0m-6 1h0m1 1h0m10 0h0m5 0h0m7 0h0m-27 1h0m33 0h0m-42 1h0m18 0h0m-17 1h0m3 0h0m19 1h0m-12 1h0m8 1h0m14 0h0m13 0h0m1 0h0m-60 1h0m32 0h0m10 0h0m14 0h0m-31 1h0m4 0h0m13 0h0m5 0h0m-38 1h0m7 0h0m45 0h0m-66 1h0m32 0h0m19 0h0m-25 1h0m30 0h0m1 0h0m-70 1h0m16 0h0m10 0h0m21 0h0m13 0h0m5 0h0m-64 1h0m15 0h0m11 0h0m9 0h0m7 0h0m26 0h0m-67 1h0m48 0h0m25 0h0m-44 1h0m18 0h0m16 0h0m-56 1h0m3 0h0m3 0h0m66 0h0m-54 1h0m21 0h0m-21 1h0m1 0h0m12 0h0m18 0h0m9 0h0m-64 1h0m8 0h0m17 0h0m18 0h0m21 0h0m-48 1h0m2 0h0m4 0h0m17 0h0m-29 1h0m5 0h0m6 1h0m5 0h0m12 0h0m2 0h0m5 0h0m16 0h0m5 0h0m-18 1h0m8 0h0m-52 1h0m6 0h0m21 0h0m7 0h0m10 1h0m4 0h0m14 0h0m13 0h0m-19 1h0m-21 1h0m4 0h0m-30 1h0m64 0h0m-70 1h0m15 0h0m31 0h0m21 0h0m6 0h0m-63 1h0m5 0h0m20 0h0m32 0h0m6 0h0m-60 1h0m48 0h0m17 0h0m-54 1h0m6 0h0m26 0h0m13 0h0m7 0h0m-53 1h0m39 0h0m-59 1h0m40 0h0m9 0h0m-45 1h0m8 0h0m31 0h0m-1 1h0m7 0h0m-19 1h0m22 0h0m-36 1h0m24 0h0m29 0h0m-66 1h0m73 0h0m-65 1h0m30 0h0m30 0h0m-46 1h0m22 0h0m22 0h0m-32 1h0m12 0h0m-30 1h0m-4 1h0m47 0h0m-34 1h0m41 0h0m-52 1h0m20 1h0m17 1h0m-24 1h0m17 0h0m-30 2h0m17 0h0m0 1h0m16 0h0m12 0h0m-29 1h0m13 1h0m29 1h0m-58 1h0m17 0h0m13 0h0m-21 2h0m5 0h0m17 1h0m-28 4h0m12 1h0m10 0h0m-21 2h0" stroke="#86cba4" stroke-width="2.8" stroke-linecap="square" fill="none"/>
<path transform="scale(.5)" d="M641 185h0m-6 1h0m-2 1h0m1 0h0m11 1h0m-14 1h0m-2 1h0m19 0h0m-45 1h0m20 0h0m5 0h0m3 0h0m-19 1h0m38 0h0m-27 1h0m6 0h0m-8 1h0m37 0h0m-50 1h0m5 0h0m-19 1h0m8 0h0m1 1h0m4 0h0m3 0h0m-2 1h0m51 0h0m-78 1h0m12 0h0m64 0h0m-1 1h0m3 0h0m-70 1h0m71 1h0m-1 1h0m-73 1h0m-6 1h0m2 0h0m80 0h0m-89 1h0m84 0h0m-84 1h0m4 0h0m-2 1h0m3 0h0m-3 1h0m2 0h0m0 3h0m2 2h0m-3 1h0m83 0h0m5 1h0m-86 1h0m0 3h0m85 0h0m1 0h0m-5 2h0m3 0h0m-3 2h0m6 0h0m-87 1h0m6 1h0m-2 2h0m3 2h0m81 2h0m-3 2h0m-70 1h0m72 0h0m-77 1h0m3 0h0m-3 1h0m3 2h0m71 0h0m-72 1h0m1 0h0m2 0h0m3 1h0m1 2h0m67 1h0m-65 1h0m66 1h0m-1 1h0m-68 1h0m67 2h0m2 0h0m-65 3h0m63 3h0m2 2h0m2 0h0m-7 2h0m-56 1h0m56 0h0m4 0h0m-58 1h0m1 1h0m55 0h0m2 0h0m-56 3h0m-3 2h0m7 0h0m44 0h0m6 0h0" stroke="#2e8a80" stroke-width="2.2" stroke-linecap="square" fill="none"/>
<path transform="scale(.5)" d="M609 270h0m-2 1h0m1 0h0m47 0h0m1 0h0m-53 1h0m6 0h0m46 0h0m-46 1h0m46 0h0m-49 1h0m1 0h0m1 0h0m43 0h0m6 0h0m-52 2h0m45 0h0m0 1h0m-45 1h0m48 0h0m1 0h0m-43 2h0m1 0h0m0 1h0m33 0h0m5 0h0m-42 1h0m2 0h0m38 0h0m-40 1h0m2 0h0m32 0h0m-34 1h0m6 0h0m34 0h0m-39 1h0m2 0h0m33 0h0m3 0h0m-39 1h0m2 0h0m34 0h0m1 0h0m-31 1h0m29 0h0m-29 1h0m22 0h0m-29 1h0m6 0h0m28 0h0m-26 1h0m22 0h0m-24 1h0m20 0h0m-16 1h0m21 0h0m-28 1h0m2 0h0m-5 1h0m4 0h0m5 0h0m21 0h0m1 1h0m-27 1h0m1 0h0m1 0h0m6 1h0m8 0h0m2 0h0m3 0h0m-19 1h0m2 0h0m1 0h0m9 0h0m5 0h0m2 0h0m-13 1h0m7 0h0m-8 1h0m6 0h0m3 0h0m-10 1h0m4 0h0m5 0h0m3 0h0m3 0h0m-6 1h0m-5 1h0m1 1h0m3 0h0m-1 2h0m2 0h0" stroke="#0e3f5d" stroke-width="2.2" stroke-linecap="square" fill="none"/>
<path transform="scale(.5)" d="M645 186h0m-18 2h0m16 0h0m5 0h0m-21 1h0m4 0h0m3 0h0m14 0h0m-10 1h0m5 0h0m-30 1h0m6 0h0m17 0h0m9 0h0m2 0h0m9 0h0m-40 2h0m-16 1h0m18 0h0m1 0h0m3 0h0m-3 1h0m34 0h0m-50 1h0m48 0h0m-49 1h0m1 0h0m4 0h0m2 0h0m-24 2h0m11 0h0m19 0h0m-17 1h0m8 0h0m50 0h0m-75 1h0m9 0h0m2 0h0m9 0h0m57 0h0m-76 1h0m74 0h0m1 0h0m0 1h0m-74 1h0m6 0h0m-12 2h0m84 0h0m-92 1h0m89 0h0m-82 1h0m87 0h0m1 0h0m-91 2h0m87 1h0m7 2h0m-92 2h0m7 1h0m-6 2h0m6 0h0m-2 3h0m84 1h0m-77 2h0m-3 2h0m-2 1h0m81 0h0m-1 1h0m3 0h0m1 1h0m-86 1h0m8 0h0m-2 1h0m1 1h0m-1 1h0m3 1h0m3 0h0m74 10h0m-72 2h0m69 2h0m-3 1h0m5 0h0m2 2h0m-5 1h0m-62 1h0m1 0h0m-1 1h0m1 0h0m1 1h0m1 0h0m1 1h0m3 0h0m53 1h0m-2 3h0m7 0h0m-4 1h0m-57 3h0m3 3h0m2 0h0m-4 2h0m4 0h0m45 0h0" stroke="#6fc196" stroke-width="2.2" stroke-linecap="square" fill="none"/>
<path transform="scale(.5)" d="M638 186h0m-19 2h0m4 0h0m11 0h0m-2 1h0m-18 1h0m25 0h0m-19 1h0m11 0h0m-25 2h0m51 0h0m-5 1h0m5 0h0m-56 1h0m9 0h0m1 1h0m46 0h0m2 0h0m-59 1h0m-9 1h0m-5 1h0m67 0h0m-68 1h0m72 0h0m-60 1h0m-15 1h0m4 1h0m73 0h0m-81 1h0m82 0h0m2 0h0m-7 1h0m-83 1h0m6 0h0m6 1h0m2 0h0m76 0h0m-88 1h0m1 1h0m87 2h0m-5 1h0m5 1h0m-84 2h0m2 0h0m85 0h0m-90 1h0m1 0h0m0 1h0m1 1h0m85 0h0m4 1h0m-88 1h0m82 1h0m1 0h0m-1 1h0m3 2h0m2 1h0m-84 2h0m1 0h0m82 0h0m-78 1h0m-1 1h0m4 2h0m75 0h0m-1 1h0m2 0h0m-1 3h0m-74 4h0m75 1h0m0 2h0m-69 1h0m70 0h0m-3 1h0m-64 1h0m63 0h0m-61 2h0m2 0h0m-1 1h0m62 1h0m-61 1h0m62 0h0m-63 1h0m1 0h0m60 0h0m-63 3h0m2 2h0m4 10h0m54 0h0m-58 1h0m2 2h0m1 1h0" stroke="#86cba4" stroke-width="2.2" stroke-linecap="square" fill="none"/>
<path transform="scale(.5)" d="M548 157h0m-12 11h0m8 1h0m-33 4h0m16 2h0m16 5h0m-11 1h0m29 0h0m-44 1h0m13 0h0m30 0h0m-40 1h0m23 0h0m2 1h0m-16 1h0m37 1h0m-37 1h0m11 1h0m15 0h0m-10 1h0m33 0h0m-30 3h0m-27 3h0m10 1h0m27 0h0m17 1h0m-22 2h0m-6 1h0m25 3h0m-27 1h0m-17 1h0m46 1h0m3 0h0m2 0h0m-17 1h0m-6 1h0m23 1h0m6 1h0m-5 1h0m-7 5h0m-29 3h0m30 0h0m-30 1h0m20 15h0m6 0h0" stroke="#fcd27a" stroke-width="2.2" stroke-linecap="square" fill="none"/>
<path transform="scale(.5)" d="M532 154h0m-1 3h0m-19 5h0m4 3h0m27 5h0m-7 2h0m27 0h0m0 3h0m-5 1h0m-21 1h0m7 0h0m-6 1h0m4 12h0m-18 1h0m54 0h0m-10 1h0m-16 2h0m20 0h0m-30 1h0m-14 1h0m50 0h0m-23 1h0m9 0h0m-39 2h0m27 0h0m-17 1h0m23 0h0m-24 1h0m35 2h0m-50 1h0m37 0h0m8 0h0m3 6h0m9 6h0m-16 3h0m19 0h0" stroke="#38c4ee" stroke-width="2.2" stroke-linecap="square" fill="none"/>
<path transform="scale(.5)" d="M528 171h0m2 2h0m-1 8h0m1 0h0m46 5h0m-49 4h0m22 5h0m-14 1h0m-5 1h0m23 3h0m23 5h0m-10 1h0m7 0h0m9 0h0m-26 5h0m26 0h0m-24 1h0m10 3h0m3 1h0m-2 3h0m-4 1h0m6 2h0m8 0h0m1 4h0m-19 2h0m-1 11h0" stroke="#f8987a" stroke-width="2.2" stroke-linecap="square" fill="none"/>
<path transform="scale(.5)" d="M534 143h0m4 24h0m-9 3h0m3 0h0m20 1h0m-24 1h0m19 0h0m8 3h0m-17 2h0m6 0h0m8 1h0m-19 2h0m10 2h0m-15 1h0m13 0h0m19 0h0m-30 2h0m-4 1h0m2 4h0m-7 3h0m61 0h0m-33 2h0m1 3h0m-17 1h0m20 0h0m3 0h0m17 3h0m3 2h0m-28 4h0m-5 1h0m32 1h0m10 1h0m-13 3h0m7 0h0m1 0h0m-22 4h0m13 2h0m1 4h0m-19 1h0m17 1h0m2 0h0m-17 3h0m25 0h0m-7 1h0m-18 4h0m18 2h0m8 1h0" stroke="#9b5a9b" stroke-width="2.2" stroke-linecap="square" fill="none"/>
<path transform="scale(.5)" d="M526 160h0m18 3h0m-3 2h0m-26 1h0m22 9h0m12 3h0m-17 3h0m8 0h0m-28 1h0m49 0h0m-18 1h0m5 0h0m-8 2h0m4 3h0m-8 3h0m14 4h0m-1 3h0m-3 1h0m36 0h0m-33 1h0m2 3h0m18 3h0m-3 2h0m-1 1h0m-3 1h0m-1 4h0m20 0h0m29 0h0m-32 6h0m-6 3h0m7 10h0m4 2h0m-1 1h0" stroke="#3c3a7c" stroke-width="2.2" stroke-linecap="square" fill="none"/>
<path transform="scale(.5)" d="M518 156h0m11 3h0m-9 1h0m5 4h0m19 0h0m-26 4h0m18 1h0m16 1h0m-5 1h0m-6 4h0m-19 1h0m12 1h0m3 1h0m-3 3h0m27 0h0m-23 5h0m16 2h0m11 1h0m-11 4h0m4 2h0m9 2h0m-9 1h0m-29 3h0m18 0h0m20 1h0m-4 3h0m10 1h0m3 3h0m2 4h0m-1 2h0m-5 1h0m9 1h0m-25 4h0m12 2h0" stroke="#6dbf8f" stroke-width="2.2" stroke-linecap="square" fill="none"/>
<path transform="scale(.5)" d="M534 147h0m9 13h0m-2 10h0m-12 1h0m25 6h0m-28 2h0m18 0h0m5 0h0m-31 1h0m40 0h0m-18 1h0m-11 1h0m13 0h0m-1 3h0m19 0h0m-1 3h0m-30 1h0m16 0h0m-16 1h0m35 0h0m-16 2h0m-1 1h0m18 0h0m9 3h0m11 1h0m-34 1h0m21 0h0m-47 1h0m22 2h0m25 0h0m-24 1h0m-6 1h0m17 3h0m7 3h0m-7 5h0m8 6h0m0 2h0m15 0h0m-35 3h0" stroke="#c6ea93" stroke-width="2.2" stroke-linecap="square" fill="none"/>
<path d="M232.2 98.5 C 218 86, 218 66, 222 55 S 228 38, 231 33" fill="none" stroke="#4b5772" stroke-width="1"/>
<path d="M235.6 106 C 238 128, 255 137, 268 137 C 285 137, 292 126, 299 116 C 306 106, 318 100, 323.5 104.5 C 328 110, 323 122, 314 135" fill="none" stroke="#4b5772" stroke-width="1"/>
<path d="M312.2 137.6 312.8 133.0 314.3 135.2 316.7 134.8Z" fill="#4b5772" />
<text x="243.3" y="30.5" font-size="8.6" textLength="60.7" lengthAdjust="spacingAndGlyphs">M2 polarization</text>
<text x="246.5" y="157.2" font-size="8.6" textLength="59.2" lengthAdjust="spacingAndGlyphs">M1 polarization</text>
<line x1="202.7" y1="148.2" x2="202.7" y2="133.6" stroke="#3b4e6e" stroke-width="1.1" />
<path d="M202.7 130.6 204.7 134.1 202.7 133.1 200.7 134.1Z" fill="#3b4e6e" />
<line x1="202.2" y1="148.2" x2="216.8" y2="148.2" stroke="#3b4e6e" stroke-width="1.1" />
<path d="M219.8 148.2 216.3 150.2 217.3 148.2 216.3 146.2Z" fill="#3b4e6e" />
<text x="202.4" y="158.8" font-size="6.6" textLength="22.8" lengthAdjust="spacingAndGlyphs">UMAP1</text>
<text x="197.0" y="147.8" font-size="6.6" textLength="23.6" lengthAdjust="spacingAndGlyphs" transform="rotate(-90 197.0 147.8)">UMAP2</text>
<circle cx="321.0" cy="25.0" r="2.1" fill="#38c4ee" />
<text x="327.9" y="27.2" font-size="6.7" fill="#333">M0–0 h</text>
<circle cx="321.0" cy="32.0" r="2.1" fill="#c6ea93" />
<text x="327.9" y="34.2" font-size="6.7" fill="#333">M1–1 h</text>
<circle cx="321.0" cy="38.9" r="2.1" fill="#6dbf8f" />
<text x="327.9" y="41.1" font-size="6.7" fill="#333">M1–6 h</text>
<circle cx="321.0" cy="45.9" r="2.1" fill="#2e8a80" />
<text x="327.9" y="48.1" font-size="6.7" fill="#333">M1–10 h</text>
<circle cx="321.0" cy="52.9" r="2.1" fill="#0e3f5d" />
<text x="327.9" y="55.1" font-size="6.7" fill="#333">M1–24 h</text>
<circle cx="321.0" cy="59.9" r="2.1" fill="#fcd27a" />
<text x="327.9" y="62.1" font-size="6.7" fill="#333">M2–1 h</text>
<circle cx="321.0" cy="66.8" r="2.1" fill="#f8987a" />
<text x="327.9" y="69.0" font-size="6.7" fill="#333">M2–6 h</text>
<circle cx="321.0" cy="73.8" r="2.1" fill="#9b5a9b" />
<text x="327.9" y="76.0" font-size="6.7" fill="#333">M2–10 h</text>
<circle cx="321.0" cy="80.8" r="2.1" fill="#3c3a7c" />
<text x="327.9" y="83.0" font-size="6.7" fill="#333">M2–24 h</text>
<path d="M411.5 24.4 418.1 28.8 424.6 35.3 426.8 36.4 434.5 44.1 443.3 52.8 448.7 57.2 455.3 58.3 454.2 63.8 453.1 72.5 454.2 79.1 453.1 85.7 449.8 92.3 446.5 98.8 443.3 107.6 441.1 116.3 437.8 127.3 435.6 136.0 431.2 141.5 425.7 143.1 420.3 139.3 417.0 131.7 414.8 122.9 412.6 116.3 406.0 113.1 397.3 109.8 391.8 105.4 387.4 96.6 382.0 87.9 378.7 80.2 379.8 72.6 380.9 61.6 382.0 52.8 384.1 44.1 388.5 36.4 395.1 33.1 401.7 29.9 407.1 26.6Z" fill="#404387" />
<path d="M446.5 98.8 443.3 107.6 441.1 116.3 437.8 127.3 435.6 136.0 431.2 141.5 425.7 143.1 420.3 139.3 417.0 131.7 414.8 122.9 412.6 116.3 411.0 110.0 417.0 105.0 427.0 102.0 437.0 100.0Z" fill="#32638d" />
<path transform="scale(.5)" d="M820 54h0m0 1h0m6 5h0m-31 6h0m22 1h0m-26 1h0m27 2h0m-33 1h0m51 0h0m9 0h0m-57 1h0m47 0h0m1 0h0m-39 1h0m45 0h0m2 0h0m-12 3h0m-19 3h0m16 1h0m0 1h0m-38 3h0m-16 3h0m49 0h0m14 0h0m-6 1h0m21 3h0m-15 3h0m-17 1h0m-55 2h0m2 0h0m87 0h0m-17 1h0m4 0h0m7 2h0m29 3h0m-48 1h0m17 0h0m-39 2h0m-34 1h0m64 0h0m19 1h0m-35 1h0m4 0h0m6 0h0m6 0h0m35 0h0m-36 1h0m-40 2h0m-30 1h0m75 0h0m-39 1h0m-7 1h0m65 0h0m20 0h0m14 0h0m-85 2h0m40 0h0m39 0h0m7 1h0m-113 1h0m108 0h0m-39 1h0m29 0h0m12 2h0m13 0h0m-133 3h0m-1 2h0m88 0h0m-13 3h0m-39 1h0m87 0h0m-112 1h0m54 0h0m-15 1h0m20 0h0m36 0h0m-89 2h0m36 0h0m77 0h0m-105 2h0m41 0h0m66 1h0m-42 1h0m-74 1h0m12 0h0m63 1h0m-61 1h0m5 1h0m28 0h0m-54 3h0m60 0h0m-60 1h0m-6 2h0m19 0h0m65 1h0m-84 1h0m99 0h0m-59 2h0m-2 1h0m-6 1h0m12 2h0m-32 2h0m61 0h0m2 0h0m20 0h0m-102 1h0m10 0h0m-9 1h0m90 0h0m-23 1h0m20 1h0m45 1h0m-125 2h0m13 2h0m20 0h0m87 1h0m-116 1h0m110 0h0m-88 2h0m0 1h0m33 0h0m19 2h0m12 0h0m-16 4h0m46 0h0m-92 1h0m1 2h0m41 0h0m-2 1h0m-5 1h0m-34 1h0m60 0h0m33 0h0m-83 1h0m13 0h0m-9 1h0m25 0h0m39 0h0m-14 1h0m5 0h0m-48 4h0m19 2h0m19 0h0m4 0h0m1 0h0m-41 2h0m53 2h0m-82 1h0m-1 2h0m24 0h0m21 0h0m39 0h0m-20 2h0m18 1h0m-54 1h0m-23 2h0m6 0h0m62 0h0m-86 1h0m60 1h0m38 1h0m-47 1h0m-41 1h0m6 1h0m75 0h0m-73 1h0m41 0h0m32 0h0m-73 2h0m12 0h0m11 1h0m60 0h0m-74 1h0m17 0h0m48 1h0m-20 2h0m-36 1h0m17 1h0m-25 1h0m25 0h0m10 0h0m6 0h0m14 1h0m-53 1h0m15 0h0m3 0h0m41 0h0m-42 1h0m4 0h0m0 1h0m36 0h0m-52 1h0m5 0h0m7 0h0m1 0h0m3 0h0m6 0h0m17 0h0m-37 1h0m2 0h0m2 0h0m7 0h0m19 0h0m8 0h0m9 0h0m-35 1h0m24 0h0m5 0h0m1 0h0m6 0h0m12 0h0m-42 1h0m10 0h0m11 0h0m2 0h0m1 0h0m-29 1h0m5 0h0m1 0h0m2 0h0m7 0h0m5 0h0m12 0h0m-37 1h0m2 0h0m5 0h0m3 0h0m4 0h0m10 0h0m10 0h0m10 0h0m2 0h0m2 0h0m3 0h0m-45 1h0m30 0h0m2 0h0m1 0h0m1 0h0m2 0h0m1 0h0m7 0h0m-47 1h0m45 0h0m-11 1h0m-34 1h0m15 0h0m21 0h0m-37 1h0m11 0h0m6 0h0m1 0h0m2 0h0m5 0h0m4 0h0m-31 1h0m13 0h0m1 0h0m2 0h0m11 0h0m5 0h0m6 0h0m5 0h0m-37 1h0m9 0h0m7 0h0m5 0h0m8 0h0m11 0h0m1 0h0m-35 1h0m4 0h0m10 0h0m17 0h0m-44 1h0m6 0h0m9 0h0m11 0h0m3 0h0m6 0h0m10 0h0m-31 1h0m35 0h0m-4 1h0m-30 1h0m7 0h0m4 0h0m-20 1h0m18 0h0m3 0h0m-4 1h0m6 0h0m4 0h0m-19 1h0m2 0h0m1 0h0m5 0h0m1 0h0m-5 1h0m4 0h0m5 2h0m10 0h0m4 1h0m-24 1h0m-7 2h0m13 2h0m-4 2h0m4 0h0m4 2h0m4 6h0m-14 2h0m12 0h0m-3 2h0m9 6h0m-15 1h0m-3 1h0" stroke="#345e8d" stroke-width="2.6" stroke-linecap="square" fill="none"/>
<path transform="scale(.5)" d="M825 65h0m14 4h0m12 3h0m-55 3h0m9 1h0m50 5h0m2 1h0m7 2h0m-27 3h0m-60 2h0m59 0h0m-11 2h0m-9 5h0m-49 5h0m54 4h0m-46 1h0m49 2h0m-39 2h0m72 0h0m-82 3h0m109 0h0m9 0h0m-97 5h0m56 3h0m-3 1h0m50 0h0m-81 2h0m67 5h0m-2 2h0m-99 1h0m49 0h0m7 1h0m28 0h0m-67 4h0m71 2h0m-50 3h0m47 4h0m10 0h0m-72 3h0m36 3h0m35 4h0m-13 1h0m8 1h0m-48 1h0m-36 1h0m2 0h0m23 0h0m-36 5h0m5 0h0m-21 1h0m13 1h0m35 0h0m-45 1h0m82 0h0m-21 1h0m35 0h0m-89 1h0m2 2h0m115 4h0m-90 2h0m100 1h0m-106 3h0m8 0h0m-1 2h0m93 3h0m-66 2h0m53 1h0m-15 2h0m-35 2h0m-35 6h0m17 1h0m-11 2h0m89 2h0m-83 1h0m43 15h0m-15 3h0m-6 1h0m-13 1h0m52 0h0m-29 8h0m-7 12h0m45 0h0m-30 8h0m-2 1h0m21 1h0m-10 5h0m-9 13h0m4 8h0m2 2h0" stroke="#24848d" stroke-width="2.6" stroke-linecap="square" fill="none"/>
<path transform="scale(.5)" d="M818 52h0m1 0h0m6 1h0m-3 1h0m1 0h0m6 0h0m-13 2h0m10 0h0m5 0h0m-6 1h0m2 0h0m-18 1h0m1 0h0m6 0h0m7 0h0m11 0h0m2 0h0m-29 1h0m24 0h0m5 0h0m-30 1h0m11 0h0m10 0h0m1 0h0m-16 1h0m1 0h0m9 0h0m-13 1h0m2 0h0m7 0h0m3 0h0m2 0h0m1 0h0m6 0h0m-29 1h0m8 0h0m21 0h0m2 0h0m-35 1h0m17 0h0m11 0h0m3 0h0m-21 1h0m13 0h0m11 0h0m1 0h0m5 0h0m-47 1h0m9 0h0m14 0h0m5 0h0m5 0h0m16 0h0m1 0h0m-46 1h0m1 0h0m6 0h0m6 0h0m26 0h0m5 0h0m-51 1h0m10 0h0m11 0h0m25 0h0m3 0h0m9 0h0m-53 1h0m5 0h0m14 0h0m10 0h0m24 0h0m-54 1h0m9 0h0m1 0h0m22 0h0m9 0h0m7 0h0m3 0h0m-55 1h0m4 0h0m4 0h0m6 0h0m5 0h0m1 0h0m13 0h0m6 0h0m23 0h0m-66 1h0m9 0h0m6 0h0m35 0h0m2 0h0m-48 1h0m1 0h0m13 0h0m1 0h0m3 0h0m23 0h0m-47 1h0m12 0h0m3 0h0m7 0h0m2 0h0m-22 1h0m8 0h0m3 0h0m4 0h0m12 0h0m4 0h0m7 0h0m4 0h0m18 0h0m1 0h0m3 0h0m6 0h0m-49 1h0m3 0h0m9 0h0m25 0h0m8 0h0m-42 1h0m9 0h0m2 0h0m32 0h0m1 0h0m-63 1h0m4 0h0m8 0h0m23 0h0m3 0h0m-51 1h0m1 0h0m17 0h0m5 0h0m20 0h0m3 0h0m2 0h0m4 0h0m11 0h0m14 0h0m-79 1h0m2 0h0m2 0h0m10 0h0m16 0h0m23 0h0m13 0h0m18 0h0m-81 1h0m8 0h0m10 0h0m23 0h0m7 0h0m10 0h0m4 0h0m4 0h0m3 0h0m3 0h0m2 0h0m3 0h0m4 0h0m-83 1h0m28 0h0m22 0h0m11 0h0m3 0h0m-50 1h0m5 0h0m4 0h0m9 0h0m2 0h0m2 0h0m1 0h0m3 0h0m11 0h0m1 0h0m14 0h0m8 0h0m14 0h0m-84 1h0m1 0h0m9 0h0m14 0h0m6 0h0m15 0h0m11 0h0m7 0h0m3 0h0m12 0h0m5 0h0m3 0h0m-59 1h0m7 0h0m12 0h0m12 0h0m17 0h0m-69 1h0m3 0h0m26 0h0m44 0h0m6 0h0m-92 1h0m12 0h0m5 0h0m6 0h0m7 0h0m2 0h0m13 0h0m5 0h0m4 0h0m11 0h0m12 0h0m-48 1h0m13 0h0m11 0h0m13 0h0m16 0h0m7 0h0m4 0h0m-89 1h0m5 0h0m16 0h0m20 0h0m4 0h0m5 0h0m28 0h0m6 0h0m-87 1h0m16 0h0m16 0h0m6 0h0m50 0h0m-87 1h0m5 0h0m11 0h0m11 0h0m8 0h0m6 0h0m10 0h0m20 0h0m17 0h0m-85 1h0m4 0h0m38 0h0m5 0h0m2 0h0m6 0h0m9 0h0m30 0h0m3 0h0m-82 1h0m32 0h0m5 0h0m9 0h0m19 0h0m13 0h0m-90 1h0m5 0h0m5 0h0m30 0h0m1 0h0m30 0h0m-64 1h0m17 0h0m9 0h0m5 0h0m4 0h0m7 0h0m1 0h0m9 0h0m11 0h0m22 0h0m-103 1h0m1 0h0m5 0h0m18 0h0m7 0h0m3 0h0m16 0h0m1 0h0m19 0h0m2 0h0m1 0h0m4 0h0m9 0h0m13 0h0m-97 1h0m6 0h0m9 0h0m1 0h0m2 0h0m4 0h0m30 0h0m6 0h0m32 0h0m12 0h0m5 0h0m-97 1h0m16 0h0m5 0h0m15 0h0m4 0h0m5 0h0m10 0h0m4 0h0m10 0h0m2 0h0m11 0h0m-94 1h0m3 0h0m4 0h0m9 0h0m6 0h0m9 0h0m3 0h0m1 0h0m6 0h0m3 0h0m2 0h0m5 0h0m6 0h0m9 0h0m4 0h0m18 0h0m7 0h0m13 0h0m-95 1h0m9 0h0m10 0h0m5 0h0m12 0h0m1 0h0m2 0h0m8 0h0m10 0h0m9 0h0m10 0h0m-90 1h0m11 0h0m10 0h0m6 0h0m10 0h0m11 0h0m19 0h0m5 0h0m7 0h0m12 0h0m7 0h0m7 0h0m1 0h0m4 0h0m-80 1h0m1 0h0m22 0h0m13 0h0m2 0h0m20 0h0m5 0h0m6 0h0m15 0h0m-94 1h0m7 0h0m16 0h0m1 0h0m4 0h0m4 0h0m4 0h0m25 0h0m19 0h0m4 0h0m4 0h0m1 0h0m-109 1h0m2 0h0m8 0h0m6 0h0m3 0h0m9 0h0m2 0h0m15 0h0m27 0h0m19 0h0m3 0h0m22 0h0m-111 1h0m4 0h0m6 0h0m1 0h0m37 0h0m13 0h0m3 0h0m2 0h0m2 0h0m25 0h0m6 0h0m1 0h0m2 0h0m1 0h0m3 0h0m-107 1h0m46 0h0m2 0h0m6 0h0m6 0h0m5 0h0m48 0h0m-110 1h0m2 0h0m4 0h0m1 0h0m4 0h0m25 0h0m4 0h0m3 0h0m11 0h0m24 0h0m1 0h0m17 0h0m11 0h0m3 0h0m-111 1h0m1 0h0m8 0h0m7 0h0m19 0h0m9 0h0m10 0h0m16 0h0m9 0h0m1 0h0m9 0h0m1 0h0m13 0h0m6 0h0m-111 1h0m1 0h0m5 0h0m7 0h0m6 0h0m21 0h0m16 0h0m11 0h0m1 0h0m9 0h0m8 0h0m5 0h0m13 0h0m2 0h0m9 0h0m-98 1h0m13 0h0m6 0h0m2 0h0m1 0h0m6 0h0m19 0h0m1 0h0m4 0h0m9 0h0m18 0h0m12 0h0m-108 1h0m27 0h0m1 0h0m24 0h0m3 0h0m11 0h0m11 0h0m2 0h0m2 0h0m14 0h0m1 0h0m-98 1h0m6 0h0m24 0h0m2 0h0m13 0h0m5 0h0m65 0h0m-116 1h0m11 0h0m1 0h0m30 0h0m38 0h0m4 0h0m10 0h0m8 0h0m-105 1h0m13 0h0m10 0h0m2 0h0m3 0h0m19 0h0m7 0h0m10 0h0m3 0h0m17 0h0m11 0h0m12 0h0m12 0h0m-105 1h0m17 0h0m16 0h0m8 0h0m9 0h0m1 0h0m6 0h0m1 0h0m20 0h0m25 0h0m1 0h0m12 0h0m-125 1h0m12 0h0m11 0h0m27 0h0m12 0h0m12 0h0m2 0h0m7 0h0m1 0h0m28 0h0m5 0h0m1 0h0m1 0h0m8 0h0m5 0h0m4 0h0m-133 1h0m6 0h0m5 0h0m24 0h0m8 0h0m1 0h0m2 0h0m15 0h0m11 0h0m1 0h0m5 0h0m20 0h0m10 0h0m10 0h0m4 0h0m5 0h0m2 0h0m8 0h0m1 0h0m-139 1h0m30 0h0m14 0h0m9 0h0m3 0h0m19 0h0m29 0h0m29 0h0m-120 1h0m18 0h0m5 0h0m9 0h0m2 0h0m1 0h0m12 0h0m7 0h0m14 0h0m4 0h0m9 0h0m18 0h0m1 0h0m-105 1h0m7 0h0m12 0h0m9 0h0m22 0h0m13 0h0m21 0h0m3 0h0m40 0h0m-137 1h0m35 0h0m7 0h0m42 0h0m5 0h0m8 0h0m4 0h0m25 0h0m4 0h0m6 0h0m-131 1h0m12 0h0m18 0h0m13 0h0m11 0h0m5 0h0m1 0h0m2 0h0m11 0h0m8 0h0m44 0h0m1 0h0m-135 1h0m14 0h0m11 0h0m6 0h0m3 0h0m3 0h0m4 0h0m2 0h0m3 0h0m19 0h0m3 0h0m17 0h0m7 0h0m10 0h0m17 0h0m3 0h0m8 0h0m-131 1h0m15 0h0m11 0h0m10 0h0m16 0h0m6 0h0m6 0h0m3 0h0m4 0h0m2 0h0m1 0h0m1 0h0m5 0h0m6 0h0m42 0h0m14 0h0m1 0h0m1 0h0m-145 1h0m3 0h0m10 0h0m14 0h0m1 0h0m10 0h0m7 0h0m32 0h0m9 0h0m5 0h0m1 0h0m1 0h0m19 0h0m10 0h0m9 0h0m4 0h0m9 0h0m-137 1h0m2 0h0m5 0h0m11 0h0m23 0h0m1 0h0m32 0h0m18 0h0m5 0h0m16 0h0m6 0h0m3 0h0m2 0h0m-94 1h0m4 0h0m30 0h0m6 0h0m6 0h0m11 0h0m23 0h0m3 0h0m23 0h0m-138 1h0m1 0h0m6 0h0m8 0h0m12 0h0m8 0h0m1 0h0m27 0h0m1 0h0m31 0h0m3 0h0m5 0h0m2 0h0m18 0h0m12 0h0m-129 1h0m1 0h0m10 0h0m11 0h0m7 0h0m16 0h0m22 0h0m34 0h0m31 0h0m-143 1h0m45 0h0m5 0h0m7 0h0m21 0h0m1 0h0m10 0h0m3 0h0m8 0h0m4 0h0m5 0h0m9 0h0m15 0h0m8 0h0m1 0h0m-120 1h0m4 0h0m14 0h0m25 0h0m21 0h0m2 0h0m2 0h0m5 0h0m3 0h0m3 0h0m7 0h0m11 0h0m1 0h0m-121 1h0m20 0h0m4 0h0m3 0h0m2 0h0m5 0h0m40 0h0m3 0h0m8 0h0m2 0h0m7 0h0m8 0h0m7 0h0m6 0h0m4 0h0m2 0h0m-90 1h0m14 0h0m12 0h0m14 0h0m1 0h0m1 0h0m3 0h0m8 0h0m14 0h0m3 0h0m3 0h0m23 0h0m-126 1h0m22 0h0m19 0h0m5 0h0m1 0h0m18 0h0m11 0h0m7 0h0m15 0h0m3 0h0m9 0h0m16 0h0m2 0h0m-124 1h0m5 0h0m14 0h0m9 0h0m25 0h0m2 0h0m12 0h0m1 0h0m4 0h0m11 0h0m1 0h0m9 0h0m2 0h0m2 0h0m6 0h0m6 0h0m17 0h0m13 0h0m-145 1h0m24 0h0m2 0h0m9 0h0m2 0h0m16 0h0m52 0h0m8 0h0m5 0h0m8 0h0m18 0h0m1 0h0m-142 1h0m3 0h0m3 0h0m9 0h0m2 0h0m11 0h0m6 0h0m24 0h0m14 0h0m13 0h0m33 0h0m2 0h0m4 0h0m1 0h0m6 0h0m-131 1h0m29 0h0m4 0h0m4 0h0m19 0h0m4 0h0m25 0h0m9 0h0m10 0h0m28 0h0m11 0h0m-140 1h0m25 0h0m8 0h0m6 0h0m1 0h0m22 0h0m4 0h0m3 0h0m40 0h0m10 0h0m7 0h0m10 0h0m-129 1h0m13 0h0m13 0h0m8 0h0m14 0h0m6 0h0m11 0h0m4 0h0m5 0h0m22 0h0m14 0h0m4 0h0m11 0h0m-134 1h0m61 0h0m4 0h0m23 0h0m8 0h0m12 0h0m9 0h0m6 0h0m2 0h0m14 0h0m-142 1h0m16 0h0m10 0h0m6 0h0m9 0h0m6 0h0m40 0h0m1 0h0m2 0h0m1 0h0m1 0h0m23 0h0m8 0h0m13 0h0m-121 1h0m7 0h0m3 0h0m10 0h0m10 0h0m1 0h0m1 0h0m2 0h0m2 0h0m73 0h0m5 0h0m7 0h0m-131 1h0m28 0h0m2 0h0m10 0h0m27 0h0m7 0h0m9 0h0m12 0h0m28 0h0m12 0h0m-136 1h0m25 0h0m2 0h0m5 0h0m24 0h0m6 0h0m3 0h0m1 0h0m9 0h0m26 0h0m1 0h0m17 0h0m-124 1h0m31 0h0m9 0h0m9 0h0m10 0h0m2 0h0m16 0h0m3 0h0m2 0h0m5 0h0m2 0h0m8 0h0m10 0h0m7 0h0m17 0h0m1 0h0m3 0h0m-130 1h0m14 0h0m35 0h0m28 0h0m10 0h0m42 0h0m-131 1h0m1 0h0m14 0h0m15 0h0m1 0h0m9 0h0m10 0h0m28 0h0m3 0h0m7 0h0m34 0h0m-124 1h0m26 0h0m10 0h0m15 0h0m5 0h0m8 0h0m3 0h0m26 0h0m11 0h0m3 0h0m4 0h0m4 0h0m24 0h0m4 0h0m1 0h0m-147 1h0m27 0h0m6 0h0m5 0h0m13 0h0m4 0h0m3 0h0m6 0h0m14 0h0m10 0h0m22 0h0m7 0h0m-113 1h0m12 0h0m4 0h0m2 0h0m5 0h0m11 0h0m16 0h0m44 0h0m25 0h0m12 0h0m-132 1h0m2 0h0m11 0h0m47 0h0m14 0h0m1 0h0m31 0h0m17 0h0m3 0h0m1 0h0m18 0h0m-134 1h0m2 0h0m8 0h0m10 0h0m5 0h0m9 0h0m7 0h0m11 0h0m6 0h0m6 0h0m15 0h0m41 0h0m-106 1h0m13 0h0m7 0h0m28 0h0m3 0h0m4 0h0m11 0h0m4 0h0m4 0h0m1 0h0m3 0h0m26 0h0m11 0h0m-141 1h0m15 0h0m25 0h0m2 0h0m23 0h0m2 0h0m12 0h0m9 0h0m4 0h0m20 0h0m5 0h0m17 0h0m-135 1h0m2 0h0m6 0h0m3 0h0m2 0h0m21 0h0m12 0h0m3 0h0m18 0h0m25 0h0m6 0h0m6 0h0m6 0h0m5 0h0m3 0h0m5 0h0m3 0h0m3 0h0m2 0h0m6 0h0m-121 1h0m1 0h0m18 0h0m9 0h0m3 0h0m3 0h0m1 0h0m22 0h0m18 0h0m12 0h0m6 0h0m12 0h0m2 0h0m20 0h0m2 0h0m2 0h0m-149 1h0m5 0h0m1 0h0m6 0h0m5 0h0m15 0h0m11 0h0m4 0h0m10 0h0m10 0h0m4 0h0m3 0h0m6 0h0m5 0h0m11 0h0m7 0h0m14 0h0m27 0h0m5 0h0m-138 1h0m1 0h0m20 0h0m7 0h0m16 0h0m15 0h0m2 0h0m3 0h0m9 0h0m13 0h0m13 0h0m36 0h0m-137 1h0m1 0h0m5 0h0m5 0h0m5 0h0m4 0h0m9 0h0m9 0h0m19 0h0m1 0h0m10 0h0m6 0h0m17 0h0m18 0h0m13 0h0m3 0h0m6 0h0m3 0h0m4 0h0m-134 1h0m1 0h0m31 0h0m4 0h0m4 0h0m1 0h0m4 0h0m3 0h0m10 0h0m16 0h0m13 0h0m6 0h0m14 0h0m7 0h0m5 0h0m-127 1h0m19 0h0m12 0h0m12 0h0m6 0h0m8 0h0m29 0h0m22 0h0m7 0h0m16 0h0m9 0h0m4 0h0m-141 1h0m37 0h0m6 0h0m8 0h0m7 0h0m6 0h0m1 0h0m3 0h0m16 0h0m5 0h0m3 0h0m7 0h0m2 0h0m7 0h0m-109 1h0m15 0h0m8 0h0m5 0h0m8 0h0m12 0h0m1 0h0m19 0h0m4 0h0m5 0h0m3 0h0m1 0h0m3 0h0m4 0h0m30 0h0m13 0h0m1 0h0m9 0h0m-133 1h0m2 0h0m4 0h0m7 0h0m4 0h0m37 0h0m5 0h0m10 0h0m1 0h0m36 0h0m26 0h0m-113 1h0m1 0h0m1 0h0m3 0h0m2 0h0m4 0h0m26 0h0m5 0h0m16 0h0m5 0h0m10 0h0m3 0h0m9 0h0m7 0h0m12 0h0m-135 1h0m11 0h0m2 0h0m14 0h0m1 0h0m3 0h0m30 0h0m1 0h0m24 0h0m16 0h0m23 0h0m18 0h0m-137 1h0m16 0h0m1 0h0m4 0h0m6 0h0m1 0h0m5 0h0m10 0h0m3 0h0m59 0h0m3 0h0m7 0h0m1 0h0m7 0h0m14 0h0m-142 1h0m1 0h0m34 0h0m11 0h0m27 0h0m29 0h0m11 0h0m-107 1h0m4 0h0m5 0h0m5 0h0m8 0h0m4 0h0m6 0h0m9 0h0m1 0h0m26 0h0m20 0h0m1 0h0m14 0h0m2 0h0m5 0h0m12 0h0m-119 1h0m15 0h0m5 0h0m5 0h0m31 0h0m2 0h0m14 0h0m12 0h0m9 0h0m6 0h0m9 0h0m17 0h0m1 0h0m-127 1h0m3 0h0m5 0h0m4 0h0m10 0h0m8 0h0m2 0h0m1 0h0m1 0h0m6 0h0m22 0h0m23 0h0m10 0h0m3 0h0m24 0h0m-129 1h0m8 0h0m25 0h0m38 0h0m9 0h0m20 0h0m11 0h0m1 0h0m2 0h0m2 0h0m13 0h0m6 0h0m-110 1h0m30 0h0m10 0h0m1 0h0m21 0h0m5 0h0m26 0h0m-112 1h0m5 0h0m28 0h0m6 0h0m4 0h0m46 0h0m5 0h0m2 0h0m15 0h0m13 0h0m10 0h0m-138 1h0m35 0h0m44 0h0m18 0h0m3 0h0m5 0h0m1 0h0m8 0h0m3 0h0m16 0h0m5 0h0m-128 1h0m27 0h0m4 0h0m5 0h0m10 0h0m6 0h0m33 0h0m12 0h0m3 0h0m7 0h0m2 0h0m1 0h0m4 0h0m7 0h0m-129 1h0m6 0h0m8 0h0m4 0h0m4 0h0m20 0h0m5 0h0m23 0h0m11 0h0m3 0h0m23 0h0m1 0h0m2 0h0m13 0h0m2 0h0m10 0h0m-131 1h0m12 0h0m3 0h0m13 0h0m1 0h0m12 0h0m20 0h0m4 0h0m12 0h0m14 0h0m22 0h0m2 0h0m1 0h0m5 0h0m-110 1h0m4 0h0m21 0h0m16 0h0m1 0h0m47 0h0m8 0h0m4 0h0m18 0h0m-115 1h0m28 0h0m4 0h0m2 0h0m9 0h0m11 0h0m35 0h0m3 0h0m14 0h0m2 0h0m4 0h0m1 0h0m-129 1h0m1 0h0m11 0h0m1 0h0m5 0h0m18 0h0m6 0h0m33 0h0m2 0h0m4 0h0m3 0h0m7 0h0m3 0h0m18 0h0m8 0h0m-96 1h0m5 0h0m6 0h0m7 0h0m5 0h0m1 0h0m19 0h0m15 0h0m8 0h0m6 0h0m21 0h0m8 0h0m-125 1h0m1 0h0m3 0h0m14 0h0m36 0h0m3 0h0m27 0h0m25 0h0m20 0h0m-110 1h0m2 0h0m1 0h0m19 0h0m5 0h0m3 0h0m16 0h0m12 0h0m18 0h0m6 0h0m17 0h0m8 0h0m-123 1h0m1 0h0m5 0h0m7 0h0m10 0h0m32 0h0m6 0h0m17 0h0m38 0h0m3 0h0m-117 1h0m25 0h0m2 0h0m1 0h0m1 0h0m2 0h0m5 0h0m5 0h0m9 0h0m2 0h0m9 0h0m8 0h0m3 0h0m6 0h0m33 0h0m9 0h0m-104 1h0m26 0h0m1 0h0m15 0h0m10 0h0m1 0h0m13 0h0m6 0h0m24 0h0m5 0h0m-117 1h0m1 0h0m21 0h0m10 0h0m6 0h0m10 0h0m22 0h0m20 0h0m21 0h0m1 0h0m-98 1h0m1 0h0m41 0h0m5 0h0m10 0h0m2 0h0m7 0h0m2 0h0m14 0h0m2 0h0m12 0h0m-108 1h0m5 0h0m6 0h0m7 0h0m19 0h0m45 0h0m3 0h0m2 0h0m5 0h0m7 0h0m2 0h0m2 0h0m15 0h0m-114 1h0m24 0h0m5 0h0m9 0h0m6 0h0m1 0h0m1 0h0m6 0h0m17 0h0m7 0h0m2 0h0m5 0h0m12 0h0m-93 1h0m1 0h0m6 0h0m2 0h0m42 0h0m26 0h0m10 0h0m21 0h0m1 0h0m-111 1h0m2 0h0m12 0h0m7 0h0m2 0h0m4 0h0m9 0h0m15 0h0m7 0h0m9 0h0m9 0h0m3 0h0m34 0h0m-112 1h0m2 0h0m8 0h0m12 0h0m3 0h0m2 0h0m39 0h0m10 0h0m8 0h0m9 0h0m2 0h0m11 0h0m-99 1h0m28 0h0m1 0h0m1 0h0m16 0h0m3 0h0m1 0h0m4 0h0m14 0h0m33 0h0m-110 1h0m16 0h0m2 0h0m5 0h0m8 0h0m2 0h0m33 0h0m4 0h0m20 0h0m3 0h0m10 0h0m-95 1h0m1 0h0m10 0h0m9 0h0m30 0h0m7 0h0m24 0h0m15 0h0m-102 1h0m15 0h0m7 0h0m31 0h0m20 0h0m15 0h0m11 0h0m-102 1h0m10 0h0m8 0h0m2 0h0m4 0h0m3 0h0m3 0h0m7 0h0m5 0h0m26 0h0m9 0h0m1 0h0m21 0h0m-89 1h0m15 0h0m8 0h0m2 0h0m26 0h0m2 0h0m2 0h0m7 0h0m21 0h0m13 0h0m3 0h0m-99 1h0m31 0h0m1 0h0m1 0h0m39 0h0m12 0h0m-93 1h0m22 0h0m11 0h0m8 0h0m10 0h0m9 0h0m7 0h0m5 0h0m18 0h0m7 0h0m-82 1h0m6 0h0m17 0h0m4 0h0m4 0h0m10 0h0m6 0h0m26 0h0m17 0h0m-97 1h0m11 0h0m3 0h0m15 0h0m11 0h0m8 0h0m8 0h0m4 0h0m6 0h0m14 0h0m12 0h0m2 0h0m2 0h0m4 0h0m-105 1h0m99 0h0m-33 1h0m-66 1h0m30 0h0m49 0h0m8 0h0m-70 1h0m12 0h0m-26 2h0m34 0h0m13 0h0m5 0h0m-8 1h0m47 0h0m-71 1h0m42 0h0m-54 1h0m77 0h0m-81 1h0m17 1h0m77 0h0m-34 1h0m-39 2h0m54 1h0m-50 1h0m50 1h0m-15 1h0m1 1h0m-12 2h0m6 2h0m13 0h0m-30 1h0m17 0h0m-5 1h0m10 3h0m-13 1h0m-7 3h0m28 0h0m20 1h0m-24 11h0m-17 5h0m-2 5h0m3 13h0m13 2h0" stroke="#404387" stroke-width="2.6" stroke-linecap="square" fill="none"/>
<path transform="scale(.5)" d="M822 50h0m4 2h0m-1 6h0m11 0h0m-30 1h0m21 0h0m2 0h0m-32 4h0m6 0h0m10 1h0m0 2h0m23 1h0m-8 1h0m-40 1h0m42 0h0m-38 1h0m20 1h0m37 1h0m-39 1h0m11 2h0m-12 2h0m26 0h0m-15 1h0m32 0h0m-61 1h0m12 0h0m49 0h0m-46 1h0m-24 1h0m41 0h0m10 0h0m4 0h0m13 0h0m-63 1h0m22 0h0m4 0h0m4 0h0m43 0h0m-62 1h0m2 1h0m45 0h0m-23 1h0m36 0h0m-42 1h0m24 0h0m8 0h0m15 1h0m3 0h0m-89 1h0m12 0h0m32 0h0m-45 1h0m27 0h0m-24 3h0m12 1h0m16 0h0m-24 1h0m59 0h0m-43 1h0m38 1h0m1 1h0m34 0h0m-73 1h0m18 0h0m59 0h0m-81 1h0m6 0h0m40 0h0m-5 1h0m-28 3h0m-33 1h0m98 0h0m-40 2h0m45 0h0m-109 2h0m22 1h0m58 0h0m-84 1h0m63 0h0m31 0h0m-94 1h0m108 0h0m-106 1h0m43 0h0m-43 1h0m13 0h0m38 0h0m-22 1h0m29 0h0m48 0h0m-63 1h0m2 0h0m25 0h0m13 1h0m34 0h0m14 1h0m-134 1h0m46 0h0m31 0h0m-65 1h0m9 0h0m10 0h0m70 1h0m-71 1h0m40 0h0m74 0h0m-105 1h0m43 0h0m-63 1h0m75 1h0m19 0h0m-107 1h0m77 0h0m-76 1h0m21 0h0m68 0h0m28 0h0m-85 1h0m62 0h0m16 0h0m-100 1h0m73 0h0m16 0h0m-78 1h0m12 0h0m-31 1h0m51 0h0m-60 1h0m135 0h0m-132 1h0m124 0h0m5 1h0m-34 1h0m4 0h0m28 0h0m-90 1h0m60 0h0m-72 1h0m90 0h0m-99 1h0m56 0h0m20 0h0m23 0h0m24 0h0m-102 1h0m27 0h0m59 0h0m-96 1h0m52 0h0m-75 1h0m106 0h0m-59 1h0m-21 1h0m44 0h0m-19 1h0m62 0h0m-38 1h0m27 0h0m26 0h0m-132 1h0m22 0h0m1 1h0m56 0h0m3 0h0m7 0h0m35 0h0m-44 1h0m-59 1h0m24 1h0m23 0h0m-54 1h0m69 0h0m-40 1h0m5 0h0m-41 1h0m82 0h0m-11 1h0m-43 1h0m39 0h0m4 0h0m2 0h0m13 0h0m13 0h0m19 1h0m8 1h0m-142 1h0m19 0h0m64 0h0m28 0h0m36 0h0m-119 1h0m75 0h0m-77 1h0m5 1h0m84 0h0m-42 1h0m19 0h0m32 0h0m23 0h0m-128 1h0m50 0h0m43 0h0m13 1h0m-48 1h0m66 0h0m-119 2h0m9 0h0m41 0h0m42 0h0m13 0h0m-106 1h0m4 0h0m89 0h0m20 0h0m8 0h0m-71 1h0m9 0h0m63 1h0m-113 1h0m91 0h0m22 0h0m-121 1h0m5 0h0m-18 1h0m47 0h0m39 0h0m1 0h0m-70 1h0m8 0h0m-11 1h0m21 0h0m34 0h0m4 1h0m13 0h0m-57 1h0m9 0h0m35 0h0m33 0h0m-99 1h0m97 0h0m26 1h0m-131 2h0m23 1h0m23 0h0m63 0h0m-97 1h0m38 0h0m12 0h0m27 0h0m-16 1h0m50 0h0m-114 1h0m2 0h0m107 0h0m-4 1h0m-79 1h0m8 0h0m8 0h0m62 0h0m10 0h0m-115 1h0m64 0h0m24 1h0m7 0h0m6 0h0m9 1h0m-103 2h0m82 0h0m10 0h0m8 0h0m9 0h0m-66 1h0m12 1h0m-6 1h0m55 0h0m-39 1h0m32 0h0m8 0h0m-87 2h0m31 0h0m-49 1h0m12 0h0m54 0h0m25 0h0m-90 1h0m5 0h0m52 0h0m-27 2h0m77 0h0m-83 1h0m55 0h0m11 0h0m-80 1h0m63 0h0m17 0h0m-55 1h0m-18 1h0m62 0h0m-77 1h0m15 0h0m1 0h0m24 0h0m15 0h0m5 0h0m8 0h0m29 0h0m-95 1h0m4 0h0m8 0h0m29 0h0m1 0h0m4 0h0m18 0h0m18 0h0m10 0h0m3 0h0m2 0h0m-102 1h0m8 0h0m1 0h0m5 0h0m8 0h0m26 0h0m9 0h0m15 0h0m19 0h0m5 0h0m-91 1h0m6 0h0m3 0h0m18 0h0m2 0h0m42 0h0m6 0h0m3 0h0m-71 1h0m4 0h0m14 0h0m21 0h0m5 0h0m8 0h0m3 0h0m11 0h0m10 0h0m3 0h0m-86 1h0m4 0h0m1 0h0m5 0h0m21 0h0m2 0h0m2 0h0m8 0h0m51 0h0m1 0h0m-77 1h0m9 0h0m5 0h0m31 0h0m19 0h0m-86 1h0m2 0h0m6 0h0m2 0h0m11 0h0m5 0h0m13 0h0m7 0h0m10 0h0m8 0h0m6 0h0m2 0h0m2 0h0m-70 1h0m11 0h0m16 0h0m45 0h0m-64 1h0m11 0h0m25 0h0m4 0h0m17 0h0m3 0h0m6 0h0m21 0h0m-91 1h0m26 0h0m4 0h0m6 0h0m13 0h0m3 0h0m22 0h0m8 0h0m8 0h0m-89 1h0m8 0h0m7 0h0m29 0h0m8 0h0m8 0h0m2 0h0m16 0h0m5 0h0m3 0h0m-67 1h0m10 0h0m5 0h0m4 0h0m10 0h0m13 0h0m7 0h0m1 0h0m6 0h0m-45 1h0m14 0h0m6 0h0m16 0h0m3 0h0m1 0h0m2 0h0m-65 1h0m17 0h0m12 0h0m15 0h0m4 0h0m7 0h0m8 0h0m2 0h0m4 0h0m1 0h0m12 0h0m-70 1h0m6 0h0m1 0h0m17 0h0m9 0h0m9 0h0m21 0h0m5 0h0m-66 1h0m13 0h0m3 0h0m5 0h0m7 0h0m6 0h0m5 0h0m19 0h0m9 0h0m-57 1h0m4 0h0m32 0h0m7 0h0m-38 1h0m7 0h0m2 0h0m8 0h0m20 0h0m1 0h0m-56 1h0m12 0h0m16 0h0m13 0h0m2 0h0m20 0h0m4 0h0m-38 2h0m10 0h0m17 0h0m-45 1h0m11 1h0m24 0h0m4 0h0m-34 1h0m10 0h0m5 0h0m10 0h0m-27 1h0m40 0h0m-24 2h0m34 6h0m-48 3h0m37 0h0m8 0h0m-16 1h0m11 1h0m-37 4h0m2 3h0m25 1h0m-25 3h0m24 0h0m-8 3h0m5 1h0m2 3h0m-14 3h0m24 0h0m-9 4h0m1 2h0m-18 4h0m21 5h0m2 0h0m-15 3h0" stroke="#3a528b" stroke-width="2.6" stroke-linecap="square" fill="none"/>
<path transform="scale(.5)" d="M801 70h0m15 2h0m5 0h0m19 4h0m-10 1h0m-1 3h0m-13 1h0m27 0h0m-38 5h0m23 5h0m-23 2h0m18 3h0m0 2h0m-8 5h0m49 3h0m-58 3h0m59 1h0m-36 1h0m-65 1h0m53 0h0m17 4h0m-22 6h0m34 0h0m-54 1h0m103 1h0m-72 1h0m40 0h0m40 1h0m-78 1h0m-5 1h0m-8 1h0m7 0h0m1 3h0m-1 2h0m-5 3h0m51 0h0m-104 1h0m93 4h0m-66 2h0m55 0h0m12 0h0m35 6h0m-114 5h0m71 5h0m21 7h0m-46 2h0m-33 1h0m46 0h0m38 0h0m25 2h0m-97 1h0m26 8h0m50 0h0m-79 4h0m0 1h0m62 1h0m-42 1h0m59 2h0m-53 2h0m59 1h0m8 1h0m-4 1h0m-47 1h0m6 5h0m-31 4h0m35 0h0m38 0h0m-40 3h0m-53 1h0m65 0h0m-64 1h0m89 0h0m-42 1h0m23 1h0m9 1h0m-51 1h0m-26 1h0m37 1h0m-15 1h0m37 0h0m-55 1h0m61 0h0m-39 2h0m35 1h0m-41 3h0m-4 2h0m11 1h0m24 0h0m-18 4h0m10 0h0m6 0h0m-19 1h0m13 0h0m9 1h0m24 2h0m3 0h0m-42 1h0m12 0h0m-11 2h0m-7 1h0m23 0h0m-2 1h0m12 0h0m10 0h0m-29 1h0m12 0h0m-6 1h0m-19 1h0m20 0h0m-3 5h0m-8 2h0m3 0h0m10 0h0m1 0h0m11 0h0m6 0h0m2 0h0m-19 1h0m1 0h0m9 0h0m5 0h0m-25 1h0m1 0h0m14 0h0m6 0h0m5 0h0m-21 1h0m12 0h0m16 0h0m-44 1h0m10 0h0m6 0h0m3 0h0m3 0h0m8 0h0m5 0h0m1 0h0m6 0h0m1 0h0m-29 1h0m18 0h0m-30 1h0m3 0h0m1 0h0m3 0h0m13 1h0m10 0h0m-28 1h0m6 0h0m14 1h0m12 0h0m-34 1h0m29 0h0m-9 1h0m19 0h0m-25 1h0m1 0h0m13 0h0m-28 1h0m17 0h0m4 0h0m0 1h0m12 0h0m5 0h0m-25 1h0m2 1h0m6 0h0m1 0h0m3 0h0m6 0h0m-25 2h0m12 0h0m12 0h0m-23 1h0m16 0h0m-15 1h0m3 0h0m18 1h0m1 0h0m-19 1h0m12 0h0m3 0h0m2 0h0m6 0h0m-26 2h0m8 0h0m2 0h0m3 0h0m13 0h0m-23 1h0m23 0h0m-24 1h0m19 0h0m-8 1h0m10 0h0m-13 1h0m14 0h0m-13 1h0m4 1h0m1 0h0m1 1h0m3 0h0m-14 3h0" stroke="#2e6b8e" stroke-width="2.6" stroke-linecap="square" fill="none"/>
<path transform="scale(.5)" d="M803 61h0m38 3h0m-28 2h0m32 2h0m-38 1h0m-3 3h0m-24 2h0m19 1h0m22 0h0m29 4h0m-3 3h0m-49 1h0m20 0h0m1 0h0m32 2h0m12 1h0m-56 3h0m38 1h0m-33 1h0m-21 1h0m-13 3h0m84 0h0m-67 1h0m44 2h0m-22 1h0m60 0h0m-10 1h0m-76 2h0m2 0h0m7 1h0m8 0h0m46 1h0m1 0h0m-63 2h0m8 0h0m4 0h0m-8 1h0m12 0h0m23 0h0m16 5h0m4 4h0m38 0h0m-65 2h0m-57 3h0m33 3h0m26 0h0m-40 3h0m71 3h0m17 0h0m-103 2h0m68 0h0m5 1h0m-35 1h0m74 0h0m11 1h0m-49 1h0m-33 1h0m37 0h0m-29 2h0m73 2h0m-96 5h0m1 1h0m106 1h0m-141 1h0m9 0h0m1 0h0m45 1h0m63 0h0m7 1h0m-126 1h0m25 0h0m94 0h0m-72 1h0m63 0h0m-67 1h0m6 0h0m57 0h0m16 0h0m14 1h0m-1 1h0m-113 1h0m88 1h0m-90 2h0m83 0h0m29 1h0m-36 1h0m-6 1h0m-66 1h0m79 0h0m16 0h0m-84 2h0m62 1h0m20 0h0m-89 1h0m-15 1h0m-6 1h0m6 1h0m20 0h0m32 0h0m26 0h0m-52 1h0m80 0h0m1 0h0m-11 1h0m-102 2h0m11 0h0m16 1h0m70 2h0m29 0h0m-126 2h0m128 0h0m-34 2h0m1 0h0m-87 1h0m16 0h0m78 0h0m-41 3h0m25 0h0m25 1h0m18 0h0m-102 1h0m22 0h0m-31 1h0m10 0h0m23 1h0m22 0h0m47 0h0m-93 1h0m7 0h0m7 0h0m-6 1h0m66 4h0m-84 1h0m69 7h0m11 1h0m-37 3h0m-27 1h0m81 0h0m-90 4h0m69 0h0m-19 4h0m-7 14h0" stroke="#482374" stroke-width="2.6" stroke-linecap="square" fill="none"/>
<path transform="scale(.5)" d="M808 62h0m27 0h0m-12 1h0m-14 2h0m8 1h0m-27 2h0m43 0h0m-4 1h0m13 0h0m-35 2h0m26 1h0m12 0h0m-62 1h0m69 0h0m-8 1h0m-46 1h0m33 0h0m16 0h0m-60 1h0m15 0h0m17 0h0m33 1h0m1 0h0m-72 3h0m9 0h0m-3 1h0m1 0h0m27 0h0m-33 1h0m22 0h0m-21 1h0m47 0h0m-48 2h0m41 0h0m-17 3h0m1 0h0m3 1h0m29 0h0m-56 1h0m34 0h0m18 0h0m4 1h0m-43 2h0m-15 1h0m24 0h0m26 0h0m7 0h0m12 0h0m7 0h0m-53 1h0m42 0h0m-45 2h0m6 0h0m49 0h0m-58 1h0m34 0h0m-18 1h0m5 0h0m-7 1h0m46 0h0m-88 1h0m104 0h0m-29 1h0m21 0h0m-64 1h0m60 0h0m-18 2h0m31 0h0m-82 3h0m-13 1h0m46 2h0m4 0h0m5 0h0m4 0h0m-66 1h0m38 0h0m56 0h0m4 0h0m20 0h0m-15 1h0m-113 2h0m21 0h0m10 0h0m37 1h0m41 1h0m-38 1h0m24 0h0m36 0h0m-122 1h0m13 0h0m26 0h0m-45 1h0m10 0h0m13 0h0m56 0h0m-55 1h0m102 0h0m-19 1h0m-42 2h0m56 0h0m-118 1h0m70 0h0m-29 1h0m72 1h0m-99 1h0m7 0h0m44 0h0m9 1h0m4 1h0m51 0h0m-115 1h0m30 0h0m-21 1h0m57 0h0m37 0h0m-105 2h0m123 0h0m-25 1h0m4 0h0m-88 1h0m31 0h0m73 0h0m-95 1h0m87 0h0m-109 1h0m29 0h0m21 0h0m28 0h0m-79 1h0m7 1h0m21 0h0m12 0h0m10 0h0m-17 1h0m30 0h0m4 1h0m16 0h0m13 0h0m-97 1h0m28 0h0m27 0h0m-64 1h0m-6 1h0m12 1h0m110 0h0m-120 1h0m11 0h0m6 1h0m2 0h0m8 0h0m97 0h0m15 0h0m-145 1h0m25 1h0m6 0h0m6 0h0m30 0h0m23 0h0m31 0h0m-29 1h0m26 1h0m21 0h0m-141 1h0m40 0h0m96 0h0m3 0h0m-104 1h0m29 0h0m34 0h0m50 0h0m-123 1h0m63 0h0m44 0h0m-50 1h0m-82 1h0m44 0h0m59 0h0m39 0h0m5 0h0m-90 1h0m62 0h0m-86 1h0m102 0h0m-132 1h0m16 0h0m10 0h0m9 0h0m87 0h0m2 0h0m-75 1h0m87 0h0m-97 1h0m106 1h0m-74 1h0m55 0h0m7 0h0m-6 1h0m3 0h0m-30 1h0m24 0h0m-67 1h0m45 0h0m32 0h0m-71 1h0m12 0h0m-21 1h0m47 1h0m9 0h0m24 0h0m-123 1h0m1 0h0m118 0h0m-84 1h0m-16 1h0m19 0h0m73 0h0m-101 1h0m19 1h0m24 0h0m52 0h0m-76 1h0m16 0h0m82 0h0m-88 1h0m19 0h0m-28 1h0m-18 1h0m16 0h0m8 0h0m61 1h0m-55 1h0m-37 1h0m25 0h0m67 0h0m-70 1h0m63 0h0m-43 1h0m1 0h0m26 0h0m43 0h0m-120 1h0m56 0h0m17 0h0m40 1h0m-90 1h0m80 0h0m9 0h0m-110 1h0m20 0h0m28 1h0m34 0h0m-50 1h0m35 0h0m4 0h0m-2 1h0m25 0h0m-70 1h0m-8 1h0m4 1h0m36 0h0m-26 1h0m81 0h0m-89 2h0m-10 2h0m35 0h0m39 0h0m16 1h0m-54 2h0m-4 1h0m67 0h0m-85 1h0m34 0h0m-19 1h0m10 0h0m7 0h0m24 0h0m-51 1h0m-10 1h0m72 3h0m-76 1h0m64 0h0m1 1h0m-64 1h0m18 0h0m40 0h0m34 0h0m-77 1h0m4 1h0m9 6h0m15 0h0m24 0h0m-23 6h0m-13 1h0m21 2h0" stroke="#45347f" stroke-width="2.6" stroke-linecap="square" fill="none"/>
<path transform="scale(.5)" d="M812 79h0m43 2h0m-73 35h0m83 5h0m31 0h0m-75 16h0m-47 1h0m25 0h0m40 0h0m-63 16h0m24 1h0m69 6h0m-71 9h0m61 17h0m-81 12h0m21 17h0m79 11h0m-30 2h0m9 2h0m-8 3h0m-5 1h0m-7 1h0m18 0h0m-5 5h0m6 1h0m5 0h0m0 2h0m17 1h0m-14 3h0m7 1h0m3 2h0m-16 5h0m-17 2h0m30 0h0m-19 1h0m15 0h0m-1 2h0m1 1h0m3 1h0m-30 6h0m9 11h0" stroke="#29788e" stroke-width="2.6" stroke-linecap="square" fill="none"/>
<path transform="scale(.5)" d="M815 67h0m2 0h0m19 19h0m16 1h0m-78 1h0m22 1h0m-4 3h0m57 4h0m27 5h0m-28 4h0m-79 2h0m21 2h0m-24 2h0m43 2h0m-24 5h0m37 0h0m-36 1h0m59 0h0m55 0h0m-33 2h0m-102 2h0m88 0h0m-53 2h0m77 8h0m-87 6h0m29 0h0m-50 8h0m97 5h0m-58 7h0m2 2h0m74 1h0m-77 10h0m38 1h0m37 3h0m-52 2h0m-6 8h0m0 3h0m-28 3h0m6 0h0m-21 7h0m49 1h0m51 5h0m-67 4h0" stroke="#471265" stroke-width="2.6" stroke-linecap="square" fill="none"/>
<path transform="scale(.5)" d="M789 70h0m55 48h0m23 0h0m35 11h0m-81 3h0m-34 4h0m-21 6h0m69 73h0m36 1h0m9 13h0m-49 3h0m16 7h0m-11 1h0m29 13h0" stroke="#1e9b89" stroke-width="2.6" stroke-linecap="square" fill="none"/>
<path transform="scale(.5)" d="M821 50h0m-6 8h0m3 3h0m53 31h0m-58 4h0m65 4h0m1 19h0m-73 30h0m8 1h0m-1 8h0m-3 14h0m91 8h0m-95 5h0m29 30h0m-35 6h0m50 0h0m-33 7h0m49 32h0m-10 10h0" stroke="#20908c" stroke-width="2.6" stroke-linecap="square" fill="none"/>
<path transform="scale(.5)" d="M783 199h0m85 15h0m-9 20h0m-23 24h0m24 22h0m0 1h0" stroke="#22a784" stroke-width="2.6" stroke-linecap="square" fill="none"/>
<path transform="scale(.5)" d="M834 240h0m22 22h0m-8 21h0" stroke="#2fb37b" stroke-width="2.6" stroke-linecap="square" fill="none"/>
<path transform="scale(.5)" d="M777 116h0m-7 22h0m52 1h0m36 7h0m-66 41h0m87 16h0" stroke="#440154" stroke-width="2.6" stroke-linecap="square" fill="none"/>
<path transform="scale(.5)" d="M851 243h0" stroke="#44be70" stroke-width="2.6" stroke-linecap="square" fill="none"/>
<path d="M502.4 93.4 509.0 97.7 512.2 107.6 513.3 118.5 512.9 129.5 509.0 136.0 502.4 142.6 496.9 149.2 492.5 151.4 487.0 147.0 484.9 138.2 482.7 127.3 476.1 118.5 470.6 109.8 467.3 103.2 473.9 101.0 482.7 98.8 491.4 95.5 496.9 94.0Z" fill="#2bb17d" />
<path transform="scale(.5)" d="M999 189h0m5 1h0m-21 2h0m26 1h0m2 0h0m-8 1h0m1 2h0m-30 1h0m-17 3h0m4 0h0m6 1h0m13 0h0m27 0h0m-55 1h0m4 0h0m1 0h0m44 0h0m-49 2h0m21 0h0m42 0h0m-56 1h0m21 0h0m27 0h0m3 1h0m-15 1h0m17 0h0m-58 1h0m8 0h0m19 0h0m-32 1h0m8 0h0m2 0h0m30 0h0m14 0h0m13 0h0m-74 1h0m13 0h0m2 0h0m12 0h0m5 0h0m-29 1h0m2 0h0m15 0h0m2 0h0m5 0h0m1 0h0m48 0h0m-3 1h0m2 1h0m-72 1h0m3 0h0m2 0h0m28 0h0m26 0h0m6 0h0m-53 1h0m19 0h0m35 0h0m-50 1h0m9 0h0m5 0h0m48 0h0m-76 1h0m46 0h0m10 1h0m-37 1h0m46 0h0m6 0h0m-57 1h0m16 0h0m46 0h0m-75 1h0m48 0h0m-51 1h0m16 2h0m3 0h0m18 0h0m-16 1h0m16 1h0m-23 1h0m17 0h0m15 0h0m-36 1h0m13 0h0m24 0h0m3 0h0m22 0h0m-22 1h0m-25 1h0m7 0h0m-9 1h0m16 0h0m-6 1h0m3 0h0m19 0h0m-33 1h0m26 1h0m-22 1h0m11 0h0m42 0h0m-65 1h0m15 0h0m16 0h0m-36 1h0m19 0h0m10 0h0m16 0h0m21 0h0m-46 1h0m26 0h0m25 1h0m-56 1h0m8 0h0m1 0h0m2 0h0m-9 1h0m23 0h0m25 1h0m-59 1h0m27 0h0m-14 4h0m2 0h0m6 0h0m2 0h0m16 0h0m17 0h0m1 0h0m-3 2h0m-48 1h0m31 0h0m-5 3h0m29 0h0m1 1h0m3 0h0m-47 1h0m1 1h0m8 0h0m-7 1h0m4 0h0m-14 2h0m32 1h0m1 0h0m-23 1h0m43 0h0m-55 1h0m46 0h0m-42 1h0m44 1h0m-40 1h0m14 0h0m3 0h0m13 0h0m15 0h0m-16 1h0m1 1h0m6 0h0m-31 2h0m2 0h0m15 0h0m9 1h0m7 1h0m5 0h0m-36 1h0m26 0h0m5 0h0m-6 1h0m-14 1h0m1 0h0m2 0h0m14 1h0m-14 1h0m15 0h0m-30 1h0m9 0h0m3 0h0m11 1h0m-33 1h0m34 1h0m-26 1h0m16 0h0m11 0h0m-1 2h0m-21 1h0m-2 1h0m8 0h0m12 0h0m-25 4h0m11 0h0m-13 2h0m-2 2h0m8 5h0m8 1h0" stroke="#44be70" stroke-width="2.6" stroke-linecap="square" fill="none"/>
<path transform="scale(.5)" d="M1004 189h0m-14 1h0m5 3h0m21 2h0m-32 1h0m14 0h0m-34 2h0m4 2h0m48 1h0m-35 1h0m23 0h0m8 0h0m-54 1h0m-6 2h0m14 0h0m51 2h0m-32 1h0m13 0h0m9 0h0m-39 1h0m35 0h0m10 0h0m-71 1h0m27 0h0m5 1h0m22 0h0m10 0h0m2 0h0m7 0h0m-35 1h0m41 0h0m-44 1h0m-19 1h0m1 0h0m-7 1h0m36 1h0m25 0h0m-52 1h0m6 0h0m1 1h0m9 0h0m11 0h0m27 0h0m-73 2h0m75 0h0m-53 1h0m29 0h0m-34 2h0m11 0h0m30 0h0m-42 1h0m6 1h0m-12 1h0m14 0h0m26 0h0m20 0h0m-12 1h0m-32 1h0m22 0h0m24 0h0m-62 1h0m1 0h0m3 0h0m-4 1h0m43 0h0m25 0h0m-54 1h0m22 0h0m23 0h0m-45 2h0m8 0h0m39 0h0m0 1h0m-44 1h0m31 0h0m15 0h0m-53 2h0m3 0h0m22 0h0m31 0h0m-34 1h0m-24 1h0m21 0h0m-26 1h0m39 0h0m-39 1h0m10 0h0m18 0h0m13 0h0m6 0h0m4 0h0m-49 1h0m53 0h0m-52 1h0m33 0h0m26 1h0m-56 2h0m54 0h0m10 0h0m-15 1h0m-27 1h0m8 0h0m10 0h0m15 0h0m-43 2h0m38 0h0m-44 1h0m7 0h0m12 1h0m-1 1h0m32 2h0m-36 3h0m32 0h0m-39 1h0m34 0h0m-7 1h0m-3 3h0m-28 1h0m24 0h0m2 1h0m7 1h0m-24 1h0m1 0h0m18 0h0m-10 1h0m-15 1h0m36 0h0m6 0h0m-7 2h0m6 2h0m0 1h0m-19 2h0m-2 2h0m11 0h0m0 1h0m-15 2h0m1 0h0m18 0h0m-7 1h0m-20 2h0m-7 2h0m3 4h0m1 1h0m5 1h0m14 1h0" stroke="#1e9b89" stroke-width="2.6" stroke-linecap="square" fill="none"/>
<path transform="scale(.5)" d="M996 188h0m-10 2h0m5 1h0m4 1h0m2 1h0m12 2h0m-11 2h0m11 0h0m-11 1h0m2 0h0m2 0h0m-5 1h0m-39 1h0m26 0h0m9 2h0m21 0h0m-28 1h0m-40 1h0m24 0h0m-12 1h0m16 1h0m17 0h0m12 0h0m16 0h0m-63 1h0m13 0h0m28 0h0m-44 1h0m59 0h0m-51 2h0m7 0h0m41 0h0m-56 1h0m30 0h0m-11 1h0m14 1h0m19 1h0m14 0h0m-52 1h0m42 1h0m-27 1h0m3 0h0m11 0h0m17 0h0m-34 1h0m29 0h0m2 1h0m-64 1h0m46 0h0m5 0h0m12 1h0m1 0h0m5 2h0m-44 1h0m-20 1h0m5 0h0m31 0h0m6 0h0m9 0h0m17 0h0m-63 1h0m1 0h0m1 0h0m14 0h0m4 0h0m-11 1h0m4 2h0m-16 1h0m7 0h0m40 0h0m2 1h0m14 0h0m5 0h0m-71 1h0m62 0h0m-58 1h0m66 0h0m-55 1h0m25 1h0m3 0h0m20 1h0m-4 1h0m-13 1h0m13 0h0m5 0h0m-33 1h0m24 0h0m11 0h0m-4 1h0m2 1h0m10 0h0m-55 4h0m27 1h0m18 0h0m-42 2h0m-1 1h0m7 0h0m33 0h0m-45 1h0m15 0h0m-3 4h0m5 0h0m6 0h0m16 1h0m-10 1h0m20 2h0m-45 1h0m36 0h0m-27 1h0m-7 2h0m6 0h0m32 0h0m9 0h0m-44 2h0m43 0h0m-44 1h0m23 1h0m6 0h0m5 0h0m-34 2h0m10 0h0m7 0h0m16 3h0m-2 1h0m-5 1h0m-1 1h0m-27 1h0m15 0h0m7 0h0m2 4h0m10 0h0m2 3h0m-21 2h0m3 1h0m1 0h0m-13 4h0m14 1h0m-11 3h0m15 1h0m-2 1h0" stroke="#5ec961" stroke-width="2.6" stroke-linecap="square" fill="none"/>
<path transform="scale(.5)" d="M985 196h0m6 5h0m-19 9h0m24 0h0m-50 12h0m22 1h0m-13 13h0m50 8h0m-25 1h0m15 4h0m-5 11h0m-21 3h0m37 8h0m-8 1h0m0 6h0m-24 3h0m25 2h0m1 0h0m-10 7h0m-12 2h0m15 2h0m-4 1h0" stroke="#fde724" stroke-width="2.6" stroke-linecap="square" fill="none"/>
<path transform="scale(.5)" d="M1009 192h0m2 1h0m-33 1h0m-1 1h0m-4 2h0m37 1h0m3 0h0m-53 1h0m28 0h0m8 0h0m20 0h0m-24 1h0m-39 1h0m0 1h0m48 2h0m-3 1h0m8 0h0m13 0h0m-72 1h0m7 0h0m43 1h0m-30 1h0m36 0h0m-34 1h0m15 0h0m18 0h0m-43 1h0m49 0h0m-58 1h0m44 0h0m-30 1h0m29 0h0m23 0h0m-50 1h0m-26 1h0m43 1h0m-16 2h0m25 1h0m9 0h0m-33 1h0m15 0h0m8 0h0m4 0h0m-28 1h0m11 0h0m1 1h0m27 0h0m2 0h0m-14 2h0m25 0h0m3 0h0m-61 1h0m22 0h0m6 0h0m18 0h0m2 0h0m7 0h0m-46 1h0m10 0h0m44 0h0m-61 1h0m10 0h0m23 0h0m-48 1h0m3 0h0m49 0h0m-16 2h0m4 0h0m-22 1h0m-16 1h0m1 0h0m64 0h0m-2 1h0m10 0h0m-71 1h0m64 1h0m9 2h0m-10 1h0m-42 2h0m10 0h0m27 0h0m-35 1h0m23 0h0m-16 1h0m-15 1h0m45 0h0m-45 2h0m35 0h0m1 0h0m1 0h0m-18 3h0m24 0h0m-15 3h0m22 0h0m4 0h0m-50 6h0m40 2h0m-33 2h0m11 2h0m1 0h0m10 0h0m20 1h0m-50 1h0m34 2h0m-8 3h0m-12 1h0m24 0h0m11 0h0m-4 1h0m-30 1h0m8 1h0m18 5h0m-34 4h0m14 0h0m14 0h0m-29 1h0m13 0h0m-14 2h0m6 1h0" stroke="#20908c" stroke-width="2.6" stroke-linecap="square" fill="none"/>
<path transform="scale(.5)" d="M1007 189h0m-2 1h0m-12 1h0m5 5h0m-31 1h0m15 1h0m25 1h0m-27 1h0m4 1h0m-1 1h0m-34 2h0m14 0h0m-7 1h0m49 0h0m6 0h0m4 2h0m-61 1h0m25 1h0m-21 3h0m58 0h0m-2 1h0m-39 1h0m25 2h0m-19 2h0m-33 3h0m64 1h0m-49 1h0m20 2h0m-15 1h0m-13 1h0m60 0h0m-49 1h0m12 2h0m-7 1h0m23 0h0m21 0h0m-18 1h0m-8 1h0m19 2h0m3 0h0m-18 4h0m-3 2h0m33 0h0m-25 3h0m14 1h0m-19 3h0m24 0h0m-11 2h0m-1 4h0m20 2h0m-28 1h0m4 2h0m4 1h0m11 2h0m-34 3h0m-10 1h0m2 9h0m23 15h0" stroke="#24848d" stroke-width="2.6" stroke-linecap="square" fill="none"/>
<path transform="scale(.5)" d="M998 190h0m-8 1h0m-3 2h0m3 0h0m6 0h0m9 0h0m-21 1h0m-4 1h0m2 0h0m18 0h0m-23 1h0m-8 2h0m37 0h0m-43 2h0m8 1h0m1 0h0m44 0h0m-67 1h0m30 0h0m8 0h0m32 0h0m-34 2h0m18 0h0m-42 1h0m19 0h0m4 0h0m18 0h0m-50 1h0m26 0h0m40 0h0m1 0h0m-29 1h0m-48 1h0m47 0h0m-20 1h0m15 0h0m-10 1h0m22 0h0m21 0h0m1 0h0m-65 1h0m40 0h0m4 0h0m-59 1h0m15 0h0m48 1h0m18 0h0m-79 1h0m33 0h0m48 0h0m-67 1h0m2 0h0m56 0h0m11 0h0m-79 1h0m21 0h0m-10 1h0m6 0h0m40 0h0m-60 1h0m5 0h0m12 0h0m18 1h0m3 0h0m5 0h0m13 0h0m-54 1h0m14 0h0m17 1h0m-19 1h0m0 1h0m27 0h0m15 0h0m-53 1h0m3 0h0m25 0h0m38 0h0m-64 1h0m6 0h0m68 0h0m-70 1h0m8 0h0m7 0h0m10 0h0m25 0h0m-7 1h0m9 0h0m-32 1h0m22 0h0m7 0h0m7 0h0m-41 1h0m9 0h0m22 0h0m16 0h0m-49 1h0m9 0h0m1 0h0m13 0h0m-25 1h0m2 0h0m5 0h0m22 0h0m3 0h0m6 0h0m-1 2h0m-47 1h0m3 0h0m17 1h0m15 0h0m31 0h0m5 0h0m-70 1h0m27 0h0m2 0h0m-6 1h0m11 0h0m-29 1h0m13 0h0m15 0h0m17 0h0m3 0h0m8 0h0m-45 1h0m4 0h0m18 0h0m16 0h0m-35 1h0m18 0h0m10 0h0m2 1h0m5 0h0m-2 1h0m-19 1h0m32 1h0m-44 1h0m42 0h0m-15 1h0m24 0h0m-62 1h0m13 0h0m25 0h0m4 0h0m4 1h0m17 0h0m-31 1h0m4 0h0m17 0h0m-33 1h0m17 1h0m-15 1h0m-2 1h0m21 0h0m-16 2h0m1 0h0m36 0h0m-51 1h0m16 0h0m16 0h0m-18 1h0m38 0h0m-41 1h0m11 0h0m3 0h0m13 0h0m3 0h0m11 0h0m-58 1h0m16 0h0m41 0h0m-52 1h0m24 1h0m3 0h0m-12 2h0m-12 1h0m24 1h0m-23 2h0m25 1h0m-14 3h0m31 0h0m-36 2h0m4 0h0m5 5h0m-19 1h0m24 0h0m-22 1h0m9 0h0m8 0h0m1 2h0m1 0h0m3 3h0m-18 1h0m8 2h0m-5 2h0m-2 1h0m2 1h0m10 6h0" stroke="#22a784" stroke-width="2.6" stroke-linecap="square" fill="none"/>
<path transform="scale(.5)" d="M1005 188h0m2 1h0m-21 1h0m4 1h0m5 3h0m18 0h0m-38 1h0m12 2h0m1 1h0m-16 2h0m45 0h0m-49 1h0m28 0h0m-16 1h0m2 1h0m3 0h0m-29 1h0m4 0h0m2 0h0m6 0h0m15 0h0m36 0h0m-49 1h0m43 0h0m2 0h0m-62 1h0m8 0h0m20 0h0m2 0h0m35 0h0m-27 1h0m11 0h0m2 0h0m3 0h0m6 0h0m-39 1h0m19 0h0m-4 1h0m-2 1h0m-49 1h0m33 0h0m-20 1h0m-10 1h0m17 0h0m15 0h0m15 0h0m-39 1h0m30 0h0m-34 1h0m48 0h0m-41 1h0m2 0h0m9 0h0m29 0h0m18 0h0m-24 1h0m12 1h0m1 0h0m17 0h0m3 0h0m-59 1h0m13 0h0m51 0h0m-27 1h0m-51 1h0m19 0h0m11 0h0m-6 1h0m11 0h0m2 0h0m-29 1h0m12 0h0m51 0h0m-22 1h0m16 1h0m-57 1h0m9 0h0m35 0h0m18 0h0m-58 1h0m4 0h0m13 1h0m13 1h0m9 0h0m4 0h0m24 0h0m-71 1h0m14 1h0m16 0h0m-22 1h0m61 0h0m-8 1h0m2 0h0m1 0h0m-37 1h0m11 0h0m30 0h0m-43 1h0m24 2h0m-13 1h0m28 0h0m-22 1h0m11 0h0m-26 2h0m16 0h0m-33 1h0m20 0h0m-4 1h0m30 0h0m14 0h0m1 0h0m-67 1h0m5 0h0m32 1h0m13 0h0m-21 1h0m16 0h0m2 0h0m-37 2h0m30 0h0m5 0h0m23 0h0m-59 1h0m12 0h0m1 0h0m3 0h0m13 0h0m9 0h0m-19 1h0m10 0h0m-12 1h0m27 0h0m-32 1h0m-3 1h0m10 0h0m25 0h0m-31 2h0m6 0h0m3 0h0m17 0h0m-22 2h0m19 0h0m7 0h0m-18 1h0m5 0h0m14 0h0m-31 1h0m10 0h0m19 1h0m6 0h0m-29 1h0m25 0h0m-24 1h0m28 2h0m1 1h0m-40 1h0m39 3h0m-27 1h0m3 0h0m4 0h0m16 1h0m-16 3h0m-12 1h0m15 0h0m-3 4h0m2 0h0m-23 1h0m16 1h0m10 5h0m-15 3h0m5 3h0m-4 2h0m7 3h0" stroke="#2fb37b" stroke-width="2.6" stroke-linecap="square" fill="none"/>
<path transform="scale(.5)" d="M1009 190h0m-8 4h0m-1 1h0m13 2h0m-40 3h0m27 1h0m16 4h0m-28 1h0m-35 1h0m68 2h0m-59 2h0m13 0h0m43 2h0m-11 4h0m8 0h0m-47 1h0m9 1h0m45 2h0m-50 2h0m16 2h0m3 1h0m-28 3h0m10 0h0m14 1h0m31 1h0m-49 4h0m0 2h0m-1 3h0m12 0h0m-17 1h0m17 0h0m-5 13h0m17 1h0m6 0h0m4 1h0m-33 4h0m41 4h0m-40 1h0m0 2h0m29 1h0m-11 1h0m6 1h0m-24 1h0m4 0h0m18 0h0m8 2h0m6 2h0m-15 5h0m8 1h0m-7 1h0m-1 2h0m-9 4h0m5 0h0m-11 1h0m4 0h0m13 3h0m5 0h0m-7 6h0" stroke="#bdde26" stroke-width="2.6" stroke-linecap="square" fill="none"/>
<path transform="scale(.5)" d="M997 189h0m-6 1h0m-6 1h0m-4 2h0m-3 1h0m23 0h0m11 1h0m-52 6h0m40 1h0m-45 1h0m34 0h0m4 0h0m-4 2h0m2 0h0m26 0h0m-70 1h0m59 0h0m-67 1h0m67 0h0m-24 3h0m19 0h0m-3 1h0m21 0h0m-78 2h0m27 0h0m-28 1h0m53 0h0m14 0h0m-39 2h0m39 1h0m-2 2h0m2 1h0m0 1h0m-36 1h0m38 0h0m-52 1h0m14 2h0m2 0h0m-28 1h0m80 0h0m-14 3h0m-48 1h0m-12 1h0m67 3h0m-34 1h0m12 0h0m-41 1h0m26 1h0m33 0h0m-39 1h0m26 0h0m20 0h0m-37 1h0m23 0h0m-21 1h0m22 0h0m7 0h0m-38 2h0m-14 1h0m29 0h0m-2 1h0m11 1h0m6 0h0m-8 1h0m12 0h0m-29 1h0m16 0h0m2 2h0m7 0h0m-41 1h0m21 1h0m26 1h0m-39 3h0m-7 1h0m1 0h0m15 0h0m10 0h0m-16 1h0m25 2h0m-17 1h0m18 0h0m12 1h0m-42 1h0m27 0h0m14 0h0m-31 3h0m8 4h0m14 2h0m3 0h0m-20 1h0m-3 1h0m12 0h0m14 1h0m-11 1h0m-3 1h0m-26 1h0m2 0h0m22 2h0m-4 1h0m-11 1h0m17 1h0m-7 2h0m10 0h0m-20 2h0m15 0h0m-7 1h0m9 1h0m2 0h0m-10 2h0m1 0h0m6 1h0m-16 1h0m15 2h0m-9 6h0" stroke="#79d151" stroke-width="2.6" stroke-linecap="square" fill="none"/>
<path transform="scale(.5)" d="M993 194h0m-1 1h0m22 1h0m-53 4h0m39 0h0m-25 2h0m16 1h0m-37 1h0m1 0h0m7 2h0m7 1h0m6 2h0m-14 2h0m57 2h0m-31 1h0m-26 1h0m-14 4h0m48 3h0m-16 1h0m-3 1h0m3 0h0m6 0h0m-11 2h0m3 0h0m26 0h0m-28 4h0m8 0h0m-15 1h0m-15 1h0m13 0h0m7 0h0m-17 1h0m14 0h0m24 0h0m-9 4h0m18 1h0m3 1h0m-16 2h0m34 0h0m-47 4h0m23 0h0m15 3h0m-1 5h0m-42 2h0m43 3h0m-2 4h0m-37 1h0m7 1h0m9 1h0m18 3h0m-4 1h0m-4 1h0m-10 2h0m-6 1h0m-3 2h0m-4 3h0m2 1h0m13 1h0m-1 2h0m9 1h0m-14 2h0m2 1h0m-15 3h0m15 3h0m-6 1h0m4 4h0m2 0h0m-5 2h0" stroke="#9ad83c" stroke-width="2.6" stroke-linecap="square" fill="none"/>
<path transform="scale(.5)" d="M992 190h0m18 12h0m-19 4h0m19 29h0m12 7h0m-20 9h0m-37 3h0m3 0h0m5 5h0m16 3h0m-17 4h0m38 8h0" stroke="#345e8d" stroke-width="2.6" stroke-linecap="square" fill="none"/>
<path transform="scale(.5)" d="M995 191h0m0 4h0m10 4h0m-21 1h0m-17 2h0m-13 3h0m37 1h0m-49 4h0m65 2h0m-17 1h0m-16 2h0m47 0h0m-73 1h0m12 0h0m17 2h0m-31 3h0m44 1h0m-18 3h0m49 4h0m-68 3h0m47 4h0m20 3h0m-31 2h0m-24 1h0m52 2h0m-52 1h0m58 0h0m-63 2h0m7 0h0m-5 3h0m37 1h0m-13 6h0m32 0h0m-48 3h0m27 4h0m16 1h0m-23 2h0m-10 26h0" stroke="#29788e" stroke-width="2.6" stroke-linecap="square" fill="none"/>
<path transform="scale(.5)" d="M1003 188h0m-8 2h0m0 2h0m-34 8h0m3 8h0m-2 1h0m54 0h0m-28 7h0m-23 2h0m34 0h0m-41 2h0m44 5h0m-4 2h0m-48 3h0m13 3h0m25 2h0m15 0h0m-9 4h0m-26 1h0m54 3h0m-23 3h0m14 2h0m-37 5h0m9 4h0m15 1h0m13 2h0m-37 2h0m31 1h0m15 1h0" stroke="#2e6b8e" stroke-width="2.6" stroke-linecap="square" fill="none"/>
<path transform="scale(.5)" d="M1001 191h0m14 5h0m-46 1h0m43 3h0m-25 8h0m-15 1h0m22 0h0m-23 5h0m2 4h0m-11 4h0m31 1h0m18 2h0m8 0h0m-33 5h0m-26 7h0m46 7h0m19 2h0m-62 2h0m50 1h0m-41 4h0m0 7h0m18 0h0m8 1h0m-21 3h0m2 8h0m28 5h0m-33 5h0m5 11h0m18 0h0m-9 2h0m-8 1h0m2 3h0" stroke="#dfe318" stroke-width="2.6" stroke-linecap="square" fill="none"/>
<path transform="scale(.5)" d="M969 240h0m55 2h0m-6 12h0" stroke="#404387" stroke-width="2.6" stroke-linecap="square" fill="none"/>
<path transform="scale(.5)" d="M976 235h0m7 11h0" stroke="#3a528b" stroke-width="2.6" stroke-linecap="square" fill="none"/>
<path transform="scale(.5)" d="M808 57h0m33 5h0m-56 4h0m77 16h0m-91 2h0m101 7h0m13 13h0m20 55h0m-141 22h0m3 0h0m131 7h0m-122 7h0m6 10h0m107 1h0" stroke="#482374" stroke-width="2.2" stroke-linecap="square" fill="none"/>
<path transform="scale(.5)" d="M823 47h0m-4 1h0m5 0h0m-31 15h0m52 3h0m4 0h0m-1 2h0m1 4h0m-79 4h0m2 7h0m101 3h0m-103 1h0m102 6h0m-104 1h0m113 7h0m-118 4h0m126 3h0m4 1h0m-131 2h0m3 1h0m138 3h0m2 0h0m-147 10h0m150 0h0m-2 11h0m-146 10h0m1 0h0m-1 17h0m2 13h0m7 7h0m5 10h0m28 32h0" stroke="#45347f" stroke-width="2.2" stroke-linecap="square" fill="none"/>
<path transform="scale(.5)" d="M819 48h0m2 0h0m-4 1h0m3 0h0m2 0h0m-2 1h0m-7 2h0m7 0h0m-2 1h0m14 0h0m-23 1h0m6 0h0m14 0h0m-10 1h0m16 0h0m-5 1h0m3 0h0m-34 4h0m-1 1h0m3 1h0m-4 1h0m2 0h0m41 0h0m-40 2h0m42 0h0m6 2h0m-55 2h0m59 0h0m-64 1h0m61 0h0m-71 1h0m69 0h0m-1 2h0m-71 6h0m86 0h0m1 0h0m-87 2h0m90 0h0m-94 3h0m93 0h0m-2 1h0m8 2h0m-103 2h0m104 1h0m-2 1h0m5 1h0m-6 1h0m-102 1h0m109 0h0m-107 1h0m105 1h0m3 1h0m1 0h0m-111 1h0m109 0h0m8 0h0m1 0h0m-119 1h0m119 0h0m-119 1h0m121 2h0m0 2h0m-124 1h0m129 3h0m-2 4h0m2 0h0m3 0h0m-128 1h0m124 0h0m11 0h0m3 0h0m-8 1h0m-3 1h0m-130 2h0m137 0h0m-141 3h0m4 1h0m148 1h0m-150 3h0m2 0h0m144 0h0m-149 2h0m6 1h0m143 0h0m-143 2h0m145 0h0m-2 1h0m-144 1h0m145 1h0m-151 1h0m4 1h0m1 1h0m144 0h0m3 1h0m-149 1h0m144 1h0m-149 1h0m6 1h0m1 4h0m143 0h0m3 1h0m1 1h0m3 0h0m-4 2h0m-149 2h0m3 0h0m-4 1h0m1 0h0m144 1h0m-147 1h0m3 2h0m-2 3h0m-1 1h0m150 0h0m2 0h0m-150 5h0m4 1h0m-4 2h0m145 1h0m-139 2h0m-1 2h0m141 0h0m1 0h0m-141 3h0m137 0h0m5 0h0m-141 4h0m2 0h0m134 0h0m-137 1h0m7 0h0m-6 1h0m137 0h0m-136 1h0m1 0h0m133 0h0m4 0h0m-135 2h0m128 0h0m2 1h0m-128 1h0m127 0h0m1 0h0m-130 1h0m1 0h0m6 1h0m120 0h0m-124 1h0m6 0h0m117 0h0m2 1h0m-3 1h0m-5 1h0m6 0h0m1 1h0m-1 2h0m-118 1h0m1 1h0m-4 1h0m5 1h0m114 0h0m2 0h0m-116 1h0m116 0h0m-2 2h0m-106 13h0m23 13h0m12 1h0m25 54h0" stroke="#404387" stroke-width="2.2" stroke-linecap="square" fill="none"/>
<path transform="scale(.5)" d="M847 65h0m2 6h0m-69 1h0m79 5h0m1 7h0m-94 4h0m104 6h0m9 3h0m32 19h0m-153 23h0m148 26h0m3 7h0m-10 4h0m-124 26h0m109 1h0m4 1h0m1 0h0m-81 22h0m15 1h0m-4 2h0m61 0h0m-54 1h0m-10 1h0m7 1h0m5 0h0m55 1h0m1 0h0m-60 1h0m1 0h0m-8 1h0m65 0h0m-4 1h0m1 1h0m2 0h0m-52 3h0m-1 3h0m2 0h0m-2 1h0m52 0h0m-51 1h0m50 1h0m-45 1h0m-3 1h0m43 0h0m4 0h0m-44 2h0m44 1h0m-4 6h0m-41 1h0m41 0h0m6 2h0m-2 3h0m-38 12h0m2 4h0m8 5h0m2 1h0" stroke="#345e8d" stroke-width="2.2" stroke-linecap="square" fill="none"/>
<path transform="scale(.5)" d="M825 51h0m-35 13h0m-11 9h0m-17 56h0m147 35h0m-11 20h0m-112 25h0m103 7h0m-96 4h0m90 4h0m3 1h0m-70 4h0m10 5h0m-3 5h0m5 12h0m1 2h0m3 0h0m45 0h0m0 4h0m-45 1h0m41 0h0m-39 1h0m38 0h0m4 0h0m-42 1h0m-2 2h0m1 0h0m39 0h0m-38 3h0m40 0h0m2 0h0m-43 1h0m2 0h0m0 1h0m1 0h0m36 0h0m-37 1h0m5 0h0m-1 2h0m1 1h0m32 1h0m-33 1h0m29 0h0m-28 2h0m30 0h0m-32 1h0m36 0h0m-30 2h0m19 0h0m-28 1h0m31 0h0m-1 1h0m-25 2h0m6 0h0m10 0h0m3 0h0m1 0h0m5 0h0m-13 1h0m8 1h0m-10 3h0m5 0h0" stroke="#2e6b8e" stroke-width="2.2" stroke-linecap="square" fill="none"/>
<path transform="scale(.5)" d="M796 65h0m51 3h0m4 2h0m1 2h0m-79 8h0m85 0h0m15 8h0m-107 7h0m118 2h0m0 6h0m7 11h0m12 2h0m5 1h0m0 13h0m-3 8h0m4 8h0m-3 11h0m-147 11h0m3 4h0m144 2h0m-140 6h0m135 0h0m-3 7h0m-123 10h0m117 1h0m-111 6h0m1 1h0m105 2h0m5 1h0m-114 1h0m111 0h0m-101 2h0m0 2h0m-1 1h0m1 0h0m103 0h0m-11 1h0m10 2h0m-105 1h0m5 0h0m13 0h0m-7 1h0m91 0h0m1 0h0m-90 1h0m8 1h0m77 0h0m-91 1h0m10 0h0m7 0h0m74 1h0m3 0h0m-81 1h0m9 0h0m71 0h0m-83 1h0m11 0h0m74 6h0m-63 7h0m6 1h0m47 8h0m-46 8h0m3 5h0m36 18h0m-28 3h0" stroke="#3a528b" stroke-width="2.2" stroke-linecap="square" fill="none"/>
<path transform="scale(.5)" d="M823 47h0m24 20h0m-23 168h0m53 12h0m-4 11h0m-39 7h0m4 5h0m27 7h0m-5 6h0m-10 2h0m13 0h0" stroke="#29788e" stroke-width="2.2" stroke-linecap="square" fill="none"/>
<path transform="scale(.5)" d="M818 49h0m12 3h0m-69 61h0m146 26h0m3 13h0m-12 31h0" stroke="#471265" stroke-width="2.2" stroke-linecap="square" fill="none"/>
<path transform="scale(.5)" d="M816 51h0m-39 22h0m78 6h0m20 15h0m-110 8h0m118 0h0m13 11h0m1 0h0m-66 135h0m0 10h0m41 10h0m-1 1h0m-33 10h0m12 6h0" stroke="#24848d" stroke-width="2.2" stroke-linecap="square" fill="none"/>
<path transform="scale(.5)" d="M832 256h0m43 2h0m-37 17h0m5 7h0" stroke="#22a784" stroke-width="2.2" stroke-linecap="square" fill="none"/>
<path transform="scale(.5)" d="M817 48h0m80 153h0" stroke="#1e9b89" stroke-width="2.2" stroke-linecap="square" fill="none"/>
<path transform="scale(.5)" d="M862 83h0m17 166h0" stroke="#20908c" stroke-width="2.2" stroke-linecap="square" fill="none"/>
<path transform="scale(.5)" d="M805 223h0" stroke="#44be70" stroke-width="2.2" stroke-linecap="square" fill="none"/>
<path transform="scale(.5)" d="M1002 187h0m-38 10h0m0 3h0m59 3h0m-86 12h0m91 9h0m-70 21h0m5 5h0m64 2h0m-56 28h0m3 4h0m24 9h0" stroke="#24848d" stroke-width="2.2" stroke-linecap="square" fill="none"/>
<path transform="scale(.5)" d="M1006 187h0m-16 1h0m19 1h0m3 2h0m8 7h0m-53 1h0m2 0h0m53 14h0m3 28h0m-69 1h0m5 12h0m7 8h0m-1 3h0m45 17h0m-40 8h0m29 3h0m-8 7h0m-3 5h0" stroke="#9ad83c" stroke-width="2.2" stroke-linecap="square" fill="none"/>
<path transform="scale(.5)" d="M1012 190h0m4 78h0m-34 25h0" stroke="#29788e" stroke-width="2.2" stroke-linecap="square" fill="none"/>
<path transform="scale(.5)" d="M992 188h0m-12 2h0m8 1h0m4 1h0m22 2h0m-59 3h0m-1 3h0m66 3h0m-86 3h0m88 2h0m3 7h0m-1 1h0m3 13h0m-73 5h0m-2 1h0m-3 1h0m17 24h0m-2 12h0m13 27h0" stroke="#20908c" stroke-width="2.2" stroke-linecap="square" fill="none"/>
<path transform="scale(.5)" d="M984 188h0m22 1h0m-39 6h0m9 1h0m-41 8h0m82 0h0m5 0h0m2 1h0m-4 3h0m2 1h0m-84 2h0m-2 4h0m85 3h0m-85 3h0m89 0h0m-1 3h0m3 1h0m0 17h0m0 1h0m-1 2h0m-1 6h0m1 4h0m-59 4h0m0 1h0m55 0h0m-54 2h0m44 14h0m-41 13h0m26 1h0m4 2h0m-19 5h0" stroke="#2fb37b" stroke-width="2.2" stroke-linecap="square" fill="none"/>
<path transform="scale(.5)" d="M1002 187h0m13 6h0m-71 10h0m3 0h0m-2 3h0m-5 3h0m83 0h0m-84 4h0m85 1h0m-84 2h0m82 5h0m-72 12h0m72 0h0m4 8h0m-2 1h0m0 11h0m4 3h0m-60 6h0m-2 7h0m55 5h0m-9 1h0m-43 1h0m3 3h0m1 4h0m29 9h0m-24 5h0" stroke="#1e9b89" stroke-width="2.2" stroke-linecap="square" fill="none"/>
<path transform="scale(.5)" d="M995 184h0m2 3h0m-10 2h0m-20 7h0m-1 2h0m-11 4h0m-16 10h0m87 4h0m0 5h0m-1 1h0m-81 5h0m80 1h0m-63 21h0m4 0h0m62 0h0m-3 12h0m-7 10h0m5 0h0m-55 1h0m48 3h0m-6 6h0m-39 10h0m31 2h0m3 1h0m-8 2h0m-14 1h0m9 3h0" stroke="#5ec961" stroke-width="2.2" stroke-linecap="square" fill="none"/>
<path transform="scale(.5)" d="M977 189h0m5 4h0m-14 2h0m-4 2h0m-14 40h0m59 44h0" stroke="#2e6b8e" stroke-width="2.2" stroke-linecap="square" fill="none"/>
<path transform="scale(.5)" d="M997 189h0m-7 1h0m8 0h0m18 1h0m-40 4h0m-6 5h0m-15 3h0m-9 2h0m-6 6h0m81 10h0m2 5h0m-71 4h0m76 1h0m-77 6h0m75 0h0m-2 25h0m-58 3h0m52 12h0m-7 2h0m-39 1h0m3 10h0" stroke="#44be70" stroke-width="2.2" stroke-linecap="square" fill="none"/>
<path transform="scale(.5)" d="M952 202h0m6 44h0m66 3h0m-55 23h0m45 6h0m-42 1h0m-3 6h0m13 13h0m1 5h0" stroke="#bdde26" stroke-width="2.2" stroke-linecap="square" fill="none"/>
<path transform="scale(.5)" d="M996 185h0m-3 3h0m15 2h0m9 1h0m-46 4h0m-14 1h0m4 1h0m1 0h0m3 3h0m54 2h0m-74 1h0m-5 8h0m87 19h0m-79 2h0m1 0h0m80 0h0m-72 11h0m3 6h0m66 2h0m2 1h0m-63 4h0m5 19h0" stroke="#22a784" stroke-width="2.2" stroke-linecap="square" fill="none"/>
<path transform="scale(.5)" d="M1027 234h0m-64 18h0" stroke="#fde724" stroke-width="2.2" stroke-linecap="square" fill="none"/>
<path transform="scale(.5)" d="M990 187h0m20 3h0m14 38h0m-85 1h0m87 8h0m-57 17h0m-4 4h0m-1 10h0m48 9h0m-6 8h0m-36 2h0m34 2h0m-9 4h0m-19 3h0m23 1h0m-12 2h0m8 2h0" stroke="#79d151" stroke-width="2.2" stroke-linecap="square" fill="none"/>
<path transform="scale(.5)" d="M967 259h0m21 44h0" stroke="#dfe318" stroke-width="2.2" stroke-linecap="square" fill="none"/>
<path transform="scale(.5)" d="M943 224h0" stroke="#45347f" stroke-width="2.2" stroke-linecap="square" fill="none"/>
<path transform="scale(.5)" d="M945 225h0" stroke="#345e8d" stroke-width="2.2" stroke-linecap="square" fill="none"/>
<path transform="scale(.5)" d="M1019 201h0" stroke="#482374" stroke-width="2.2" stroke-linecap="square" fill="none"/>
<path transform="scale(.5)" d="M972 270h0" stroke="#404387" stroke-width="2.2" stroke-linecap="square" fill="none"/>
<path transform="scale(.5)" d="M906 155h0m2 5h0m-1 4h0m2 4h0m-8 1h0m-2 4h0m-1 2h0m0 2h0m1 0h0m6 0h0m8 0h0m2 1h0m-17 1h0m31 1h0m-7 1h0m-24 1h0m2 1h0m26 0h0m-17 1h0m-17 3h0m20 1h0m1 0h0m12 1h0m-18 2h0m31 0h0m-31 2h0m7 0h0m11 0h0m-21 1h0m5 0h0m15 0h0m14 0h0m-28 1h0m11 0h0m-2 1h0m-8 1h0m9 0h0m22 1h0m-25 3h0m11 2h0m7 0h0m-2 1h0m-11 1h0m5 1h0m20 0h0m4 0h0m-6 1h0m-9 2h0m-9 1h0m13 1h0m-1 2h0m3 0h0m-8 1h0m21 2h0m6 0h0m-17 1h0m1 1h0m4 0h0m-16 2h0m14 1h0m-8 1h0m6 3h0m14 6h0" stroke="#20908c" stroke-width="2.0" stroke-linecap="square" fill="none"/>
<path transform="scale(.5)" d="M910 166h0m-13 5h0m7 0h0m4 3h0m-8 1h0m-3 5h0m4 1h0m5 6h0m21 0h0m-39 1h0m20 0h0m11 0h0m-6 1h0m1 0h0m-7 1h0m11 0h0m4 0h0m4 1h0m17 1h0m-42 1h0m7 0h0m3 1h0m11 0h0m-4 2h0m7 1h0m16 0h0m-30 1h0m17 4h0m22 0h0m-19 1h0m18 0h0m-7 3h0m-7 1h0m2 0h0m-14 1h0m7 3h0m-3 3h0m19 1h0m-20 1h0m23 1h0m-20 3h0m-3 11h0m25 1h0m1 0h0" stroke="#29788e" stroke-width="2.0" stroke-linecap="square" fill="none"/>
<path transform="scale(.5)" d="M906 161h0m7 3h0m3 4h0m-13 1h0m-2 4h0m-2 1h0m-1 1h0m9 1h0m-11 4h0m24 3h0m-15 1h0m13 1h0m-1 1h0m-8 1h0m9 0h0m-10 1h0m11 1h0m-2 2h0m-13 2h0m30 1h0m-12 1h0m27 2h0m-35 4h0m8 0h0m1 0h0m20 2h0m-17 1h0m-4 1h0m12 2h0m5 2h0m-8 1h0m11 0h0m3 0h0m-31 1h0m18 1h0m13 0h0m-4 1h0m6 0h0m0 2h0m-4 3h0m5 3h0m-2 2h0m-3 2h0m14 1h0m-16 1h0m4 0h0m-1 1h0" stroke="#404387" stroke-width="2.0" stroke-linecap="square" fill="none"/>
<path transform="scale(.5)" d="M904 172h0m-8 1h0m7 2h0m7 1h0m-12 1h0m29 11h0m-28 1h0m21 0h0m1 0h0m-12 2h0m8 2h0m-8 1h0m13 0h0m24 0h0m-28 1h0m14 0h0m-28 3h0m35 0h0m-19 1h0m2 0h0m12 0h0m-14 2h0m8 1h0m16 1h0m-17 3h0m26 0h0m-25 1h0m1 0h0m2 0h0m-5 1h0m6 2h0m1 0h0m1 1h0m3 1h0m3 0h0m1 1h0m-9 1h0m-13 1h0m18 0h0m-9 2h0m5 0h0m1 0h0m-6 8h0m16 5h0m-21 12h0" stroke="#22a784" stroke-width="2.0" stroke-linecap="square" fill="none"/>
<path d="M567.0 24.4 573.6 28.8 580.1 35.3 582.3 36.4 590.0 44.1 598.8 52.8 604.2 57.2 610.8 58.3 609.7 63.8 608.6 72.5 609.7 79.1 608.6 85.7 605.3 92.3 602.0 98.8 598.8 107.6 596.6 116.3 593.3 127.3 591.1 136.0 586.7 141.5 581.2 143.1 575.8 139.3 572.5 131.7 570.3 122.9 568.1 116.3 561.5 113.1 552.8 109.8 547.3 105.4 542.9 96.6 537.5 87.9 534.2 80.2 535.3 72.6 536.4 61.6 537.5 52.8 539.6 44.1 544.0 36.4 550.6 33.1 557.2 29.9 562.6 26.6Z" fill="#29788e" />
<path d="M602.0 98.8 598.8 107.6 596.6 116.3 593.3 127.3 591.1 136.0 586.7 141.5 581.2 143.1 575.8 139.3 572.5 131.7 570.3 122.9 568.1 116.3 566.5 110.0 572.5 105.0 582.5 102.0 592.5 100.0Z" fill="#345e8d" />
<path transform="scale(.5)" d="M1131 51h0m-7 9h0m5 0h0m-6 2h0m-4 1h0m30 0h0m-30 4h0m-22 6h0m11 0h0m42 2h0m-57 1h0m62 0h0m-35 1h0m19 0h0m-16 2h0m9 0h0m-23 3h0m15 0h0m34 0h0m-37 1h0m14 0h0m0 1h0m23 1h0m-23 4h0m18 0h0m24 0h0m-78 1h0m37 0h0m-30 1h0m42 0h0m34 0h0m-76 1h0m59 0h0m-25 1h0m3 2h0m-24 1h0m5 0h0m-34 1h0m70 0h0m20 0h0m-65 1h0m65 0h0m-85 1h0m56 0h0m-25 2h0m38 0h0m-56 1h0m15 0h0m26 0h0m-62 1h0m17 0h0m62 0h0m12 0h0m1 0h0m-63 1h0m27 0h0m-24 1h0m67 0h0m-62 1h0m20 0h0m15 0h0m5 0h0m6 0h0m-93 2h0m13 0h0m106 0h0m-83 1h0m53 0h0m-14 1h0m-14 1h0m-29 1h0m1 0h0m71 1h0m16 0h0m-110 1h0m31 0h0m3 0h0m71 0h0m-105 2h0m95 0h0m7 0h0m-34 1h0m36 1h0m20 0h0m7 1h0m-96 1h0m11 0h0m82 0h0m-36 1h0m22 0h0m1 0h0m-126 1h0m104 0h0m9 0h0m-52 1h0m6 0h0m47 0h0m-116 1h0m11 0h0m62 0h0m40 0h0m-114 1h0m94 0h0m-42 1h0m34 0h0m18 0h0m-59 1h0m42 0h0m5 0h0m16 0h0m-86 1h0m93 0h0m10 0h0m-36 1h0m-56 1h0m21 0h0m10 0h0m51 0h0m-47 1h0m65 0h0m-95 1h0m69 0h0m36 0h0m-114 1h0m15 0h0m46 0h0m15 0h0m14 0h0m4 0h0m4 0h0m-68 1h0m76 0h0m-136 3h0m144 0h0m-127 1h0m10 0h0m38 0h0m-48 1h0m64 0h0m44 1h0m-102 1h0m99 0h0m15 0h0m-69 1h0m10 0h0m34 0h0m-53 1h0m26 0h0m45 0h0m-68 1h0m-9 1h0m-9 1h0m41 0h0m53 0h0m-123 1h0m2 0h0m56 1h0m68 0h0m-129 1h0m31 1h0m5 0h0m47 0h0m34 0h0m-122 1h0m87 0h0m6 0h0m11 0h0m-84 1h0m8 0h0m19 0h0m51 0h0m1 0h0m17 0h0m-124 1h0m124 0h0m13 1h0m8 0h0m-47 1h0m49 0h0m-149 1h0m137 0h0m-136 1h0m2 0h0m17 0h0m10 0h0m8 0h0m81 0h0m29 0h0m-137 2h0m48 0h0m6 0h0m45 0h0m12 0h0m12 0h0m-107 1h0m35 0h0m42 0h0m9 0h0m18 0h0m8 0h0m-138 1h0m9 0h0m11 0h0m22 0h0m44 0h0m1 0h0m45 0h0m-127 1h0m22 0h0m74 0h0m-65 1h0m18 0h0m38 0h0m-89 1h0m73 0h0m30 0h0m9 0h0m4 0h0m-89 1h0m36 0h0m25 0h0m-89 1h0m3 0h0m99 0h0m18 0h0m12 0h0m-111 1h0m7 0h0m108 0h0m-32 1h0m28 0h0m2 0h0m4 0h0m-107 1h0m8 0h0m22 0h0m77 0h0m-78 1h0m63 0h0m17 0h0m-75 1h0m78 0h0m-73 1h0m-37 1h0m32 0h0m79 0h0m-128 1h0m77 0h0m24 1h0m-33 1h0m-65 1h0m-3 1h0m31 0h0m13 1h0m32 2h0m1 0h0m-72 1h0m4 0h0m44 0h0m-61 1h0m4 0h0m49 0h0m5 0h0m-58 1h0m104 0h0m1 0h0m-29 1h0m-43 2h0m94 0h0m-20 1h0m-51 1h0m5 0h0m5 0h0m43 0h0m-76 1h0m54 0h0m4 0h0m-39 2h0m4 0h0m15 0h0m28 0h0m-22 1h0m18 0h0m-37 4h0m35 1h0m2 0h0m6 0h0m-51 1h0m42 0h0m-3 1h0m-20 1h0m36 0h0m2 0h0m-77 1h0m39 0h0m-56 1h0m6 0h0m1 0h0m78 0h0m-73 1h0m67 0h0m17 0h0m-24 1h0m-33 1h0m6 0h0m19 0h0m-14 1h0m50 0h0m-48 1h0m32 0h0m12 0h0m-89 1h0m88 0h0m7 0h0m2 0h0m-89 1h0m34 0h0m14 0h0m14 0h0m0 1h0m7 0h0m-78 1h0m27 0h0m31 0h0m-2 1h0m-51 1h0m46 0h0m9 0h0m-30 1h0m61 0h0m-48 1h0m3 0h0m-18 1h0m35 0h0m17 0h0m12 1h0m-31 1h0m10 1h0m-48 1h0m40 0h0m1 0h0m16 0h0m1 0h0m-66 1h0m11 0h0m-2 1h0m1 2h0m27 0h0m21 0h0m6 0h0m-41 1h0m20 0h0m15 0h0m3 0h0m-43 1h0m28 0h0m6 0h0m-10 1h0m29 1h0m-46 1h0m28 1h0m-27 1h0m48 0h0m-47 1h0m10 0h0m9 0h0m14 0h0m-22 1h0m4 1h0m-11 2h0m15 0h0m16 2h0m-34 1h0m20 0h0m1 0h0m27 1h0m-37 1h0m19 0h0m-26 2h0m18 0h0m17 0h0m5 0h0m-37 3h0m25 2h0m-29 2h0m7 0h0m-5 1h0m38 0h0m-20 2h0m-21 3h0m2 0h0m12 1h0m1 0h0m-12 1h0m12 1h0m18 0h0m-27 1h0m17 0h0m-18 2h0m15 0h0m10 0h0m3 0h0m3 1h0m-29 2h0m-1 2h0m4 1h0m0 1h0m16 0h0m7 3h0m-18 1h0m17 0h0m-7 3h0m8 0h0m-16 3h0m5 1h0m6 0h0m-14 1h0m12 1h0" stroke="#482374" stroke-width="2.6" stroke-linecap="square" fill="none"/>
<path transform="scale(.5)" d="M1120 60h0m23 1h0m-12 1h0m1 2h0m11 3h0m-27 1h0m-19 4h0m21 1h0m14 0h0m-23 2h0m9 0h0m11 0h0m11 1h0m-42 4h0m7 1h0m63 3h0m-72 1h0m68 1h0m-50 1h0m-8 1h0m46 2h0m-31 1h0m17 0h0m-54 2h0m92 0h0m-39 1h0m-11 3h0m19 0h0m-46 1h0m88 3h0m-86 2h0m83 0h0m-55 4h0m45 1h0m14 2h0m-53 2h0m28 0h0m-53 1h0m-5 1h0m14 0h0m-28 1h0m106 0h0m3 0h0m6 0h0m-132 2h0m26 0h0m94 0h0m-26 2h0m-92 1h0m29 0h0m-19 3h0m95 0h0m3 0h0m-79 2h0m72 0h0m36 0h0m-135 1h0m125 0h0m-18 4h0m31 2h0m-7 2h0m6 4h0m-55 3h0m-76 1h0m130 2h0m-125 3h0m102 3h0m3 0h0m-91 1h0m90 0h0m0 2h0m1 2h0m20 0h0m-130 2h0m83 0h0m3 0h0m-57 1h0m82 0h0m12 1h0m-98 1h0m10 0h0m20 0h0m29 2h0m13 1h0m-42 3h0m20 3h0m-18 1h0m51 1h0m9 0h0m-21 2h0m-47 2h0m13 1h0m57 0h0m-15 1h0m-4 1h0m-35 1h0m15 1h0m41 1h0m-70 1h0m-30 1h0m2 0h0m25 0h0m61 0h0m-98 1h0m17 1h0m46 0h0m38 0h0m-91 1h0m80 1h0m22 0h0m-29 1h0m-22 1h0m-1 1h0m3 0h0m24 0h0m-39 2h0m32 0h0m13 0h0m18 0h0m-111 1h0m7 0h0m102 2h0m-78 1h0m60 1h0m-42 1h0m-30 1h0m4 0h0m32 0h0m-45 1h0m20 2h0m20 0h0m47 0h0m-15 1h0m-5 2h0m23 0h0m-57 1h0m-5 1h0m-10 1h0m9 0h0m41 1h0m9 0h0m7 0h0m-91 3h0m8 0h0m86 0h0m-91 1h0m20 3h0m12 1h0m36 0h0m-27 2h0m37 0h0m7 0h0m8 2h0m-66 2h0m30 0h0m15 0h0m-56 1h0m22 1h0m38 0h0m16 1h0m-62 1h0m15 0h0m19 0h0m-28 2h0m11 0h0m25 0h0m9 1h0m10 0h0m-11 2h0m-34 1h0m30 0h0m-33 1h0m8 0h0m29 0h0m1 0h0m-33 2h0m9 0h0m12 3h0m15 0h0m-28 2h0m-11 1h0m7 0h0m34 0h0m2 1h0m-20 1h0m16 0h0m-19 4h0m-15 3h0m9 1h0m-16 3h0m29 0h0m-21 2h0m9 0h0m-9 1h0m-7 1h0m36 0h0m-12 1h0m-10 2h0m6 0h0m7 0h0m-23 5h0m27 1h0m-22 1h0m24 3h0m-15 1h0m3 3h0m8 0h0m-15 2h0m3 3h0" stroke="#3a528b" stroke-width="2.6" stroke-linecap="square" fill="none"/>
<path transform="scale(.5)" d="M1111 64h0m38 1h0m-19 1h0m22 1h0m-57 6h0m44 0h0m23 0h0m-38 5h0m-3 2h0m27 3h0m-16 4h0m43 1h0m-29 3h0m-43 2h0m38 1h0m1 2h0m8 0h0m-52 2h0m47 1h0m-45 8h0m-3 2h0m62 1h0m-71 3h0m96 0h0m-26 3h0m-57 3h0m66 0h0m-94 1h0m63 1h0m13 0h0m25 0h0m-90 1h0m20 1h0m-8 1h0m45 0h0m-45 1h0m6 0h0m35 1h0m3 0h0m5 0h0m-37 2h0m-10 1h0m-16 1h0m20 3h0m77 1h0m-13 1h0m-33 1h0m12 1h0m-48 7h0m22 3h0m15 0h0m62 0h0m-90 1h0m46 2h0m-78 2h0m26 1h0m-27 1h0m40 1h0m7 1h0m10 1h0m52 0h0m-51 1h0m-23 2h0m-10 1h0m19 0h0m22 1h0m38 0h0m-55 2h0m17 0h0m-31 1h0m28 0h0m32 0h0m7 0h0m-51 2h0m74 3h0m8 0h0m-72 2h0m4 1h0m-42 1h0m88 4h0m-69 1h0m5 1h0m-21 8h0m72 0h0m-46 8h0m-29 1h0m34 2h0m12 2h0m26 6h0m-46 7h0m60 6h0m-52 8h0m40 39h0" stroke="#5ec961" stroke-width="2.6" stroke-linecap="square" fill="none"/>
<path transform="scale(.5)" d="M1139 52h0m-6 1h0m-2 1h0m-12 4h0m28 0h0m-22 3h0m-3 1h0m13 0h0m18 2h0m-36 2h0m7 2h0m-27 5h0m49 2h0m-30 1h0m47 1h0m5 0h0m-10 2h0m8 0h0m-32 3h0m6 0h0m17 1h0m-75 1h0m80 0h0m-73 1h0m9 1h0m59 0h0m8 2h0m-69 1h0m-5 2h0m51 0h0m1 0h0m-43 1h0m31 0h0m18 0h0m26 1h0m-95 1h0m60 1h0m39 0h0m-70 1h0m66 0h0m-92 1h0m24 0h0m57 0h0m2 0h0m-55 1h0m22 0h0m4 0h0m40 0h0m-46 2h0m-54 1h0m100 0h0m11 0h0m-7 1h0m-90 1h0m26 0h0m22 0h0m47 0h0m-16 1h0m-47 1h0m-33 1h0m75 0h0m8 0h0m25 0h0m-78 2h0m23 0h0m-31 1h0m88 1h0m-113 1h0m27 0h0m44 0h0m-51 1h0m54 0h0m-84 2h0m83 0h0m-8 2h0m54 0h0m-129 1h0m13 0h0m50 0h0m9 1h0m35 0h0m-104 1h0m80 1h0m-37 1h0m36 0h0m-47 1h0m33 0h0m72 0h0m-23 1h0m22 0h0m-124 1h0m42 0h0m6 0h0m60 0h0m-79 1h0m53 0h0m42 0h0m-40 1h0m-97 1h0m18 0h0m55 0h0m-6 1h0m-62 1h0m2 0h0m49 0h0m-18 1h0m47 0h0m41 0h0m-77 1h0m-15 1h0m62 0h0m1 0h0m37 0h0m-86 1h0m17 0h0m-31 2h0m24 1h0m7 0h0m7 0h0m47 0h0m-46 1h0m50 1h0m-116 1h0m2 0h0m109 0h0m-4 1h0m-109 2h0m9 0h0m2 0h0m74 0h0m-65 1h0m67 0h0m18 0h0m-111 1h0m29 0h0m26 1h0m12 0h0m12 0h0m40 1h0m-89 1h0m79 1h0m3 0h0m24 0h0m-124 2h0m2 0h0m49 0h0m11 0h0m60 0h0m-57 1h0m60 0h0m-144 1h0m42 0h0m7 1h0m81 0h0m-77 1h0m23 1h0m18 0h0m3 1h0m-82 1h0m23 0h0m71 0h0m26 0h0m-128 1h0m49 0h0m39 0h0m35 1h0m-71 1h0m9 0h0m12 0h0m24 0h0m8 0h0m-77 1h0m112 1h0m-132 1h0m47 0h0m45 0h0m-32 1h0m-64 2h0m16 0h0m21 0h0m-29 1h0m76 0h0m46 0h0m-137 1h0m11 0h0m11 0h0m6 0h0m16 0h0m29 1h0m56 0h0m-69 1h0m-51 1h0m62 0h0m-69 1h0m43 0h0m-21 1h0m24 0h0m5 0h0m2 0h0m19 0h0m1 0h0m7 0h0m27 0h0m14 0h0m1 0h0m-89 1h0m24 0h0m46 0h0m7 0h0m-32 1h0m14 0h0m-63 1h0m29 0h0m38 0h0m9 0h0m-103 2h0m96 0h0m28 0h0m-96 1h0m65 0h0m11 1h0m-66 1h0m74 0h0m-74 1h0m48 0h0m-68 2h0m17 0h0m55 0h0m9 2h0m-52 2h0m24 0h0m-51 1h0m12 0h0m-26 2h0m13 0h0m6 0h0m27 0h0m15 0h0m2 0h0m-45 2h0m80 0h0m-65 3h0m4 3h0m11 0h0m54 0h0m-87 1h0m20 0h0m79 0h0m-78 1h0m23 0h0m-50 1h0m52 0h0m33 0h0m-25 2h0m-17 1h0m20 0h0m12 1h0m-52 1h0m27 1h0m-46 1h0m50 0h0m-50 2h0m9 1h0m89 0h0m-53 1h0m28 0h0m-21 1h0m36 0h0m-38 1h0m49 0h0m-67 1h0m40 1h0m-5 1h0m1 1h0m-36 1h0m26 0h0m31 5h0m4 1h0m-34 2h0m-12 1h0m31 0h0m-39 1h0m18 7h0m13 0h0m5 6h0m6 2h0m1 2h0m-26 1h0m17 3h0m15 0h0m-12 2h0m-27 2h0m23 2h0m-11 2h0m-7 1h0m14 2h0m-14 8h0m26 0h0m-10 1h0m-13 2h0m3 5h0m5 1h0m1 5h0" stroke="#24848d" stroke-width="2.6" stroke-linecap="square" fill="none"/>
<path transform="scale(.5)" d="M1137 51h0m-6 2h0m6 6h0m-9 2h0m12 0h0m5 2h0m-24 2h0m16 0h0m-16 1h0m-2 2h0m27 2h0m-20 2h0m22 0h0m-60 3h0m19 0h0m39 0h0m0 1h0m-14 1h0m-27 1h0m24 0h0m26 1h0m-54 1h0m70 0h0m-33 1h0m-49 2h0m33 0h0m49 0h0m-26 1h0m10 1h0m9 0h0m-45 1h0m24 1h0m-42 1h0m44 0h0m18 0h0m-68 1h0m71 0h0m-7 1h0m-45 3h0m3 0h0m59 0h0m8 0h0m-45 1h0m13 0h0m4 0h0m4 0h0m7 0h0m9 1h0m-85 1h0m-8 1h0m41 0h0m37 1h0m-56 1h0m12 0h0m-9 2h0m50 1h0m-30 2h0m20 0h0m-14 1h0m29 0h0m2 1h0m6 0h0m-41 1h0m-35 1h0m19 0h0m71 0h0m-88 1h0m26 0h0m26 0h0m34 0h0m-17 1h0m37 1h0m-66 1h0m37 0h0m-16 1h0m-54 1h0m32 1h0m19 0h0m42 1h0m-118 1h0m15 1h0m88 0h0m-40 1h0m12 0h0m-75 1h0m26 0h0m20 0h0m-48 1h0m41 0h0m73 0h0m-84 1h0m94 0h0m-103 2h0m28 0h0m49 0h0m-93 1h0m34 1h0m59 1h0m15 0h0m-23 1h0m38 0h0m-30 1h0m29 2h0m-112 1h0m38 0h0m61 0h0m26 0h0m-124 1h0m3 1h0m72 0h0m37 0h0m-101 1h0m99 0h0m-108 1h0m49 0h0m61 0h0m9 0h0m-140 1h0m56 0h0m3 0h0m50 0h0m-77 1h0m65 0h0m28 1h0m-78 1h0m9 0h0m-25 1h0m82 0h0m5 0h0m-65 1h0m18 0h0m9 1h0m59 0h0m-76 1h0m56 0h0m8 0h0m-63 1h0m5 0h0m60 0h0m1 0h0m-130 1h0m33 0h0m37 0h0m-71 1h0m26 0h0m-25 1h0m33 0h0m10 0h0m51 0h0m-76 1h0m75 0h0m-95 1h0m45 0h0m9 0h0m12 0h0m43 0h0m12 0h0m-85 1h0m32 0h0m-68 1h0m25 0h0m52 0h0m-35 1h0m100 0h0m-83 1h0m44 0h0m-86 1h0m-11 1h0m43 1h0m21 0h0m53 0h0m-96 1h0m79 0h0m-106 1h0m99 0h0m-53 1h0m59 0h0m-102 2h0m15 0h0m126 1h0m-86 1h0m2 0h0m23 0h0m43 0h0m-55 1h0m18 0h0m-56 1h0m11 0h0m-35 1h0m88 0h0m-54 1h0m75 0h0m-3 1h0m-70 1h0m33 0h0m3 0h0m17 0h0m5 0h0m1 0h0m-18 1h0m35 0h0m-25 1h0m6 0h0m-96 1h0m4 0h0m22 0h0m76 0h0m3 1h0m4 0h0m-92 1h0m-2 1h0m20 0h0m65 0h0m15 0h0m-42 1h0m55 1h0m-30 1h0m15 0h0m-92 1h0m55 2h0m47 0h0m-103 2h0m47 0h0m-64 1h0m86 1h0m-35 2h0m-35 1h0m74 0h0m-4 1h0m16 0h0m-35 2h0m-55 3h0m31 0h0m44 1h0m-56 2h0m30 1h0m15 0h0m-32 4h0m36 0h0m-57 2h0m41 1h0m18 1h0m16 2h0m10 0h0m10 0h0m-88 4h0m45 0h0m6 4h0m-15 2h0m-28 2h0m26 4h0m19 0h0m30 0h0m-49 2h0m14 1h0m-3 4h0m21 0h0m-33 3h0m16 0h0m-6 1h0m29 4h0m-26 16h0m24 3h0m-22 2h0m-5 1h0m9 14h0m11 1h0" stroke="#1e9b89" stroke-width="2.6" stroke-linecap="square" fill="none"/>
<path transform="scale(.5)" d="M1132 53h0m-7 3h0m15 0h0m-18 5h0m9 1h0m-9 1h0m20 0h0m-36 3h0m17 2h0m30 0h0m-50 1h0m33 0h0m15 0h0m-49 3h0m18 0h0m-21 2h0m8 0h0m18 0h0m16 2h0m-32 5h0m-25 1h0m36 1h0m5 1h0m-3 2h0m31 1h0m-4 1h0m15 0h0m-10 1h0m12 0h0m0 1h0m-50 1h0m43 0h0m20 0h0m-42 1h0m12 1h0m-45 2h0m78 0h0m-102 1h0m64 1h0m-60 1h0m31 0h0m8 0h0m10 0h0m1 0h0m11 0h0m36 1h0m-105 2h0m50 0h0m10 0h0m-40 1h0m18 0h0m11 1h0m37 1h0m21 2h0m-58 1h0m21 0h0m14 0h0m-43 1h0m-6 1h0m43 1h0m13 1h0m19 0h0m-90 1h0m10 0h0m-13 1h0m7 0h0m37 0h0m49 0h0m-49 1h0m30 0h0m-29 1h0m-17 1h0m-3 1h0m4 0h0m43 0h0m-43 1h0m31 0h0m2 2h0m4 1h0m2 0h0m-61 1h0m12 0h0m34 0h0m13 0h0m-3 1h0m-39 1h0m87 1h0m-64 1h0m-58 1h0m59 1h0m-62 1h0m61 0h0m13 0h0m1 0h0m-36 1h0m-28 1h0m36 0h0m-46 1h0m24 0h0m-20 1h0m36 0h0m32 1h0m-1 5h0m-30 1h0m24 1h0m19 2h0m1 0h0m0 1h0m11 0h0m-102 1h0m60 0h0m-63 1h0m37 0h0m26 0h0m51 0h0m-81 1h0m11 0h0m6 0h0m16 1h0m-30 1h0m17 0h0m-17 1h0m5 1h0m76 0h0m-115 1h0m110 0h0m9 0h0m-52 2h0m18 0h0m-85 2h0m54 1h0m-41 1h0m82 1h0m-36 3h0m-41 3h0m10 1h0m-14 1h0m33 0h0m42 1h0m-84 2h0m5 2h0m80 0h0m15 1h0m-19 8h0m-41 2h0m-22 1h0m54 0h0m-1 4h0m-44 1h0m-13 3h0m85 0h0m-1 1h0m-43 1h0m41 0h0m19 2h0m-102 4h0m57 1h0m0 6h0m-27 1h0m53 2h0m-19 1h0m9 0h0m-38 4h0m40 0h0m10 0h0m-65 1h0m69 5h0m-30 29h0m29 7h0m-25 6h0m7 11h0" stroke="#2fb37b" stroke-width="2.6" stroke-linecap="square" fill="none"/>
<path transform="scale(.5)" d="M1132 52h0m3 3h0m-11 2h0m2 0h0m-7 3h0m1 0h0m20 0h0m-15 2h0m-11 4h0m39 1h0m-17 2h0m-14 3h0m-17 1h0m30 1h0m-42 3h0m10 0h0m59 1h0m-54 1h0m3 1h0m27 2h0m-33 1h0m58 0h0m-18 1h0m18 1h0m-34 1h0m16 0h0m-46 1h0m55 1h0m-57 1h0m73 0h0m-56 1h0m42 0h0m4 0h0m-63 1h0m70 0h0m10 1h0m-56 3h0m54 1h0m-76 1h0m7 0h0m-15 1h0m15 1h0m64 0h0m-75 1h0m42 0h0m-59 1h0m-2 2h0m12 0h0m35 0h0m-27 1h0m36 0h0m-21 1h0m-30 1h0m64 0h0m32 2h0m-88 1h0m75 0h0m7 1h0m-67 1h0m44 0h0m-73 2h0m37 0h0m-12 1h0m88 0h0m19 0h0m-131 2h0m59 0h0m7 0h0m-14 2h0m63 0h0m-53 2h0m36 0h0m-52 1h0m-35 1h0m78 0h0m-2 2h0m21 0h0m25 0h0m4 1h0m-119 1h0m34 0h0m31 1h0m12 0h0m12 0h0m36 0h0m-65 1h0m-79 1h0m47 0h0m37 0h0m58 0h0m-123 1h0m76 0h0m7 0h0m6 1h0m6 0h0m-108 1h0m11 0h0m2 0h0m71 0h0m-24 1h0m14 0h0m45 0h0m-112 1h0m49 0h0m15 0h0m62 0h0m2 0h0m-77 1h0m41 0h0m19 0h0m-124 1h0m120 0h0m-21 1h0m-45 1h0m17 0h0m39 0h0m24 0h0m-120 1h0m90 0h0m-76 1h0m64 0h0m36 0h0m-112 1h0m98 0h0m-98 1h0m45 0h0m-46 1h0m77 0h0m-86 1h0m77 0h0m30 0h0m-38 2h0m-8 2h0m33 1h0m19 0h0m3 0h0m-121 1h0m52 0h0m32 0h0m3 0h0m55 0h0m-132 1h0m41 0h0m-16 1h0m70 0h0m-68 2h0m62 0h0m35 0h0m-132 1h0m46 0h0m59 0h0m-76 1h0m45 0h0m61 0h0m-144 1h0m1 0h0m2 0h0m20 1h0m23 0h0m40 0h0m34 0h0m-91 2h0m15 0h0m86 0h0m-104 1h0m62 0h0m-74 2h0m4 0h0m51 0h0m52 0h0m1 0h0m17 0h0m-134 3h0m20 0h0m89 0h0m14 0h0m-26 1h0m9 0h0m-24 1h0m37 0h0m-73 1h0m56 0h0m3 0h0m11 0h0m-110 1h0m41 1h0m-31 1h0m77 0h0m-52 1h0m22 0h0m-38 1h0m49 0h0m40 0h0m9 0h0m-65 1h0m-54 1h0m80 0h0m-52 1h0m72 0h0m-46 1h0m-49 1h0m36 0h0m77 0h0m2 0h0m-26 1h0m1 0h0m25 0h0m13 0h0m-88 1h0m8 0h0m32 0h0m9 0h0m-85 1h0m20 1h0m60 0h0m39 0h0m2 0h0m-67 1h0m-60 1h0m6 0h0m106 0h0m4 0h0m5 0h0m-58 3h0m44 0h0m8 0h0m-103 1h0m13 0h0m-4 1h0m25 0h0m64 0h0m-76 1h0m1 0h0m-15 1h0m11 0h0m59 0h0m-40 1h0m6 0h0m38 0h0m-86 1h0m15 0h0m60 0h0m6 0h0m31 0h0m-81 1h0m10 0h0m-17 1h0m10 0h0m5 0h0m10 0h0m21 0h0m23 0h0m-87 1h0m52 0h0m-43 1h0m92 0h0m-83 1h0m25 0h0m6 0h0m42 0h0m-32 2h0m11 0h0m-68 1h0m39 0h0m57 0h0m-30 1h0m-13 1h0m2 0h0m9 1h0m24 0h0m16 0h0m-104 1h0m1 0h0m27 0h0m-2 1h0m-5 1h0m35 0h0m30 2h0m-76 1h0m72 0h0m3 1h0m-26 1h0m11 1h0m20 0h0m-34 1h0m-32 2h0m57 0h0m6 1h0m-48 1h0m3 3h0m32 0h0m-31 1h0m3 0h0m5 1h0m45 0h0m-60 2h0m60 0h0m-56 4h0m20 1h0m0 1h0m-16 2h0m17 0h0m2 2h0m-15 1h0m13 1h0m0 2h0m24 2h0m-8 1h0m-16 2h0m17 0h0m7 0h0m-8 3h0m-31 3h0m35 0h0m-15 6h0m12 2h0m-15 2h0m16 1h0m-12 3h0m2 1h0m3 0h0m-16 5h0m-3 1h0m26 2h0m-24 4h0" stroke="#29788e" stroke-width="2.6" stroke-linecap="square" fill="none"/>
<path transform="scale(.5)" d="M1127 58h0m10 3h0m12 2h0m-45 3h0m2 0h0m26 0h0m-24 4h0m-15 3h0m13 2h0m4 0h0m10 0h0m21 0h0m21 1h0m-64 1h0m-4 1h0m61 1h0m-59 1h0m27 0h0m20 0h0m15 1h0m2 0h0m-39 1h0m27 1h0m-66 1h0m59 0h0m29 0h0m-76 1h0m16 1h0m31 1h0m21 1h0m-54 1h0m4 0h0m27 0h0m41 0h0m-48 1h0m-26 2h0m11 0h0m-2 1h0m9 0h0m55 0h0m-44 1h0m-52 1h0m46 0h0m10 0h0m5 0h0m-65 1h0m23 0h0m21 0h0m33 3h0m-73 2h0m83 0h0m-89 1h0m114 0h0m-108 1h0m58 0h0m22 0h0m22 0h0m-69 1h0m42 0h0m3 0h0m14 0h0m5 0h0m-74 1h0m-4 1h0m56 0h0m28 0h0m-107 2h0m41 0h0m26 0h0m19 0h0m-78 1h0m1 0h0m22 0h0m16 0h0m60 0h0m-60 1h0m2 0h0m70 1h0m-97 1h0m54 0h0m-50 1h0m9 1h0m61 0h0m-98 1h0m69 0h0m16 0h0m-71 1h0m18 0h0m2 0h0m30 1h0m11 0h0m48 0h0m-96 1h0m46 0h0m2 0h0m52 0h0m-120 1h0m48 0h0m7 1h0m76 0h0m-33 1h0m-99 1h0m10 0h0m37 1h0m37 2h0m-92 1h0m39 0h0m91 0h0m-125 1h0m10 0h0m10 0h0m59 0h0m7 0h0m39 0h0m-92 1h0m63 1h0m6 0h0m-104 1h0m47 1h0m-22 1h0m19 0h0m27 0h0m8 0h0m-82 1h0m2 0h0m78 0h0m20 0h0m15 0h0m-93 2h0m81 0h0m11 0h0m14 0h0m-125 1h0m2 0h0m18 0h0m-21 1h0m31 0h0m94 1h0m-14 1h0m-108 1h0m17 0h0m65 0h0m24 0h0m31 0h0m-56 1h0m-51 1h0m99 0h0m-84 1h0m32 0h0m-2 1h0m25 0h0m2 0h0m-109 1h0m20 0h0m-2 1h0m26 0h0m7 0h0m-53 1h0m15 0h0m107 1h0m6 0h0m-118 1h0m101 0h0m-91 1h0m58 0h0m16 0h0m-69 1h0m40 1h0m18 0h0m-4 1h0m31 0h0m-90 2h0m3 1h0m30 0h0m35 0h0m17 0h0m6 0h0m28 1h0m-128 1h0m18 0h0m19 0h0m30 0h0m-6 1h0m-38 1h0m13 1h0m-2 1h0m4 0h0m-21 1h0m86 0h0m-58 1h0m-32 1h0m61 0h0m-82 1h0m50 0h0m5 0h0m34 0h0m37 0h0m-124 1h0m4 0h0m33 2h0m8 1h0m40 0h0m-66 1h0m14 0h0m41 0h0m15 0h0m-73 1h0m30 0h0m2 0h0m53 0h0m24 1h0m5 0h0m-1 1h0m-84 2h0m20 0h0m20 0h0m16 1h0m31 0h0m-63 2h0m-25 1h0m2 0h0m61 0h0m-72 1h0m25 0h0m34 0h0m-48 1h0m37 0h0m-77 1h0m22 0h0m30 0h0m56 2h0m-47 1h0m13 0h0m-50 1h0m51 0h0m49 0h0m-82 2h0m2 1h0m26 0h0m-60 1h0m23 0h0m-3 1h0m53 3h0m-44 1h0m4 0h0m77 0h0m1 0h0m-100 1h0m29 1h0m61 0h0m-56 1h0m-33 1h0m95 1h0m-102 2h0m-1 1h0m4 0h0m71 0h0m-68 3h0m23 0h0m54 1h0m-49 1h0m26 0h0m22 1h0m-59 3h0m-7 1h0m63 1h0m14 0h0m-43 3h0m48 0h0m-49 1h0m-38 1h0m82 0h0m5 2h0m-56 2h0m49 0h0m-57 2h0m24 0h0m-23 2h0m10 10h0m27 1h0m17 3h0m-16 4h0m9 5h0m-20 1h0m21 2h0m-10 2h0m6 2h0m-24 1h0m-6 1h0m35 0h0m-14 12h0m10 4h0m-19 3h0" stroke="#20908c" stroke-width="2.6" stroke-linecap="square" fill="none"/>
<path transform="scale(.5)" d="M1108 70h0m43 3h0m-49 8h0m59 0h0m-18 5h0m-4 3h0m-46 3h0m62 6h0m-42 7h0m22 1h0m-45 5h0m54 7h0m-48 3h0m10 0h0m-1 6h0m3 6h0m0 4h0m6 1h0m6 1h0m-41 1h0m42 2h0m-45 6h0m108 4h0m-68 1h0m-5 1h0m-1 3h0m6 4h0m37 1h0m-58 3h0m53 2h0m53 1h0m-35 3h0m-47 8h0m-6 10h0m31 0h0m-46 6h0m51 6h0m-2 9h0m40 14h0m-47 11h0" stroke="#9ad83c" stroke-width="2.6" stroke-linecap="square" fill="none"/>
<path transform="scale(.5)" d="M1134 67h0m-46 8h0m22 3h0m50 2h0m11 4h0m5 3h0m-38 2h0m-21 2h0m27 1h0m-54 1h0m32 3h0m46 4h0m-31 2h0m-2 3h0m-35 2h0m53 0h0m-40 3h0m22 1h0m13 0h0m-47 1h0m9 1h0m44 0h0m-78 1h0m42 0h0m47 0h0m30 1h0m-60 2h0m63 1h0m-102 4h0m61 4h0m7 1h0m-44 1h0m9 1h0m19 1h0m-22 2h0m7 1h0m78 5h0m-27 1h0m-48 1h0m-10 1h0m-25 1h0m82 2h0m-62 3h0m-3 4h0m26 1h0m8 0h0m-75 1h0m85 0h0m7 4h0m-76 5h0m29 2h0m33 0h0m42 1h0m-66 1h0m-40 3h0m116 6h0m-85 2h0m16 2h0m-32 1h0m78 2h0m-83 2h0m51 11h0m-40 8h0m34 2h0m35 9h0" stroke="#79d151" stroke-width="2.6" stroke-linecap="square" fill="none"/>
<path transform="scale(.5)" d="M1139 66h0m14 0h0m-39 5h0m13 0h0m25 0h0m-43 1h0m36 0h0m-24 1h0m-19 5h0m25 4h0m-39 1h0m31 0h0m-31 6h0m14 0h0m44 0h0m-33 1h0m16 0h0m-9 1h0m-3 1h0m1 0h0m43 1h0m-40 1h0m-17 1h0m27 0h0m17 0h0m-38 3h0m8 0h0m14 0h0m-32 2h0m-12 2h0m49 0h0m-11 1h0m42 1h0m12 0h0m14 3h0m-54 1h0m-43 1h0m46 0h0m5 0h0m-33 1h0m63 0h0m-32 1h0m40 2h0m-58 2h0m10 0h0m4 1h0m-2 2h0m-40 1h0m45 1h0m-17 1h0m54 1h0m-89 1h0m15 0h0m46 1h0m-40 1h0m18 0h0m-57 1h0m28 2h0m-27 2h0m17 0h0m113 1h0m10 0h0m-83 1h0m10 0h0m4 0h0m12 0h0m7 0h0m-87 1h0m29 0h0m69 0h0m-74 1h0m8 4h0m4 0h0m38 0h0m-48 4h0m18 1h0m48 1h0m-58 1h0m74 0h0m17 2h0m-48 1h0m-32 1h0m69 1h0m15 0h0m-61 2h0m-12 1h0m63 1h0m-68 2h0m-60 1h0m108 0h0m-67 1h0m-30 1h0m25 0h0m52 0h0m-72 1h0m20 0h0m68 3h0m-50 1h0m6 0h0m49 0h0m-43 4h0m-4 2h0m17 0h0m37 0h0m2 2h0m-53 4h0m-51 1h0m60 1h0m-65 1h0m37 0h0m65 0h0m-77 3h0m44 0h0m-50 7h0m35 2h0m27 0h0m-41 1h0m70 2h0m-53 3h0m32 7h0m-27 15h0m-4 14h0m31 14h0m2 20h0" stroke="#44be70" stroke-width="2.6" stroke-linecap="square" fill="none"/>
<path transform="scale(.5)" d="M1146 64h0m-5 4h0m-35 1h0m7 0h0m16 0h0m-30 2h0m44 1h0m-40 5h0m-2 1h0m2 0h0m10 1h0m19 1h0m24 0h0m-22 1h0m10 2h0m-51 1h0m-5 1h0m66 0h0m-34 1h0m38 0h0m-50 2h0m7 0h0m18 0h0m15 0h0m-22 1h0m5 0h0m-19 2h0m-15 1h0m85 0h0m-66 1h0m27 0h0m11 2h0m-10 1h0m6 0h0m-64 1h0m84 0h0m16 1h0m-92 1h0m23 0h0m-18 2h0m-1 1h0m21 0h0m9 1h0m13 0h0m-50 2h0m19 1h0m17 1h0m24 1h0m-40 1h0m60 0h0m4 0h0m-61 2h0m18 0h0m24 1h0m-25 1h0m20 0h0m-68 1h0m96 0h0m-80 1h0m65 0h0m-53 1h0m8 0h0m99 0h0m-68 1h0m-57 1h0m20 0h0m37 1h0m-51 1h0m33 0h0m43 0h0m-42 2h0m67 0h0m-94 1h0m-28 1h0m13 0h0m54 2h0m30 0h0m-61 1h0m21 0h0m20 0h0m-74 1h0m63 0h0m8 0h0m-7 1h0m9 0h0m-80 1h0m50 0h0m23 0h0m12 1h0m37 0h0m-89 1h0m-13 1h0m2 0h0m29 0h0m2 0h0m-22 1h0m4 0h0m85 0h0m-106 1h0m21 0h0m-11 2h0m-23 2h0m23 0h0m23 0h0m-14 1h0m12 0h0m10 0h0m35 0h0m9 0h0m15 0h0m-91 1h0m111 0h0m-130 1h0m130 1h0m-97 1h0m-24 3h0m72 0h0m-67 1h0m45 0h0m46 1h0m-58 1h0m8 0h0m8 0h0m26 1h0m1 0h0m26 0h0m-104 1h0m52 0h0m-18 2h0m2 0h0m16 1h0m15 0h0m-70 2h0m106 0h0m-117 1h0m33 0h0m26 0h0m26 0h0m-31 4h0m-58 1h0m76 1h0m-45 1h0m-27 1h0m54 1h0m47 0h0m-59 2h0m51 0h0m-86 1h0m26 0h0m40 0h0m-71 1h0m38 0h0m-20 1h0m44 1h0m-57 1h0m39 0h0m37 0h0m-65 3h0m74 1h0m-16 1h0m-17 1h0m5 0h0m36 0h0m-90 3h0m12 0h0m46 0h0m61 0h0m-75 4h0m-25 2h0m41 1h0m-52 1h0m59 2h0m-26 1h0m1 3h0m31 0h0m-45 1h0m-1 1h0m84 0h0m-44 6h0m-34 3h0m79 0h0m-98 1h0m55 9h0m-44 1h0m10 1h0m21 1h0m34 2h0m17 0h0m-50 5h0m-8 4h0m29 2h0m-23 2h0m28 10h0" stroke="#22a784" stroke-width="2.6" stroke-linecap="square" fill="none"/>
<path transform="scale(.5)" d="M1147 71h0m27 28h0m-87 1h0m91 6h0m37 10h0m-107 3h0m89 14h0m-2 1h0m-6 14h0m28 2h0m-16 14h0m-30 6h0m15 2h0m27 5h0m-121 3h0m109 3h0m-12 3h0m-25 7h0m41 0h0m-110 1h0m95 5h0m-63 2h0m25 0h0m27 0h0m-34 4h0m32 6h0m-1 9h0m-22 3h0m8 2h0m2 0h0m-5 6h0m23 1h0m-29 4h0m37 0h0m1 1h0m-12 2h0m5 2h0m-15 1h0m-3 2h0m-25 2h0m21 29h0m-9 1h0m13 9h0" stroke="#471265" stroke-width="2.6" stroke-linecap="square" fill="none"/>
<path transform="scale(.5)" d="M1163 87h0m-57 9h0m17 2h0m2 0h0m-10 8h0m40 2h0m25 0h0m-99 2h0m89 1h0m-88 3h0m33 7h0m-19 1h0m50 3h0m-53 1h0m50 3h0m10 18h0m-73 1h0m54 1h0m46 7h0m-34 1h0m5 6h0m-17 12h0m13 2h0m-63 3h0" stroke="#bdde26" stroke-width="2.6" stroke-linecap="square" fill="none"/>
<path transform="scale(.5)" d="M1203 122h0m11 30h0m-33 16h0m29 6h0m-47 3h0m25 0h0m-102 10h0m2 2h0m80 1h0m5 1h0m-72 1h0m74 4h0m-54 3h0m-6 4h0m-8 1h0m-10 1h0m4 0h0m12 1h0m46 2h0m-31 2h0m-7 4h0m-15 6h0m58 0h0m-1 1h0m-3 1h0m13 0h0m19 4h0m-38 2h0m32 0h0m-28 1h0m14 2h0m-22 3h0m39 2h0m0 1h0m-21 1h0m-14 3h0m21 8h0m-31 2h0m22 1h0m-8 1h0m25 0h0m-19 2h0m-20 1h0m29 0h0m-4 1h0m7 3h0m-7 1h0m-2 7h0m5 3h0m-12 1h0m0 1h0" stroke="#440154" stroke-width="2.6" stroke-linecap="square" fill="none"/>
<path transform="scale(.5)" d="M1115 66h0m19 2h0m-43 6h0m5 21h0m73 10h0m-83 11h0m60 6h0m-12 3h0m-50 1h0m18 0h0m65 9h0m-36 4h0m27 1h0m22 1h0m-35 5h0m-51 2h0m44 1h0m-45 5h0m12 0h0m-18 24h0m51 9h0" stroke="#fde724" stroke-width="2.6" stroke-linecap="square" fill="none"/>
<path transform="scale(.5)" d="M1136 52h0m-11 5h0m13 1h0m10 1h0m0 1h0m-35 1h0m7 3h0m17 2h0m-30 3h0m9 0h0m10 0h0m-12 1h0m17 0h0m8 2h0m-15 5h0m10 3h0m3 0h0m31 0h0m-21 2h0m-49 1h0m-11 2h0m23 0h0m18 0h0m19 0h0m14 0h0m-62 1h0m50 0h0m-51 1h0m68 1h0m-52 1h0m51 0h0m-59 1h0m10 0h0m64 0h0m-32 2h0m-68 2h0m42 1h0m-40 1h0m10 1h0m98 2h0m-6 2h0m-12 1h0m1 0h0m-73 1h0m55 0h0m18 0h0m17 0h0m-109 1h0m15 0h0m53 0h0m12 0h0m30 0h0m0 1h0m-111 1h0m95 1h0m-85 1h0m11 0h0m55 0h0m-11 2h0m17 0h0m-31 1h0m-41 2h0m12 0h0m3 0h0m58 0h0m30 0h0m-17 1h0m-67 1h0m88 0h0m-91 2h0m90 0h0m-94 1h0m73 0h0m-14 1h0m49 0h0m-24 1h0m30 0h0m-73 1h0m38 0h0m-69 2h0m18 0h0m-46 1h0m11 0h0m8 0h0m109 0h0m-111 1h0m22 0h0m48 0h0m-78 2h0m81 0h0m-6 1h0m17 0h0m-80 1h0m-3 1h0m76 0h0m-80 1h0m13 1h0m-20 1h0m84 1h0m-96 1h0m41 0h0m52 0h0m3 0h0m25 0h0m-63 1h0m19 1h0m20 0h0m15 0h0m-111 1h0m14 0h0m114 0h0m-36 1h0m3 0h0m20 0h0m-50 1h0m-50 1h0m85 0h0m8 1h0m1 0h0m-116 1h0m85 0h0m19 0h0m8 2h0m-9 1h0m38 1h0m-133 1h0m17 0h0m15 0h0m51 0h0m20 0h0m27 0h0m-14 1h0m7 0h0m-126 1h0m49 0h0m-49 1h0m1 0h0m23 0h0m55 2h0m16 1h0m1 0h0m-76 1h0m92 0h0m-89 1h0m17 0h0m-42 1h0m14 0h0m5 0h0m-15 1h0m7 2h0m35 0h0m10 0h0m57 0h0m-2 1h0m31 0h0m-128 1h0m112 0h0m-99 1h0m55 0h0m-69 1h0m96 0h0m-84 3h0m56 0h0m17 0h0m-36 3h0m52 0h0m-104 1h0m96 0h0m17 0h0m-66 1h0m21 1h0m3 0h0m12 0h0m-89 1h0m47 0h0m37 0h0m-79 1h0m95 0h0m-70 2h0m30 0h0m-38 2h0m83 0h0m7 0h0m21 0h0m1 0h0m-80 1h0m38 0h0m32 0h0m1 0h0m7 0h0m-64 1h0m11 0h0m-48 1h0m69 0h0m11 0h0m-78 1h0m11 0h0m68 0h0m8 0h0m-94 1h0m34 0h0m27 1h0m14 0h0m-89 1h0m9 0h0m53 0h0m5 1h0m-45 1h0m66 1h0m-58 1h0m8 0h0m17 0h0m25 0h0m-72 1h0m5 0h0m46 0h0m16 1h0m-76 1h0m39 0h0m16 0h0m7 1h0m-18 1h0m11 1h0m58 0h0m-110 1h0m35 0h0m11 0h0m3 0h0m24 0h0m4 0h0m10 0h0m-50 1h0m-2 1h0m14 0h0m20 0h0m21 1h0m15 0h0m-33 1h0m28 0h0m-57 1h0m-41 1h0m102 0h0m-86 1h0m85 0h0m-94 1h0m87 0h0m-76 1h0m46 0h0m33 0h0m-60 3h0m7 0h0m51 0h0m-36 1h0m19 0h0m-23 1h0m1 0h0m-21 1h0m29 0h0m-50 1h0m11 0h0m5 0h0m12 0h0m13 0h0m41 1h0m-85 2h0m18 0h0m18 0h0m15 0h0m-51 1h0m66 1h0m2 0h0m18 0h0m-34 1h0m-13 2h0m24 0h0m-28 2h0m-24 1h0m14 0h0m2 1h0m27 0h0m-31 1h0m27 3h0m-14 1h0m13 1h0m7 0h0m-28 1h0m26 0h0m1 0h0m9 0h0m0 1h0m-26 2h0m8 0h0m17 0h0m11 0h0m-12 1h0m4 0h0m-8 3h0m10 0h0m0 2h0m-10 1h0m12 0h0m-25 1h0m13 0h0m-22 1h0m9 0h0m9 5h0m21 2h0m-36 4h0m10 3h0m-5 4h0m9 0h0m9 0h0m7 1h0m-23 3h0m14 1h0m-19 2h0m12 1h0m22 1h0m-24 1h0m2 5h0m-3 1h0m5 4h0" stroke="#2e6b8e" stroke-width="2.6" stroke-linecap="square" fill="none"/>
<path transform="scale(.5)" d="M1133 50h0m-4 6h0m12 6h0m-36 2h0m40 0h0m-15 3h0m-33 2h0m0 1h0m26 0h0m-21 1h0m56 0h0m-31 1h0m-15 3h0m38 0h0m-2 1h0m3 3h0m-22 1h0m24 2h0m-54 3h0m68 1h0m-63 1h0m-13 1h0m9 0h0m67 4h0m-25 2h0m10 0h0m27 1h0m2 0h0m-91 2h0m79 2h0m-92 3h0m36 0h0m52 0h0m-56 1h0m41 0h0m-17 3h0m10 0h0m28 0h0m22 0h0m-9 1h0m8 2h0m-100 1h0m23 0h0m27 0h0m43 0h0m-29 1h0m34 0h0m-105 1h0m113 0h0m2 1h0m-59 1h0m-24 1h0m67 1h0m9 2h0m-107 1h0m-4 2h0m105 2h0m-101 1h0m70 1h0m-81 1h0m112 0h0m32 1h0m-128 1h0m47 1h0m-51 1h0m-10 4h0m36 0h0m44 0h0m27 0h0m29 1h0m-116 1h0m32 0h0m63 0h0m-38 2h0m22 1h0m15 1h0m26 0h0m-143 1h0m2 0h0m14 0h0m25 0h0m71 0h0m-22 2h0m16 0h0m-97 2h0m23 0h0m62 0h0m7 1h0m1 2h0m24 1h0m-6 1h0m-117 1h0m82 0h0m13 0h0m33 0h0m-35 2h0m27 0h0m-101 1h0m108 0h0m1 1h0m-124 3h0m43 0h0m82 0h0m-36 1h0m7 0h0m8 0h0m-110 1h0m72 0h0m53 1h0m-102 1h0m26 0h0m14 1h0m5 0h0m51 1h0m-104 1h0m38 0h0m6 0h0m-55 1h0m62 0h0m-60 1h0m124 0h0m6 0h0m-52 1h0m45 0h0m-120 1h0m93 1h0m-98 2h0m66 0h0m50 0h0m-63 1h0m78 0h0m-27 1h0m-54 1h0m24 0h0m50 0h0m-114 2h0m39 0h0m68 0h0m2 0h0m-98 1h0m65 1h0m-46 1h0m73 1h0m-91 1h0m20 0h0m65 0h0m-86 1h0m45 0h0m4 0h0m39 0h0m-91 2h0m79 1h0m9 1h0m21 0h0m-56 1h0m50 0h0m-100 1h0m21 1h0m-17 1h0m-11 1h0m93 2h0m-91 2h0m40 0h0m22 0h0m-45 1h0m-18 1h0m41 0h0m-13 1h0m2 0h0m77 0h0m-97 1h0m79 1h0m-86 1h0m3 0h0m6 0h0m25 0h0m-34 3h0m6 1h0m6 0h0m31 0h0m18 0h0m39 1h0m-47 1h0m18 0h0m-53 1h0m13 0h0m4 0h0m12 0h0m1 0h0m22 0h0m26 1h0m-85 2h0m27 0h0m55 0h0m-21 4h0m-21 1h0m2 1h0m33 0h0m-70 2h0m4 0h0m16 0h0m5 0h0m33 1h0m6 0h0m-52 1h0m65 1h0m-27 1h0m-32 1h0m26 0h0m21 1h0m-51 2h0m48 0h0m5 1h0m-39 3h0m22 0h0m-7 1h0m24 1h0m-8 1h0m-32 1h0m43 0h0m-41 1h0m3 2h0m19 0h0m11 0h0m7 0h0m-23 1h0m3 1h0m-9 7h0m23 1h0m-33 7h0m17 2h0m-7 2h0m9 2h0m1 3h0m12 2h0m-22 1h0m-2 5h0m21 0h0m6 0h0m-6 3h0m5 0h0m-9 2h0m-2 1h0m-3 7h0" stroke="#345e8d" stroke-width="2.6" stroke-linecap="square" fill="none"/>
<path transform="scale(.5)" d="M1156 73h0m-9 2h0m-35 1h0m17 1h0m15 2h0m-21 2h0m-24 1h0m-3 4h0m4 0h0m63 7h0m-73 1h0m76 1h0m3 1h0m14 0h0m-99 7h0m115 3h0m-1 3h0m-7 5h0m-99 2h0m107 1h0m-31 1h0m33 1h0m-13 2h0m8 0h0m1 2h0m4 3h0m4 0h0m11 0h0m-29 1h0m16 0h0m-38 1h0m2 1h0m18 0h0m-17 4h0m29 0h0m20 0h0m-98 4h0m-15 4h0m95 0h0m-65 2h0m73 0h0m-117 2h0m127 2h0m-103 1h0m85 0h0m-63 3h0m68 0h0m10 1h0m-77 2h0m-56 2h0m135 4h0m-53 2h0m37 1h0m13 1h0m-37 3h0m27 0h0m-131 1h0m115 4h0m10 0h0m-88 2h0m5 0h0m73 2h0m12 1h0m-46 5h0m27 2h0m-20 3h0m37 1h0m-111 3h0m34 1h0m3 0h0m49 0h0m-48 1h0m10 0h0m5 0h0m36 2h0m7 1h0m22 1h0m-92 1h0m57 0h0m23 0h0m-100 1h0m16 3h0m68 0h0m-80 1h0m103 0h0m-80 1h0m39 2h0m-30 3h0m41 0h0m-5 2h0m3 1h0m21 0h0m-56 1h0m21 1h0m19 0h0m-66 1h0m56 0h0m5 0h0m-8 1h0m-56 1h0m49 0h0m-17 2h0m47 1h0m-52 1h0m31 0h0m-10 1h0m-21 1h0m38 0h0m-11 1h0m-35 1h0m12 0h0m13 0h0m33 0h0m-28 2h0m16 0h0m13 0h0m-22 1h0m-28 1h0m24 1h0m19 1h0m-4 3h0m-28 1h0m40 0h0m2 1h0m-34 1h0m-11 2h0m2 0h0m22 0h0m25 0h0m-43 2h0m31 0h0m-13 1h0m7 0h0m-23 1h0m32 2h0m-11 1h0m-20 3h0m37 1h0m-14 2h0m11 0h0m-26 1h0m4 4h0m-8 3h0m23 0h0m6 1h0m0 6h0m-30 4h0m0 1h0m14 5h0m2 0h0m-12 3h0m19 1h0m-2 1h0m-4 2h0" stroke="#404387" stroke-width="2.6" stroke-linecap="square" fill="none"/>
<path transform="scale(.5)" d="M1136 69h0m-34 3h0m62 9h0m-30 5h0m42 2h0m-16 4h0m-44 1h0m13 3h0m17 1h0m-36 2h0m-23 5h0m-6 3h0m120 10h0m-4 1h0m17 3h0m-4 9h0m-2 5h0m-18 11h0m8 1h0m18 9h0m-24 1h0m19 2h0m2 5h0m-15 1h0m-107 1h0m36 0h0m81 3h0m-127 1h0m129 3h0m-47 1h0m-25 1h0m25 2h0m21 1h0m-7 1h0m-53 3h0m74 0h0m-71 3h0m68 1h0m-27 1h0m-83 2h0m4 0h0m117 1h0m-90 2h0m-26 1h0m15 2h0m-11 2h0m75 1h0m18 1h0m-13 1h0m-11 1h0m14 0h0m-21 2h0m-60 2h0m-2 2h0m2 0h0m27 0h0m51 2h0m-46 1h0m50 1h0m9 1h0m-41 10h0m31 1h0m-36 1h0m28 0h0m18 2h0m-53 2h0m42 0h0m5 1h0m-24 8h0m-2 1h0m7 0h0m0 2h0m7 1h0m4 3h0m17 0h0m-30 4h0m-18 1h0m33 2h0m-4 2h0m1 1h0m-2 1h0m-26 2h0m36 2h0m-30 2h0m-5 1h0m31 5h0m-11 4h0m-3 4h0m12 6h0" stroke="#45347f" stroke-width="2.6" stroke-linecap="square" fill="none"/>
<path transform="scale(.5)" d="M1148 62h0m21 49h0m-24 2h0m-28 15h0m-1 3h0m17 1h0m-40 5h0m47 16h0m41 23h0m-24 22h0m-38 11h0m54 13h0" stroke="#dfe318" stroke-width="2.6" stroke-linecap="square" fill="none"/>
<path d="M657.9 93.4 664.5 97.7 667.7 107.6 668.8 118.5 668.4 129.5 664.5 136.0 657.9 142.6 652.4 149.2 648.0 151.4 642.5 147.0 640.4 138.2 638.2 127.3 631.6 118.5 626.1 109.8 622.8 103.2 629.4 101.0 638.2 98.8 646.9 95.5 652.4 94.0Z" fill="#345e8d" />
<path transform="scale(.5)" d="M1317 191h0m1 2h0m7 0h0m0 1h0m-3 1h0m-13 2h0m-12 1h0m30 0h0m1 2h0m-44 2h0m25 0h0m-55 2h0m16 0h0m16 0h0m25 1h0m8 0h0m-51 1h0m18 0h0m7 0h0m20 1h0m-49 1h0m23 0h0m-1 1h0m4 0h0m41 0h0m-78 2h0m11 0h0m54 0h0m-49 1h0m22 0h0m32 0h0m-51 1h0m-3 2h0m9 0h0m15 0h0m4 0h0m19 0h0m-55 1h0m58 0h0m-28 1h0m14 0h0m-40 1h0m25 0h0m40 0h0m-72 1h0m9 0h0m27 0h0m6 0h0m-45 2h0m4 1h0m5 0h0m24 0h0m2 0h0m38 0h0m-73 1h0m26 0h0m25 0h0m-3 1h0m-13 1h0m20 0h0m3 0h0m10 0h0m-51 2h0m1 0h0m-8 1h0m7 0h0m54 0h0m-57 1h0m1 0h0m50 0h0m11 0h0m-60 1h0m26 0h0m35 0h0m-15 1h0m-56 1h0m5 0h0m21 0h0m2 0h0m48 0h0m-62 1h0m5 0h0m18 0h0m19 0h0m19 0h0m-26 1h0m27 0h0m-33 1h0m28 1h0m-45 2h0m20 0h0m24 0h0m-26 2h0m-16 2h0m13 1h0m16 1h0m-37 5h0m14 0h0m41 0h0m-27 1h0m13 0h0m6 0h0m-42 1h0m47 1h0m-50 2h0m18 1h0m-8 1h0m7 0h0m-22 1h0m18 0h0m22 0h0m-20 1h0m29 0h0m7 1h0m-24 1h0m17 0h0m6 0h0m-42 1h0m18 0h0m-19 1h0m6 1h0m6 0h0m20 0h0m1 1h0m-21 3h0m-1 2h0m6 0h0m14 0h0m-36 1h0m8 1h0m1 0h0m12 0h0m17 0h0m-35 2h0m29 0h0m3 1h0m-25 1h0m23 0h0m-14 2h0m6 0h0m-18 4h0m6 1h0m14 0h0m-24 1h0m6 0h0m2 0h0m-3 4h0m14 0h0m2 1h0m-9 8h0m-7 1h0m3 4h0" stroke="#404387" stroke-width="2.6" stroke-linecap="square" fill="none"/>
<path transform="scale(.5)" d="M1312 188h0m6 2h0m-14 6h0m-28 4h0m15 0h0m14 7h0m-4 1h0m-38 1h0m62 0h0m-59 2h0m0 2h0m51 0h0m-4 1h0m-4 1h0m9 0h0m7 2h0m-63 1h0m6 0h0m3 0h0m-10 4h0m-4 2h0m8 0h0m45 0h0m-13 3h0m15 0h0m-47 1h0m2 0h0m23 0h0m17 2h0m24 0h0m-58 1h0m36 0h0m-24 1h0m51 3h0m-34 2h0m25 0h0m-61 3h0m10 3h0m52 0h0m3 1h0m-52 1h0m58 2h0m-1 1h0m-42 2h0m17 0h0m-3 2h0m-27 3h0m13 0h0m-3 2h0m41 1h0m-46 3h0m10 2h0m-4 4h0m1 4h0m8 5h0m11 0h0m-25 1h0m1 0h0m30 0h0m-17 2h0m-11 2h0m-5 1h0m18 3h0" stroke="#482374" stroke-width="2.6" stroke-linecap="square" fill="none"/>
<path transform="scale(.5)" d="M1317 188h0m-12 2h0m4 0h0m-14 1h0m10 2h0m2 0h0m1 0h0m-1 2h0m12 0h0m3 4h0m-51 1h0m17 0h0m24 0h0m7 0h0m-52 2h0m57 1h0m1 0h0m-57 1h0m3 0h0m18 0h0m-10 1h0m8 0h0m5 0h0m-28 2h0m6 1h0m30 0h0m7 0h0m2 0h0m-19 2h0m16 0h0m-51 2h0m7 0h0m5 0h0m9 0h0m42 0h0m-52 1h0m31 2h0m8 0h0m-21 2h0m19 0h0m14 0h0m3 1h0m5 0h0m3 0h0m-74 2h0m21 0h0m17 0h0m23 1h0m11 0h0m-57 1h0m28 0h0m13 0h0m-32 1h0m6 0h0m4 0h0m-23 1h0m14 0h0m15 0h0m3 0h0m-9 1h0m38 1h0m-37 1h0m8 0h0m26 0h0m8 0h0m-65 1h0m27 0h0m-11 1h0m40 1h0m2 0h0m7 0h0m-56 1h0m10 2h0m6 0h0m38 0h0m-61 1h0m24 0h0m-28 1h0m26 0h0m6 0h0m-30 1h0m8 0h0m52 1h0m-13 1h0m6 0h0m11 0h0m1 0h0m-42 2h0m5 0h0m-24 1h0m3 0h0m35 0h0m10 3h0m-45 2h0m3 1h0m25 1h0m15 0h0m-23 1h0m4 0h0m3 0h0m36 0h0m-35 1h0m7 0h0m3 1h0m1 0h0m15 0h0m-52 1h0m3 0h0m57 0h0m-17 2h0m-21 1h0m14 0h0m13 0h0m-28 1h0m-15 1h0m22 3h0m14 0h0m17 0h0m-46 1h0m17 0h0m15 0h0m-12 1h0m-19 1h0m20 0h0m-16 1h0m15 0h0m-6 1h0m9 0h0m4 0h0m-21 1h0m12 0h0m26 1h0m-3 2h0m-35 2h0m2 0h0m6 0h0m2 0h0m5 0h0m-20 2h0m11 0h0m8 0h0m19 0h0m-42 5h0m35 0h0m-36 1h0m19 0h0m5 0h0m-16 1h0m-4 4h0m-2 1h0m11 0h0m0 2h0m-5 1h0m0 2h0m7 0h0m-3 7h0m1 1h0" stroke="#29788e" stroke-width="2.6" stroke-linecap="square" fill="none"/>
<path transform="scale(.5)" d="M1291 202h0m22 3h0m3 0h0m-56 1h0m0 1h0m56 1h0m-48 1h0m12 4h0m27 1h0m-42 2h0m-13 2h0m3 0h0m11 0h0m31 3h0m-2 4h0m16 0h0m11 0h0m-36 6h0m-18 12h0m33 2h0m11 0h0m0 2h0m3 0h0m14 0h0m-55 3h0m30 1h0m5 2h0m-30 1h0m14 1h0m40 0h0m-43 4h0m31 1h0m-41 3h0m32 0h0m-4 1h0m-16 9h0m-7 2h0m3 11h0m22 0h0m1 3h0" stroke="#471265" stroke-width="2.6" stroke-linecap="square" fill="none"/>
<path transform="scale(.5)" d="M1312 188h0m-6 2h0m14 1h0m2 0h0m-14 1h0m4 0h0m-26 3h0m23 0h0m17 0h0m-42 1h0m5 0h0m21 0h0m-29 2h0m46 0h0m-16 1h0m11 0h0m-21 1h0m1 0h0m15 1h0m-38 1h0m6 0h0m-23 1h0m67 0h0m-76 1h0m30 0h0m-24 1h0m2 0h0m17 0h0m-23 1h0m27 0h0m3 0h0m19 0h0m-56 1h0m10 0h0m3 0h0m38 0h0m25 0h0m-70 1h0m4 0h0m9 0h0m14 0h0m-17 1h0m31 0h0m-32 1h0m-3 1h0m11 0h0m22 0h0m-26 1h0m56 0h0m-26 1h0m19 0h0m10 0h0m2 0h0m4 0h0m-43 1h0m-23 1h0m68 0h0m-14 1h0m-65 1h0m22 0h0m-3 1h0m25 0h0m11 0h0m5 0h0m11 0h0m-70 1h0m12 0h0m6 0h0m-4 1h0m-10 1h0m28 0h0m41 0h0m1 0h0m1 0h0m-27 1h0m5 0h0m-52 1h0m6 0h0m37 0h0m-23 1h0m45 0h0m-11 1h0m15 0h0m-32 2h0m37 0h0m-41 1h0m-23 1h0m10 0h0m32 1h0m11 0h0m9 0h0m-34 1h0m-34 1h0m34 0h0m3 0h0m21 0h0m-4 1h0m3 0h0m-51 1h0m2 0h0m8 0h0m17 0h0m17 0h0m6 0h0m2 0h0m-39 1h0m-15 1h0m20 0h0m20 1h0m3 0h0m1 1h0m1 0h0m4 0h0m22 0h0m-68 1h0m13 0h0m43 0h0m4 0h0m-37 1h0m17 0h0m3 0h0m-22 1h0m10 0h0m-30 1h0m50 1h0m12 0h0m2 0h0m-51 1h0m9 0h0m18 0h0m16 0h0m-34 1h0m15 0h0m24 0h0m5 0h0m-10 1h0m-41 1h0m3 0h0m35 1h0m12 0h0m-37 1h0m36 0h0m-49 1h0m-4 1h0m9 1h0m39 0h0m-27 1h0m1 0h0m-9 1h0m37 0h0m-32 1h0m30 0h0m6 0h0m-22 1h0m21 0h0m-54 1h0m54 0h0m-54 1h0m15 0h0m-14 1h0m1 1h0m10 0h0m-1 1h0m6 2h0m5 0h0m-20 1h0m24 1h0m27 0h0m-35 1h0m-11 1h0m39 0h0m-1 1h0m3 0h0m0 1h0m-16 1h0m6 0h0m-26 1h0m18 0h0m5 0h0m3 0h0m-26 1h0m14 0h0m4 0h0m15 0h0m-19 2h0m-22 1h0m12 0h0m16 0h0m-12 2h0m10 0h0m12 0h0m-33 1h0m4 0h0m26 0h0m-23 2h0m17 2h0m4 0h0m-6 1h0m-22 1h0m21 0h0m-21 1h0m6 0h0m0 1h0m10 1h0m6 0h0m-21 1h0m3 1h0m-5 2h0m23 1h0m-24 1h0m16 2h0m-11 2h0m5 1h0m-3 2h0m9 0h0" stroke="#345e8d" stroke-width="2.6" stroke-linecap="square" fill="none"/>
<path transform="scale(.5)" d="M1302 189h0m-4 4h0m27 1h0m-28 1h0m20 3h0m12 1h0m-4 1h0m-19 1h0m-44 1h0m63 0h0m3 0h0m-43 1h0m4 0h0m15 0h0m-38 1h0m47 0h0m-63 1h0m22 0h0m29 0h0m30 0h0m-33 1h0m30 0h0m0 3h0m-5 2h0m-62 1h0m22 1h0m46 0h0m-76 1h0m48 0h0m4 0h0m5 0h0m-7 1h0m-30 1h0m10 1h0m17 0h0m1 0h0m2 0h0m-42 2h0m33 0h0m1 1h0m2 0h0m-36 1h0m8 0h0m-13 1h0m30 0h0m0 1h0m7 0h0m1 1h0m3 0h0m12 0h0m4 0h0m15 0h0m8 0h0m-71 1h0m11 0h0m40 0h0m11 0h0m7 0h0m-70 1h0m45 0h0m-46 1h0m6 0h0m57 0h0m-37 1h0m26 0h0m-49 1h0m39 0h0m20 0h0m3 0h0m1 1h0m-55 1h0m60 0h0m-73 1h0m35 0h0m39 0h0m-46 2h0m-16 1h0m30 0h0m4 0h0m27 0h0m-52 1h0m29 0h0m12 0h0m-57 1h0m17 0h0m1 0h0m-14 1h0m10 0h0m31 0h0m-33 1h0m19 0h0m6 0h0m10 0h0m11 0h0m-31 1h0m22 0h0m-41 1h0m6 0h0m1 0h0m21 0h0m34 0h0m-66 1h0m23 0h0m36 1h0m-41 1h0m23 0h0m10 0h0m-39 1h0m12 0h0m4 0h0m18 1h0m-24 2h0m1 1h0m17 1h0m-18 1h0m5 0h0m-4 2h0m2 0h0m21 0h0m12 0h0m-41 1h0m12 0h0m-16 1h0m20 0h0m16 0h0m-27 1h0m7 0h0m15 0h0m-32 1h0m26 0h0m-23 1h0m40 0h0m-23 2h0m7 0h0m12 0h0m1 0h0m3 0h0m-42 1h0m48 0h0m-35 1h0m25 0h0m12 0h0m-5 1h0m-27 1h0m7 1h0m16 0h0m7 0h0m-46 2h0m16 0h0m4 0h0m-11 1h0m1 0h0m-11 3h0m37 0h0m9 0h0m-40 1h0m-3 1h0m26 1h0m-11 2h0m-4 1h0m9 0h0m-23 1h0m7 0h0m22 0h0m-8 5h0m-19 3h0m29 0h0m-13 1h0m-15 1h0m20 0h0m-21 1h0m1 1h0m-2 1h0m22 1h0m2 1h0m-17 5h0" stroke="#3a528b" stroke-width="2.6" stroke-linecap="square" fill="none"/>
<path transform="scale(.5)" d="M1302 190h0m21 1h0m1 2h0m-8 2h0m-9 2h0m5 0h0m-29 1h0m19 0h0m-31 2h0m17 1h0m-13 1h0m47 0h0m-43 1h0m47 2h0m4 0h0m-46 2h0m11 0h0m5 0h0m32 0h0m-78 1h0m68 1h0m-47 1h0m40 0h0m8 0h0m-59 1h0m10 0h0m12 0h0m3 0h0m-40 1h0m76 1h0m-62 1h0m61 0h0m-66 1h0m23 0h0m48 0h0m-55 1h0m7 0h0m13 0h0m17 0h0m-25 1h0m3 1h0m7 0h0m24 0h0m3 0h0m12 0h0m-64 1h0m33 0h0m-40 1h0m3 0h0m21 0h0m10 0h0m2 0h0m14 0h0m-37 1h0m33 1h0m-23 1h0m31 1h0m-23 1h0m-31 1h0m30 0h0m33 0h0m-60 1h0m29 0h0m16 0h0m-47 1h0m61 0h0m-54 1h0m19 1h0m30 0h0m-53 4h0m67 0h0m-17 2h0m-32 2h0m-15 1h0m45 1h0m-8 2h0m1 0h0m-38 1h0m55 0h0m-46 1h0m35 1h0m18 0h0m-3 2h0m-58 1h0m41 0h0m-16 1h0m2 0h0m-6 1h0m-11 4h0m0 1h0m24 0h0m10 1h0m9 0h0m3 0h0m-31 2h0m1 2h0m14 0h0m-21 1h0m44 1h0m-36 1h0m-9 1h0m34 1h0m-12 5h0m-14 1h0m15 0h0m3 0h0m9 1h0m-1 2h0m-14 4h0m-16 1h0m15 1h0m0 1h0m-12 1h0m-4 1h0m10 1h0m11 3h0m-15 1h0m-2 1h0m-5 7h0m8 0h0" stroke="#45347f" stroke-width="2.6" stroke-linecap="square" fill="none"/>
<path transform="scale(.5)" d="M1311 189h0m-16 2h0m19 1h0m-4 3h0m-26 2h0m-3 1h0m8 0h0m10 1h0m-29 1h0m-2 4h0m12 0h0m21 0h0m-7 1h0m9 0h0m-53 3h0m44 0h0m21 0h0m3 0h0m-26 1h0m6 1h0m-24 1h0m19 1h0m36 1h0m-58 1h0m-9 2h0m-10 1h0m26 0h0m3 0h0m34 0h0m-26 1h0m12 0h0m-41 4h0m7 0h0m21 0h0m18 1h0m-40 1h0m8 0h0m0 1h0m25 0h0m6 0h0m27 2h0m-73 3h0m52 0h0m-4 2h0m3 1h0m16 0h0m-23 2h0m7 0h0m-13 1h0m-17 1h0m49 0h0m-43 1h0m9 1h0m-29 1h0m6 0h0m-4 1h0m32 0h0m28 1h0m-59 1h0m28 3h0m1 0h0m1 1h0m4 0h0m-11 2h0m0 1h0m30 0h0m1 4h0m1 0h0m7 0h0m-18 2h0m-12 2h0m-10 3h0m14 1h0m-8 1h0m32 0h0m1 0h0m-26 1h0m-5 1h0m2 0h0m24 0h0m-37 4h0m2 0h0m1 0h0m20 0h0m-14 1h0m28 0h0m-41 1h0m5 2h0m29 0h0m5 0h0m-28 1h0m30 1h0m-13 1h0m-22 4h0m5 3h0m-1 3h0m16 1h0m-11 1h0m9 1h0m-3 4h0m-16 2h0m6 2h0" stroke="#24848d" stroke-width="2.6" stroke-linecap="square" fill="none"/>
<path transform="scale(.5)" d="M1315 187h0m0 2h0m-17 1h0m-5 2h0m1 0h0m3 0h0m-8 1h0m22 0h0m9 0h0m1 0h0m-7 1h0m4 0h0m5 0h0m-16 1h0m-26 2h0m16 0h0m14 0h0m-13 1h0m-22 1h0m48 1h0m-59 1h0m23 0h0m-17 1h0m46 0h0m-59 1h0m36 0h0m24 0h0m2 0h0m-60 1h0m13 0h0m20 0h0m38 0h0m-26 1h0m12 0h0m-54 1h0m4 0h0m2 0h0m5 0h0m23 0h0m5 0h0m10 0h0m-45 1h0m26 0h0m-33 1h0m49 0h0m14 0h0m1 0h0m-61 1h0m11 0h0m26 1h0m-30 1h0m23 0h0m25 0h0m-27 1h0m13 0h0m21 0h0m9 0h0m-71 1h0m12 0h0m51 0h0m-36 1h0m41 0h0m-58 2h0m47 0h0m13 0h0m-76 2h0m1 0h0m13 0h0m8 0h0m7 0h0m13 1h0m3 0h0m15 0h0m10 0h0m-49 1h0m2 0h0m43 0h0m-64 1h0m32 0h0m5 0h0m4 0h0m3 0h0m7 0h0m19 0h0m1 0h0m-74 1h0m2 0h0m27 0h0m-30 1h0m31 0h0m4 0h0m10 1h0m-44 1h0m12 0h0m15 0h0m12 0h0m41 0h0m-71 1h0m35 0h0m18 0h0m-47 1h0m7 0h0m29 1h0m22 0h0m-57 1h0m5 0h0m5 0h0m1 0h0m42 0h0m-41 1h0m23 0h0m1 0h0m-21 1h0m22 0h0m15 0h0m12 0h0m-69 1h0m9 0h0m10 0h0m25 1h0m12 0h0m-55 1h0m47 0h0m4 0h0m10 0h0m-51 1h0m-11 1h0m7 0h0m48 0h0m-36 1h0m3 0h0m9 0h0m39 3h0m-59 1h0m58 0h0m-48 1h0m19 0h0m22 0h0m7 0h0m-60 1h0m24 0h0m20 0h0m16 0h0m-66 1h0m1 0h0m5 0h0m4 0h0m47 0h0m-54 1h0m12 1h0m32 0h0m-13 1h0m2 0h0m-13 2h0m-15 1h0m34 1h0m8 1h0m-27 1h0m24 1h0m15 1h0m-13 2h0m-40 1h0m16 0h0m15 0h0m-31 2h0m1 0h0m6 1h0m1 0h0m40 0h0m-45 2h0m32 0h0m-33 1h0m26 0h0m-21 1h0m13 0h0m2 0h0m0 2h0m-6 1h0m4 0h0m-9 1h0m7 0h0m3 0h0m1 2h0m-13 1h0m19 0h0m19 0h0m-20 1h0m19 0h0m-38 1h0m-1 1h0m9 0h0m25 0h0m-4 2h0m-8 1h0m3 1h0m7 0h0m2 1h0m-20 2h0m17 0h0m-8 1h0m-19 1h0m2 2h0m-8 1h0m12 0h0m13 0h0m0 1h0m2 2h0m-3 1h0m-18 3h0m5 2h0m9 0h0m-5 3h0" stroke="#2e6b8e" stroke-width="2.6" stroke-linecap="square" fill="none"/>
<path transform="scale(.5)" d="M1304 189h0m4 0h0m13 4h0m-25 2h0m25 1h0m7 7h0m-19 1h0m-56 1h0m1 0h0m2 0h0m1 0h0m11 0h0m35 0h0m20 2h0m-67 1h0m-4 4h0m36 0h0m-9 2h0m47 0h0m-50 2h0m52 0h0m-47 1h0m12 0h0m35 0h0m-11 1h0m0 1h0m-60 2h0m74 0h0m-31 2h0m-34 1h0m51 0h0m-61 1h0m14 0h0m2 1h0m33 1h0m-6 1h0m29 1h0m7 1h0m-26 1h0m-2 1h0m15 1h0m-52 2h0m60 3h0m-41 1h0m0 2h0m-7 1h0m13 0h0m15 0h0m-24 5h0m3 0h0m25 0h0m-39 2h0m29 0h0m15 1h0m-35 4h0m24 1h0m-15 2h0m21 0h0m4 0h0m-2 4h0m-27 3h0m-4 4h0m25 1h0m-29 5h0m33 2h0m6 1h0m-20 3h0m11 0h0m-25 1h0m31 0h0m-27 4h0m23 0h0m2 1h0m-8 3h0m-19 1h0" stroke="#20908c" stroke-width="2.6" stroke-linecap="square" fill="none"/>
<path transform="scale(.5)" d="M1326 205h0m-48 1h0m-11 2h0m12 4h0m-20 1h0m7 3h0m26 0h0m38 0h0m-74 1h0m48 0h0m11 9h0m-19 2h0m-15 4h0m20 1h0m-36 2h0m-1 2h0m26 2h0m-20 3h0m10 1h0m2 0h0m37 0h0m-37 2h0m30 0h0m-29 12h0m31 3h0m-13 1h0m-17 8h0m38 5h0m-28 5h0m-10 2h0m23 0h0m-3 7h0m5 2h0m-7 7h0" stroke="#440154" stroke-width="2.6" stroke-linecap="square" fill="none"/>
<path transform="scale(.5)" d="M1306 196h0m9 1h0m0 4h0m-52 7h0m-7 1h0m75 1h0m-62 1h0m39 7h0m-41 2h0m11 1h0m13 0h0m36 0h0m-16 1h0m-42 2h0m37 0h0m18 1h0m-48 1h0m-17 1h0m12 3h0m18 0h0m12 13h0m31 6h0m-12 2h0m6 1h0m-46 1h0m55 4h0m-7 2h0m-23 5h0m2 14h0m7 7h0m-12 7h0m-3 3h0m1 2h0" stroke="#1e9b89" stroke-width="2.6" stroke-linecap="square" fill="none"/>
<path transform="scale(.5)" d="M1324 195h0m-15 8h0m-45 5h0m42 2h0m-15 21h0m-24 1h0m17 0h0m-14 4h0m60 1h0m-56 2h0m43 5h0m19 5h0m-10 4h0m-28 5h0m37 0h0m-16 5h0m-33 2h0m41 3h0m-33 32h0" stroke="#22a784" stroke-width="2.6" stroke-linecap="square" fill="none"/>
<path transform="scale(.5)" d="M1316 192h0m-27 33h0m2 54h0" stroke="#2fb37b" stroke-width="2.6" stroke-linecap="square" fill="none"/>
<path transform="scale(.5)" d="M1293 227h0m14 22h0" stroke="#44be70" stroke-width="2.6" stroke-linecap="square" fill="none"/>
<path transform="scale(.5)" d="M1141 52h0m-26 6h0m38 6h0m-45 1h0m-19 5h0m-6 5h0m85 3h0m2 0h0m-83 1h0m83 0h0m2 6h0m-89 4h0m99 2h0m-103 12h0m-8 10h0m142 2h0m7 0h0m1 12h0m-3 20h0m1 16h0m-147 1h0m2 2h0m5 15h0m54 50h0m6 16h0m39 28h0" stroke="#22a784" stroke-width="2.2" stroke-linecap="square" fill="none"/>
<path transform="scale(.5)" d="M1121 54h0m23 4h0m-25 2h0m-13 3h0m67 16h0m-90 2h0m111 17h0m-1 1h0m11 10h0m-132 4h0m137 0h0m-136 7h0m-1 14h0m0 9h0m-2 1h0m149 2h0m-1 18h0m-146 7h0m5 1h0m5 10h0m-4 1h0m1 3h0m4 0h0m8 15h0m110 1h0m-110 10h0m8 3h0m31 14h0m-2 3h0m7 1h0m1 0h0m45 29h0m0 12h0m-20 11h0m2 1h0" stroke="#29788e" stroke-width="2.2" stroke-linecap="square" fill="none"/>
<path transform="scale(.5)" d="M1136 48h0m1 2h0m-14 4h0m22 1h0m-22 1h0m-17 9h0m59 10h0m-85 15h0m103 1h0m-108 22h0m-3 11h0m-1 17h0m-1 18h0m149 1h0m-2 5h0m-135 22h0m124 1h0m-117 12h0m7 10h0m12 9h0m10 5h0m5 2h0m12 16h0m5 3h0m4 5h0" stroke="#1e9b89" stroke-width="2.2" stroke-linecap="square" fill="none"/>
<path transform="scale(.5)" d="M1151 62h0m-48 2h0m77 20h0m-5 4h0m29 17h0m15 21h0m-152 30h0m142 25h0m-125 11h0m3 4h0m116 10h0m-5 5h0m2 0h0m-104 2h0m106 0h0m-95 7h0m6 3h0m1 0h0m14 6h0m62 12h0m-45 9h0m1 8h0m39 2h0m-2 1h0m0 4h0m3 7h0m-11 7h0m-1 1h0" stroke="#45347f" stroke-width="2.2" stroke-linecap="square" fill="none"/>
<path transform="scale(.5)" d="M1153 62h0m23 16h0m-98 11h0m115 14h0m-120 17h0m-1 4h0m-4 4h0m152 2h0m-131 71h0m97 59h0" stroke="#44be70" stroke-width="2.2" stroke-linecap="square" fill="none"/>
<path transform="scale(.5)" d="M1143 53h0m-9 1h0m-26 7h0m1 3h0m-18 7h0m0 3h0m-3 2h0m-3 3h0m88 4h0m-94 3h0m102 0h0m-102 3h0m-5 3h0m109 0h0m-103 2h0m108 1h0m-117 11h0m4 3h0m142 25h0m-147 5h0m0 22h0m-1 2h0m153 0h0m-13 20h0m-133 1h0m133 11h0m-120 9h0m17 13h0m12 7h0m20 7h0m52 8h0m-51 7h0m5 9h0m3 2h0m41 12h0m-17 12h0m-11 3h0" stroke="#24848d" stroke-width="2.2" stroke-linecap="square" fill="none"/>
<path transform="scale(.5)" d="M1144 55h0m6 5h0m8 9h0m15 12h0m-91 4h0m96 0h0m10 7h0m5 5h0m4 11h0m8 2h0m7 3h0m8 2h0m-2 22h0m-147 2h0m1 4h0m-1 3h0m-1 17h0m151 10h0m-145 1h0m139 0h0m1 2h0m-3 1h0m-134 2h0m124 23h0m-105 5h0m101 2h0m-77 13h0m74 2h0m-81 1h0m18 6h0m0 1h0m6 6h0m52 4h0m-2 6h0m-49 1h0m-1 1h0m46 7h0m3 0h0m-43 5h0m32 15h0m-17 6h0m4 1h0" stroke="#3a528b" stroke-width="2.2" stroke-linecap="square" fill="none"/>
<path transform="scale(.5)" d="M1124 54h0m15 0h0m-25 7h0m33 5h0m18 10h0m8 5h0m-91 1h0m104 13h0m-110 5h0m118 2h0m-119 1h0m121 0h0m15 9h0m-141 1h0m137 2h0m-137 2h0m5 2h0m-3 7h0m3 2h0m141 8h0m-145 5h0m149 1h0m-150 13h0m148 10h0m-2 8h0m-2 2h0m-135 3h0m137 0h0m-133 6h0m1 0h0m-6 1h0m131 0h0m-4 8h0m-1 1h0m-1 2h0m-1 4h0m3 0h0m-114 4h0m107 5h0m-109 1h0m21 14h0m8 0h0m16 11h0m4 3h0m52 6h0m-4 2h0m1 3h0m-44 1h0m-1 2h0m45 0h0m-45 2h0m44 0h0m0 4h0m-2 3h0m-41 7h0m36 4h0m1 1h0m3 1h0m-30 4h0m22 1h0m-24 2h0" stroke="#482374" stroke-width="2.2" stroke-linecap="square" fill="none"/>
<path transform="scale(.5)" d="M1117 56h0m30 0h0m3 4h0m-37 3h0m41 1h0m-65 4h0m-3 3h0m84 12h0m16 9h0m-110 13h0m-2 2h0m-4 51h0m142 9h0m-128 18h0" stroke="#2fb37b" stroke-width="2.2" stroke-linecap="square" fill="none"/>
<path transform="scale(.5)" d="M1126 49h0m-21 15h0m-24 19h0m95 4h0m25 24h0m10 2h0m9 0h0m-2 2h0m-148 21h0m149 3h0m1 5h0m-3 6h0m1 14h0m-141 14h0m3 5h0m128 13h0m-115 6h0m5 8h0m-2 7h0m21 7h0m10 6h0m3 1h0m2 0h0m58 5h0m3 0h0m-52 8h0m1 14h0m42 4h0m-36 5h0m0 1h0m29 9h0m0 2h0m-4 1h0m-16 2h0m19 2h0m-10 2h0" stroke="#2e6b8e" stroke-width="2.2" stroke-linecap="square" fill="none"/>
<path transform="scale(.5)" d="M1135 51h0m-8 1h0m-2 2h0m28 12h0m5 0h0m4 3h0m-64 1h0m69 5h0m6 5h0m2 4h0m10 10h0m-105 7h0m144 14h0m-6 16h0m-1 1h0m-144 13h0m-5 17h0m1 5h0m150 3h0m-146 5h0m140 0h0m-134 7h0m11 15h0m9 14h0m-1 1h0m100 0h0m-98 3h0m7 3h0m82 26h0m-3 13h0m-41 5h0m1 8h0m5 7h0" stroke="#20908c" stroke-width="2.2" stroke-linecap="square" fill="none"/>
<path transform="scale(.5)" d="M1119 53h0m40 18h0m-81 20h0m-6 15h0m132 6h0m3 2h0m-134 5h0m151 5h0m-3 17h0m-10 41h0m-7 6h0m3 7h0m-5 5h0m0 6h0m-2 7h0m-97 3h0m-4 2h0m6 1h0m89 4h0m-69 7h0m13 19h0m6 7h0m0 4h0m42 9h0m-17 16h0m2 1h0" stroke="#404387" stroke-width="2.2" stroke-linecap="square" fill="none"/>
<path transform="scale(.5)" d="M1160 71h0m-83 33h0m125 98h0m-74 30h0" stroke="#79d151" stroke-width="2.2" stroke-linecap="square" fill="none"/>
<path transform="scale(.5)" d="M1133 49h0m-8 4h0m-20 9h0m-14 7h0m66 0h0m8 5h0m-83 16h0m93 0h0m8 1h0m-106 1h0m107 1h0m-110 3h0m6 1h0m122 14h0m-132 2h0m7 1h0m130 1h0m3 1h0m8 6h0m3 9h0m-3 11h0m-144 9h0m-6 4h0m8 13h0m5 21h0m12 21h0m3 3h0m100 8h0m-88 1h0m21 5h0m59 21h0m1 0h0m-47 2h0m42 1h0m-43 2h0m2 6h0m44 3h0m-41 3h0m2 3h0m34 9h0m-24 7h0" stroke="#345e8d" stroke-width="2.2" stroke-linecap="square" fill="none"/>
<path transform="scale(.5)" d="M1158 69h0m59 73h0m-146 21h0m143 13h0m-20 51h0m-52 19h0m43 20h0m-25 18h0" stroke="#471265" stroke-width="2.2" stroke-linecap="square" fill="none"/>
<path transform="scale(.5)" d="M1081 86h0m-11 56h0m40 80h0" stroke="#5ec961" stroke-width="2.2" stroke-linecap="square" fill="none"/>
<path transform="scale(.5)" d="M1072 127h0" stroke="#bdde26" stroke-width="2.2" stroke-linecap="square" fill="none"/>
<path transform="scale(.5)" d="M1066 156h0m102 130h0" stroke="#9ad83c" stroke-width="2.2" stroke-linecap="square" fill="none"/>
<path transform="scale(.5)" d="M1098 69h0m125 51h0m-11 26h0m3 23h0m-74 75h0m47 12h0m-5 12h0m3 0h0m-35 12h0m21 4h0m-4 5h0" stroke="#440154" stroke-width="2.2" stroke-linecap="square" fill="none"/>
<path transform="scale(.5)" d="M1114 57h0" stroke="#dfe318" stroke-width="2.2" stroke-linecap="square" fill="none"/>
<path transform="scale(.5)" d="M1307 188h0m6 0h0m-27 6h0m-28 6h0m2 1h0m4 0h0m-5 2h0m7 0h0m65 0h0m-86 6h0m3 1h0m87 7h0m2 7h0m-70 17h0m68 19h0m-56 1h0m58 2h0m-16 14h0m-25 25h0" stroke="#29788e" stroke-width="2.2" stroke-linecap="square" fill="none"/>
<path transform="scale(.5)" d="M1299 192h0m19 0h0m-24 2h0m-27 5h0m-20 8h0m87 11h0m-76 9h0m80 6h0m-3 16h0m-53 21h0m7 28h0" stroke="#482374" stroke-width="2.2" stroke-linecap="square" fill="none"/>
<path transform="scale(.5)" d="M1301 186h0m5 2h0m-42 11h0m12 1h0m-10 2h0m-22 12h0m11 5h0m-1 2h0m81 0h0m-1 7h0m-70 1h0m72 17h0m-59 9h0m6 31h0m25 5h0m-22 1h0m23 1h0m-8 8h0m-2 1h0m-2 2h0" stroke="#24848d" stroke-width="2.2" stroke-linecap="square" fill="none"/>
<path transform="scale(.5)" d="M1315 183h0m-6 5h0m-6 2h0m21 0h0m8 0h0m-36 1h0m9 1h0m24 1h0m-80 12h0m-3 3h0m85 0h0m-84 1h0m88 11h0m0 3h0m1 0h0m-79 8h0m14 15h0m-4 2h0m68 3h0m3 1h0m-1 2h0m-62 8h0m43 21h0m4 1h0m-8 1h0m-30 6h0m25 1h0m3 3h0m-23 1h0m20 0h0" stroke="#2e6b8e" stroke-width="2.2" stroke-linecap="square" fill="none"/>
<path transform="scale(.5)" d="M1280 198h0m-3 1h0m-23 3h0m7 3h0m-11 12h0m4 1h0m78 3h0m-79 1h0m1 0h0m80 1h0m-75 8h0m9 12h0m12 25h0m32 17h0m-12 13h0m-8 1h0m2 4h0" stroke="#45347f" stroke-width="2.2" stroke-linecap="square" fill="none"/>
<path transform="scale(.5)" d="M1314 188h0m-18 4h0m-17 4h0m-5 4h0m59 1h0m-68 1h0m-17 8h0m87 2h0m2 9h0m-2 8h0m-80 2h0m80 2h0m1 1h0m2 2h0m2 0h0m-3 3h0m-73 2h0m5 3h0m1 2h0m68 3h0m0 1h0m-67 2h0m7 3h0m55 8h0m-53 9h0m48 4h0m-48 5h0m5 2h0m34 3h0m-39 4h0m22 5h0m-11 5h0m15 0h0m2 0h0m4 0h0m-21 1h0" stroke="#3a528b" stroke-width="2.2" stroke-linecap="square" fill="none"/>
<path transform="scale(.5)" d="M1317 188h0m-69 23h0m87 5h0m-84 3h0m4 2h0m4 4h0m1 7h0m76 2h0m1 1h0m-68 11h0m-2 1h0m2 0h0m8 12h0m1 3h0m61 0h0m-22 21h0m-3 2h0m-26 8h0m17 2h0m-14 1h0" stroke="#404387" stroke-width="2.2" stroke-linecap="square" fill="none"/>
<path transform="scale(.5)" d="M1304 188h0m-9 2h0m30 1h0m-43 1h0m14 0h0m-3 1h0m30 1h0m-42 1h0m3 2h0m-11 1h0m58 5h0m5 1h0m-82 1h0m-3 10h0m85 2h0m-76 13h0m79 1h0m-73 9h0m70 15h0m1 2h0m-1 3h0m-2 3h0m-2 2h0m3 0h0m-53 2h0m40 10h0m-41 3h0m4 2h0m36 0h0m-3 3h0m-34 9h0m22 2h0m-2 4h0m-8 1h0m8 0h0" stroke="#345e8d" stroke-width="2.2" stroke-linecap="square" fill="none"/>
<path transform="scale(.5)" d="M1314 189h0m-27 2h0m-35 10h0m5 1h0m79 16h0m-70 20h0m13 17h0m62 1h0m-62 2h0m59 8h0m-55 4h0" stroke="#20908c" stroke-width="2.2" stroke-linecap="square" fill="none"/>
<path transform="scale(.5)" d="M1315 187h0m12 9h0m-58 57h0m5 1h0m3 14h0m30 27h0" stroke="#1e9b89" stroke-width="2.2" stroke-linecap="square" fill="none"/>
<path transform="scale(.5)" d="M1328 193h0m-47 2h0m-27 6h0m77 5h0m-64 34h0m72 18h0m-5 11h0" stroke="#471265" stroke-width="2.2" stroke-linecap="square" fill="none"/>
<path transform="scale(.5)" d="M1317 187h0m-18 4h0m-17 6h0m-20 38h0m68 34h0m-46 17h0" stroke="#22a784" stroke-width="2.2" stroke-linecap="square" fill="none"/>
<path transform="scale(.5)" d="M1216 168h0m-3 5h0m20 1h0m-10 2h0m-12 2h0m5 0h0m25 1h0m-17 2h0m-8 4h0m11 0h0m15 1h0m-18 1h0m8 0h0m-15 1h0m12 0h0m1 1h0m-1 1h0m-3 2h0m17 0h0m-17 1h0m-5 3h0m-6 2h0m27 0h0m15 0h0m-24 1h0m7 0h0m20 0h0m-20 1h0m0 2h0m3 2h0m-27 1h0m27 3h0m6 1h0m18 2h0m-18 2h0m-6 2h0m16 1h0m-15 1h0m8 0h0m1 1h0m8 0h0m-4 3h0m-14 1h0m1 1h0m9 2h0m-12 1h0m23 0h0m-11 1h0" stroke="#404387" stroke-width="2.0" stroke-linecap="square" fill="none"/>
<path transform="scale(.5)" d="M1206 170h0m29 0h0m-17 6h0m1 1h0m3 1h0m12 4h0m2 0h0m-1 2h0m8 0h0m-11 3h0m-11 1h0m8 0h0m13 0h0m-5 1h0m13 0h0m-14 1h0m0 1h0m-4 1h0m3 0h0m10 0h0m-30 1h0m2 0h0m43 1h0m-35 1h0m23 0h0m-21 2h0m26 0h0m-32 2h0m9 0h0m33 1h0m-53 2h0m22 0h0m1 0h0m0 1h0m10 0h0m-8 1h0m24 0h0m-10 1h0m8 0h0m-43 2h0m33 3h0m-6 3h0m3 1h0m10 1h0m-6 1h0m5 0h0m5 0h0m-9 2h0m-12 2h0m18 15h0" stroke="#29788e" stroke-width="2.0" stroke-linecap="square" fill="none"/>
<path transform="scale(.5)" d="M1204 160h0m-5 11h0m21 1h0m-3 1h0m-5 3h0m7 1h0m3 0h0m18 0h0m-32 2h0m15 1h0m7 0h0m1 0h0m26 1h0m-25 1h0m15 0h0m-12 3h0m-25 1h0m25 1h0m-14 2h0m6 0h0m-5 2h0m-2 2h0m22 0h0m5 1h0m-20 1h0m26 2h0m-17 1h0m4 0h0m11 1h0m2 3h0m11 0h0m-23 1h0m-7 1h0m8 0h0m-3 1h0m-3 1h0m18 0h0m-18 1h0m3 0h0m1 0h0m1 0h0m-6 4h0m19 0h0m0 1h0m-16 4h0m9 0h0m-35 2h0m44 0h0m-2 2h0m6 0h0m2 0h0m-10 1h0m-6 2h0m7 2h0m-3 5h0m2 7h0" stroke="#22a784" stroke-width="2.0" stroke-linecap="square" fill="none"/>
<path transform="scale(.5)" d="M1217 163h0m26 9h0m-31 3h0m-3 1h0m6 0h0m7 1h0m-6 1h0m4 0h0m7 0h0m0 1h0m-15 1h0m6 0h0m12 0h0m-24 1h0m35 3h0m8 4h0m-16 5h0m18 0h0m-44 3h0m15 0h0m20 1h0m3 0h0m-24 4h0m18 1h0m19 0h0m-22 1h0m-3 1h0m5 0h0m14 1h0m-27 2h0m3 0h0m12 2h0m9 0h0m-14 3h0m-5 2h0m1 0h0m16 0h0m-1 4h0m17 3h0m-9 1h0m3 0h0m-8 1h0m12 4h0m-12 2h0m13 4h0" stroke="#20908c" stroke-width="2.0" stroke-linecap="square" fill="none"/>
<rect x="486.20" y="46.70" width="6.50" height="35.10" fill="url(#g5)" />
<text x="496.7" y="53.7" font-size="7.5" fill="#333">0.20</text>
<line x1="486.2" y1="51.3" x2="487.7" y2="51.3" stroke="#000" stroke-width="0.4" />
<line x1="491.2" y1="51.3" x2="492.7" y2="51.3" stroke="#000" stroke-width="0.4" />
<text x="496.7" y="63.5" font-size="7.5" fill="#333">0.15</text>
<line x1="486.2" y1="61.1" x2="487.7" y2="61.1" stroke="#000" stroke-width="0.4" />
<line x1="491.2" y1="61.1" x2="492.7" y2="61.1" stroke="#000" stroke-width="0.4" />
<text x="496.7" y="73.6" font-size="7.5" fill="#333">0.10</text>
<line x1="486.2" y1="71.2" x2="487.7" y2="71.2" stroke="#000" stroke-width="0.4" />
<line x1="491.2" y1="71.2" x2="492.7" y2="71.2" stroke="#000" stroke-width="0.4" />
<text x="496.7" y="83.4" font-size="7.5" fill="#333">0.05</text>
<line x1="486.2" y1="81.0" x2="487.7" y2="81.0" stroke="#000" stroke-width="0.4" />
<line x1="491.2" y1="81.0" x2="492.7" y2="81.0" stroke="#000" stroke-width="0.4" />
<text x="485.7" y="26.2" font-size="7.3" fill="#333">M1 marker</text>
<text x="485.7" y="35.0" font-size="7.3" fill="#333">AUC</text>
<text x="485.7" y="43.2" font-size="7.3" fill="#333">score</text>
<rect x="643.00" y="46.70" width="6.50" height="35.10" fill="url(#g6)" />
<text x="653.5" y="57.7" font-size="7.5" fill="#333">0.075</text>
<line x1="643.0" y1="55.3" x2="644.5" y2="55.3" stroke="#000" stroke-width="0.4" />
<line x1="648.0" y1="55.3" x2="649.5" y2="55.3" stroke="#000" stroke-width="0.4" />
<text x="653.5" y="66.1" font-size="7.5" fill="#333">0.050</text>
<line x1="643.0" y1="63.7" x2="644.5" y2="63.7" stroke="#000" stroke-width="0.4" />
<line x1="648.0" y1="63.7" x2="649.5" y2="63.7" stroke="#000" stroke-width="0.4" />
<text x="653.5" y="75.2" font-size="7.5" fill="#333">0.025</text>
<line x1="643.0" y1="72.8" x2="644.5" y2="72.8" stroke="#000" stroke-width="0.4" />
<line x1="648.0" y1="72.8" x2="649.5" y2="72.8" stroke="#000" stroke-width="0.4" />
<text x="653.5" y="83.6" font-size="7.5" fill="#333">0</text>
<line x1="643.0" y1="81.2" x2="644.5" y2="81.2" stroke="#000" stroke-width="0.4" />
<line x1="648.0" y1="81.2" x2="649.5" y2="81.2" stroke="#000" stroke-width="0.4" />
<text x="642.5" y="26.2" font-size="7.3" fill="#333">M2 marker</text>
<text x="642.5" y="35.0" font-size="7.3" fill="#333">AUC</text>
<text x="642.5" y="43.2" font-size="7.3" fill="#333">score</text>
<path d="M28.5 265.2 28.5 265.2 30.3 265.2 32.0 265.2 33.7 265.2 35.4 265.2 37.1 265.2 38.9 265.1 40.6 265.1 42.3 265.1 44.0 265.0 45.8 265.0 47.5 264.9 49.2 264.7 50.9 264.5 52.6 264.3 54.4 264.0 56.1 263.6 57.8 263.1 59.5 262.4 61.3 261.6 63.0 260.7 64.7 259.6 66.4 258.2 68.1 256.7 69.9 254.9 71.6 252.9 73.3 250.8 75.0 248.4 76.8 245.9 78.5 243.3 80.2 240.7 81.9 238.1 83.6 235.6 85.4 233.2 87.1 231.1 88.8 229.3 90.5 227.9 92.3 226.8 94.0 226.3 95.7 226.2 97.4 226.3 99.1 226.8 100.9 227.4 102.6 228.2 104.3 229.3 106.0 230.5 107.8 231.9 109.5 233.4 111.2 235.0 112.9 236.7 114.6 238.5 116.4 240.3 118.1 242.1 119.8 243.9 121.5 245.7 123.3 247.5 125.0 249.2 126.7 250.8 128.4 252.3 130.1 253.7 131.9 255.1 133.6 256.3 135.3 257.4 137.0 258.5 138.8 259.4 140.5 260.2 142.2 261.0 143.9 261.6 145.6 262.2 147.4 262.7 149.1 263.1 150.8 263.5 152.5 263.8 154.3 264.0 156.0 264.2 157.7 264.4 159.4 264.6 161.1 264.7 162.9 264.8 164.6 264.9 166.3 265.0 168.0 265.0 169.8 265.1 171.5 265.1 173.2 265.1 174.9 265.1 176.6 265.1 178.4 265.2 180.1 265.2 181.8 265.2 183.5 265.2 185.3 265.2 187.0 265.2 188.7 265.2 190.4 265.2 192.1 265.2 193.9 265.2 195.6 265.2 197.3 265.2 199.0 265.2 199.0 265.2Z" fill="#4e8f95" fill-opacity="0.6" stroke="#3a7078" stroke-width="0.5" stroke-opacity="0.55"/>
<path d="M28.5 265.2 28.5 265.2 30.3 265.2 32.0 265.2 33.7 265.2 35.4 265.2 37.1 265.2 38.9 265.2 40.6 265.2 42.3 265.2 44.0 265.2 45.8 265.2 47.5 265.2 49.2 265.2 50.9 265.2 52.6 265.2 54.4 265.1 56.1 265.1 57.8 265.0 59.5 264.9 61.3 264.8 63.0 264.7 64.7 264.4 66.4 264.1 68.1 263.7 69.9 263.2 71.6 262.5 73.3 261.6 75.0 260.5 76.8 259.2 78.5 257.6 80.2 255.8 81.9 253.7 83.6 251.3 85.4 248.7 87.1 245.9 88.8 243.0 90.5 240.1 92.3 237.1 94.0 234.3 95.7 231.8 97.4 229.5 99.1 227.7 100.9 226.4 102.6 225.7 104.3 225.5 106.0 225.5 107.8 225.5 109.5 225.5 111.2 225.5 112.9 225.5 114.6 225.5 116.4 225.5 118.1 225.6 119.8 226.0 121.5 226.8 123.3 227.9 125.0 229.3 126.7 231.0 128.4 232.9 130.1 235.0 131.9 237.2 133.6 239.4 135.3 241.7 137.0 244.0 138.8 246.3 140.5 248.4 142.2 250.5 143.9 252.4 145.6 254.2 147.4 255.8 149.1 257.2 150.8 258.5 152.5 259.6 154.3 260.6 156.0 261.5 157.7 262.2 159.4 262.8 161.1 263.3 162.9 263.7 164.6 264.0 166.3 264.3 168.0 264.5 169.8 264.7 171.5 264.8 173.2 264.9 174.9 265.0 176.6 265.0 178.4 265.1 180.1 265.1 181.8 265.1 183.5 265.2 185.3 265.2 187.0 265.2 188.7 265.2 190.4 265.2 192.1 265.2 193.9 265.2 195.6 265.2 197.3 265.2 199.0 265.2 199.0 265.2Z" fill="#a5c8c4" fill-opacity="0.65" stroke="#7aa6a2" stroke-width="0.5" stroke-opacity="0.55"/>
<path d="M28.5 265.2 28.5 265.2 30.3 265.2 32.0 265.2 33.7 265.2 35.4 265.2 37.1 265.2 38.9 265.2 40.6 265.2 42.3 265.2 44.0 265.2 45.8 265.2 47.5 265.2 49.2 265.2 50.9 265.2 52.6 265.2 54.4 265.2 56.1 265.2 57.8 265.2 59.5 265.2 61.3 265.2 63.0 265.1 64.7 265.1 66.4 265.1 68.1 265.0 69.9 264.9 71.6 264.8 73.3 264.7 75.0 264.5 76.8 264.2 78.5 263.9 80.2 263.5 81.9 263.0 83.6 262.3 85.4 261.6 87.1 260.7 88.8 259.6 90.5 258.4 92.3 257.0 94.0 255.4 95.7 253.7 97.4 251.8 99.1 249.8 100.9 247.8 102.6 245.7 104.3 243.6 106.0 241.6 107.8 239.8 109.5 238.1 111.2 236.7 112.9 235.5 114.6 234.7 116.4 234.3 118.1 234.2 119.8 234.2 121.5 234.2 123.3 234.2 125.0 234.2 126.7 234.2 128.4 234.2 130.1 234.2 131.9 234.4 133.6 234.8 135.3 235.5 137.0 236.4 138.8 237.5 140.5 238.8 142.2 240.3 143.9 241.9 145.6 243.5 147.4 245.2 149.1 247.0 150.8 248.7 152.5 250.4 154.3 252.0 156.0 253.6 157.7 255.1 159.4 256.4 161.1 257.6 162.9 258.8 164.6 259.8 166.3 260.6 168.0 261.4 169.8 262.1 171.5 262.7 173.2 263.1 174.9 263.5 176.6 263.9 178.4 264.2 180.1 264.4 181.8 264.6 183.5 264.7 185.3 264.8 187.0 264.9 188.7 265.0 190.4 265.0 192.1 265.1 193.9 265.1 195.6 265.1 197.3 265.2 199.0 265.2 199.0 265.2Z" fill="#b5dca4" fill-opacity="0.5" stroke="#7e9a72" stroke-width="0.5" stroke-opacity="0.55"/>
<path d="M28.5 265.2 28.5 265.2 30.3 265.2 32.0 265.2 33.7 265.2 35.4 265.2 37.1 265.2 38.9 265.2 40.6 265.2 42.3 265.2 44.0 265.2 45.8 265.2 47.5 265.2 49.2 265.2 50.9 265.2 52.6 265.2 54.4 265.2 56.1 265.2 57.8 265.2 59.5 265.2 61.3 265.2 63.0 265.2 64.7 265.2 66.4 265.2 68.1 265.1 69.9 265.1 71.6 265.1 73.3 265.0 75.0 264.9 76.8 264.8 78.5 264.7 80.2 264.5 81.9 264.2 83.6 263.9 85.4 263.5 87.1 263.0 88.8 262.4 90.5 261.7 92.3 260.9 94.0 259.8 95.7 258.7 97.4 257.3 99.1 255.8 100.9 254.1 102.6 252.2 104.3 250.2 106.0 248.2 107.8 246.0 109.5 243.8 111.2 241.6 112.9 239.5 114.6 237.5 116.4 235.8 118.1 234.2 119.8 233.0 121.5 232.0 123.3 231.5 125.0 231.3 126.7 231.3 128.4 231.3 130.1 231.3 131.9 231.3 133.6 231.3 135.3 231.3 137.0 231.3 138.8 231.3 140.5 231.5 142.2 232.0 143.9 232.7 145.6 233.7 147.4 234.8 149.1 236.1 150.8 237.5 152.5 239.1 154.3 240.7 156.0 242.5 157.7 244.2 159.4 246.0 161.1 247.7 162.9 249.4 164.6 251.0 166.3 252.6 168.0 254.1 169.8 255.4 171.5 256.7 173.2 257.8 174.9 258.9 176.6 259.8 178.4 260.7 180.1 261.4 181.8 262.0 183.5 262.6 185.3 263.0 187.0 263.4 188.7 263.8 190.4 264.1 192.1 264.3 193.9 264.5 195.6 264.6 197.3 264.8 199.0 264.9 199.0 265.2Z" fill="#d3eda7" fill-opacity="0.75" stroke="#b9d98f" stroke-width="0.5" stroke-opacity="0.55"/>
<path d="M28.5 265.2 28.5 265.0 30.3 264.8 32.0 264.7 33.7 264.4 35.4 264.0 37.1 263.6 38.9 262.9 40.6 262.0 42.3 260.9 44.0 259.5 45.8 257.8 47.5 255.7 49.2 253.3 50.9 250.5 52.6 247.3 54.4 243.8 56.1 240.1 57.8 236.3 59.5 232.4 61.3 228.7 63.0 225.2 64.7 222.2 66.4 219.7 68.1 218.0 69.9 217.0 71.6 216.9 73.3 217.2 75.0 218.0 76.8 219.1 78.5 220.6 80.2 222.4 81.9 224.5 83.6 226.8 85.4 229.3 87.1 231.9 88.8 234.6 90.5 237.3 92.3 240.0 94.0 242.6 95.7 245.2 97.4 247.6 99.1 249.8 100.9 251.9 102.6 253.8 104.3 255.5 106.0 257.0 107.8 258.3 109.5 259.5 111.2 260.5 112.9 261.4 114.6 262.1 116.4 262.7 118.1 263.2 119.8 263.7 121.5 264.0 123.3 264.3 125.0 264.5 126.7 264.7 128.4 264.8 130.1 264.9 131.9 265.0 133.6 265.0 135.3 265.1 137.0 265.1 138.8 265.1 140.5 265.2 142.2 265.2 143.9 265.2 145.6 265.2 147.4 265.2 149.1 265.2 150.8 265.2 152.5 265.2 154.3 265.2 156.0 265.2 157.7 265.2 159.4 265.2 161.1 265.2 162.9 265.2 164.6 265.2 166.3 265.2 168.0 265.2 169.8 265.2 171.5 265.2 173.2 265.2 174.9 265.2 176.6 265.2 178.4 265.2 180.1 265.2 181.8 265.2 183.5 265.2 185.3 265.2 187.0 265.2 188.7 265.2 190.4 265.2 192.1 265.2 193.9 265.2 195.6 265.2 197.3 265.2 199.0 265.2 199.0 265.2Z" fill="#4ccbec" fill-opacity="0.78" stroke="#358ea5" stroke-width="0.5" stroke-opacity="0.55"/>
<line x1="28.0" y1="265.2" x2="199.0" y2="265.2" stroke="#3a7f88" stroke-width="0.8" />
<text x="45.0" y="274.3" font-size="7" text-anchor="middle" fill="#333">−2</text>
<text x="75.5" y="274.3" font-size="7" text-anchor="middle" fill="#333">−1</text>
<text x="108.2" y="274.3" font-size="7" text-anchor="middle" fill="#333">0</text>
<text x="138.7" y="274.3" font-size="7" text-anchor="middle" fill="#333">1</text>
<text x="169.8" y="274.3" font-size="7" text-anchor="middle" fill="#333">2</text>
<text x="24.0" y="230.0" font-size="7" text-anchor="end" fill="#333">0.6</text>
<text x="24.0" y="242.2" font-size="7" text-anchor="end" fill="#333">0.4</text>
<text x="24.0" y="254.5" font-size="7" text-anchor="end" fill="#333">0.2</text>
<text x="24.0" y="266.7" font-size="7" text-anchor="end" fill="#333">0</text>
<text x="135.1" y="220.8" font-size="7" textLength="60.2" lengthAdjust="spacingAndGlyphs" fill="#333">M1 early response</text>
<text x="149.8" y="229.4" font-size="7" textLength="32.0" lengthAdjust="spacingAndGlyphs" fill="#333">(factor 4)</text>
<path d="M136.5 230.5 C 128 210, 90 205, 76 215.3" fill="none" stroke="#2b2b2b" stroke-width="0.8" stroke-dasharray="2.1 1.4"/>
<path d="M120.7 228.6 C 117 216, 103 216, 97.5 224.5" fill="none" stroke="#2b2b2b" stroke-width="0.8" stroke-dasharray="2.1 1.4"/>
<path d="M96.8 225.8 97.0 222.3 99.6 223.7Z" fill="#333" />
<circle cx="76.0" cy="215.3" r="2.3" fill="#2b2b2b" />
<circle cx="120.7" cy="228.6" r="2.3" fill="#2b2b2b" />
<circle cx="136.5" cy="230.5" r="2.3" fill="#2b2b2b" />
<path d="M29.8 334.4 29.8 334.4 31.5 334.3 33.2 334.1 34.9 333.3 36.6 331.3 38.3 326.9 40.0 319.0 41.7 308.0 43.4 296.1 45.1 287.7 46.8 286.0 48.5 287.1 50.2 289.5 51.9 292.8 53.6 297.0 55.2 301.7 56.9 306.5 58.6 311.3 60.3 315.8 62.0 319.8 63.7 323.2 65.4 326.1 67.1 328.4 68.8 330.2 70.5 331.5 72.2 332.5 73.9 333.2 75.6 333.6 77.3 333.9 79.0 334.1 80.7 334.2 82.4 334.3 84.1 334.3 85.8 334.4 87.5 334.4 89.2 334.4 90.9 334.4 92.6 334.4 94.3 334.4 96.0 334.4 97.7 334.4 99.4 334.4 101.1 334.4 102.8 334.4 104.5 334.4 106.2 334.4 107.9 334.4 109.6 334.4 111.3 334.4 113.0 334.4 114.7 334.4 116.4 334.4 118.1 334.4 119.8 334.4 121.5 334.4 123.2 334.4 124.9 334.4 126.6 334.4 128.3 334.4 130.0 334.4 131.7 334.4 133.4 334.4 135.1 334.4 136.8 334.4 138.5 334.4 140.1 334.4 141.8 334.4 143.5 334.4 145.2 334.4 146.9 334.4 148.6 334.4 150.3 334.4 152.0 334.4 153.7 334.4 155.4 334.4 157.1 334.4 158.8 334.4 160.5 334.4 162.2 334.4 163.9 334.4 165.6 334.4 167.3 334.4 169.0 334.4 170.7 334.4 172.4 334.4 174.1 334.4 175.8 334.4 177.5 334.4 179.2 334.4 180.9 334.4 182.6 334.4 184.3 334.4 186.0 334.4 187.7 334.4 189.4 334.4 191.1 334.4 192.8 334.4 194.5 334.4 196.2 334.4 197.9 334.4 197.9 334.4Z" fill="#38c4ee" fill-opacity="0.65" stroke="#2789a6" stroke-width="0.5" stroke-opacity="0.55"/>
<path d="M29.8 334.4 29.8 334.4 31.5 334.4 33.2 334.4 34.9 334.4 36.6 334.4 38.3 334.3 40.0 334.1 41.7 333.7 43.4 332.9 45.1 331.5 46.8 329.0 48.5 325.3 50.2 320.2 51.9 313.8 53.6 306.5 55.2 299.4 56.9 293.6 58.6 290.1 60.3 289.2 62.0 289.3 63.7 290.4 65.4 292.4 67.1 295.2 68.8 298.7 70.5 302.7 72.2 306.9 73.9 311.2 75.6 315.3 77.3 319.1 79.0 322.5 80.7 325.4 82.4 327.7 84.1 329.6 85.8 331.0 87.5 332.1 89.2 332.8 90.9 333.4 92.6 333.7 94.3 334.0 96.0 334.1 97.7 334.2 99.4 334.3 101.1 334.3 102.8 334.4 104.5 334.4 106.2 334.4 107.9 334.4 109.6 334.4 111.3 334.4 113.0 334.4 114.7 334.4 116.4 334.4 118.1 334.4 119.8 334.4 121.5 334.4 123.2 334.4 124.9 334.4 126.6 334.4 128.3 334.4 130.0 334.4 131.7 334.4 133.4 334.4 135.1 334.4 136.8 334.4 138.5 334.4 140.1 334.4 141.8 334.4 143.5 334.4 145.2 334.4 146.9 334.4 148.6 334.4 150.3 334.4 152.0 334.4 153.7 334.4 155.4 334.4 157.1 334.4 158.8 334.4 160.5 334.4 162.2 334.4 163.9 334.4 165.6 334.4 167.3 334.4 169.0 334.4 170.7 334.4 172.4 334.4 174.1 334.4 175.8 334.4 177.5 334.4 179.2 334.4 180.9 334.4 182.6 334.4 184.3 334.4 186.0 334.4 187.7 334.4 189.4 334.4 191.1 334.4 192.8 334.4 194.5 334.4 196.2 334.4 197.9 334.4 197.9 334.4Z" fill="#c6ea93" fill-opacity="0.55" stroke="#8aa366" stroke-width="0.5" stroke-opacity="0.55"/>
<path d="M29.8 334.4 29.8 334.4 31.5 334.4 33.2 334.3 34.9 334.2 36.6 334.0 38.3 333.6 40.0 332.8 41.7 331.5 43.4 329.4 45.1 326.4 46.8 322.5 48.5 317.8 50.2 312.8 51.9 308.1 53.6 304.4 55.2 302.4 56.9 302.3 58.6 302.9 60.3 304.1 62.0 305.8 63.7 308.0 65.4 310.4 67.1 313.0 68.8 315.7 70.5 318.3 72.2 320.9 73.9 323.2 75.6 325.4 77.3 327.2 79.0 328.8 80.7 330.1 82.4 331.2 84.1 332.0 85.8 332.6 87.5 333.1 89.2 333.5 90.9 333.7 92.6 333.9 94.3 333.9 96.0 334.0 97.7 333.9 99.4 333.9 101.1 333.7 102.8 333.6 104.5 333.3 106.2 333.0 107.9 332.7 109.6 332.3 111.3 331.8 113.0 331.2 114.7 330.5 116.4 329.7 118.1 328.8 119.8 327.9 121.5 326.8 123.2 325.6 124.9 324.3 126.6 323.0 128.3 321.6 130.0 320.2 131.7 318.8 133.4 317.4 135.1 316.0 136.8 314.8 138.5 313.6 140.1 312.6 141.8 311.8 143.5 311.2 145.2 310.8 146.9 310.6 148.6 310.7 150.3 310.9 152.0 311.4 153.7 312.1 155.4 313.0 157.1 314.1 158.8 315.3 160.5 316.6 162.2 317.9 163.9 319.3 165.6 320.8 167.3 322.2 169.0 323.5 170.7 324.8 172.4 326.1 174.1 327.2 175.8 328.3 177.5 329.2 179.2 330.1 180.9 330.8 182.6 331.4 184.3 332.0 186.0 332.5 187.7 332.8 189.4 333.2 191.1 333.4 192.8 333.7 194.5 333.8 196.2 334.0 197.9 334.1 197.9 334.4Z" fill="#6dbf8f" fill-opacity="0.5" stroke="#4c8564" stroke-width="0.5" stroke-opacity="0.55"/>
<path d="M29.8 334.4 29.8 334.4 31.5 334.4 33.2 334.4 34.9 334.4 36.6 334.4 38.3 334.4 40.0 334.4 41.7 334.4 43.4 334.4 45.1 334.4 46.8 334.4 48.5 334.4 50.2 334.4 51.9 334.4 53.6 334.4 55.2 334.4 56.9 334.4 58.6 334.4 60.3 334.4 62.0 334.4 63.7 334.4 65.4 334.4 67.1 334.4 68.8 334.4 70.5 334.4 72.2 334.4 73.9 334.4 75.6 334.4 77.3 334.4 79.0 334.4 80.7 334.4 82.4 334.4 84.1 334.4 85.8 334.4 87.5 334.4 89.2 334.4 90.9 334.4 92.6 334.4 94.3 334.3 96.0 334.3 97.7 334.3 99.4 334.2 101.1 334.1 102.8 334.0 104.5 333.8 106.2 333.5 107.9 333.2 109.6 332.7 111.3 332.2 113.0 331.4 114.7 330.5 116.4 329.3 118.1 328.0 119.8 326.4 121.5 324.6 123.2 322.5 124.9 320.3 126.6 318.0 128.3 315.6 130.0 313.2 131.7 310.9 133.4 308.8 135.1 306.9 136.8 305.4 138.5 304.3 140.1 303.7 141.8 303.6 143.5 304.0 145.2 304.8 146.9 306.0 148.6 307.6 150.3 309.4 152.0 311.5 153.7 313.7 155.4 316.0 157.1 318.2 158.8 320.4 160.5 322.5 162.2 324.4 163.9 326.1 165.6 327.7 167.3 329.0 169.0 330.1 170.7 331.1 172.4 331.8 174.1 332.5 175.8 333.0 177.5 333.3 179.2 333.6 180.9 333.9 182.6 334.0 184.3 334.1 186.0 334.2 187.7 334.3 189.4 334.3 191.1 334.3 192.8 334.4 194.5 334.4 196.2 334.4 197.9 334.4 197.9 334.4Z" fill="#2e8a80" fill-opacity="0.6" stroke="#206059" stroke-width="0.5" stroke-opacity="0.55"/>
<path d="M29.8 334.4 29.8 334.4 31.5 334.4 33.2 334.4 34.9 334.4 36.6 334.4 38.3 334.4 40.0 334.4 41.7 334.4 43.4 334.4 45.1 334.4 46.8 334.4 48.5 334.4 50.2 334.4 51.9 334.4 53.6 334.4 55.2 334.4 56.9 334.4 58.6 334.4 60.3 334.4 62.0 334.4 63.7 334.4 65.4 334.4 67.1 334.4 68.8 334.4 70.5 334.4 72.2 334.4 73.9 334.4 75.6 334.4 77.3 334.4 79.0 334.4 80.7 334.4 82.4 334.4 84.1 334.4 85.8 334.4 87.5 334.4 89.2 334.4 90.9 334.4 92.6 334.4 94.3 334.4 96.0 334.4 97.7 334.3 99.4 334.3 101.1 334.2 102.8 334.2 104.5 334.0 106.2 333.9 107.9 333.6 109.6 333.3 111.3 332.9 113.0 332.4 114.7 331.7 116.4 330.9 118.1 329.8 119.8 328.5 121.5 327.0 123.2 325.3 124.9 323.2 126.6 321.0 128.3 318.6 130.0 316.0 131.7 313.3 133.4 310.7 135.1 308.1 136.8 305.6 138.5 303.5 140.1 301.7 141.8 300.3 143.5 299.5 145.2 299.1 146.9 299.5 148.6 300.6 150.3 302.5 152.0 304.9 153.7 307.8 155.4 311.0 157.1 314.3 158.8 317.5 160.5 320.5 162.2 323.3 163.9 325.7 165.6 327.7 167.3 329.4 169.0 330.8 170.7 331.8 172.4 332.6 174.1 333.2 175.8 333.6 177.5 333.9 179.2 334.1 180.9 334.2 182.6 334.3 184.3 334.3 186.0 334.4 187.7 334.4 189.4 334.4 191.1 334.4 192.8 334.4 194.5 334.4 196.2 334.4 197.9 334.4 197.9 334.4Z" fill="#0e3f5d" fill-opacity="0.62" stroke="#0e3f5d" stroke-width="0.5" stroke-opacity="0.55"/>
<line x1="29.6" y1="334.4" x2="198.0" y2="334.4" stroke="#3a7f88" stroke-width="0.8" />
<text x="58.5" y="343.6" font-size="7" text-anchor="middle" fill="#333">−1</text>
<text x="100.3" y="343.6" font-size="7" text-anchor="middle" fill="#333">0</text>
<text x="141.4" y="343.6" font-size="7" text-anchor="middle" fill="#333">1</text>
<text x="182.2" y="343.6" font-size="7" text-anchor="middle" fill="#333">2</text>
<text x="24.0" y="294.6" font-size="7" text-anchor="end" fill="#333">1.5</text>
<text x="24.0" y="308.3" font-size="7" text-anchor="end" fill="#333">1.0</text>
<text x="24.0" y="321.9" font-size="7" text-anchor="end" fill="#333">0.5</text>
<text x="24.0" y="335.4" font-size="7" text-anchor="end" fill="#333">0</text>
<text x="136.2" y="289.6" font-size="7" textLength="77.1" lengthAdjust="spacingAndGlyphs" fill="#333">M1 sustained response</text>
<text x="160.3" y="298.3" font-size="7" textLength="32.0" lengthAdjust="spacingAndGlyphs" fill="#333">(factor 1)</text>
<path d="M50.5 285.8 C 68 282, 74 290, 70.7 300.2" fill="none" stroke="#2b2b2b" stroke-width="0.8" stroke-dasharray="2.1 1.4"/>
<path d="M70.7 300.2 C 90 278, 130 280, 141.5 297.5" fill="none" stroke="#2b2b2b" stroke-width="0.8" stroke-dasharray="2.1 1.4"/>
<path d="M142.3 299.0 139.6 296.7 142.3 295.5Z" fill="#333" />
<circle cx="50.5" cy="285.8" r="2.3" fill="#2b2b2b" />
<circle cx="70.7" cy="300.2" r="2.3" fill="#2b2b2b" />
<path d="M28.3 406.2 28.3 406.2 29.8 406.2 31.3 406.2 32.7 406.2 34.2 406.2 35.7 406.2 37.2 406.2 38.7 406.2 40.2 406.2 41.7 406.2 43.1 406.2 44.6 406.2 46.1 406.2 47.6 406.2 49.1 406.2 50.6 406.2 52.1 406.2 53.5 406.2 55.0 406.2 56.5 406.2 58.0 406.2 59.5 406.2 61.0 406.2 62.5 406.2 63.9 406.2 65.4 406.2 66.9 406.2 68.4 406.1 69.9 406.1 71.4 406.1 72.9 406.1 74.3 406.1 75.8 406.0 77.3 406.0 78.8 405.9 80.3 405.8 81.8 405.6 83.3 405.4 84.7 405.1 86.2 404.7 87.7 404.1 89.2 403.4 90.7 402.5 92.2 401.3 93.7 399.9 95.1 398.1 96.6 395.9 98.1 393.4 99.6 390.4 101.1 387.1 102.6 383.3 104.0 379.3 105.5 375.1 107.0 370.7 108.5 366.4 110.0 362.3 111.5 358.5 113.0 355.2 114.4 352.5 115.9 350.6 117.4 349.5 118.9 349.2 120.4 349.6 121.9 350.6 123.4 352.1 124.8 354.1 126.3 356.5 127.8 359.3 129.3 362.3 130.8 365.5 132.3 368.9 133.8 372.3 135.2 375.6 136.7 378.8 138.2 381.9 139.7 384.8 141.2 387.5 142.7 390.0 144.2 392.2 145.6 394.1 147.1 395.8 148.6 397.3 150.1 398.6 151.6 399.7 153.1 400.6 154.6 401.4 156.0 402.1 157.5 402.6 159.0 403.1 160.5 403.5 162.0 403.8 163.5 404.1 165.0 404.3 166.4 404.5 167.9 404.7 169.4 404.9 170.9 405.0 172.4 405.1 173.9 405.2 175.4 405.4 176.8 405.4 178.3 405.5 179.8 405.6 181.3 405.7 182.8 405.7 184.3 405.8 185.8 405.8 187.2 405.9 188.7 405.9 190.2 406.0 191.7 406.0 193.2 406.0 194.7 406.1 196.2 406.1 197.6 406.1 199.1 406.1 200.6 406.1 202.1 406.1 203.6 406.1 205.1 406.2 206.6 406.2 208.0 406.2 209.5 406.2 211.0 406.2 212.5 406.2 214.0 406.2 215.5 406.2 216.9 406.2 218.4 406.2 219.9 406.2 219.9 406.2Z" fill="#38c4ee" fill-opacity="0.65" stroke="#2789a6" stroke-width="0.5" stroke-opacity="0.55"/>
<path d="M28.3 406.2 28.3 406.2 29.8 406.2 31.3 406.2 32.7 406.2 34.2 406.2 35.7 406.2 37.2 406.2 38.7 406.2 40.2 406.2 41.7 406.2 43.1 406.2 44.6 406.2 46.1 406.2 47.6 406.2 49.1 406.2 50.6 406.2 52.1 406.2 53.5 406.2 55.0 406.2 56.5 406.1 58.0 406.1 59.5 406.1 61.0 406.0 62.5 405.9 63.9 405.8 65.4 405.6 66.9 405.4 68.4 405.1 69.9 404.7 71.4 404.1 72.9 403.5 74.3 402.6 75.8 401.5 77.3 400.2 78.8 398.6 80.3 396.7 81.8 394.4 83.3 391.9 84.7 389.0 86.2 385.9 87.7 382.5 89.2 378.9 90.7 375.2 92.2 371.5 93.7 367.8 95.1 364.3 96.6 361.1 98.1 358.3 99.6 356.1 101.1 354.4 102.6 353.4 104.0 353.1 105.5 353.4 107.0 354.2 108.5 355.4 110.0 357.1 111.5 359.2 113.0 361.6 114.4 364.3 115.9 367.2 117.4 370.2 118.9 373.3 120.4 376.4 121.9 379.5 123.4 382.5 124.8 385.3 126.3 388.0 127.8 390.5 129.3 392.8 130.8 394.8 132.3 396.6 133.8 398.2 135.2 399.6 136.7 400.9 138.2 401.9 139.7 402.7 141.2 403.5 142.7 404.0 144.2 404.5 145.6 404.9 147.1 405.2 148.6 405.5 150.1 405.6 151.6 405.8 153.1 405.9 154.6 406.0 156.0 406.0 157.5 406.1 159.0 406.1 160.5 406.1 162.0 406.2 163.5 406.2 165.0 406.2 166.4 406.2 167.9 406.2 169.4 406.2 170.9 406.2 172.4 406.2 173.9 406.2 175.4 406.2 176.8 406.2 178.3 406.2 179.8 406.2 181.3 406.2 182.8 406.2 184.3 406.2 185.8 406.2 187.2 406.2 188.7 406.2 190.2 406.2 191.7 406.2 193.2 406.2 194.7 406.2 196.2 406.2 197.6 406.2 199.1 406.2 200.6 406.2 202.1 406.2 203.6 406.2 205.1 406.2 206.6 406.2 208.0 406.2 209.5 406.2 211.0 406.2 212.5 406.2 214.0 406.2 215.5 406.2 216.9 406.2 218.4 406.2 219.9 406.2 219.9 406.2Z" fill="#c6ea93" fill-opacity="0.6" stroke="#8aa366" stroke-width="0.5" stroke-opacity="0.55"/>
<path d="M28.3 406.2 28.3 406.2 29.8 406.2 31.3 406.2 32.7 406.2 34.2 406.2 35.7 406.2 37.2 406.2 38.7 406.2 40.2 406.2 41.7 406.2 43.1 406.2 44.6 406.2 46.1 406.2 47.6 406.2 49.1 406.2 50.6 406.2 52.1 406.2 53.5 406.2 55.0 406.2 56.5 406.2 58.0 406.2 59.5 406.2 61.0 406.2 62.5 406.1 63.9 406.1 65.4 406.1 66.9 406.0 68.4 405.9 69.9 405.8 71.4 405.7 72.9 405.5 74.3 405.2 75.8 404.8 77.3 404.3 78.8 403.7 80.3 402.9 81.8 401.9 83.3 400.7 84.7 399.2 86.2 397.4 87.7 395.3 89.2 392.8 90.7 390.0 92.2 386.9 93.7 383.5 95.1 379.9 96.6 376.1 98.1 372.1 99.6 368.2 101.1 364.3 102.6 360.7 104.0 357.4 105.5 354.6 107.0 352.3 108.5 350.6 110.0 349.7 111.5 349.4 113.0 349.7 114.4 350.4 115.9 351.6 117.4 353.2 118.9 355.2 120.4 357.4 121.9 360.0 123.4 362.8 124.8 365.7 126.3 368.6 127.8 371.6 129.3 374.6 130.8 377.5 132.3 380.3 133.8 383.0 135.2 385.4 136.7 387.7 138.2 389.8 139.7 391.7 141.2 393.4 142.7 394.9 144.2 396.2 145.6 397.4 147.1 398.4 148.6 399.2 150.1 400.0 151.6 400.6 153.1 401.1 154.6 401.6 156.0 402.0 157.5 402.3 159.0 402.6 160.5 402.9 162.0 403.1 163.5 403.3 165.0 403.5 166.4 403.7 167.9 403.9 169.4 404.0 170.9 404.2 172.4 404.3 173.9 404.5 175.4 404.6 176.8 404.7 178.3 404.8 179.8 404.9 181.3 405.0 182.8 405.1 184.3 405.2 185.8 405.3 187.2 405.4 188.7 405.5 190.2 405.5 191.7 405.6 193.2 405.7 194.7 405.7 196.2 405.8 197.6 405.8 199.1 405.9 200.6 405.9 202.1 405.9 203.6 406.0 205.1 406.0 206.6 406.0 208.0 406.0 209.5 406.1 211.0 406.1 212.5 406.1 214.0 406.1 215.5 406.1 216.9 406.1 218.4 406.1 219.9 406.2 219.9 406.2Z" fill="#6dbf8f" fill-opacity="0.6" stroke="#4c8564" stroke-width="0.5" stroke-opacity="0.55"/>
<path d="M28.3 406.2 28.3 406.2 29.8 406.2 31.3 406.2 32.7 406.2 34.2 406.2 35.7 406.2 37.2 406.2 38.7 406.2 40.2 406.2 41.7 406.2 43.1 406.2 44.6 406.2 46.1 406.2 47.6 406.2 49.1 406.2 50.6 406.2 52.1 406.2 53.5 406.2 55.0 406.2 56.5 406.2 58.0 406.2 59.5 406.2 61.0 406.2 62.5 406.2 63.9 406.2 65.4 406.2 66.9 406.2 68.4 406.1 69.9 406.1 71.4 406.0 72.9 406.0 74.3 405.9 75.8 405.7 77.3 405.5 78.8 405.3 80.3 405.0 81.8 404.5 83.3 403.9 84.7 403.2 86.2 402.3 87.7 401.2 89.2 399.9 90.7 398.3 92.2 396.5 93.7 394.4 95.1 392.0 96.6 389.4 98.1 386.6 99.6 383.7 101.1 380.6 102.6 377.5 104.0 374.4 105.5 371.5 107.0 368.9 108.5 366.6 110.0 364.7 111.5 363.3 113.0 362.4 114.4 362.2 115.9 362.4 117.4 363.1 118.9 364.1 120.4 365.5 121.9 367.3 123.4 369.3 124.8 371.6 126.3 374.1 127.8 376.6 129.3 379.2 130.8 381.9 132.3 384.5 133.8 386.9 135.2 389.3 136.7 391.5 138.2 393.6 139.7 395.5 141.2 397.2 142.7 398.6 144.2 399.9 145.6 401.1 147.1 402.0 148.6 402.9 150.1 403.5 151.6 404.1 153.1 404.6 154.6 404.9 156.0 405.2 157.5 405.5 159.0 405.7 160.5 405.8 162.0 405.9 163.5 406.0 165.0 406.0 166.4 406.1 167.9 406.1 169.4 406.1 170.9 406.2 172.4 406.2 173.9 406.2 175.4 406.2 176.8 406.2 178.3 406.2 179.8 406.2 181.3 406.2 182.8 406.2 184.3 406.2 185.8 406.2 187.2 406.2 188.7 406.2 190.2 406.2 191.7 406.2 193.2 406.2 194.7 406.2 196.2 406.2 197.6 406.2 199.1 406.2 200.6 406.2 202.1 406.2 203.6 406.2 205.1 406.2 206.6 406.2 208.0 406.2 209.5 406.2 211.0 406.2 212.5 406.2 214.0 406.2 215.5 406.2 216.9 406.2 218.4 406.2 219.9 406.2 219.9 406.2Z" fill="#2e8a80" fill-opacity="0.5" stroke="#206059" stroke-width="0.5" stroke-opacity="0.55"/>
<path d="M28.3 406.2 28.3 405.0 29.8 404.8 31.3 404.5 32.7 404.2 34.2 403.8 35.7 403.4 37.2 402.9 38.7 402.3 40.2 401.7 41.7 401.0 43.1 400.2 44.6 399.4 46.1 398.4 47.6 397.4 49.1 396.3 50.6 395.1 52.1 393.8 53.5 392.4 55.0 391.0 56.5 389.5 58.0 387.9 59.5 386.3 61.0 384.7 62.5 383.0 63.9 381.4 65.4 379.7 66.9 378.1 68.4 376.5 69.9 375.0 71.4 373.7 72.9 372.4 74.3 371.2 75.8 370.2 77.3 369.3 78.8 368.6 80.3 368.1 81.8 367.8 83.3 367.7 84.7 367.7 86.2 368.0 87.7 368.5 89.2 369.2 90.7 370.0 92.2 371.1 93.7 372.2 95.1 373.6 96.6 375.0 98.1 376.5 99.6 378.2 101.1 379.8 102.6 381.5 104.0 383.2 105.5 385.0 107.0 386.7 108.5 388.3 110.0 389.9 111.5 391.4 113.0 392.9 114.4 394.3 115.9 395.6 117.4 396.8 118.9 397.9 120.4 398.9 121.9 399.9 123.4 400.7 124.8 401.5 126.3 402.1 127.8 402.7 129.3 403.3 130.8 403.7 132.3 404.1 133.8 404.5 135.2 404.8 136.7 405.0 138.2 405.2 139.7 405.4 141.2 405.6 142.7 405.7 144.2 405.8 145.6 405.9 147.1 405.9 148.6 406.0 150.1 406.0 151.6 406.1 153.1 406.1 154.6 406.1 156.0 406.1 157.5 406.2 159.0 406.2 160.5 406.2 162.0 406.2 163.5 406.2 165.0 406.2 166.4 406.2 167.9 406.2 169.4 406.2 170.9 406.2 172.4 406.2 173.9 406.2 175.4 406.2 176.8 406.2 178.3 406.2 179.8 406.2 181.3 406.2 182.8 406.2 184.3 406.2 185.8 406.2 187.2 406.2 188.7 406.2 190.2 406.2 191.7 406.2 193.2 406.2 194.7 406.2 196.2 406.2 197.6 406.2 199.1 406.2 200.6 406.2 202.1 406.2 203.6 406.2 205.1 406.2 206.6 406.2 208.0 406.2 209.5 406.2 211.0 406.2 212.5 406.2 214.0 406.2 215.5 406.2 216.9 406.2 218.4 406.2 219.9 406.2 219.9 406.2Z" fill="#0e3f5d" fill-opacity="0.6" stroke="#0e3f5d" stroke-width="0.5" stroke-opacity="0.55"/>
<line x1="28.0" y1="406.2" x2="219.0" y2="406.2" stroke="#3a7f88" stroke-width="0.8" />
<text x="66.6" y="415.6" font-size="7" text-anchor="middle" fill="#333">−2</text>
<text x="113.2" y="415.6" font-size="7" text-anchor="middle" fill="#333">0</text>
<text x="159.4" y="415.6" font-size="7" text-anchor="middle" fill="#333">2</text>
<text x="205.7" y="415.6" font-size="7" text-anchor="middle" fill="#333">4</text>
<text x="24.0" y="355.8" font-size="7" text-anchor="end" fill="#333">0.6</text>
<text x="24.0" y="372.2" font-size="7" text-anchor="end" fill="#333">0.4</text>
<text x="24.0" y="389.0" font-size="7" text-anchor="end" fill="#333">0.2</text>
<text x="24.0" y="406.6" font-size="7" text-anchor="end" fill="#333">0</text>
<text x="134.9" y="357.5" font-size="7" textLength="56.1" lengthAdjust="spacingAndGlyphs" fill="#333">M1 late response</text>
<text x="147.2" y="366.3" font-size="7" textLength="32.0" lengthAdjust="spacingAndGlyphs" fill="#333">(factor 7)</text>
<path d="M120.2 351.6 C 112 338, 80 345, 70.5 369.5" fill="none" stroke="#2b2b2b" stroke-width="0.8" stroke-dasharray="2.1 1.4"/>
<path d="M70.2 371.5 69.3 368.1 72.2 368.6Z" fill="#333" />
<path d="M113.9 352.3 C 114 346, 118 346, 120.2 351.6" fill="none" stroke="#2b2b2b" stroke-width="0.8" stroke-dasharray="2.1 1.4"/>
<circle cx="102.3" cy="353.3" r="2.3" fill="#2b2b2b" />
<circle cx="113.9" cy="352.3" r="2.3" fill="#2b2b2b" />
<circle cx="120.2" cy="351.6" r="2.3" fill="#2b2b2b" />
<line x1="26.3" y1="417.0" x2="220.0" y2="417.0" stroke="#999" stroke-width="0.8" />
<text x="95.6" y="427.5" font-size="8.4" textLength="55.8" lengthAdjust="spacingAndGlyphs">Factor weight</text>
<line x1="10.6" y1="223.0" x2="10.6" y2="410.0" stroke="#999" stroke-width="0.8" />
<text x="6.9" y="331.0" font-size="8.4" textLength="29.0" lengthAdjust="spacingAndGlyphs" transform="rotate(-90 6.9 331.0)">Density</text>
<rect x="211.80" y="303.80" width="6.10" height="6.10" fill="#7dd8f0" />
<text x="223.2" y="308.9" font-size="7.2" fill="#333">0 h</text>
<rect x="211.80" y="313.40" width="6.10" height="6.10" fill="#e0f5c0" />
<text x="223.2" y="318.5" font-size="7.2" fill="#333">1 h</text>
<rect x="211.80" y="323.00" width="6.10" height="6.10" fill="#acd8bc" />
<text x="223.2" y="328.1" font-size="7.2" fill="#333">6 h</text>
<rect x="211.80" y="332.60" width="6.10" height="6.10" fill="#84b4b0" />
<text x="223.2" y="337.7" font-size="7.2" fill="#333">10 h</text>
<rect x="211.80" y="342.20" width="6.10" height="6.10" fill="#6a8ea4" />
<text x="223.2" y="347.3" font-size="7.2" fill="#333">24 h</text>
<path d="M30.8 540.9 30.8 540.9 32.7 540.9 34.6 540.9 36.4 540.9 38.3 540.9 40.1 540.9 42.0 540.9 43.9 540.9 45.7 540.9 47.6 540.9 49.4 540.9 51.3 540.9 53.2 540.9 55.0 540.9 56.9 540.9 58.7 540.9 60.6 540.9 62.4 540.9 64.3 540.9 66.2 540.9 68.0 540.9 69.9 540.9 71.7 540.8 73.6 540.8 75.5 540.7 77.3 540.7 79.2 540.6 81.0 540.4 82.9 540.2 84.8 539.9 86.6 539.6 88.5 539.1 90.3 538.5 92.2 537.8 94.1 536.8 95.9 535.7 97.8 534.3 99.6 532.7 101.5 530.9 103.4 528.8 105.2 526.5 107.1 524.0 108.9 521.3 110.8 518.5 112.7 515.7 114.5 512.9 116.4 510.3 118.2 507.9 120.1 505.8 122.0 504.0 123.8 502.8 125.7 502.1 127.5 501.9 129.4 502.0 131.2 502.4 133.1 502.9 135.0 503.7 136.8 504.6 138.7 505.7 140.5 507.0 142.4 508.4 144.3 510.0 146.1 511.6 148.0 513.3 149.8 515.0 151.7 516.7 153.6 518.5 155.4 520.3 157.3 522.0 159.1 523.6 161.0 525.2 162.9 526.8 164.7 528.2 166.6 529.6 168.4 530.9 170.3 532.1 172.2 533.2 174.0 534.2 175.9 535.0 177.7 535.9 179.6 536.6 181.5 537.2 183.3 537.8 185.2 538.3 187.0 538.7 188.9 539.0 190.7 539.4 192.6 539.6 194.5 539.9 196.3 540.1 198.2 540.2 200.0 540.3 201.9 540.5 203.8 540.5 205.6 540.6 207.5 540.7 209.3 540.7 211.2 540.8 213.1 540.8 214.9 540.8 214.9 540.9Z" fill="#3c3a7c" fill-opacity="0.45" stroke="#2a2856" stroke-width="0.5" stroke-opacity="0.55"/>
<path d="M30.8 540.9 30.8 540.9 32.7 540.9 34.6 540.9 36.4 540.9 38.3 540.9 40.1 540.9 42.0 540.9 43.9 540.9 45.7 540.9 47.6 540.9 49.4 540.9 51.3 540.9 53.2 540.9 55.0 540.9 56.9 540.9 58.7 540.9 60.6 540.9 62.4 540.9 64.3 540.9 66.2 540.9 68.0 540.8 69.9 540.8 71.7 540.8 73.6 540.7 75.5 540.6 77.3 540.4 79.2 540.2 81.0 540.0 82.9 539.6 84.8 539.1 86.6 538.5 88.5 537.8 90.3 536.8 92.2 535.6 94.1 534.2 95.9 532.5 97.8 530.5 99.6 528.2 101.5 525.7 103.4 522.9 105.2 519.9 107.1 516.8 108.9 513.5 110.8 510.3 112.7 507.2 114.5 504.3 116.4 501.7 118.2 499.5 120.1 497.8 122.0 496.6 123.8 496.1 125.7 496.2 127.5 496.8 129.4 497.9 131.2 499.5 133.1 501.4 135.0 503.8 136.8 506.4 138.7 509.1 140.5 512.0 142.4 515.0 144.3 517.9 146.1 520.7 148.0 523.4 149.8 525.9 151.7 528.2 153.6 530.3 155.4 532.1 157.3 533.7 159.1 535.1 161.0 536.3 162.9 537.2 164.7 538.0 166.6 538.7 168.4 539.2 170.3 539.6 172.2 540.0 174.0 540.2 175.9 540.4 177.7 540.5 179.6 540.6 181.5 540.7 183.3 540.8 185.2 540.8 187.0 540.8 188.9 540.9 190.7 540.9 192.6 540.9 194.5 540.9 196.3 540.9 198.2 540.9 200.0 540.9 201.9 540.9 203.8 540.9 205.6 540.9 207.5 540.9 209.3 540.9 211.2 540.9 213.1 540.9 214.9 540.9 214.9 540.9Z" fill="#9b5a9b" fill-opacity="0.45" stroke="#6c3e6c" stroke-width="0.5" stroke-opacity="0.55"/>
<path d="M30.8 540.9 30.8 540.9 32.7 540.9 34.6 540.9 36.4 540.9 38.3 540.9 40.1 540.9 42.0 540.9 43.9 540.9 45.7 540.9 47.6 540.9 49.4 540.9 51.3 540.9 53.2 540.9 55.0 540.9 56.9 540.9 58.7 540.9 60.6 540.8 62.4 540.8 64.3 540.8 66.2 540.7 68.0 540.6 69.9 540.5 71.7 540.3 73.6 540.1 75.5 539.8 77.3 539.3 79.2 538.8 81.0 538.1 82.9 537.1 84.8 536.0 86.6 534.6 88.5 533.0 90.3 531.0 92.2 528.8 94.1 526.2 95.9 523.4 97.8 520.3 99.6 517.0 101.5 513.5 103.4 510.0 105.2 506.5 107.1 503.2 108.9 500.2 110.8 497.5 112.7 495.3 114.5 493.7 116.4 492.6 118.2 492.3 120.1 492.7 122.0 493.7 123.8 495.4 125.7 497.6 127.5 500.3 129.4 503.3 131.2 506.7 133.1 510.1 135.0 513.6 136.8 517.1 138.7 520.4 140.5 523.5 142.4 526.3 144.3 528.9 146.1 531.1 148.0 533.0 149.8 534.7 151.7 536.1 153.6 537.2 155.4 538.1 157.3 538.8 159.1 539.3 161.0 539.8 162.9 540.1 164.7 540.3 166.6 540.5 168.4 540.6 170.3 540.7 172.2 540.8 174.0 540.8 175.9 540.8 177.7 540.9 179.6 540.9 181.5 540.9 183.3 540.9 185.2 540.9 187.0 540.9 188.9 540.9 190.7 540.9 192.6 540.9 194.5 540.9 196.3 540.9 198.2 540.9 200.0 540.9 201.9 540.9 203.8 540.9 205.6 540.9 207.5 540.9 209.3 540.9 211.2 540.9 213.1 540.9 214.9 540.9 214.9 540.9Z" fill="#f8987a" fill-opacity="0.45" stroke="#ad6a55" stroke-width="0.5" stroke-opacity="0.55"/>
<path d="M30.8 540.9 30.8 540.4 32.7 540.2 34.6 539.9 36.4 539.7 38.3 539.3 40.1 538.9 42.0 538.3 43.9 537.6 45.7 536.9 47.6 535.9 49.4 534.8 51.3 533.6 53.2 532.1 55.0 530.5 56.9 528.6 58.7 526.6 60.6 524.4 62.4 522.0 64.3 519.5 66.2 516.9 68.0 514.1 69.9 511.4 71.7 508.7 73.6 506.0 75.5 503.5 77.3 501.2 79.2 499.1 81.0 497.3 82.9 495.9 84.8 494.8 86.6 494.1 88.5 493.9 90.3 494.1 92.2 494.6 94.1 495.5 95.9 496.6 97.8 498.1 99.6 499.9 101.5 501.9 103.4 504.1 105.2 506.4 107.1 508.8 108.9 511.3 110.8 513.8 112.7 516.2 114.5 518.7 116.4 521.0 118.2 523.2 120.1 525.3 122.0 527.3 123.8 529.1 125.7 530.7 127.5 532.2 129.4 533.5 131.2 534.7 133.1 535.7 135.0 536.6 136.8 537.4 138.7 538.0 140.5 538.6 142.4 539.0 144.3 539.4 146.1 539.7 148.0 540.0 149.8 540.2 151.7 540.3 153.6 540.5 155.4 540.6 157.3 540.7 159.1 540.7 161.0 540.8 162.9 540.8 164.7 540.8 166.6 540.8 168.4 540.9 170.3 540.9 172.2 540.9 174.0 540.9 175.9 540.9 177.7 540.9 179.6 540.9 181.5 540.9 183.3 540.9 185.2 540.9 187.0 540.9 188.9 540.9 190.7 540.9 192.6 540.9 194.5 540.9 196.3 540.9 198.2 540.9 200.0 540.9 201.9 540.9 203.8 540.9 205.6 540.9 207.5 540.9 209.3 540.9 211.2 540.9 213.1 540.9 214.9 540.9 214.9 540.9Z" fill="#fcd27a" fill-opacity="0.75" stroke="#b09355" stroke-width="0.5" stroke-opacity="0.55"/>
<path d="M30.8 540.9 30.8 540.9 32.7 540.9 34.6 540.9 36.4 540.9 38.3 540.9 40.1 540.9 42.0 540.9 43.9 540.9 45.7 540.9 47.6 540.9 49.4 540.9 51.3 540.9 53.2 540.9 55.0 540.8 56.9 540.8 58.7 540.8 60.6 540.8 62.4 540.7 64.3 540.7 66.2 540.6 68.0 540.5 69.9 540.4 71.7 540.3 73.6 540.2 75.5 540.0 77.3 539.8 79.2 539.5 81.0 539.2 82.9 538.8 84.8 538.3 86.6 537.8 88.5 537.2 90.3 536.4 92.2 535.6 94.1 534.7 95.9 533.6 97.8 532.5 99.6 531.2 101.5 529.7 103.4 528.2 105.2 526.5 107.1 524.6 108.9 522.7 110.8 520.6 112.7 518.5 114.5 516.3 116.4 514.0 118.2 511.6 120.1 509.3 122.0 506.9 123.8 504.6 125.7 502.4 127.5 500.2 129.4 498.2 131.2 496.3 133.1 494.6 135.0 493.1 136.8 491.9 138.7 490.8 140.5 490.1 142.4 489.9 144.3 490.8 146.1 492.8 148.0 495.6 149.8 499.2 151.7 503.2 153.6 507.4 155.4 511.6 157.3 515.7 159.1 519.4 161.0 522.7 162.9 525.6 164.7 528.0 166.6 529.9 168.4 531.5 170.3 532.8 172.2 533.8 174.0 534.6 175.9 535.3 177.7 535.9 179.6 536.4 181.5 536.8 183.3 537.2 185.2 537.6 187.0 537.9 188.9 538.3 190.7 538.5 192.6 538.8 194.5 539.1 196.3 539.3 198.2 539.5 200.0 539.7 201.9 539.9 203.8 540.0 205.6 540.2 207.5 540.3 209.3 540.4 211.2 540.5 213.1 540.5 214.9 540.6 214.9 540.9Z" fill="#38c4ee" fill-opacity="0.78" stroke="#2789a6" stroke-width="0.5" stroke-opacity="0.55"/>
<line x1="29.0" y1="540.9" x2="215.0" y2="540.9" stroke="#7a7aa0" stroke-width="0.8" />
<text x="56.2" y="549.5" font-size="7" text-anchor="middle" fill="#333">−2</text>
<text x="87.3" y="549.5" font-size="7" text-anchor="middle" fill="#333">−1</text>
<text x="118.2" y="549.5" font-size="7" text-anchor="middle" fill="#333">0</text>
<text x="149.3" y="549.5" font-size="7" text-anchor="middle" fill="#333">1</text>
<text x="181.4" y="549.5" font-size="7" text-anchor="middle" fill="#333">2</text>
<text x="212.6" y="549.5" font-size="7" text-anchor="middle" fill="#333">3</text>
<text x="24.0" y="497.5" font-size="7" text-anchor="end" fill="#333">0.6</text>
<text x="24.0" y="511.7" font-size="7" text-anchor="end" fill="#333">0.4</text>
<text x="24.0" y="527.0" font-size="7" text-anchor="end" fill="#333">0.2</text>
<text x="24.0" y="540.9" font-size="7" text-anchor="end" fill="#333">0</text>
<text x="148.4" y="488.5" font-size="6.8" textLength="56.2" lengthAdjust="spacingAndGlyphs" fill="#333">M2 early response</text>
<text x="160.6" y="496.6" font-size="6.8" textLength="30.0" lengthAdjust="spacingAndGlyphs" fill="#333">(factor 7)</text>
<path d="M137.7 486.5 C 130 476, 95 476, 86.9 493.5" fill="none" stroke="#2b2b2b" stroke-width="0.8" stroke-dasharray="2.1 1.4"/>
<path d="M108.6 492.8 C 114 484, 132 484, 137.5 498" fill="none" stroke="#2b2b2b" stroke-width="0.8" stroke-dasharray="2.1 1.4"/>
<path d="M137.8 499.5 135.8 496.6 138.7 496.1Z" fill="#333" />
<circle cx="86.9" cy="493.5" r="2.3" fill="#2b2b2b" />
<circle cx="108.6" cy="492.8" r="2.3" fill="#2b2b2b" />
<circle cx="137.7" cy="486.5" r="2.3" fill="#2b2b2b" />
<path d="M26.9 609.1 26.9 609.1 28.8 609.1 30.7 609.1 32.5 609.1 34.4 609.1 36.3 609.1 38.2 609.1 40.1 609.1 42.0 609.0 43.9 609.0 45.8 608.9 47.6 608.9 49.5 608.7 51.4 608.5 53.3 608.3 55.2 608.0 57.1 607.5 59.0 606.9 60.9 606.1 62.7 605.0 64.6 603.7 66.5 602.1 68.4 600.2 70.3 597.9 72.2 595.2 74.1 592.2 76.0 588.8 77.9 585.1 79.7 581.3 81.6 577.3 83.5 573.3 85.4 569.4 87.3 565.9 89.2 562.7 91.1 560.1 93.0 558.2 94.8 557.1 96.7 556.7 98.6 558.1 100.5 561.6 102.4 566.7 104.3 573.0 106.2 579.6 108.1 586.1 109.9 591.9 111.8 596.8 113.7 600.7 115.6 603.6 117.5 605.7 119.4 607.0 121.3 607.9 123.2 608.5 125.0 608.8 126.9 608.9 128.8 609.0 130.7 609.1 132.6 609.1 134.5 609.1 136.4 609.1 138.3 609.1 140.1 609.1 142.0 609.1 143.9 609.1 145.8 609.1 147.7 609.1 149.6 609.1 151.5 609.1 153.4 609.1 155.2 609.1 157.1 609.1 159.0 609.1 160.9 609.1 162.8 609.1 164.7 609.1 166.6 609.1 168.5 609.1 170.3 609.1 172.2 609.1 174.1 609.1 176.0 609.1 177.9 609.1 179.8 609.1 181.7 609.1 183.6 609.1 185.4 609.1 187.3 609.1 189.2 609.1 191.1 609.1 193.0 609.1 194.9 609.1 196.8 609.1 198.7 609.1 200.5 609.1 202.4 609.1 204.3 609.1 206.2 609.1 208.1 609.1 210.0 609.1 211.9 609.1 213.8 609.1 213.8 609.1Z" fill="#38c4ee" fill-opacity="0.7" stroke="#2789a6" stroke-width="0.5" stroke-opacity="0.55"/>
<path d="M26.9 609.1 26.9 609.1 28.8 609.1 30.7 609.1 32.5 609.0 34.4 609.0 36.3 609.0 38.2 608.9 40.1 608.8 42.0 608.7 43.9 608.6 45.8 608.4 47.6 608.2 49.5 607.9 51.4 607.5 53.3 607.0 55.2 606.3 57.1 605.6 59.0 604.6 60.9 603.5 62.7 602.2 64.6 600.7 66.5 598.9 68.4 596.9 70.3 594.7 72.2 592.2 74.1 589.5 76.0 586.7 77.9 583.8 79.7 580.7 81.6 577.7 83.5 574.7 85.4 571.8 87.3 569.2 89.2 566.8 91.1 564.8 93.0 563.2 94.8 562.1 96.7 561.5 98.6 561.4 100.5 562.2 102.4 564.1 104.3 566.9 106.2 570.3 108.1 574.3 109.9 578.6 111.8 582.9 113.7 587.2 115.6 591.1 117.5 594.7 119.4 597.8 121.3 600.5 123.2 602.6 125.0 604.4 126.9 605.7 128.8 606.7 130.7 607.5 132.6 608.0 134.5 608.4 136.4 608.6 138.3 608.8 140.1 608.9 142.0 609.0 143.9 609.0 145.8 609.1 147.7 609.1 149.6 609.1 151.5 609.1 153.4 609.1 155.2 609.1 157.1 609.1 159.0 609.1 160.9 609.1 162.8 609.1 164.7 609.1 166.6 609.1 168.5 609.1 170.3 609.1 172.2 609.1 174.1 609.1 176.0 609.1 177.9 609.1 179.8 609.1 181.7 609.1 183.6 609.1 185.4 609.1 187.3 609.1 189.2 609.1 191.1 609.1 193.0 609.1 194.9 609.1 196.8 609.1 198.7 609.1 200.5 609.1 202.4 609.1 204.3 609.1 206.2 609.1 208.1 609.1 210.0 609.1 211.9 609.1 213.8 609.1 213.8 609.1Z" fill="#fcd27a" fill-opacity="0.55" stroke="#b09355" stroke-width="0.5" stroke-opacity="0.55"/>
<path d="M26.9 609.1 26.9 609.1 28.8 609.1 30.7 609.1 32.5 609.1 34.4 609.1 36.3 609.1 38.2 609.1 40.1 609.1 42.0 609.1 43.9 609.1 45.8 609.1 47.6 609.1 49.5 609.1 51.4 609.1 53.3 609.0 55.2 609.0 57.1 608.9 59.0 608.9 60.9 608.7 62.7 608.6 64.6 608.4 66.5 608.1 68.4 607.7 70.3 607.3 72.2 606.6 74.1 605.9 76.0 604.9 77.9 603.7 79.7 602.2 81.6 600.5 83.5 598.5 85.4 596.2 87.3 593.6 89.2 590.7 91.1 587.6 93.0 584.2 94.8 580.7 96.7 577.2 98.6 573.6 100.5 570.2 102.4 567.0 104.3 564.2 106.2 561.8 108.1 559.9 109.9 558.6 111.8 558.0 113.7 558.1 115.6 559.3 117.5 561.5 119.4 564.7 121.3 568.5 123.2 572.9 125.0 577.5 126.9 582.2 128.8 586.6 130.7 590.8 132.6 594.5 134.5 597.7 136.4 600.4 138.3 602.6 140.1 604.4 142.0 605.8 143.9 606.8 145.8 607.5 147.7 608.0 149.6 608.4 151.5 608.7 153.4 608.8 155.2 608.9 157.1 609.0 159.0 609.0 160.9 609.1 162.8 609.1 164.7 609.1 166.6 609.1 168.5 609.1 170.3 609.1 172.2 609.1 174.1 609.1 176.0 609.1 177.9 609.1 179.8 609.1 181.7 609.1 183.6 609.1 185.4 609.1 187.3 609.1 189.2 609.1 191.1 609.1 193.0 609.1 194.9 609.1 196.8 609.1 198.7 609.1 200.5 609.1 202.4 609.1 204.3 609.1 206.2 609.1 208.1 609.1 210.0 609.1 211.9 609.1 213.8 609.1 213.8 609.1Z" fill="#f8987a" fill-opacity="0.6" stroke="#ad6a55" stroke-width="0.5" stroke-opacity="0.55"/>
<path d="M26.9 609.1 26.9 609.1 28.8 609.1 30.7 609.1 32.5 609.1 34.4 609.1 36.3 609.1 38.2 609.1 40.1 609.1 42.0 609.1 43.9 609.1 45.8 609.1 47.6 609.1 49.5 609.1 51.4 609.1 53.3 609.0 55.2 609.0 57.1 609.0 59.0 608.9 60.9 608.8 62.7 608.7 64.6 608.6 66.5 608.4 68.4 608.1 70.3 607.8 72.2 607.4 74.1 606.9 76.0 606.3 77.9 605.5 79.7 604.6 81.6 603.5 83.5 602.2 85.4 600.7 87.3 598.9 89.2 597.0 91.1 594.8 93.0 592.5 94.8 589.9 96.7 587.3 98.6 584.5 100.5 581.7 102.4 578.8 104.3 576.1 106.2 573.5 108.1 571.2 109.9 569.1 111.8 567.4 113.7 566.0 115.6 565.2 117.5 564.8 119.4 564.9 121.3 565.4 123.2 566.5 125.0 568.0 126.9 569.8 128.8 572.0 130.7 574.5 132.6 577.1 134.5 579.9 136.4 582.7 138.3 585.5 140.1 588.3 142.0 590.9 143.9 593.4 145.8 595.7 147.7 597.7 149.6 599.6 151.5 601.3 153.4 602.7 155.2 603.9 157.1 605.0 159.0 605.8 160.9 606.5 162.8 607.1 164.7 607.6 166.6 608.0 168.5 608.2 170.3 608.5 172.2 608.6 174.1 608.8 176.0 608.9 177.9 608.9 179.8 609.0 181.7 609.0 183.6 609.0 185.4 609.1 187.3 609.1 189.2 609.1 191.1 609.1 193.0 609.1 194.9 609.1 196.8 609.1 198.7 609.1 200.5 609.1 202.4 609.1 204.3 609.1 206.2 609.1 208.1 609.1 210.0 609.1 211.9 609.1 213.8 609.1 213.8 609.1Z" fill="#9b5a9b" fill-opacity="0.5" stroke="#6c3e6c" stroke-width="0.5" stroke-opacity="0.55"/>
<path d="M26.9 609.1 26.9 609.0 28.8 609.0 30.7 608.9 32.5 608.9 34.4 608.9 36.3 608.8 38.2 608.7 40.1 608.7 42.0 608.6 43.9 608.5 45.8 608.4 47.6 608.2 49.5 608.1 51.4 607.9 53.3 607.7 55.2 607.5 57.1 607.2 59.0 606.9 60.9 606.6 62.7 606.2 64.6 605.8 66.5 605.4 68.4 604.9 70.3 604.3 72.2 603.7 74.1 603.1 76.0 602.4 77.9 601.6 79.7 600.8 81.6 599.9 83.5 599.0 85.4 598.1 87.3 597.1 89.2 596.0 91.1 594.9 93.0 593.8 94.8 592.6 96.7 591.4 98.6 590.1 100.5 588.8 102.4 587.4 104.3 586.1 106.2 584.6 108.1 583.1 109.9 581.6 111.8 580.0 113.7 578.4 115.6 576.7 117.5 574.9 119.4 573.2 121.3 571.4 123.2 569.6 125.0 567.9 126.9 566.2 128.8 565.0 130.7 564.8 132.6 565.4 134.5 566.7 136.4 568.6 138.3 570.9 140.1 573.3 142.0 575.7 143.9 578.2 145.8 580.5 147.7 582.7 149.6 584.7 151.5 586.7 153.4 588.6 155.2 590.5 157.1 592.3 159.0 594.1 160.9 595.8 162.8 597.4 164.7 599.0 166.6 600.5 168.5 601.8 170.3 603.0 172.2 604.1 174.1 605.0 176.0 605.8 177.9 606.5 179.8 607.1 181.7 607.5 183.6 607.9 185.4 608.2 187.3 608.4 189.2 608.6 191.1 608.8 193.0 608.9 194.9 608.9 196.8 609.0 198.7 609.0 200.5 609.0 202.4 609.1 204.3 609.1 206.2 609.1 208.1 609.1 210.0 609.1 211.9 609.1 213.8 609.1 213.8 609.1Z" fill="#3c3a7c" fill-opacity="0.68" stroke="#2a2856" stroke-width="0.5" stroke-opacity="0.55"/>
<line x1="28.0" y1="609.1" x2="213.7" y2="609.1" stroke="#7a7aa0" stroke-width="0.8" />
<text x="51.9" y="618.6" font-size="7" text-anchor="middle" fill="#333">−2</text>
<text x="81.3" y="618.6" font-size="7" text-anchor="middle" fill="#333">−1</text>
<text x="112.1" y="618.6" font-size="7" text-anchor="middle" fill="#333">0</text>
<text x="141.9" y="618.6" font-size="7" text-anchor="middle" fill="#333">1</text>
<text x="171.7" y="618.6" font-size="7" text-anchor="middle" fill="#333">2</text>
<text x="201.5" y="618.6" font-size="7" text-anchor="middle" fill="#333">3</text>
<text x="24.0" y="559.7" font-size="7" text-anchor="end" fill="#333">0.6</text>
<text x="24.0" y="575.8" font-size="7" text-anchor="end" fill="#333">0.4</text>
<text x="24.0" y="592.3" font-size="7" text-anchor="end" fill="#333">0.2</text>
<text x="24.0" y="610.9" font-size="7" text-anchor="end" fill="#333">0</text>
<text x="141.9" y="556.6" font-size="6.8" textLength="73.6" lengthAdjust="spacingAndGlyphs" fill="#333">M2 sustained response I</text>
<text x="164.0" y="565.3" font-size="6.8" textLength="30.0" lengthAdjust="spacingAndGlyphs" fill="#333">(factor 5)</text>
<path d="M98.5 552.5 C 104 547, 112 548, 113 555" fill="none" stroke="#2b2b2b" stroke-width="0.8" stroke-dasharray="2.1 1.4"/>
<path d="M113.3 554 C 125 542, 140 550, 141.5 565" fill="none" stroke="#2b2b2b" stroke-width="0.8" stroke-dasharray="2.1 1.4"/>
<path d="M141.6 567.0 140.0 563.9 143.0 563.7Z" fill="#333" />
<circle cx="98.5" cy="552.6" r="2.3" fill="#2b2b2b" />
<circle cx="113.3" cy="554.0" r="2.3" fill="#2b2b2b" />
<path d="M214.8 681.1 214.8 681.1 212.9 681.1 211.0 681.1 209.1 681.1 207.2 681.1 205.3 681.1 203.5 681.1 201.6 681.1 199.7 681.1 197.8 681.1 195.9 681.1 194.0 681.1 192.1 681.1 190.2 681.1 188.3 681.1 186.4 681.1 184.5 681.1 182.6 681.1 180.7 681.1 178.8 681.1 177.0 681.1 175.1 681.1 173.2 681.1 171.3 681.1 169.4 681.1 167.5 681.1 165.6 681.1 163.7 681.1 161.8 681.1 159.9 681.1 158.0 681.1 156.1 681.1 154.2 681.1 152.4 681.1 150.5 681.0 148.6 680.9 146.7 680.6 144.8 680.0 142.9 678.9 141.0 677.0 139.1 674.1 137.2 669.8 135.3 663.9 133.4 656.7 131.5 648.7 129.6 640.7 127.7 634.0 125.9 629.6 124.0 628.3 122.1 628.6 120.2 629.4 118.3 630.6 116.4 632.2 114.5 634.1 112.6 636.4 110.7 639.0 108.8 641.7 106.9 644.6 105.0 647.6 103.1 650.6 101.3 653.6 99.4 656.5 97.5 659.3 95.6 661.9 93.7 664.4 91.8 666.7 89.9 668.8 88.0 670.7 86.1 672.3 84.2 673.8 82.3 675.1 80.4 676.2 78.5 677.1 76.6 677.9 74.8 678.5 72.9 679.1 71.0 679.5 69.1 679.9 67.2 680.1 65.3 680.4 63.4 680.6 61.5 680.7 59.6 680.8 57.7 680.9 55.8 680.9 53.9 681.0 52.0 681.0 50.2 681.0 48.3 681.1 46.4 681.1 44.5 681.1 42.6 681.1 40.7 681.1 38.8 681.1 36.9 681.1 35.0 681.1 33.1 681.1 31.2 681.1 29.3 681.1 27.4 681.1 27.4 681.1Z" fill="#38c4ee" fill-opacity="0.7" stroke="#2789a6" stroke-width="0.5" stroke-opacity="0.55"/>
<path d="M214.8 681.1 214.8 681.1 212.9 681.1 211.0 681.1 209.1 681.1 207.2 681.1 205.3 681.1 203.5 681.1 201.6 681.1 199.7 681.1 197.8 681.1 195.9 681.1 194.0 681.1 192.1 681.1 190.2 681.1 188.3 681.0 186.4 681.0 184.5 680.9 182.6 680.8 180.7 680.7 178.8 680.5 177.0 680.3 175.1 680.0 173.2 679.6 171.3 679.0 169.4 678.3 167.5 677.3 165.6 676.2 163.7 674.7 161.8 673.0 159.9 671.0 158.0 668.6 156.1 665.9 154.2 662.9 152.4 659.6 150.5 656.1 148.6 652.4 146.7 648.6 144.8 644.9 142.9 641.4 141.0 638.1 139.1 635.2 137.2 632.8 135.3 631.1 133.4 630.0 131.5 629.7 129.6 629.9 127.7 630.6 125.9 631.8 124.0 633.3 122.1 635.2 120.2 637.4 118.3 639.8 116.4 642.5 114.5 645.3 112.6 648.2 110.7 651.1 108.8 654.0 106.9 656.9 105.0 659.6 103.1 662.2 101.3 664.6 99.4 666.9 97.5 668.9 95.6 670.8 93.7 672.4 91.8 673.9 89.9 675.1 88.0 676.2 86.1 677.1 84.2 677.9 82.3 678.5 80.4 679.1 78.5 679.5 76.6 679.9 74.8 680.2 72.9 680.4 71.0 680.6 69.1 680.7 67.2 680.8 65.3 680.9 63.4 680.9 61.5 681.0 59.6 681.0 57.7 681.0 55.8 681.1 53.9 681.1 52.0 681.1 50.2 681.1 48.3 681.1 46.4 681.1 44.5 681.1 42.6 681.1 40.7 681.1 38.8 681.1 36.9 681.1 35.0 681.1 33.1 681.1 31.2 681.1 29.3 681.1 27.4 681.1 27.4 681.1Z" fill="#fcd27a" fill-opacity="0.6" stroke="#b09355" stroke-width="0.5" stroke-opacity="0.55"/>
<path d="M214.8 681.1 214.8 680.8 212.9 680.7 211.0 680.5 209.1 680.4 207.2 680.2 205.3 679.9 203.5 679.6 201.6 679.2 199.7 678.7 197.8 678.2 195.9 677.5 194.0 676.7 192.1 675.8 190.2 674.7 188.3 673.5 186.4 672.1 184.5 670.6 182.6 668.9 180.7 667.0 178.8 665.0 177.0 662.9 175.1 660.6 173.2 658.2 171.3 655.7 169.4 653.2 167.5 650.6 165.6 648.1 163.7 645.7 161.8 643.4 159.9 641.3 158.0 639.3 156.1 637.7 154.2 636.3 152.4 635.2 150.5 634.5 148.6 634.1 146.7 634.1 144.8 634.5 142.9 635.3 141.0 636.4 139.1 637.9 137.2 639.6 135.3 641.7 133.4 643.9 131.5 646.3 129.6 648.8 127.7 651.4 125.9 654.0 124.0 656.6 122.1 659.1 120.2 661.5 118.3 663.8 116.4 666.0 114.5 668.0 112.6 669.8 110.7 671.5 108.8 672.9 106.9 674.3 105.0 675.4 103.1 676.4 101.3 677.3 99.4 678.0 97.5 678.6 95.6 679.1 93.7 679.5 91.8 679.9 89.9 680.1 88.0 680.3 86.1 680.5 84.2 680.7 82.3 680.8 80.4 680.9 78.5 680.9 76.6 681.0 74.8 681.0 72.9 681.0 71.0 681.0 69.1 681.1 67.2 681.1 65.3 681.1 63.4 681.1 61.5 681.1 59.6 681.1 57.7 681.1 55.8 681.1 53.9 681.1 52.0 681.1 50.2 681.1 48.3 681.1 46.4 681.1 44.5 681.1 42.6 681.1 40.7 681.1 38.8 681.1 36.9 681.1 35.0 681.1 33.1 681.1 31.2 681.1 29.3 681.1 27.4 681.1 27.4 681.1Z" fill="#f8987a" fill-opacity="0.6" stroke="#ad6a55" stroke-width="0.5" stroke-opacity="0.55"/>
<path d="M214.8 681.1 214.8 680.8 212.9 680.7 211.0 680.6 209.1 680.4 207.2 680.2 205.3 680.0 203.5 679.7 201.6 679.3 199.7 678.9 197.8 678.4 195.9 677.7 194.0 677.0 192.1 676.2 190.2 675.2 188.3 674.0 186.4 672.8 184.5 671.4 182.6 669.8 180.7 668.0 178.8 666.2 177.0 664.2 175.1 662.0 173.2 659.8 171.3 657.5 169.4 655.2 167.5 652.8 165.6 650.5 163.7 648.3 161.8 646.1 159.9 644.1 158.0 642.3 156.1 640.8 154.2 639.5 152.4 638.5 150.5 637.8 148.6 637.5 146.7 637.5 144.8 637.8 142.9 638.5 141.0 639.6 139.1 641.0 137.2 642.6 135.3 644.5 133.4 646.6 131.5 648.8 129.6 651.1 127.7 653.5 125.9 655.9 124.0 658.3 122.1 660.7 120.2 662.9 118.3 665.1 116.4 667.1 114.5 668.9 112.6 670.6 110.7 672.2 108.8 673.5 106.9 674.7 105.0 675.8 103.1 676.7 101.3 677.5 99.4 678.2 97.5 678.8 95.6 679.2 93.7 679.6 91.8 679.9 89.9 680.2 88.0 680.4 86.1 680.6 84.2 680.7 82.3 680.8 80.4 680.9 78.5 680.9 76.6 681.0 74.8 681.0 72.9 681.0 71.0 681.1 69.1 681.1 67.2 681.1 65.3 681.1 63.4 681.1 61.5 681.1 59.6 681.1 57.7 681.1 55.8 681.1 53.9 681.1 52.0 681.1 50.2 681.1 48.3 681.1 46.4 681.1 44.5 681.1 42.6 681.1 40.7 681.1 38.8 681.1 36.9 681.1 35.0 681.1 33.1 681.1 31.2 681.1 29.3 681.1 27.4 681.1 27.4 681.1Z" fill="#9b5a9b" fill-opacity="0.5" stroke="#6c3e6c" stroke-width="0.5" stroke-opacity="0.55"/>
<path d="M214.8 681.1 214.8 680.9 212.9 680.8 211.0 680.6 209.1 680.5 207.2 680.2 205.3 679.9 203.5 679.4 201.6 678.9 199.7 678.2 197.8 677.3 195.9 676.3 194.0 675.0 192.1 673.6 190.2 671.9 188.3 670.0 186.4 668.0 184.5 665.7 182.6 663.4 180.7 661.0 178.8 658.6 177.0 656.2 175.1 654.0 173.2 652.1 171.3 650.5 169.4 649.2 167.5 648.4 165.6 648.0 163.7 648.0 161.8 648.0 159.9 648.0 158.0 648.0 156.1 648.0 154.2 648.0 152.4 648.0 150.5 648.0 148.6 648.0 146.7 648.0 144.8 648.0 142.9 648.0 141.0 648.0 139.1 648.1 137.2 648.2 135.3 648.5 133.4 648.9 131.5 649.3 129.6 649.8 127.7 650.4 125.9 651.1 124.0 651.9 122.1 652.7 120.2 653.5 118.3 654.4 116.4 655.4 114.5 656.4 112.6 657.4 110.7 658.5 108.8 659.5 106.9 660.6 105.0 661.7 103.1 662.7 101.3 663.8 99.4 664.8 97.5 665.8 95.6 666.8 93.7 667.8 91.8 668.8 89.9 669.7 88.0 670.5 86.1 671.4 84.2 672.2 82.3 672.9 80.4 673.6 78.5 674.3 76.6 674.9 74.8 675.5 72.9 676.0 71.0 676.5 69.1 677.0 67.2 677.4 65.3 677.8 63.4 678.2 61.5 678.5 59.6 678.8 57.7 679.1 55.8 679.3 53.9 679.5 52.0 679.7 50.2 679.9 48.3 680.1 46.4 680.2 44.5 680.3 42.6 680.4 40.7 680.5 38.8 680.6 36.9 680.7 35.0 680.7 33.1 680.8 31.2 680.8 29.3 680.9 27.4 680.9 27.4 681.1Z" fill="#3c3a7c" fill-opacity="0.68" stroke="#2a2856" stroke-width="0.5" stroke-opacity="0.55"/>
<line x1="28.0" y1="681.1" x2="214.4" y2="681.1" stroke="#7a7aa0" stroke-width="0.8" />
<text x="46.3" y="690.6" font-size="7" text-anchor="middle" fill="#333">2</text>
<text x="104.4" y="690.6" font-size="7" text-anchor="middle" fill="#333">0</text>
<text x="164.7" y="690.6" font-size="7" text-anchor="middle" fill="#333">−2</text>
<text x="24.0" y="636.3" font-size="7" text-anchor="end" fill="#333">0.5</text>
<text x="24.0" y="645.0" font-size="7" text-anchor="end" fill="#333">0.4</text>
<text x="24.0" y="654.5" font-size="7" text-anchor="end" fill="#333">0.3</text>
<text x="24.0" y="663.3" font-size="7" text-anchor="end" fill="#333">0.2</text>
<text x="24.0" y="672.4" font-size="7" text-anchor="end" fill="#333">0.1</text>
<text x="24.0" y="681.8" font-size="7" text-anchor="end" fill="#333">0</text>
<text x="162.2" y="631.7" font-size="6.8" textLength="76.1" lengthAdjust="spacingAndGlyphs" fill="#333">M2 sustained response II</text>
<text x="184.7" y="640.8" font-size="6.8" textLength="30.0" lengthAdjust="spacingAndGlyphs" fill="#333">(factor 3)</text>
<path d="M112.3 626.5 C 118 620, 130 620, 134.5 626" fill="none" stroke="#2b2b2b" stroke-width="0.8" stroke-dasharray="2.1 1.4"/>
<path d="M134.5 626 C 150 620, 164 624, 165.8 643" fill="none" stroke="#2b2b2b" stroke-width="0.8" stroke-dasharray="2.1 1.4"/>
<path d="M166.0 645.0 164.4 641.9 167.4 641.7Z" fill="#333" />
<circle cx="112.3" cy="626.5" r="2.3" fill="#2b2b2b" />
<circle cx="134.5" cy="626.0" r="2.3" fill="#2b2b2b" />
<line x1="25.2" y1="693.0" x2="220.7" y2="693.0" stroke="#999" stroke-width="0.8" />
<text x="95.3" y="703.6" font-size="8.4" textLength="55.4" lengthAdjust="spacingAndGlyphs">Factor weight</text>
<line x1="11.2" y1="487.0" x2="11.2" y2="682.0" stroke="#999" stroke-width="0.8" />
<text x="7.2" y="597.6" font-size="8.4" textLength="29.0" lengthAdjust="spacingAndGlyphs" transform="rotate(-90 7.2 597.6)">Density</text>
<rect x="217.30" y="563.20" width="6.50" height="5.70" fill="#80dcf0" />
<text x="228.8" y="568.0" font-size="7.2" fill="#333">0 h</text>
<rect x="217.30" y="572.75" width="6.50" height="5.70" fill="#fde4a8" />
<text x="228.8" y="577.5" font-size="7.2" fill="#333">1 h</text>
<rect x="217.30" y="582.30" width="6.50" height="5.70" fill="#ffc0b0" />
<text x="228.8" y="587.1" font-size="7.2" fill="#333">6 h</text>
<rect x="217.30" y="591.85" width="6.50" height="5.70" fill="#c4a0c4" />
<text x="228.8" y="596.6" font-size="7.2" fill="#333">10 h</text>
<rect x="217.30" y="601.40" width="6.50" height="5.70" fill="#8088b4" />
<text x="228.8" y="606.2" font-size="7.2" fill="#333">24 h</text>
<rect x="269.30" y="215.20" width="12.00" height="8.29" fill="#aa0808" />
<rect x="281.30" y="215.20" width="11.80" height="8.29" fill="#b21814" />
<rect x="293.10" y="215.20" width="11.80" height="8.29" fill="#fdf0eb" />
<rect x="269.30" y="223.49" width="12.00" height="8.29" fill="#aa0808" />
<rect x="281.30" y="223.49" width="11.80" height="8.29" fill="#f0aa98" />
<rect x="293.10" y="223.49" width="11.80" height="8.29" fill="#ffffff" />
<rect x="269.30" y="231.78" width="12.00" height="8.29" fill="#aa0808" />
<rect x="281.30" y="231.78" width="11.80" height="8.29" fill="#ec9b87" />
<rect x="293.10" y="231.78" width="11.80" height="8.29" fill="#fffcfc" />
<rect x="269.30" y="240.07" width="12.00" height="8.29" fill="#b21814" />
<rect x="281.30" y="240.07" width="11.80" height="8.29" fill="#f6bfb0" />
<rect x="293.10" y="240.07" width="11.80" height="8.29" fill="#ffffff" />
<rect x="269.30" y="248.37" width="12.00" height="8.29" fill="#d96751" />
<rect x="281.30" y="248.37" width="11.80" height="8.29" fill="#b21814" />
<rect x="293.10" y="248.37" width="11.80" height="8.29" fill="#fffcfc" />
<rect x="269.30" y="256.66" width="12.00" height="8.29" fill="#e07862" />
<rect x="281.30" y="256.66" width="11.80" height="8.29" fill="#fdece6" />
<rect x="293.10" y="256.66" width="11.80" height="8.29" fill="#fffcfc" />
<rect x="269.30" y="264.95" width="12.00" height="8.29" fill="#e07862" />
<rect x="281.30" y="264.95" width="11.80" height="8.29" fill="#bb2920" />
<rect x="293.10" y="264.95" width="11.80" height="8.29" fill="#fffcfc" />
<rect x="269.30" y="273.24" width="12.00" height="8.29" fill="#e07862" />
<rect x="281.30" y="273.24" width="11.80" height="8.29" fill="#fdf0eb" />
<rect x="293.10" y="273.24" width="11.80" height="8.29" fill="#fffefd" />
<rect x="269.30" y="281.53" width="12.00" height="8.29" fill="#e5856f" />
<rect x="281.30" y="281.53" width="11.80" height="8.29" fill="#ffffff" />
<rect x="293.10" y="281.53" width="11.80" height="8.29" fill="#fefaf8" />
<rect x="269.30" y="289.82" width="12.00" height="8.29" fill="#e5856f" />
<rect x="281.30" y="289.82" width="11.80" height="8.29" fill="#fdf0eb" />
<rect x="293.10" y="289.82" width="11.80" height="8.29" fill="#ffffff" />
<rect x="269.30" y="298.11" width="12.00" height="8.29" fill="#e3806a" />
<rect x="281.30" y="298.11" width="11.80" height="8.29" fill="#b21814" />
<rect x="293.10" y="298.11" width="11.80" height="8.29" fill="#f2b3a2" />
<rect x="269.30" y="306.40" width="12.00" height="8.29" fill="#fdece6" />
<rect x="281.30" y="306.40" width="11.80" height="8.29" fill="#e3806a" />
<rect x="293.10" y="306.40" width="11.80" height="8.29" fill="#e3806a" />
<rect x="269.30" y="314.70" width="12.00" height="8.29" fill="#ffffff" />
<rect x="281.30" y="314.70" width="11.80" height="8.29" fill="#e5856f" />
<rect x="293.10" y="314.70" width="11.80" height="8.29" fill="#ffffff" />
<rect x="269.30" y="322.99" width="12.00" height="8.29" fill="#ffffff" />
<rect x="281.30" y="322.99" width="11.80" height="8.29" fill="#f0aa98" />
<rect x="293.10" y="322.99" width="11.80" height="8.29" fill="#ffffff" />
<rect x="269.30" y="331.28" width="12.00" height="8.29" fill="#ffffff" />
<rect x="281.30" y="331.28" width="11.80" height="8.29" fill="#f4b9a9" />
<rect x="293.10" y="331.28" width="11.80" height="8.29" fill="#ffffff" />
<rect x="269.30" y="339.57" width="12.00" height="8.29" fill="#ffffff" />
<rect x="281.30" y="339.57" width="11.80" height="8.29" fill="#fdece6" />
<rect x="293.10" y="339.57" width="11.80" height="8.29" fill="#b21814" />
<rect x="269.30" y="347.86" width="12.00" height="8.29" fill="#ffffff" />
<rect x="281.30" y="347.86" width="11.80" height="8.29" fill="#fffbfa" />
<rect x="293.10" y="347.86" width="11.80" height="8.29" fill="#e17b65" />
<rect x="269.30" y="356.15" width="12.00" height="8.29" fill="#ffffff" />
<rect x="281.30" y="356.15" width="11.80" height="8.29" fill="#fef2ee" />
<rect x="293.10" y="356.15" width="11.80" height="8.29" fill="#e88c76" />
<rect x="269.30" y="364.44" width="12.00" height="8.29" fill="#fef5f2" />
<rect x="281.30" y="364.44" width="11.80" height="8.29" fill="#f4b9a9" />
<rect x="293.10" y="364.44" width="11.80" height="8.29" fill="#ec9b87" />
<rect x="269.30" y="372.73" width="12.00" height="8.29" fill="#ffffff" />
<rect x="281.30" y="372.73" width="11.80" height="8.29" fill="#ffffff" />
<rect x="293.10" y="372.73" width="11.80" height="8.29" fill="#f2b3a2" />
<rect x="269.30" y="381.03" width="12.00" height="8.29" fill="#ffffff" />
<rect x="281.30" y="381.03" width="11.80" height="8.29" fill="#fef7f5" />
<rect x="293.10" y="381.03" width="11.80" height="8.29" fill="#f6bfb0" />
<rect x="269.30" y="389.32" width="12.00" height="8.29" fill="#ffffff" />
<rect x="281.30" y="389.32" width="11.80" height="8.29" fill="#fffbfa" />
<rect x="293.10" y="389.32" width="11.80" height="8.29" fill="#f6bfb0" />
<rect x="269.30" y="397.61" width="12.00" height="8.29" fill="#ffffff" />
<rect x="281.30" y="397.61" width="11.80" height="8.29" fill="#ffffff" />
<rect x="293.10" y="397.61" width="11.80" height="8.29" fill="#f6bfb0" />
<path d="M269.3 215.20H304.9M269.3 223.49H304.9M269.3 231.78H304.9M269.3 240.07H304.9M269.3 248.37H304.9M269.3 256.66H304.9M269.3 264.95H304.9M269.3 273.24H304.9M269.3 281.53H304.9M269.3 289.82H304.9M269.3 298.11H304.9M269.3 306.40H304.9M269.3 314.70H304.9M269.3 322.99H304.9M269.3 331.28H304.9M269.3 339.57H304.9M269.3 347.86H304.9M269.3 356.15H304.9M269.3 364.44H304.9M269.3 372.73H304.9M269.3 381.03H304.9M269.3 389.32H304.9M269.3 397.61H304.9M269.3 405.90H304.9M269.3 215.2V405.9M281.3 215.2V405.9M293.1 215.2V405.9M304.9 215.2V405.9" fill="none" stroke="#2a2a2a" stroke-width="0.65"/>
<text x="308.6" y="221.4" font-size="7.6" textLength="50.2" lengthAdjust="spacingAndGlyphs">IFN-γ signaling</text>
<text x="308.6" y="229.7" font-size="7.6">IL-10 signaling</text>
<text x="308.6" y="238.0" font-size="7.6">IFN signaling</text>
<text x="308.6" y="246.3" font-size="7.6">IL-4 and -13 signaling</text>
<text x="308.6" y="254.6" font-size="7.6" textLength="126.9" lengthAdjust="spacingAndGlyphs">Cytokine signaling in immune system</text>
<text x="308.6" y="262.9" font-size="7.6">IFN-α/β signaling</text>
<text x="308.6" y="271.2" font-size="7.6">Immunoregulatory interactions</text>
<text x="308.6" y="279.5" font-size="7.6">Integrin cell surface interactions</text>
<text x="308.6" y="287.8" font-size="7.6">Extracellular matrix organization</text>
<text x="308.6" y="296.1" font-size="7.6">RIG-I/MDA5 induced IFN-α/β pathway</text>
<text x="308.6" y="304.4" font-size="7.6">Immune system</text>
<text x="308.6" y="312.6" font-size="7.6">Adaptive immune system</text>
<text x="308.6" y="320.9" font-size="7.6" textLength="135.7" lengthAdjust="spacingAndGlyphs">His, lys, phe, tyr, pro and trp catabolism</text>
<text x="308.6" y="329.2" font-size="7.6">IL-1 signaling</text>
<text x="308.6" y="337.5" font-size="7.6">Nicotinate metabolism</text>
<text x="308.6" y="345.8" font-size="7.6">Antigen processing-cross presentation</text>
<text x="308.6" y="354.1" font-size="7.6">MHC class II antigen presentation</text>
<text x="308.6" y="362.4" font-size="7.6">Neutrophil degranulation</text>
<text x="308.6" y="370.7" font-size="7.6">Innate immune system</text>
<text x="308.6" y="379.0" font-size="7.6">Collagen degradation</text>
<text x="308.6" y="387.3" font-size="7.6" textLength="148.4" lengthAdjust="spacingAndGlyphs">MHC-I antigen processing and presentation</text>
<text x="308.6" y="395.6" font-size="7.6">RHO GTPase effectors</text>
<text x="308.6" y="403.9" font-size="7.6">Assembly of collagen fibrils</text>
<text x="266.7" y="211.0" font-size="8.6" textLength="87.6" lengthAdjust="spacingAndGlyphs">GSEA: M1 polarization</text>
<rect x="269.00" y="478.50" width="11.70" height="7.80" fill="#aa0808" />
<rect x="280.70" y="478.50" width="11.80" height="7.80" fill="#ffffff" />
<rect x="292.50" y="478.50" width="11.70" height="7.80" fill="#ffffff" />
<rect x="269.00" y="486.30" width="11.70" height="7.80" fill="#aa0808" />
<rect x="280.70" y="486.30" width="11.80" height="7.80" fill="#ffffff" />
<rect x="292.50" y="486.30" width="11.70" height="7.80" fill="#ffffff" />
<rect x="269.00" y="494.10" width="11.70" height="7.80" fill="#e68771" />
<rect x="280.70" y="494.10" width="11.80" height="7.80" fill="#ffffff" />
<rect x="292.50" y="494.10" width="11.70" height="7.80" fill="#ffffff" />
<rect x="269.00" y="501.90" width="11.70" height="7.80" fill="#f0aa98" />
<rect x="280.70" y="501.90" width="11.80" height="7.80" fill="#fef7f5" />
<rect x="292.50" y="501.90" width="11.70" height="7.80" fill="#fefaf8" />
<rect x="269.00" y="509.70" width="11.70" height="7.80" fill="#f8cabc" />
<rect x="280.70" y="509.70" width="11.80" height="7.80" fill="#f9d1c5" />
<rect x="292.50" y="509.70" width="11.70" height="7.80" fill="#fefaf8" />
<rect x="269.00" y="517.50" width="11.70" height="7.80" fill="#f9d1c5" />
<rect x="280.70" y="517.50" width="11.80" height="7.80" fill="#fef2ee" />
<rect x="292.50" y="517.50" width="11.70" height="7.80" fill="#fdf0eb" />
<rect x="269.00" y="525.30" width="11.70" height="7.80" fill="#fdefe9" />
<rect x="280.70" y="525.30" width="11.80" height="7.80" fill="#ffffff" />
<rect x="292.50" y="525.30" width="11.70" height="7.80" fill="#fffbfa" />
<rect x="269.00" y="533.10" width="11.70" height="7.80" fill="#ffffff" />
<rect x="280.70" y="533.10" width="11.80" height="7.80" fill="#ea9580" />
<rect x="292.50" y="533.10" width="11.70" height="7.80" fill="#ffffff" />
<rect x="269.00" y="540.90" width="11.70" height="7.80" fill="#ffffff" />
<rect x="280.70" y="540.90" width="11.80" height="7.80" fill="#f0aa98" />
<rect x="292.50" y="540.90" width="11.70" height="7.80" fill="#c3392c" />
<rect x="269.00" y="548.70" width="11.70" height="7.80" fill="#ffffff" />
<rect x="280.70" y="548.70" width="11.80" height="7.80" fill="#f2b3a2" />
<rect x="292.50" y="548.70" width="11.70" height="7.80" fill="#fffbfa" />
<rect x="269.00" y="556.50" width="11.70" height="7.80" fill="#ffffff" />
<rect x="280.70" y="556.50" width="11.80" height="7.80" fill="#f8ccbe" />
<rect x="292.50" y="556.50" width="11.70" height="7.80" fill="#ffffff" />
<rect x="269.00" y="564.30" width="11.70" height="7.80" fill="#ffffff" />
<rect x="280.70" y="564.30" width="11.80" height="7.80" fill="#f9d1c5" />
<rect x="292.50" y="564.30" width="11.70" height="7.80" fill="#ffffff" />
<rect x="269.00" y="572.10" width="11.70" height="7.80" fill="#ffffff" />
<rect x="280.70" y="572.10" width="11.80" height="7.80" fill="#f9d1c5" />
<rect x="292.50" y="572.10" width="11.70" height="7.80" fill="#ffffff" />
<rect x="269.00" y="579.90" width="11.70" height="7.80" fill="#ffffff" />
<rect x="280.70" y="579.90" width="11.80" height="7.80" fill="#fad6cc" />
<rect x="292.50" y="579.90" width="11.70" height="7.80" fill="#ec9b87" />
<rect x="269.00" y="587.70" width="11.70" height="7.80" fill="#ffffff" />
<rect x="280.70" y="587.70" width="11.80" height="7.80" fill="#fce8e2" />
<rect x="292.50" y="587.70" width="11.70" height="7.80" fill="#ffffff" />
<rect x="269.00" y="595.50" width="11.70" height="7.80" fill="#ffffff" />
<rect x="280.70" y="595.50" width="11.80" height="7.80" fill="#fdece6" />
<rect x="292.50" y="595.50" width="11.70" height="7.80" fill="#ffffff" />
<rect x="269.00" y="603.30" width="11.70" height="7.80" fill="#ffffff" />
<rect x="280.70" y="603.30" width="11.80" height="7.80" fill="#fefaf8" />
<rect x="292.50" y="603.30" width="11.70" height="7.80" fill="#db6c56" />
<rect x="269.00" y="611.10" width="11.70" height="7.80" fill="#ffffff" />
<rect x="280.70" y="611.10" width="11.80" height="7.80" fill="#fefaf8" />
<rect x="292.50" y="611.10" width="11.70" height="7.80" fill="#e3806a" />
<rect x="269.00" y="618.90" width="11.70" height="7.80" fill="#ffffff" />
<rect x="280.70" y="618.90" width="11.80" height="7.80" fill="#fefaf8" />
<rect x="292.50" y="618.90" width="11.70" height="7.80" fill="#e3806a" />
<rect x="269.00" y="626.70" width="11.70" height="7.80" fill="#ffffff" />
<rect x="280.70" y="626.70" width="11.80" height="7.80" fill="#fefaf8" />
<rect x="292.50" y="626.70" width="11.70" height="7.80" fill="#e3806a" />
<rect x="269.00" y="634.50" width="11.70" height="7.80" fill="#ffffff" />
<rect x="280.70" y="634.50" width="11.80" height="7.80" fill="#fefaf8" />
<rect x="292.50" y="634.50" width="11.70" height="7.80" fill="#e17b65" />
<rect x="269.00" y="642.30" width="11.70" height="7.80" fill="#ffffff" />
<rect x="280.70" y="642.30" width="11.80" height="7.80" fill="#fefaf8" />
<rect x="292.50" y="642.30" width="11.70" height="7.80" fill="#e17b65" />
<rect x="269.00" y="650.10" width="11.70" height="7.80" fill="#ffffff" />
<rect x="280.70" y="650.10" width="11.80" height="7.80" fill="#fffefd" />
<rect x="292.50" y="650.10" width="11.70" height="7.80" fill="#f2b3a2" />
<rect x="269.00" y="657.90" width="11.70" height="7.80" fill="#ffffff" />
<rect x="280.70" y="657.90" width="11.80" height="7.80" fill="#ffffff" />
<rect x="292.50" y="657.90" width="11.70" height="7.80" fill="#fad6cc" />
<path d="M269.0 478.50H304.2M269.0 486.30H304.2M269.0 494.10H304.2M269.0 501.90H304.2M269.0 509.70H304.2M269.0 517.50H304.2M269.0 525.30H304.2M269.0 533.10H304.2M269.0 540.90H304.2M269.0 548.70H304.2M269.0 556.50H304.2M269.0 564.30H304.2M269.0 572.10H304.2M269.0 579.90H304.2M269.0 587.70H304.2M269.0 595.50H304.2M269.0 603.30H304.2M269.0 611.10H304.2M269.0 618.90H304.2M269.0 626.70H304.2M269.0 634.50H304.2M269.0 642.30H304.2M269.0 650.10H304.2M269.0 657.90H304.2M269.0 665.70H304.2M269.0 478.5V665.7M280.7 478.5V665.7M292.5 478.5V665.7M304.2 478.5V665.7" fill="none" stroke="#2a2a2a" stroke-width="0.65"/>
<text x="306.2" y="484.1" font-size="7.6" textLength="114.8" lengthAdjust="spacingAndGlyphs">Cross-presentation of endosomes</text>
<text x="306.2" y="491.9" font-size="7.6">Antigen processing-cross presentation</text>
<text x="306.2" y="499.7" font-size="7.6" textLength="147.1" lengthAdjust="spacingAndGlyphs">MHC-I antigen processing and presentation</text>
<text x="306.2" y="507.5" font-size="7.6">Adaptive immune system</text>
<text x="306.2" y="515.3" font-size="7.6">Immune system</text>
<text x="306.2" y="523.1" font-size="7.6">IL-4 and -13 signaling</text>
<text x="306.2" y="530.9" font-size="7.6">Platelet degranulation</text>
<text x="306.2" y="538.7" font-size="7.6">IL-1 signaling</text>
<text x="306.2" y="546.5" font-size="7.6">Phase II conjugation</text>
<text x="306.2" y="554.3" font-size="7.6">Costimulation by the CD28 family</text>
<text x="306.2" y="562.1" font-size="7.6">Cytokine signaling in immune system</text>
<text x="306.2" y="569.9" font-size="7.6">TNFR2 noncanonical NF-κB pathway</text>
<text x="306.2" y="577.7" font-size="7.6">Neutrophil degranulation</text>
<text x="306.2" y="585.5" font-size="7.6">Biological oxidations</text>
<text x="306.2" y="593.3" font-size="7.6">p75 NTR receptor-mediated signaling</text>
<text x="306.2" y="601.1" font-size="7.6">Innate immune system</text>
<text x="306.2" y="608.9" font-size="7.6">Pre-NOTCH expression and processing</text>
<text x="306.2" y="616.7" font-size="7.6">NOTCH1 PEST domain mutants in cancer</text>
<text x="306.2" y="624.5" font-size="7.6">Signaling by NOTCH1 in cancer</text>
<text x="306.2" y="632.3" font-size="7.6">Constitutive signaling by NOTCH1 PEST mutants</text>
<text x="306.2" y="640.1" font-size="7.6" textLength="172.1" lengthAdjust="spacingAndGlyphs">Signaling by NOTCH1 HD + PEST mutants in cancer</text>
<text x="306.2" y="647.9" font-size="7.6" textLength="180.6" lengthAdjust="spacingAndGlyphs">Constitutive signaling by NOTCH1 HD + PEST mutants</text>
<text x="306.2" y="655.7" font-size="7.6">Signaling by NOTCH1</text>
<text x="306.2" y="663.5" font-size="7.6">Signaling by NOTCH</text>
<text x="274.8" y="473.6" font-size="8.6" textLength="88.5" lengthAdjust="spacingAndGlyphs">GSEA: M2 polarization</text>
<text x="278.7" y="437.0" font-size="7.2" textLength="26.2" lengthAdjust="spacingAndGlyphs" transform="rotate(-90 278.7 437.0)">Factor 4</text>
<text x="290.5" y="437.0" font-size="7.2" textLength="26.2" lengthAdjust="spacingAndGlyphs" transform="rotate(-90 290.5 437.0)">Factor 1</text>
<text x="302.3" y="437.0" font-size="7.2" textLength="26.2" lengthAdjust="spacingAndGlyphs" transform="rotate(-90 302.3 437.0)">Factor 7</text>
<text x="278.2" y="696.2" font-size="7.2" textLength="26.2" lengthAdjust="spacingAndGlyphs" transform="rotate(-90 278.2 696.2)">Factor 7</text>
<text x="290.0" y="696.2" font-size="7.2" textLength="26.2" lengthAdjust="spacingAndGlyphs" transform="rotate(-90 290.0 696.2)">Factor 5</text>
<text x="301.8" y="696.2" font-size="7.2" textLength="26.2" lengthAdjust="spacingAndGlyphs" transform="rotate(-90 301.8 696.2)">Factor 3</text>
<text x="319.9" y="418.0" font-size="7.2">–log<tspan font-size="4.5" dy="1.5">10</tspan><tspan dy="-1.5">(</tspan><tspan font-style="italic">P</tspan>adj)</text>
<rect x="325.00" y="423.50" width="27.50" height="5.80" fill="url(#g7)" stroke="#999" stroke-width="0.3"/>
<line x1="334.2" y1="423.5" x2="334.2" y2="424.7" stroke="#333" stroke-width="0.4" />
<line x1="343.3" y1="423.5" x2="343.3" y2="424.7" stroke="#333" stroke-width="0.4" />
<text x="322.5" y="437.0" font-size="7.2" fill="#333">15</text>
<text x="332.0" y="437.0" font-size="7.2" fill="#333">10</text>
<text x="342.5" y="437.0" font-size="7.2" fill="#333">5</text>
<text x="351.5" y="437.0" font-size="7.2" fill="#333">0</text>
<text x="319.2" y="681.0" font-size="7.2">–log<tspan font-size="4.5" dy="1.5">10</tspan><tspan dy="-1.5">(</tspan><tspan font-style="italic">P</tspan>adj)</text>
<rect x="324.00" y="684.80" width="27.50" height="5.80" fill="url(#g8)" stroke="#999" stroke-width="0.3"/>
<line x1="333.2" y1="684.8" x2="333.2" y2="686.0" stroke="#333" stroke-width="0.4" />
<line x1="342.3" y1="684.8" x2="342.3" y2="686.0" stroke="#333" stroke-width="0.4" />
<text x="321.5" y="699.4" font-size="7.2" fill="#333">15</text>
<text x="331.0" y="699.4" font-size="7.2" fill="#333">10</text>
<text x="341.5" y="699.4" font-size="7.2" fill="#333">5</text>
<text x="350.5" y="699.4" font-size="7.2" fill="#333">0</text>
<text x="527.7" y="196.6" font-size="8.8" textLength="59.5" lengthAdjust="spacingAndGlyphs">M1 polarization</text>
<rect x="510.80" y="200.00" width="93.50" height="7.00" fill="url(#g12)" />
<rect x="510.80" y="208.00" width="93.50" height="4.50" fill="url(#g13)" />
<rect x="510.80" y="212.00" width="93.50" height="6.50" fill="url(#g14)" />
<rect x="510.80" y="218.00" width="93.50" height="8.50" fill="url(#g15)" />
<rect x="510.80" y="226.00" width="93.50" height="7.50" fill="url(#g16)" />
<rect x="510.80" y="233.00" width="93.50" height="7.80" fill="url(#g17)" />
<rect x="510.80" y="240.30" width="93.50" height="3.50" fill="url(#g18)" />
<rect x="510.80" y="208.00" width="93.50" height="35.30" fill="url(#g9)" opacity="0.9"/>
<rect x="510.80" y="208.00" width="93.50" height="35.30" fill="none" stroke="#333" stroke-width="0.7"/>
<rect x="510.80" y="246.00" width="93.50" height="6.20" fill="url(#g19)" />
<rect x="510.80" y="246.00" width="93.50" height="6.20" fill="none" stroke="#555" stroke-width="0.5"/>
<text x="513.0" y="260.2" font-size="7.6" textLength="71.8" lengthAdjust="spacingAndGlyphs">Early response factor</text>
<path d="M510.8 210.0H504.8V213.5H510.8M504.8 211.8H502.6V217.0H510.8M502.6 214.4H502.2V220.5H510.8M510.8 227.5H504.1V231.0H510.8M510.8 224.0H503.7V229.2H504.1M502.2 217.4H499.3V226.6H503.7M510.8 234.5H504.3V238.0H510.8M504.3 236.2H503.9V241.5H510.8M499.3 222.0H498.6V238.9H503.9" fill="none" stroke="#555" stroke-width="0.5"/>
<text x="607.3" y="205.3" font-size="5.6" textLength="25.9" lengthAdjust="spacingAndGlyphs">Time point</text>
<text x="607.3" y="211.3" font-size="4.6" fill="#333">STAT2</text>
<text x="607.3" y="214.9" font-size="4.6" fill="#333">STAT4</text>
<text x="607.3" y="218.5" font-size="4.6" fill="#333">STAT1.0</text>
<text x="607.3" y="222.1" font-size="4.6" fill="#333">REL</text>
<text x="607.3" y="225.7" font-size="4.6" fill="#333">RELA</text>
<text x="607.3" y="229.3" font-size="4.6" fill="#333">NFKB1</text>
<text x="607.3" y="232.9" font-size="4.6" fill="#333">NFKB2</text>
<text x="607.3" y="236.5" font-size="4.6" fill="#333">TFX3</text>
<text x="607.3" y="240.1" font-size="4.6" fill="#333">RELB</text>
<text x="607.3" y="243.7" font-size="4.6" fill="#333">STAT1.1</text>
<svg x="0" y="0" width="685" height="712" overflow="hidden">
<text x="638.6" y="210.7" font-size="7.6" textLength="47.5" lengthAdjust="spacingAndGlyphs">Factor weight</text>
<rect x="638.20" y="216.00" width="5.80" height="29.10" fill="url(#g20)" />
<text x="647.4" y="220.2" font-size="7.4" fill="#333">4</text>
<text x="647.4" y="226.4" font-size="7.4" fill="#333">2</text>
<text x="647.4" y="233.3" font-size="7.4" fill="#333">0</text>
<text x="647.4" y="240.1" font-size="7.4" fill="#333">−2</text>
<text x="647.4" y="247.0" font-size="7.4" fill="#333">−4</text>
</svg>
<rect x="512.20" y="269.40" width="89.10" height="7.50" fill="url(#g21)" />
<rect x="512.20" y="278.10" width="89.10" height="6.10" fill="url(#g22)" />
<rect x="512.20" y="283.70" width="89.10" height="8.30" fill="url(#g23)" />
<rect x="512.20" y="291.50" width="89.10" height="9.00" fill="url(#g24)" />
<rect x="512.20" y="300.00" width="89.10" height="6.50" fill="url(#g25)" />
<rect x="512.20" y="306.00" width="89.10" height="9.50" fill="url(#g26)" />
<rect x="512.20" y="315.00" width="89.10" height="10.00" fill="url(#g27)" />
<rect x="512.20" y="324.50" width="89.10" height="8.00" fill="url(#g28)" />
<rect x="512.20" y="332.00" width="89.10" height="8.50" fill="url(#g29)" />
<rect x="512.20" y="340.00" width="89.10" height="9.50" fill="url(#g30)" />
<rect x="512.20" y="349.00" width="89.10" height="8.50" fill="url(#g31)" />
<rect x="512.20" y="357.00" width="89.10" height="8.50" fill="url(#g32)" />
<rect x="512.20" y="365.00" width="89.10" height="9.50" fill="url(#g33)" />
<rect x="512.20" y="374.00" width="89.10" height="2.70" fill="url(#g34)" />
<rect x="512.20" y="376.20" width="89.10" height="8.30" fill="url(#g35)" />
<rect x="512.20" y="384.00" width="89.10" height="9.50" fill="url(#g36)" />
<rect x="512.20" y="393.00" width="89.10" height="9.50" fill="url(#g37)" />
<rect x="512.20" y="402.00" width="89.10" height="1.30" fill="url(#g38)" />
<rect x="512.20" y="402.80" width="89.10" height="10.70" fill="url(#g39)" />
<rect x="512.20" y="413.00" width="89.10" height="11.00" fill="url(#g40)" />
<rect x="512.20" y="300.00" width="89.10" height="123.50" fill="#a0a050" opacity="0.12"/>
<rect x="512.20" y="278.10" width="89.10" height="145.40" fill="url(#g10)" opacity="0.8"/>
<rect x="512.20" y="278.10" width="89.10" height="145.40" fill="url(#g11)" />
<rect x="512.20" y="278.10" width="89.10" height="145.40" fill="none" stroke="#333" stroke-width="0.6"/>
<rect x="512.20" y="426.90" width="89.10" height="7.20" fill="url(#g41)" />
<rect x="512.20" y="426.90" width="89.10" height="7.20" fill="none" stroke="#666" stroke-width="0.5"/>
<text x="511.4" y="442.5" font-size="7.6" textLength="88.3" lengthAdjust="spacingAndGlyphs">Sustained response factor</text>
<path d="M512.2 279.0H506.8V280.8H512.2M512.2 284.4H506.8V286.3H512.2M512.2 282.6H506.3V285.4H506.8M506.8 279.9H505.8V284.0H506.3M512.2 288.1H506.5V289.9H512.2M506.5 289.0H506.1V291.7H512.2M512.2 293.5H506.5V295.3H512.2M506.1 290.4H505.6V294.4H506.5M505.8 282.0H504.2V292.4H505.6M512.2 297.2H506.6V299.0H512.2M512.2 300.8H506.5V302.6H512.2M506.6 298.1H505.6V301.7H506.5M512.2 304.4H506.4V306.2H512.2M512.2 308.1H506.4V309.9H512.2M512.2 311.7H506.7V313.5H512.2M506.4 309.0H505.6V312.6H506.7M506.4 305.3H505.0V310.8H505.6M505.6 299.9H504.1V308.1H505.0M504.2 287.2H502.9V304.0H504.1M512.2 315.3H506.8V317.1H512.2M512.2 319.0H506.5V320.8H512.2M506.8 316.2H505.6V319.9H506.5M512.2 324.4H506.6V326.2H512.2M506.6 325.3H506.2V328.0H512.2M512.2 322.6H505.8V326.7H506.2M505.6 318.1H505.1V324.6H505.8M512.2 329.9H506.7V331.7H512.2M512.2 335.3H506.5V337.1H512.2M512.2 333.5H506.1V336.2H506.5M506.7 330.8H505.3V334.9H506.1M512.2 340.8H506.8V342.6H512.2M512.2 338.9H506.3V341.7H506.8M505.3 332.8H504.9V340.3H506.3M505.1 321.3H503.3V336.6H504.9M512.2 344.4H506.7V346.2H512.2M512.2 348.0H506.6V349.8H512.2M512.2 351.7H506.7V353.5H512.2M506.6 348.9H505.7V352.6H506.7M506.7 345.3H505.3V350.8H505.7M512.2 355.3H506.8V357.1H512.2M506.8 356.2H506.2V358.9H512.2M512.2 360.7H506.8V362.6H512.2M512.2 364.4H506.7V366.2H512.2M506.8 361.6H506.2V365.3H506.7M506.2 357.6H505.1V363.5H506.2M505.3 348.0H503.6V360.5H505.1M503.3 329.0H502.2V354.3H503.6M512.2 368.0H506.8V369.8H512.2M506.8 368.9H506.0V371.6H512.2M512.2 373.5H506.8V375.3H512.2M506.0 370.3H505.6V374.4H506.8M512.2 377.1H506.7V378.9H512.2M512.2 380.7H506.6V382.5H512.2M506.7 378.0H505.6V381.6H506.6M512.2 384.4H506.7V386.2H512.2M506.7 385.3H506.2V388.0H512.2M505.6 379.8H505.1V386.6H506.2M512.2 391.6H506.5V393.4H512.2M512.2 389.8H506.1V392.5H506.5M506.1 391.2H505.7V395.3H512.2M505.1 383.2H503.9V393.2H505.7M505.6 372.3H503.0V388.2H503.9M512.2 397.1H506.5V398.9H512.2M512.2 400.7H506.5V402.5H512.2M506.5 398.0H505.6V401.6H506.5M512.2 404.3H506.5V406.2H512.2M505.6 399.8H505.0V405.2H506.5M512.2 409.8H506.7V411.6H512.2M512.2 408.0H506.1V410.7H506.7M512.2 413.4H506.7V415.2H512.2M506.1 409.3H505.7V414.3H506.7M505.0 402.5H503.7V411.8H505.7M512.2 418.9H506.6V420.7H512.2M506.6 419.8H506.1V422.5H512.2M512.2 417.1H505.7V421.1H506.1M503.7 407.2H502.9V419.1H505.7M503.0 380.3H501.7V413.1H502.9M502.2 341.6H497.7V396.7H501.7M502.9 295.6H496.3V369.2H497.7" fill="none" stroke="#4a4a4a" stroke-width="0.5"/>
<line x1="511.0" y1="253.0" x2="511.8" y2="269.0" stroke="#222" stroke-width="0.8" stroke-dasharray="2.2 1.6"/>
<line x1="604.3" y1="253.0" x2="556.0" y2="269.0" stroke="#222" stroke-width="0.8" stroke-dasharray="2.2 1.6"/>
<text x="603.5" y="275.3" font-size="5.6" textLength="25.9" lengthAdjust="spacingAndGlyphs">Time point</text>
<text x="611.8" y="283.1" font-size="5.2" fill="#333">NFKB2</text>
<text x="611.8" y="288.8" font-size="5.2" fill="#333">IRF5</text>
<text x="611.8" y="294.6" font-size="5.2" fill="#333">IRF9</text>
<text x="611.8" y="300.5" font-size="5.2" fill="#333">STAT2</text>
<text x="611.8" y="306.4" font-size="5.2" fill="#333">STAT1.1</text>
<text x="611.8" y="312.3" font-size="5.2" fill="#333">IRF3</text>
<text x="611.8" y="318.0" font-size="5.2" fill="#333">SNAI3</text>
<text x="611.8" y="323.9" font-size="5.2" fill="#333">ZN135</text>
<text x="611.8" y="332.8" font-size="5.2" fill="#333">CEBPB</text>
<text x="611.8" y="339.6" font-size="5.2" fill="#333">RXRG</text>
<text x="611.8" y="360.5" font-size="5.2" fill="#333">FOS</text>
<text x="611.8" y="366.4" font-size="5.2" fill="#333">JUN</text>
<text x="611.8" y="375.0" font-size="5.2" fill="#333">STAT1.0</text>
<text x="611.8" y="382.6" font-size="5.2" fill="#333">MAFA</text>
<text x="611.8" y="388.1" font-size="5.2" fill="#333">MAFF</text>
<text x="611.8" y="394.0" font-size="5.2" fill="#333">MAFK</text>
<text x="611.8" y="400.2" font-size="5.2" fill="#333">MAFG</text>
<text x="611.8" y="405.8" font-size="5.2" fill="#333">MAF</text>
<text x="611.8" y="412.0" font-size="5.2" fill="#333">MAFB</text>
<text x="611.8" y="417.7" font-size="5.2" fill="#333">SPI1</text>
<text x="611.8" y="423.6" font-size="5.2" fill="#333">ETV3</text>
<path d="M603.5 281.3H608.5M603.5 286.5C606 286.5 606 287 608.5 287M603.5 292C606 293 606 292.5 608.5 292.8M603.5 292.5C606 294 605.5 298 608.5 298.7M603.5 292.5C606 294 605.5 304 608.5 304.6M603.5 292.5C606 294 605.5 310 608.5 310.5M603.5 312C606 312 605 316 608.5 316.2M603.5 319C606 319 606 322 608.5 322.1M603.5 331H608.5M603.5 337.8H608.5M603.5 360C606 358 606 358.7 608.5 358.7M603.5 362C606 364 606 364.6 608.5 364.6M603.5 373.2H608.5M603.5 393C606 393 605 381 608.5 380.8M603.5 393C606 393 605 386 608.5 386.3M603.5 393C606 393 606 392.2 608.5 392.2M603.5 398H608.5M603.5 400C606 400 605 404 608.5 404M603.5 400C606 400 605 410 608.5 410.2M603.5 400C606 400 605 416 608.5 415.9M603.5 400C606 400 605 422 608.5 421.8" fill="none" stroke="#333" stroke-width="0.5"/>
<text x="638.4" y="280.8" font-size="7.6" textLength="35.4" lengthAdjust="spacingAndGlyphs">Time point</text>
<rect x="638.40" y="284.50" width="5.50" height="4.90" fill="#38c4ee" />
<text x="646.9" y="288.8" font-size="7.6" fill="#333">0 h</text>
<rect x="638.40" y="291.70" width="5.50" height="4.90" fill="#c6ea93" />
<text x="646.9" y="296.0" font-size="7.6" fill="#333">1 h</text>
<rect x="638.40" y="298.90" width="5.50" height="4.90" fill="#6dbf8f" />
<text x="646.9" y="303.2" font-size="7.6" fill="#333">6 h</text>
<rect x="638.40" y="306.10" width="5.50" height="4.90" fill="#2e8a80" />
<text x="646.9" y="310.4" font-size="7.6" fill="#333">10 h</text>
<rect x="638.40" y="313.30" width="5.50" height="4.90" fill="#0e3f5d" />
<text x="646.9" y="317.6" font-size="7.6" fill="#333">24 h</text>
<text x="638.4" y="327.8" font-size="7.6" textLength="35.4" lengthAdjust="spacingAndGlyphs">chromVAR</text>
<text x="638.4" y="335.7" font-size="7.6"><tspan font-style="italic">z</tspan> score</text>
<rect x="638.40" y="341.60" width="5.50" height="30.70" fill="url(#g42)" />
<text x="646.9" y="344.2" font-size="7.6" fill="#333">1.0</text>
<text x="646.9" y="358.0" font-size="7.6" fill="#333">0.5</text>
<text x="646.9" y="373.0" font-size="7.6" fill="#333">0</text>
<svg x="0" y="0" width="685" height="712" overflow="hidden">
<text x="638.4" y="382.6" font-size="7.6" textLength="47.5" lengthAdjust="spacingAndGlyphs">Factor weight</text>
</svg>
<rect x="638.40" y="388.10" width="5.50" height="37.90" fill="url(#g43)" />
<text x="646.9" y="390.7" font-size="7.4" fill="#333">3</text>
<text x="646.9" y="398.0" font-size="7.4" fill="#333">2</text>
<text x="646.9" y="405.2" font-size="7.4" fill="#333">1</text>
<text x="646.9" y="412.0" font-size="7.4" fill="#333">0</text>
<text x="646.9" y="419.0" font-size="7.4" fill="#333">−1</text>
<text x="646.9" y="426.5" font-size="7.4" fill="#333">−2</text>
<text x="529.0" y="468.5" font-size="8.8" textLength="60.7" lengthAdjust="spacingAndGlyphs">M2 polarization</text>
<rect x="510.40" y="471.40" width="93.50" height="6.60" fill="url(#g44)" />
<rect x="510.40" y="479.00" width="93.50" height="4.00" fill="url(#g45)" />
<rect x="510.40" y="482.50" width="93.50" height="4.30" fill="url(#g46)" />
<rect x="510.40" y="486.30" width="93.50" height="4.20" fill="url(#g47)" />
<rect x="510.40" y="490.00" width="93.50" height="7.50" fill="url(#g48)" />
<rect x="510.40" y="497.00" width="93.50" height="7.10" fill="url(#g49)" />
<rect x="510.40" y="479.00" width="93.50" height="24.60" fill="url(#g9)" opacity="1"/>
<rect x="510.40" y="479.00" width="93.50" height="24.60" fill="none" stroke="#333" stroke-width="0.7"/>
<rect x="510.40" y="505.50" width="93.50" height="6.20" fill="url(#g50)" />
<rect x="510.40" y="505.50" width="93.50" height="6.20" fill="none" stroke="#555" stroke-width="0.5"/>
<text x="514.5" y="518.7" font-size="7.6" textLength="71.8" lengthAdjust="spacingAndGlyphs">Early response factor</text>
<path d="M510.4 480.5H503.9V484.2H510.4M510.4 491.5H503.1V495.2H510.4M510.4 487.8H502.7V493.3H503.1M510.4 498.8H504.1V502.5H510.4M502.7 490.6H501.0V500.7H504.1M503.9 482.3H498.6V495.6H501.0" fill="none" stroke="#555" stroke-width="0.5"/>
<text x="606.6" y="475.5" font-size="5.6" textLength="25.9" lengthAdjust="spacingAndGlyphs">Time point</text>
<text x="607.0" y="482.3" font-size="4.6" fill="#333">STAT6</text>
<text x="607.0" y="486.1" font-size="4.6" fill="#333">STAT5B</text>
<text x="607.0" y="489.9" font-size="4.6" fill="#333">SPI6</text>
<text x="607.0" y="493.7" font-size="4.6" fill="#333">SNAI1</text>
<text x="607.0" y="497.5" font-size="4.6" fill="#333">SNAI2</text>
<text x="607.0" y="501.3" font-size="4.6" fill="#333">SNAI3</text>
<line x1="510.4" y1="512.0" x2="511.4" y2="531.4" stroke="#222" stroke-width="0.8" stroke-dasharray="2.2 1.6"/>
<line x1="603.9" y1="513.5" x2="548.7" y2="531.4" stroke="#222" stroke-width="0.8" stroke-dasharray="2.2 1.6"/>
<rect x="511.50" y="531.40" width="89.70" height="7.40" fill="url(#g51)" />
<text x="603.2" y="537.7" font-size="5.6" textLength="25.9" lengthAdjust="spacingAndGlyphs">Time point</text>
<rect x="511.50" y="540.50" width="89.70" height="8.00" fill="url(#g52)" />
<rect x="511.50" y="548.00" width="89.70" height="9.00" fill="url(#g53)" />
<rect x="511.50" y="556.50" width="89.70" height="1.50" fill="url(#g54)" />
<rect x="511.50" y="557.50" width="89.70" height="11.00" fill="url(#g55)" />
<rect x="511.50" y="568.00" width="89.70" height="11.50" fill="url(#g56)" />
<rect x="511.50" y="579.00" width="89.70" height="11.50" fill="url(#g57)" />
<rect x="511.50" y="590.00" width="89.70" height="13.50" fill="url(#g58)" />
<rect x="511.50" y="603.00" width="89.70" height="13.50" fill="url(#g59)" />
<rect x="511.50" y="616.00" width="89.70" height="12.50" fill="url(#g60)" />
<rect x="511.50" y="628.00" width="89.70" height="14.50" fill="url(#g61)" />
<rect x="511.50" y="642.00" width="89.70" height="3.50" fill="url(#g62)" />
<rect x="511.50" y="645.00" width="89.70" height="11.50" fill="url(#g63)" />
<rect x="511.50" y="656.00" width="89.70" height="12.50" fill="url(#g64)" />
<rect x="511.50" y="668.00" width="89.70" height="10.50" fill="url(#g65)" />
<rect x="511.50" y="678.00" width="89.70" height="4.50" fill="url(#g66)" />
<rect x="511.50" y="682.00" width="89.70" height="10.00" fill="url(#g67)" />
<rect x="511.50" y="540.50" width="89.70" height="137.00" fill="#a0a050" opacity="0.16"/>
<rect x="511.50" y="540.50" width="89.70" height="151.00" fill="url(#g10)" opacity="0.9"/>
<rect x="511.50" y="540.50" width="89.70" height="151.00" fill="url(#g11)" />
<rect x="511.50" y="540.50" width="89.70" height="151.00" fill="none" stroke="#333" stroke-width="0.6"/>
<rect x="511.50" y="694.80" width="89.70" height="7.20" fill="url(#g68)" />
<rect x="511.50" y="694.80" width="89.70" height="7.20" fill="none" stroke="#666" stroke-width="0.5"/>
<text x="509.2" y="709.3" font-size="7.6" textLength="94.5" lengthAdjust="spacingAndGlyphs">Sustained response factor II</text>
<path d="M511.5 541.5H505.9V543.3H511.5M511.5 545.1H506.2V546.9H511.5M511.5 548.7H505.8V550.5H511.5M506.2 546.0H505.4V549.6H505.8M505.9 542.4H504.4V547.8H505.4M511.5 552.3H505.9V554.1H511.5M511.5 557.7H506.1V559.5H511.5M511.5 555.9H505.5V558.6H506.1M511.5 563.0H506.0V564.8H511.5M511.5 561.2H505.6V563.9H506.0M505.5 557.2H505.0V562.6H505.6M505.9 553.2H504.6V559.9H505.0M511.5 566.6H506.1V568.4H511.5M506.1 567.5H505.4V570.2H511.5M504.6 556.5H503.5V568.9H505.4M504.4 545.1H503.1V562.7H503.5M511.5 572.0H506.0V573.8H511.5M506.0 572.9H505.4V575.6H511.5M511.5 579.2H505.9V581.0H511.5M511.5 577.4H505.5V580.1H505.9M511.5 582.8H505.8V584.6H511.5M505.5 578.8H505.1V583.7H505.8M505.4 574.3H504.0V581.2H505.1M511.5 588.2H506.0V590.0H511.5M511.5 586.4H505.6V589.1H506.0M511.5 591.8H506.1V593.6H511.5M505.6 587.7H504.6V592.7H506.1M511.5 597.2H505.9V598.9H511.5M511.5 595.4H505.3V598.0H505.9M504.6 590.2H504.2V596.7H505.3M504.0 577.7H503.3V593.4H504.2M503.1 553.9H499.5V585.6H503.3M511.5 600.7H506.1V602.5H511.5M506.1 601.6H505.7V604.3H511.5M511.5 606.1H506.1V607.9H511.5M505.7 603.0H504.8V607.0H506.1M511.5 609.7H505.8V611.5H511.5M505.8 610.6H505.4V613.3H511.5M504.8 605.0H504.4V612.0H505.4M511.5 615.1H506.2V616.9H511.5M511.5 620.5H505.9V622.3H511.5M511.5 618.7H505.5V621.4H505.9M506.2 616.0H504.9V620.0H505.5M504.4 608.5H502.6V618.0H504.9M511.5 624.1H505.8V625.9H511.5M511.5 627.7H505.8V629.5H511.5M505.8 628.6H505.4V631.3H511.5M505.8 625.0H505.0V629.9H505.4M511.5 633.1H505.8V634.8H511.5M505.0 627.4H504.1V634.0H505.8M511.5 638.4H506.0V640.2H511.5M511.5 636.6H505.6V639.3H506.0M504.1 630.7H503.4V638.0H505.6M511.5 642.0H505.8V643.8H511.5M511.5 645.6H506.1V647.4H511.5M505.8 642.9H505.2V646.5H506.1M511.5 649.2H505.8V651.0H511.5M511.5 654.6H505.9V656.4H511.5M511.5 652.8H505.5V655.5H505.9M505.8 650.1H505.1V654.1H505.5M505.2 644.7H503.6V652.1H505.1M503.4 634.3H502.7V648.4H503.6M511.5 658.2H505.8V660.0H511.5M505.8 659.1H505.4V661.8H511.5M511.5 665.4H505.9V667.2H511.5M505.9 666.3H505.5V669.0H511.5M511.5 663.6H505.1V667.6H505.5M505.4 660.4H504.7V665.6H505.1M511.5 672.5H506.0V674.3H511.5M511.5 670.8H505.6V673.4H506.0M511.5 676.1H505.8V677.9H511.5M505.6 672.1H505.2V677.0H505.8M504.7 663.0H503.1V674.6H505.2M511.5 679.7H505.9V681.5H511.5M511.5 685.1H506.0V686.9H511.5M511.5 683.3H505.4V686.0H506.0M511.5 688.7H505.8V690.5H511.5M505.4 684.7H504.6V689.6H505.8M505.9 680.6H504.1V687.1H504.6M503.1 668.8H502.2V683.9H504.1M502.7 641.4H499.5V676.3H502.2M502.6 613.3H499.1V658.9H499.5M499.5 569.7H494.0V636.1H499.1" fill="none" stroke="#4a4a4a" stroke-width="0.5"/>
<text x="611.0" y="557.3" font-size="5.2" fill="#333">SPIB</text>
<text x="611.0" y="563.2" font-size="5.2" fill="#333">ETV6</text>
<text x="611.0" y="569.4" font-size="5.2" fill="#333">ETV3</text>
<text x="611.0" y="577.3" font-size="5.2" fill="#333">NFYC</text>
<text x="611.0" y="583.4" font-size="5.2" fill="#333">NFYA</text>
<text x="611.0" y="589.3" font-size="5.2" fill="#333">NFYB</text>
<text x="611.0" y="594.8" font-size="5.2" fill="#333">PPARG</text>
<text x="611.0" y="603.3" font-size="5.2" fill="#333">PPARA</text>
<text x="611.0" y="627.3" font-size="5.2" fill="#333">SNAI1</text>
<text x="611.0" y="633.4" font-size="5.2" fill="#333">SNAI2</text>
<text x="611.0" y="640.0" font-size="5.2" fill="#333">SNAI3</text>
<text x="611.0" y="645.6" font-size="5.2" fill="#333">BACH2</text>
<text x="611.0" y="652.0" font-size="5.2" fill="#333">BACH1</text>
<text x="611.0" y="683.1" font-size="5.2" fill="#333">IRF4</text>
<text x="611.0" y="689.5" font-size="5.2" fill="#333">IRF4</text>
<path d="M603.5 560C605.5 560 606 556 608.5 555.5M603.5 559.5C606 560 606 561.5 608.5 561.5M603.5 567.6H608.5M603.5 582C606 582 605 576 608.5 575.6M603.5 582H608.5M603.5 583C606 584 605 588 608.5 587.6M603.5 597C606 596 605 593 608.5 593M603.5 597C606 598 605 601.5 608.5 601.6M603.5 633C606 633 605 626 608.5 625.6M603.5 633C606 632 606 631.7 608.5 631.7M603.5 635C606 636 605 638 608.5 638.3M603.5 644H608.5M603.5 645C606 645 605 650 608.5 650.3M603.5 681.4H608.5M603.5 686C606 686 606 687.8 608.5 687.8" fill="none" stroke="#333" stroke-width="0.5"/>
<text x="638.4" y="549.2" font-size="7.6" textLength="35.4" lengthAdjust="spacingAndGlyphs">Time point</text>
<rect x="638.40" y="553.10" width="5.50" height="4.90" fill="#38c4ee" />
<text x="646.9" y="557.5" font-size="7.6" fill="#333">0 h</text>
<rect x="638.40" y="560.50" width="5.50" height="4.90" fill="#fcd27a" />
<text x="646.9" y="564.9" font-size="7.6" fill="#333">1 h</text>
<rect x="638.40" y="567.90" width="5.50" height="4.90" fill="#f8987a" />
<text x="646.9" y="572.3" font-size="7.6" fill="#333">6 h</text>
<rect x="638.40" y="575.30" width="5.50" height="4.90" fill="#9b5a9b" />
<text x="646.9" y="579.7" font-size="7.6" fill="#333">10 h</text>
<rect x="638.40" y="582.70" width="5.50" height="4.90" fill="#3c3a7c" />
<text x="646.9" y="587.1" font-size="7.6" fill="#333">24 h</text>
<text x="638.4" y="598.3" font-size="7.6" textLength="35.4" lengthAdjust="spacingAndGlyphs">chromVAR</text>
<text x="638.4" y="606.0" font-size="7.6">z score</text>
<rect x="638.60" y="612.30" width="6.00" height="30.30" fill="url(#g69)" />
<text x="646.7" y="614.5" font-size="7.6" fill="#333">1.0</text>
<text x="646.7" y="629.3" font-size="7.6" fill="#333">0.5</text>
<text x="646.7" y="642.9" font-size="7.6" fill="#333">0</text>
<svg x="0" y="0" width="685" height="712" overflow="hidden">
<text x="637.9" y="654.5" font-size="7.6" textLength="47.5" lengthAdjust="spacingAndGlyphs">Factor weight</text>
</svg>
<rect x="639.30" y="661.30" width="6.10" height="28.60" fill="url(#g70)" />
<text x="646.7" y="663.3" font-size="7.4" fill="#333">4</text>
<text x="646.7" y="670.1" font-size="7.4" fill="#333">2</text>
<text x="646.7" y="676.3" font-size="7.4" fill="#333">0</text>
<text x="646.7" y="683.1" font-size="7.4" fill="#333">−2</text>
<text x="646.7" y="690.6" font-size="7.4" fill="#333">−4</text></svg>
</body></html>
